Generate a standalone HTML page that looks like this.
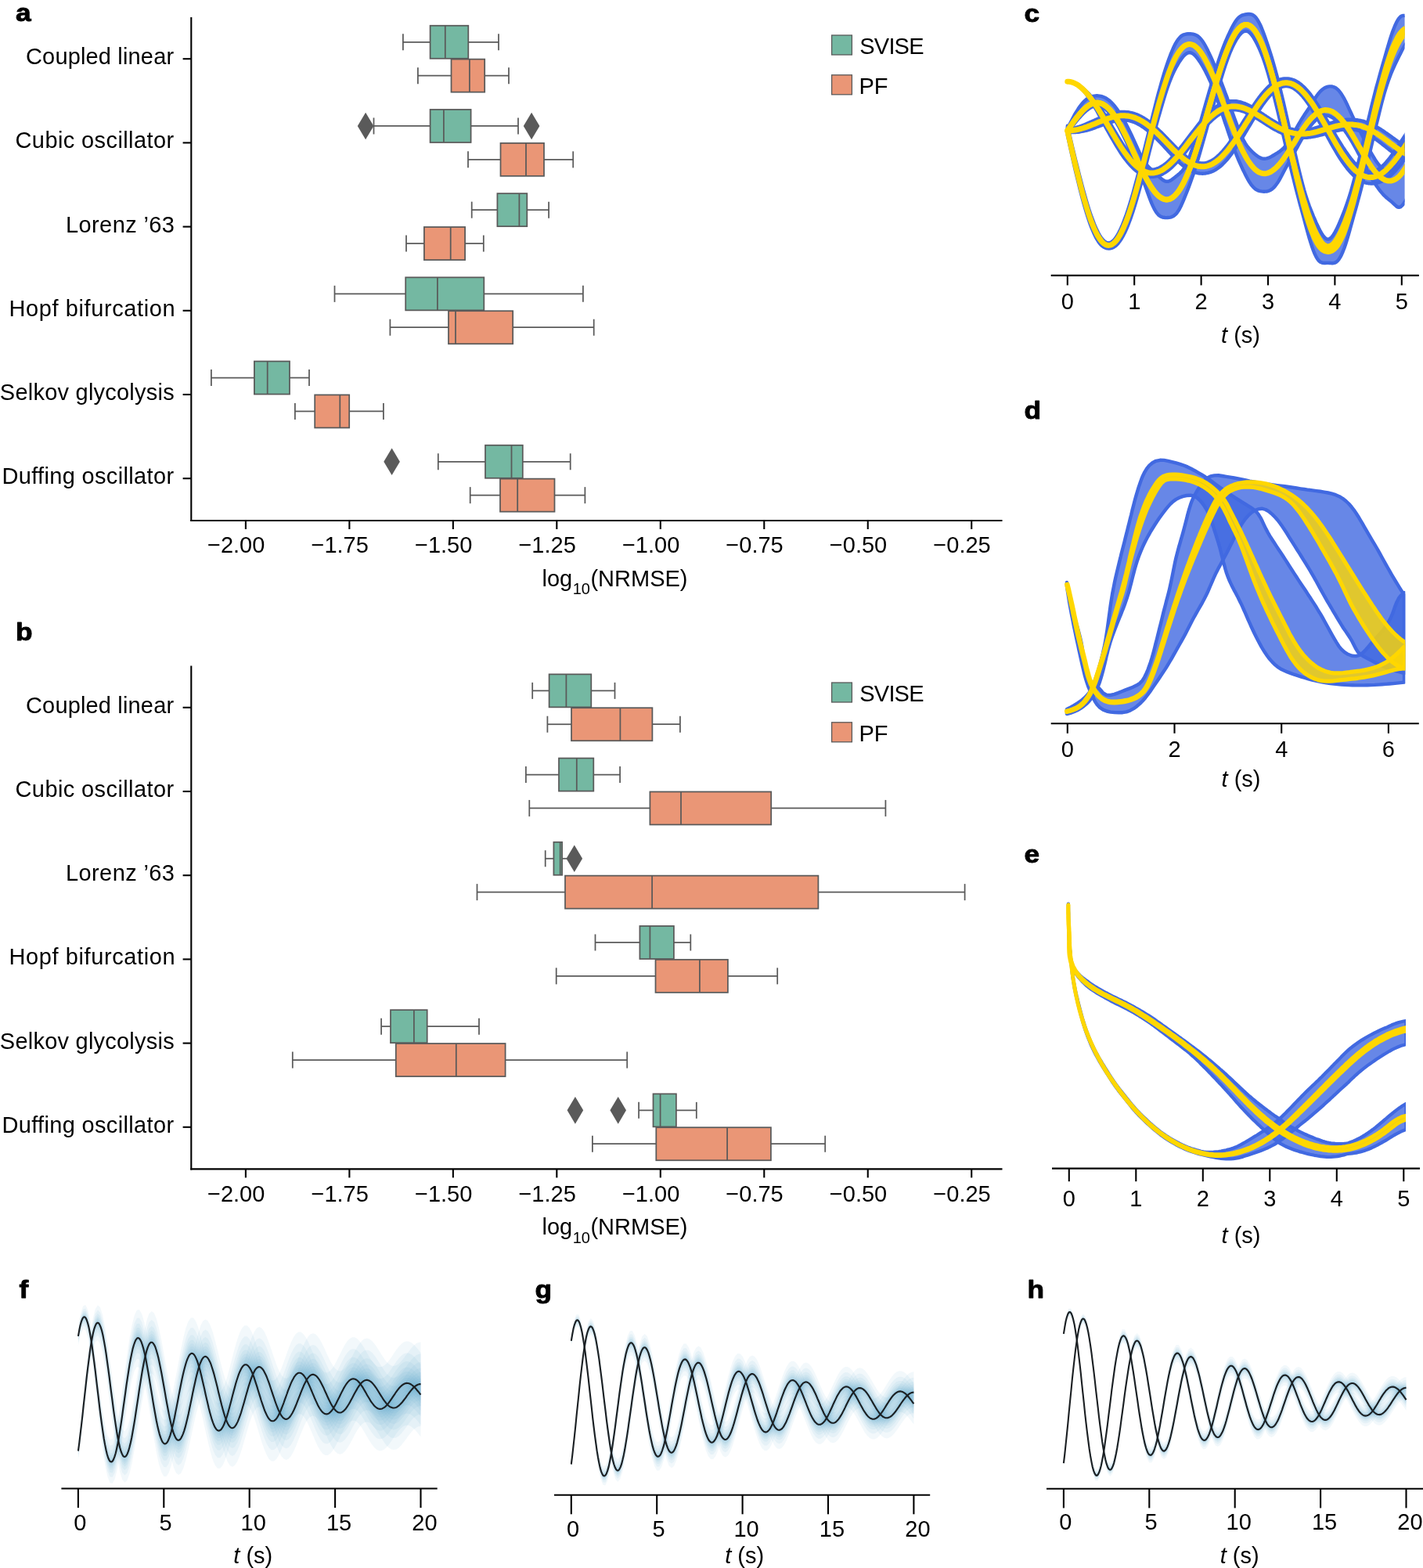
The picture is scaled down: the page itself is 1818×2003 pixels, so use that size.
<!DOCTYPE html>
<html lang="en">
<head>
<meta charset="utf-8">
<title>Figure: SVISE vs PF state estimation benchmarks</title>
<style>
html,body{margin:0;padding:0;background:#fff;}
body{width:1818px;height:2003px;overflow:hidden;}
svg{display:block;}
svg text{font-family:"Liberation Sans", sans-serif;fill:#000;}
</style>
</head>
<body>
<svg width="1818" height="2003" viewBox="0 0 1818 2003">
<rect x="0" y="0" width="1818" height="2003" fill="#ffffff"/>
<g id="panel-a">
<line x1="244.30" y1="22.00" x2="244.30" y2="666.05" stroke="#000" stroke-width="2.1" />
<line x1="243.25" y1="665.00" x2="1280.50" y2="665.00" stroke="#000" stroke-width="2.1" />
<line x1="233.60" y1="75.20" x2="244.30" y2="75.20" stroke="#000" stroke-width="2.1" />
<text x="33.02" y="82.20" font-size="29" letter-spacing="0.158" >Coupled linear</text>
<line x1="233.60" y1="182.40" x2="244.30" y2="182.40" stroke="#000" stroke-width="2.1" />
<text x="19.52" y="189.40" font-size="29" letter-spacing="0.395" >Cubic oscillator</text>
<line x1="233.60" y1="289.60" x2="244.30" y2="289.60" stroke="#000" stroke-width="2.1" />
<text x="84.03" y="296.60" font-size="29" letter-spacing="0.394" >Lorenz ’63</text>
<line x1="233.60" y1="396.80" x2="244.30" y2="396.80" stroke="#000" stroke-width="2.1" />
<text x="11.38" y="403.80" font-size="29" letter-spacing="0.605" >Hopf bifurcation</text>
<line x1="233.60" y1="504.00" x2="244.30" y2="504.00" stroke="#000" stroke-width="2.1" />
<text x="-0.15" y="511.00" font-size="29" letter-spacing="0.225" >Selkov glycolysis</text>
<line x1="233.60" y1="611.20" x2="244.30" y2="611.20" stroke="#000" stroke-width="2.1" />
<text x="2.42" y="618.20" font-size="29" letter-spacing="0.340" >Duffing oscillator</text>
<line x1="313.90" y1="665.00" x2="313.90" y2="676.00" stroke="#000" stroke-width="2.1" />
<text x="301.70" y="706.40" font-size="29" text-anchor="middle" font-weight="normal" font-style="normal" >−2.00</text>
<line x1="446.38" y1="665.00" x2="446.38" y2="676.00" stroke="#000" stroke-width="2.1" />
<text x="434.18" y="706.40" font-size="29" text-anchor="middle" font-weight="normal" font-style="normal" >−1.75</text>
<line x1="578.85" y1="665.00" x2="578.85" y2="676.00" stroke="#000" stroke-width="2.1" />
<text x="566.65" y="706.40" font-size="29" text-anchor="middle" font-weight="normal" font-style="normal" >−1.50</text>
<line x1="711.32" y1="665.00" x2="711.32" y2="676.00" stroke="#000" stroke-width="2.1" />
<text x="699.12" y="706.40" font-size="29" text-anchor="middle" font-weight="normal" font-style="normal" >−1.25</text>
<line x1="843.80" y1="665.00" x2="843.80" y2="676.00" stroke="#000" stroke-width="2.1" />
<text x="831.60" y="706.40" font-size="29" text-anchor="middle" font-weight="normal" font-style="normal" >−1.00</text>
<line x1="976.27" y1="665.00" x2="976.27" y2="676.00" stroke="#000" stroke-width="2.1" />
<text x="964.07" y="706.40" font-size="29" text-anchor="middle" font-weight="normal" font-style="normal" >−0.75</text>
<line x1="1108.75" y1="665.00" x2="1108.75" y2="676.00" stroke="#000" stroke-width="2.1" />
<text x="1096.55" y="706.40" font-size="29" text-anchor="middle" font-weight="normal" font-style="normal" >−0.50</text>
<line x1="1241.22" y1="665.00" x2="1241.22" y2="676.00" stroke="#000" stroke-width="2.1" />
<text x="1229.02" y="706.40" font-size="29" text-anchor="middle" font-weight="normal" font-style="normal" >−0.25</text>
<text x="692.5" y="748.60" font-size="29">log<tspan font-size="20" dy="10.5" dx="0.5">10</tspan><tspan dy="-10.5" dx="0.5">(NRMSE)</tspan></text>
<line x1="514.90" y1="53.76" x2="549.60" y2="53.76" stroke="#5a5a5a" stroke-width="1.75" />
<line x1="598.30" y1="53.76" x2="637.00" y2="53.76" stroke="#5a5a5a" stroke-width="1.75" />
<line x1="514.90" y1="43.25" x2="514.90" y2="64.27" stroke="#5a5a5a" stroke-width="1.75" />
<line x1="637.00" y1="43.25" x2="637.00" y2="64.27" stroke="#5a5a5a" stroke-width="1.75" />
<rect x="549.60" y="32.75" width="48.70" height="42.02" fill="#74b8a2" stroke="#5a5a5a" stroke-width="1.75"/>
<line x1="568.80" y1="32.75" x2="568.80" y2="74.77" stroke="#5a5a5a" stroke-width="1.75" />
<line x1="533.90" y1="96.64" x2="576.50" y2="96.64" stroke="#5a5a5a" stroke-width="1.75" />
<line x1="619.20" y1="96.64" x2="650.00" y2="96.64" stroke="#5a5a5a" stroke-width="1.75" />
<line x1="533.90" y1="86.13" x2="533.90" y2="107.15" stroke="#5a5a5a" stroke-width="1.75" />
<line x1="650.00" y1="86.13" x2="650.00" y2="107.15" stroke="#5a5a5a" stroke-width="1.75" />
<rect x="576.50" y="75.63" width="42.70" height="42.02" fill="#ea9676" stroke="#5a5a5a" stroke-width="1.75"/>
<line x1="599.90" y1="75.63" x2="599.90" y2="117.65" stroke="#5a5a5a" stroke-width="1.75" />
<line x1="477.50" y1="160.96" x2="549.60" y2="160.96" stroke="#5a5a5a" stroke-width="1.75" />
<line x1="601.60" y1="160.96" x2="662.00" y2="160.96" stroke="#5a5a5a" stroke-width="1.75" />
<line x1="477.50" y1="150.45" x2="477.50" y2="171.47" stroke="#5a5a5a" stroke-width="1.75" />
<line x1="662.00" y1="150.45" x2="662.00" y2="171.47" stroke="#5a5a5a" stroke-width="1.75" />
<rect x="549.60" y="139.95" width="52.00" height="42.02" fill="#74b8a2" stroke="#5a5a5a" stroke-width="1.75"/>
<line x1="566.90" y1="139.95" x2="566.90" y2="181.97" stroke="#5a5a5a" stroke-width="1.75" />
<polygon points="456.80,160.96 467.10,143.66 477.40,160.96 467.10,178.26" fill="#5a5a5a"/>
<polygon points="668.80,160.96 679.10,143.66 689.40,160.96 679.10,178.26" fill="#5a5a5a"/>
<line x1="598.00" y1="203.84" x2="639.50" y2="203.84" stroke="#5a5a5a" stroke-width="1.75" />
<line x1="695.00" y1="203.84" x2="732.20" y2="203.84" stroke="#5a5a5a" stroke-width="1.75" />
<line x1="598.00" y1="193.33" x2="598.00" y2="214.35" stroke="#5a5a5a" stroke-width="1.75" />
<line x1="732.20" y1="193.33" x2="732.20" y2="214.35" stroke="#5a5a5a" stroke-width="1.75" />
<rect x="639.50" y="182.83" width="55.50" height="42.02" fill="#ea9676" stroke="#5a5a5a" stroke-width="1.75"/>
<line x1="672.00" y1="182.83" x2="672.00" y2="224.85" stroke="#5a5a5a" stroke-width="1.75" />
<line x1="602.70" y1="268.16" x2="635.40" y2="268.16" stroke="#5a5a5a" stroke-width="1.75" />
<line x1="673.30" y1="268.16" x2="701.10" y2="268.16" stroke="#5a5a5a" stroke-width="1.75" />
<line x1="602.70" y1="257.65" x2="602.70" y2="278.67" stroke="#5a5a5a" stroke-width="1.75" />
<line x1="701.10" y1="257.65" x2="701.10" y2="278.67" stroke="#5a5a5a" stroke-width="1.75" />
<rect x="635.40" y="247.15" width="37.90" height="42.02" fill="#74b8a2" stroke="#5a5a5a" stroke-width="1.75"/>
<line x1="663.40" y1="247.15" x2="663.40" y2="289.17" stroke="#5a5a5a" stroke-width="1.75" />
<line x1="519.00" y1="311.04" x2="541.90" y2="311.04" stroke="#5a5a5a" stroke-width="1.75" />
<line x1="594.10" y1="311.04" x2="617.80" y2="311.04" stroke="#5a5a5a" stroke-width="1.75" />
<line x1="519.00" y1="300.53" x2="519.00" y2="321.55" stroke="#5a5a5a" stroke-width="1.75" />
<line x1="617.80" y1="300.53" x2="617.80" y2="321.55" stroke="#5a5a5a" stroke-width="1.75" />
<rect x="541.90" y="290.03" width="52.20" height="42.02" fill="#ea9676" stroke="#5a5a5a" stroke-width="1.75"/>
<line x1="575.70" y1="290.03" x2="575.70" y2="332.05" stroke="#5a5a5a" stroke-width="1.75" />
<line x1="427.50" y1="375.36" x2="518.20" y2="375.36" stroke="#5a5a5a" stroke-width="1.75" />
<line x1="618.30" y1="375.36" x2="744.90" y2="375.36" stroke="#5a5a5a" stroke-width="1.75" />
<line x1="427.50" y1="364.85" x2="427.50" y2="385.87" stroke="#5a5a5a" stroke-width="1.75" />
<line x1="744.90" y1="364.85" x2="744.90" y2="385.87" stroke="#5a5a5a" stroke-width="1.75" />
<rect x="518.20" y="354.35" width="100.10" height="42.02" fill="#74b8a2" stroke="#5a5a5a" stroke-width="1.75"/>
<line x1="558.90" y1="354.35" x2="558.90" y2="396.37" stroke="#5a5a5a" stroke-width="1.75" />
<line x1="498.40" y1="418.24" x2="573.00" y2="418.24" stroke="#5a5a5a" stroke-width="1.75" />
<line x1="655.20" y1="418.24" x2="758.70" y2="418.24" stroke="#5a5a5a" stroke-width="1.75" />
<line x1="498.40" y1="407.73" x2="498.40" y2="428.75" stroke="#5a5a5a" stroke-width="1.75" />
<line x1="758.70" y1="407.73" x2="758.70" y2="428.75" stroke="#5a5a5a" stroke-width="1.75" />
<rect x="573.00" y="397.23" width="82.20" height="42.02" fill="#ea9676" stroke="#5a5a5a" stroke-width="1.75"/>
<line x1="582.00" y1="397.23" x2="582.00" y2="439.25" stroke="#5a5a5a" stroke-width="1.75" />
<line x1="269.90" y1="482.56" x2="324.90" y2="482.56" stroke="#5a5a5a" stroke-width="1.75" />
<line x1="370.00" y1="482.56" x2="395.00" y2="482.56" stroke="#5a5a5a" stroke-width="1.75" />
<line x1="269.90" y1="472.05" x2="269.90" y2="493.07" stroke="#5a5a5a" stroke-width="1.75" />
<line x1="395.00" y1="472.05" x2="395.00" y2="493.07" stroke="#5a5a5a" stroke-width="1.75" />
<rect x="324.90" y="461.55" width="45.10" height="42.02" fill="#74b8a2" stroke="#5a5a5a" stroke-width="1.75"/>
<line x1="341.70" y1="461.55" x2="341.70" y2="503.57" stroke="#5a5a5a" stroke-width="1.75" />
<line x1="376.90" y1="525.44" x2="402.20" y2="525.44" stroke="#5a5a5a" stroke-width="1.75" />
<line x1="446.20" y1="525.44" x2="489.90" y2="525.44" stroke="#5a5a5a" stroke-width="1.75" />
<line x1="376.90" y1="514.93" x2="376.90" y2="535.95" stroke="#5a5a5a" stroke-width="1.75" />
<line x1="489.90" y1="514.93" x2="489.90" y2="535.95" stroke="#5a5a5a" stroke-width="1.75" />
<rect x="402.20" y="504.43" width="44.00" height="42.02" fill="#ea9676" stroke="#5a5a5a" stroke-width="1.75"/>
<line x1="434.30" y1="504.43" x2="434.30" y2="546.45" stroke="#5a5a5a" stroke-width="1.75" />
<line x1="559.80" y1="589.76" x2="620.00" y2="589.76" stroke="#5a5a5a" stroke-width="1.75" />
<line x1="667.80" y1="589.76" x2="728.70" y2="589.76" stroke="#5a5a5a" stroke-width="1.75" />
<line x1="559.80" y1="579.25" x2="559.80" y2="600.27" stroke="#5a5a5a" stroke-width="1.75" />
<line x1="728.70" y1="579.25" x2="728.70" y2="600.27" stroke="#5a5a5a" stroke-width="1.75" />
<rect x="620.00" y="568.75" width="47.80" height="42.02" fill="#74b8a2" stroke="#5a5a5a" stroke-width="1.75"/>
<line x1="653.50" y1="568.75" x2="653.50" y2="610.77" stroke="#5a5a5a" stroke-width="1.75" />
<polygon points="490.30,589.76 500.60,572.46 510.90,589.76 500.60,607.06" fill="#5a5a5a"/>
<line x1="600.70" y1="632.64" x2="639.00" y2="632.64" stroke="#5a5a5a" stroke-width="1.75" />
<line x1="708.50" y1="632.64" x2="747.40" y2="632.64" stroke="#5a5a5a" stroke-width="1.75" />
<line x1="600.70" y1="622.13" x2="600.70" y2="643.15" stroke="#5a5a5a" stroke-width="1.75" />
<line x1="747.40" y1="622.13" x2="747.40" y2="643.15" stroke="#5a5a5a" stroke-width="1.75" />
<rect x="639.00" y="611.63" width="69.50" height="42.02" fill="#ea9676" stroke="#5a5a5a" stroke-width="1.75"/>
<line x1="661.20" y1="611.63" x2="661.20" y2="653.65" stroke="#5a5a5a" stroke-width="1.75" />
<rect x="1062.6" y="45.00" width="25.8" height="25" fill="#74b8a2" stroke="#5a5a5a" stroke-width="1.3"/>
<text x="1098.35" y="68.60" font-size="29" letter-spacing="-0.825" >SVISE</text>
<rect x="1062.6" y="95.80" width="25.8" height="25" fill="#ea9676" stroke="#5a5a5a" stroke-width="1.3"/>
<text x="1097.50" y="120.20" font-size="29" text-anchor="start" font-weight="normal" font-style="normal" >PF</text>
</g>
<g id="panel-b">
<line x1="244.30" y1="850.50" x2="244.30" y2="1494.45" stroke="#000" stroke-width="2.1" />
<line x1="243.25" y1="1493.40" x2="1280.50" y2="1493.40" stroke="#000" stroke-width="2.1" />
<line x1="233.60" y1="903.80" x2="244.30" y2="903.80" stroke="#000" stroke-width="2.1" />
<text x="33.02" y="910.80" font-size="29" letter-spacing="0.158" >Coupled linear</text>
<line x1="233.60" y1="1011.00" x2="244.30" y2="1011.00" stroke="#000" stroke-width="2.1" />
<text x="19.52" y="1018.00" font-size="29" letter-spacing="0.395" >Cubic oscillator</text>
<line x1="233.60" y1="1118.20" x2="244.30" y2="1118.20" stroke="#000" stroke-width="2.1" />
<text x="84.03" y="1125.20" font-size="29" letter-spacing="0.394" >Lorenz ’63</text>
<line x1="233.60" y1="1225.40" x2="244.30" y2="1225.40" stroke="#000" stroke-width="2.1" />
<text x="11.38" y="1232.40" font-size="29" letter-spacing="0.605" >Hopf bifurcation</text>
<line x1="233.60" y1="1332.60" x2="244.30" y2="1332.60" stroke="#000" stroke-width="2.1" />
<text x="-0.15" y="1339.60" font-size="29" letter-spacing="0.225" >Selkov glycolysis</text>
<line x1="233.60" y1="1439.80" x2="244.30" y2="1439.80" stroke="#000" stroke-width="2.1" />
<text x="2.42" y="1446.80" font-size="29" letter-spacing="0.340" >Duffing oscillator</text>
<line x1="313.90" y1="1493.40" x2="313.90" y2="1504.40" stroke="#000" stroke-width="2.1" />
<text x="301.70" y="1534.80" font-size="29" text-anchor="middle" font-weight="normal" font-style="normal" >−2.00</text>
<line x1="446.38" y1="1493.40" x2="446.38" y2="1504.40" stroke="#000" stroke-width="2.1" />
<text x="434.18" y="1534.80" font-size="29" text-anchor="middle" font-weight="normal" font-style="normal" >−1.75</text>
<line x1="578.85" y1="1493.40" x2="578.85" y2="1504.40" stroke="#000" stroke-width="2.1" />
<text x="566.65" y="1534.80" font-size="29" text-anchor="middle" font-weight="normal" font-style="normal" >−1.50</text>
<line x1="711.32" y1="1493.40" x2="711.32" y2="1504.40" stroke="#000" stroke-width="2.1" />
<text x="699.12" y="1534.80" font-size="29" text-anchor="middle" font-weight="normal" font-style="normal" >−1.25</text>
<line x1="843.80" y1="1493.40" x2="843.80" y2="1504.40" stroke="#000" stroke-width="2.1" />
<text x="831.60" y="1534.80" font-size="29" text-anchor="middle" font-weight="normal" font-style="normal" >−1.00</text>
<line x1="976.27" y1="1493.40" x2="976.27" y2="1504.40" stroke="#000" stroke-width="2.1" />
<text x="964.07" y="1534.80" font-size="29" text-anchor="middle" font-weight="normal" font-style="normal" >−0.75</text>
<line x1="1108.75" y1="1493.40" x2="1108.75" y2="1504.40" stroke="#000" stroke-width="2.1" />
<text x="1096.55" y="1534.80" font-size="29" text-anchor="middle" font-weight="normal" font-style="normal" >−0.50</text>
<line x1="1241.22" y1="1493.40" x2="1241.22" y2="1504.40" stroke="#000" stroke-width="2.1" />
<text x="1229.02" y="1534.80" font-size="29" text-anchor="middle" font-weight="normal" font-style="normal" >−0.25</text>
<text x="692.5" y="1577.00" font-size="29">log<tspan font-size="20" dy="10.5" dx="0.5">10</tspan><tspan dy="-10.5" dx="0.5">(NRMSE)</tspan></text>
<line x1="680.20" y1="882.36" x2="701.60" y2="882.36" stroke="#5a5a5a" stroke-width="1.75" />
<line x1="755.30" y1="882.36" x2="785.50" y2="882.36" stroke="#5a5a5a" stroke-width="1.75" />
<line x1="680.20" y1="871.85" x2="680.20" y2="892.87" stroke="#5a5a5a" stroke-width="1.75" />
<line x1="785.50" y1="871.85" x2="785.50" y2="892.87" stroke="#5a5a5a" stroke-width="1.75" />
<rect x="701.60" y="861.35" width="53.70" height="42.02" fill="#74b8a2" stroke="#5a5a5a" stroke-width="1.75"/>
<line x1="723.40" y1="861.35" x2="723.40" y2="903.37" stroke="#5a5a5a" stroke-width="1.75" />
<line x1="699.40" y1="925.24" x2="730.00" y2="925.24" stroke="#5a5a5a" stroke-width="1.75" />
<line x1="833.40" y1="925.24" x2="868.90" y2="925.24" stroke="#5a5a5a" stroke-width="1.75" />
<line x1="699.40" y1="914.73" x2="699.40" y2="935.75" stroke="#5a5a5a" stroke-width="1.75" />
<line x1="868.90" y1="914.73" x2="868.90" y2="935.75" stroke="#5a5a5a" stroke-width="1.75" />
<rect x="730.00" y="904.23" width="103.40" height="42.02" fill="#ea9676" stroke="#5a5a5a" stroke-width="1.75"/>
<line x1="792.40" y1="904.23" x2="792.40" y2="946.25" stroke="#5a5a5a" stroke-width="1.75" />
<line x1="671.90" y1="989.56" x2="714.00" y2="989.56" stroke="#5a5a5a" stroke-width="1.75" />
<line x1="758.30" y1="989.56" x2="792.10" y2="989.56" stroke="#5a5a5a" stroke-width="1.75" />
<line x1="671.90" y1="979.05" x2="671.90" y2="1000.07" stroke="#5a5a5a" stroke-width="1.75" />
<line x1="792.10" y1="979.05" x2="792.10" y2="1000.07" stroke="#5a5a5a" stroke-width="1.75" />
<rect x="714.00" y="968.55" width="44.30" height="42.02" fill="#74b8a2" stroke="#5a5a5a" stroke-width="1.75"/>
<line x1="736.80" y1="968.55" x2="736.80" y2="1010.57" stroke="#5a5a5a" stroke-width="1.75" />
<line x1="676.30" y1="1032.44" x2="830.40" y2="1032.44" stroke="#5a5a5a" stroke-width="1.75" />
<line x1="985.20" y1="1032.44" x2="1131.40" y2="1032.44" stroke="#5a5a5a" stroke-width="1.75" />
<line x1="676.30" y1="1021.93" x2="676.30" y2="1042.95" stroke="#5a5a5a" stroke-width="1.75" />
<line x1="1131.40" y1="1021.93" x2="1131.40" y2="1042.95" stroke="#5a5a5a" stroke-width="1.75" />
<rect x="830.40" y="1011.43" width="154.80" height="42.02" fill="#ea9676" stroke="#5a5a5a" stroke-width="1.75"/>
<line x1="870.00" y1="1011.43" x2="870.00" y2="1053.45" stroke="#5a5a5a" stroke-width="1.75" />
<line x1="696.70" y1="1096.76" x2="707.40" y2="1096.76" stroke="#5a5a5a" stroke-width="1.75" />
<line x1="718.10" y1="1096.76" x2="731.00" y2="1096.76" stroke="#5a5a5a" stroke-width="1.75" />
<line x1="696.70" y1="1086.25" x2="696.70" y2="1107.27" stroke="#5a5a5a" stroke-width="1.75" />
<line x1="731.00" y1="1086.25" x2="731.00" y2="1107.27" stroke="#5a5a5a" stroke-width="1.75" />
<rect x="707.40" y="1075.75" width="10.70" height="42.02" fill="#74b8a2" stroke="#5a5a5a" stroke-width="1.75"/>
<line x1="715.70" y1="1075.75" x2="715.70" y2="1117.77" stroke="#5a5a5a" stroke-width="1.75" />
<polygon points="723.50,1096.76 733.80,1079.46 744.10,1096.76 733.80,1114.06" fill="#5a5a5a"/>
<line x1="609.50" y1="1139.64" x2="722.00" y2="1139.64" stroke="#5a5a5a" stroke-width="1.75" />
<line x1="1045.40" y1="1139.64" x2="1232.60" y2="1139.64" stroke="#5a5a5a" stroke-width="1.75" />
<line x1="609.50" y1="1129.13" x2="609.50" y2="1150.15" stroke="#5a5a5a" stroke-width="1.75" />
<line x1="1232.60" y1="1129.13" x2="1232.60" y2="1150.15" stroke="#5a5a5a" stroke-width="1.75" />
<rect x="722.00" y="1118.63" width="323.40" height="42.02" fill="#ea9676" stroke="#5a5a5a" stroke-width="1.75"/>
<line x1="833.10" y1="1118.63" x2="833.10" y2="1160.65" stroke="#5a5a5a" stroke-width="1.75" />
<line x1="760.50" y1="1203.96" x2="817.40" y2="1203.96" stroke="#5a5a5a" stroke-width="1.75" />
<line x1="860.90" y1="1203.96" x2="882.30" y2="1203.96" stroke="#5a5a5a" stroke-width="1.75" />
<line x1="760.50" y1="1193.45" x2="760.50" y2="1214.47" stroke="#5a5a5a" stroke-width="1.75" />
<line x1="882.30" y1="1193.45" x2="882.30" y2="1214.47" stroke="#5a5a5a" stroke-width="1.75" />
<rect x="817.40" y="1182.95" width="43.50" height="42.02" fill="#74b8a2" stroke="#5a5a5a" stroke-width="1.75"/>
<line x1="830.40" y1="1182.95" x2="830.40" y2="1224.97" stroke="#5a5a5a" stroke-width="1.75" />
<line x1="710.70" y1="1246.84" x2="837.50" y2="1246.84" stroke="#5a5a5a" stroke-width="1.75" />
<line x1="929.90" y1="1246.84" x2="993.20" y2="1246.84" stroke="#5a5a5a" stroke-width="1.75" />
<line x1="710.70" y1="1236.33" x2="710.70" y2="1257.35" stroke="#5a5a5a" stroke-width="1.75" />
<line x1="993.20" y1="1236.33" x2="993.20" y2="1257.35" stroke="#5a5a5a" stroke-width="1.75" />
<rect x="837.50" y="1225.83" width="92.40" height="42.02" fill="#ea9676" stroke="#5a5a5a" stroke-width="1.75"/>
<line x1="893.90" y1="1225.83" x2="893.90" y2="1267.85" stroke="#5a5a5a" stroke-width="1.75" />
<line x1="487.10" y1="1311.16" x2="499.00" y2="1311.16" stroke="#5a5a5a" stroke-width="1.75" />
<line x1="545.70" y1="1311.16" x2="612.00" y2="1311.16" stroke="#5a5a5a" stroke-width="1.75" />
<line x1="487.10" y1="1300.65" x2="487.10" y2="1321.67" stroke="#5a5a5a" stroke-width="1.75" />
<line x1="612.00" y1="1300.65" x2="612.00" y2="1321.67" stroke="#5a5a5a" stroke-width="1.75" />
<rect x="499.00" y="1290.15" width="46.70" height="42.02" fill="#74b8a2" stroke="#5a5a5a" stroke-width="1.75"/>
<line x1="528.90" y1="1290.15" x2="528.90" y2="1332.17" stroke="#5a5a5a" stroke-width="1.75" />
<line x1="373.80" y1="1354.04" x2="505.80" y2="1354.04" stroke="#5a5a5a" stroke-width="1.75" />
<line x1="645.60" y1="1354.04" x2="801.20" y2="1354.04" stroke="#5a5a5a" stroke-width="1.75" />
<line x1="373.80" y1="1343.53" x2="373.80" y2="1364.55" stroke="#5a5a5a" stroke-width="1.75" />
<line x1="801.20" y1="1343.53" x2="801.20" y2="1364.55" stroke="#5a5a5a" stroke-width="1.75" />
<rect x="505.80" y="1333.03" width="139.80" height="42.02" fill="#ea9676" stroke="#5a5a5a" stroke-width="1.75"/>
<line x1="582.80" y1="1333.03" x2="582.80" y2="1375.05" stroke="#5a5a5a" stroke-width="1.75" />
<line x1="816.10" y1="1418.36" x2="834.50" y2="1418.36" stroke="#5a5a5a" stroke-width="1.75" />
<line x1="863.90" y1="1418.36" x2="889.80" y2="1418.36" stroke="#5a5a5a" stroke-width="1.75" />
<line x1="816.10" y1="1407.85" x2="816.10" y2="1428.87" stroke="#5a5a5a" stroke-width="1.75" />
<line x1="889.80" y1="1407.85" x2="889.80" y2="1428.87" stroke="#5a5a5a" stroke-width="1.75" />
<rect x="834.50" y="1397.35" width="29.40" height="42.02" fill="#74b8a2" stroke="#5a5a5a" stroke-width="1.75"/>
<line x1="843.60" y1="1397.35" x2="843.60" y2="1439.37" stroke="#5a5a5a" stroke-width="1.75" />
<polygon points="724.60,1418.36 734.90,1401.06 745.20,1418.36 734.90,1435.66" fill="#5a5a5a"/>
<polygon points="779.40,1418.36 789.70,1401.06 800.00,1418.36 789.70,1435.66" fill="#5a5a5a"/>
<line x1="756.90" y1="1461.24" x2="838.30" y2="1461.24" stroke="#5a5a5a" stroke-width="1.75" />
<line x1="984.90" y1="1461.24" x2="1054.20" y2="1461.24" stroke="#5a5a5a" stroke-width="1.75" />
<line x1="756.90" y1="1450.73" x2="756.90" y2="1471.75" stroke="#5a5a5a" stroke-width="1.75" />
<line x1="1054.20" y1="1450.73" x2="1054.20" y2="1471.75" stroke="#5a5a5a" stroke-width="1.75" />
<rect x="838.30" y="1440.23" width="146.60" height="42.02" fill="#ea9676" stroke="#5a5a5a" stroke-width="1.75"/>
<line x1="929.10" y1="1440.23" x2="929.10" y2="1482.25" stroke="#5a5a5a" stroke-width="1.75" />
<rect x="1062.6" y="872.00" width="25.8" height="25" fill="#74b8a2" stroke="#5a5a5a" stroke-width="1.3"/>
<text x="1098.35" y="895.60" font-size="29" letter-spacing="-0.825" >SVISE</text>
<rect x="1062.6" y="922.80" width="25.8" height="25" fill="#ea9676" stroke="#5a5a5a" stroke-width="1.3"/>
<text x="1097.50" y="947.20" font-size="29" text-anchor="start" font-weight="normal" font-style="normal" >PF</text>
</g>
<text transform="translate(20.10,27.40) scale(1.12,1)" font-size="31.5" font-weight="bold" stroke="#000" stroke-width="0.9" stroke-linejoin="round">a</text>
<text transform="translate(20.10,817.90) scale(1.12,1)" font-size="31.5" font-weight="bold" stroke="#000" stroke-width="0.9" stroke-linejoin="round">b</text>
<text transform="translate(1308.60,27.90) scale(1.12,1)" font-size="31.5" font-weight="bold" stroke="#000" stroke-width="0.9" stroke-linejoin="round">c</text>
<text transform="translate(1308.60,535.40) scale(1.12,1)" font-size="31.5" font-weight="bold" stroke="#000" stroke-width="0.9" stroke-linejoin="round">d</text>
<text transform="translate(1308.60,1101.90) scale(1.12,1)" font-size="31.5" font-weight="bold" stroke="#000" stroke-width="0.9" stroke-linejoin="round">e</text>
<text transform="translate(24.60,1658.40) scale(1.12,1)" font-size="31.5" font-weight="bold" stroke="#000" stroke-width="0.9" stroke-linejoin="round">f</text>
<text transform="translate(683.60,1658.40) scale(1.12,1)" font-size="31.5" font-weight="bold" stroke="#000" stroke-width="0.9" stroke-linejoin="round">g</text>
<text transform="translate(1312.60,1658.40) scale(1.12,1)" font-size="31.5" font-weight="bold" stroke="#000" stroke-width="0.9" stroke-linejoin="round">h</text>
<g id="panel-c">
<clipPath id="clipc"><rect x="1340" y="0" width="454.6" height="350"/></clipPath>
<g clip-path="url(#clipc)">
<path d="M1368.9,104.4 1370.6,104.9 1372.3,105.5 1374.0,106.3 1375.8,107.3 1377.5,108.3 1379.2,109.5 1380.9,110.7 1382.6,112.1 1384.3,113.4 1386.0,114.9 1387.7,116.5 1389.4,118.1 1391.1,119.8 1392.8,121.7 1394.5,123.5 1396.3,125.5 1398.0,127.6 1399.7,129.7 1401.4,131.8 1403.1,134.1 1404.8,136.4 1406.5,138.8 1408.2,141.3 1409.9,143.9 1411.6,146.5 1413.3,149.2 1415.0,152.0 1416.7,154.9 1418.5,157.7 1420.2,160.6 1421.9,163.5 1423.6,166.4 1425.3,169.2 1427.0,172.1 1428.7,174.9 1430.4,177.7 1432.1,180.4 1433.8,183.1 1435.5,185.7 1437.2,188.3 1439.0,190.8 1440.7,193.2 1442.4,195.5 1444.1,197.7 1445.8,199.9 1447.5,201.9 1449.2,203.8 1450.9,205.6 1452.6,207.3 1454.3,208.9 1456.0,210.3 1457.7,211.6 1459.4,212.8 1461.2,213.8 1462.9,214.7 1464.6,215.4 1466.3,215.9 1468.0,216.3 1469.7,216.6 1471.4,216.6 1473.1,216.6 1474.8,216.3 1476.5,216.0 1478.2,215.4 1479.9,214.8 1481.7,214.0 1483.4,213.0 1485.1,212.0 1486.8,210.8 1488.5,209.5 1490.2,208.1 1491.9,206.6 1493.6,205.0 1495.3,203.3 1497.0,201.5 1498.7,199.7 1500.4,197.8 1502.1,195.8 1503.9,193.8 1505.6,191.7 1507.3,189.6 1509.0,187.4 1510.7,185.3 1512.4,183.1 1514.1,180.9 1515.8,178.6 1517.5,176.4 1519.2,174.2 1520.9,171.9 1522.6,169.7 1524.4,167.5 1526.1,165.2 1527.8,163.0 1529.5,160.8 1531.2,158.7 1532.9,156.6 1534.6,154.5 1536.3,152.5 1538.0,150.6 1539.7,148.7 1541.4,146.9 1543.1,145.2 1544.8,143.5 1546.6,141.9 1548.3,140.4 1550.0,139.1 1551.7,137.7 1553.4,136.5 1555.1,135.4 1556.8,134.4 1558.5,133.5 1560.2,132.6 1561.9,131.9 1563.6,131.2 1565.3,130.6 1567.1,130.2 1568.8,129.8 1570.5,129.5 1572.2,129.3 1573.9,129.1 1575.6,129.1 1577.3,129.1 1579.0,129.3 1580.7,129.5 1582.4,129.8 1584.1,130.2 1585.8,130.6 1587.5,131.2 1589.3,131.8 1591.0,132.4 1592.7,133.2 1594.4,134.0 1596.1,134.9 1597.8,135.8 1599.5,136.8 1601.2,137.8 1602.9,138.8 1604.6,139.9 1606.3,141.0 1608.0,142.2 1609.8,143.3 1611.5,144.5 1613.2,145.6 1614.9,146.8 1616.6,147.9 1618.3,149.1 1620.0,150.2 1621.7,151.3 1623.4,152.4 1625.1,153.4 1626.8,154.5 1628.5,155.5 1630.2,156.5 1632.0,157.4 1633.7,158.4 1635.4,159.2 1637.1,160.1 1638.8,160.9 1640.5,161.6 1642.2,162.3 1643.9,163.0 1645.6,163.6 1647.3,164.1 1649.0,164.6 1650.7,165.0 1652.5,165.4 1654.2,165.7 1655.9,165.9 1657.6,166.1 1659.3,166.3 1661.0,166.3 1662.7,166.3 1664.4,166.3 1666.1,166.2 1667.8,166.1 1669.5,165.8 1671.2,165.6 1672.9,165.3 1674.7,165.0 1676.4,164.6 1678.1,164.2 1679.8,163.7 1681.5,163.2 1683.2,162.7 1684.9,162.2 1686.6,161.7 1688.3,161.1 1690.0,160.5 1691.7,160.0 1693.4,159.4 1695.2,158.8 1696.9,158.3 1698.6,157.7 1700.3,157.2 1702.0,156.6 1703.7,156.1 1705.4,155.7 1707.1,155.2 1708.8,154.8 1710.5,154.4 1712.2,154.0 1713.9,153.7 1715.6,153.4 1717.4,153.2 1719.1,153.0 1720.8,152.8 1722.5,152.7 1724.2,152.7 1725.9,152.6 1727.6,152.7 1729.3,152.8 1731.0,152.9 1732.7,153.1 1734.4,153.3 1736.1,153.6 1737.9,153.9 1739.6,154.3 1741.3,154.7 1743.0,155.2 1744.7,155.8 1746.4,156.4 1748.1,157.0 1749.8,157.7 1751.5,158.4 1753.2,159.2 1754.9,160.1 1756.6,161.0 1758.3,161.9 1760.1,162.9 1761.8,163.9 1763.5,164.9 1765.2,166.0 1766.9,167.1 1768.6,168.3 1770.3,169.5 1772.0,170.6 1773.7,171.9 1775.4,173.1 1777.1,174.3 1778.8,175.6 1780.6,176.8 1782.3,178.1 1784.0,179.3 1785.7,180.6 1787.4,181.8 1789.1,183.0 1790.8,184.2 1792.5,185.3 1794.2,186.4 1795.9,187.5 1797.6,188.5 1799.3,189.4 1799.3,207.0 1797.6,206.2 1795.9,205.4 1794.2,204.5 1792.5,203.5 1790.8,202.6 1789.1,201.5 1787.4,200.4 1785.7,199.3 1784.0,198.1 1782.3,196.9 1780.6,195.6 1778.8,194.3 1777.1,193.0 1775.4,191.7 1773.7,190.3 1772.0,189.0 1770.3,187.6 1768.6,186.3 1766.9,185.0 1765.2,183.6 1763.5,182.3 1761.8,181.0 1760.1,179.8 1758.3,178.5 1756.6,177.4 1754.9,176.2 1753.2,175.1 1751.5,174.0 1749.8,173.0 1748.1,172.0 1746.4,171.1 1744.7,170.3 1743.0,169.5 1741.3,168.8 1739.6,168.1 1737.9,167.5 1736.1,167.0 1734.4,166.5 1732.7,166.1 1731.0,165.8 1729.3,165.6 1727.6,165.4 1725.9,165.2 1724.2,165.2 1722.5,165.2 1720.8,165.2 1719.1,165.3 1717.4,165.4 1715.6,165.6 1713.9,165.9 1712.2,166.2 1710.5,166.5 1708.8,166.8 1707.1,167.2 1705.4,167.6 1703.7,168.1 1702.0,168.5 1700.3,169.0 1698.6,169.5 1696.9,169.9 1695.2,170.4 1693.4,170.9 1691.7,171.4 1690.0,171.8 1688.3,172.3 1686.6,172.7 1684.9,173.2 1683.2,173.6 1681.5,173.9 1679.8,174.3 1678.1,174.6 1676.4,174.9 1674.7,175.2 1672.9,175.4 1671.2,175.6 1669.5,175.8 1667.8,175.9 1666.1,175.9 1664.4,176.0 1662.7,176.0 1661.0,175.9 1659.3,175.8 1657.6,175.6 1655.9,175.4 1654.2,175.2 1652.5,174.8 1650.7,174.5 1649.0,174.1 1647.3,173.6 1645.6,173.1 1643.9,172.5 1642.2,171.9 1640.5,171.3 1638.8,170.6 1637.1,169.8 1635.4,169.0 1633.7,168.2 1632.0,167.3 1630.2,166.4 1628.5,165.5 1626.8,164.5 1625.1,163.5 1623.4,162.5 1621.7,161.4 1620.0,160.4 1618.3,159.3 1616.6,158.2 1614.9,157.1 1613.2,156.0 1611.5,154.9 1609.8,153.8 1608.0,152.7 1606.3,151.7 1604.6,150.6 1602.9,149.6 1601.2,148.6 1599.5,147.6 1597.8,146.7 1596.1,145.8 1594.4,145.0 1592.7,144.2 1591.0,143.4 1589.3,142.8 1587.5,142.2 1585.8,141.6 1584.1,141.2 1582.4,140.8 1580.7,140.5 1579.0,140.3 1577.3,140.2 1575.6,140.2 1573.9,140.3 1572.2,140.5 1570.5,140.8 1568.8,141.2 1567.1,141.6 1565.3,142.2 1563.6,142.9 1561.9,143.8 1560.2,144.7 1558.5,145.7 1556.8,146.8 1555.1,148.0 1553.4,149.3 1551.7,150.7 1550.0,152.1 1548.3,153.7 1546.6,155.3 1544.8,157.0 1543.1,158.8 1541.4,160.6 1539.7,162.5 1538.0,164.5 1536.3,166.5 1534.6,168.6 1532.9,170.7 1531.2,172.8 1529.5,175.0 1527.8,177.2 1526.1,179.4 1524.4,181.6 1522.6,183.8 1520.9,186.0 1519.2,188.2 1517.5,190.4 1515.8,192.6 1514.1,194.8 1512.4,196.9 1510.7,199.0 1509.0,201.0 1507.3,203.1 1505.6,205.0 1503.9,206.9 1502.1,208.7 1500.4,210.5 1498.7,212.2 1497.0,213.8 1495.3,215.3 1493.6,216.7 1491.9,218.1 1490.2,219.3 1488.5,220.4 1486.8,221.4 1485.1,222.4 1483.4,223.2 1481.7,223.9 1479.9,224.5 1478.2,225.0 1476.5,225.3 1474.8,225.6 1473.1,225.8 1471.4,225.8 1469.7,225.8 1468.0,225.6 1466.3,225.3 1464.6,225.0 1462.9,224.5 1461.2,223.9 1459.4,223.1 1457.7,222.3 1456.0,221.3 1454.3,220.2 1452.6,219.0 1450.9,217.7 1449.2,216.3 1447.5,214.7 1445.8,213.0 1444.1,211.2 1442.4,209.3 1440.7,207.3 1439.0,205.2 1437.2,202.9 1435.5,200.6 1433.8,198.2 1432.1,195.7 1430.4,193.1 1428.7,190.4 1427.0,187.6 1425.3,184.8 1423.6,181.9 1421.9,179.0 1420.2,176.1 1418.5,173.1 1416.7,170.0 1415.0,167.0 1413.3,163.9 1411.6,160.7 1409.9,157.6 1408.2,154.4 1406.5,151.2 1404.8,148.1 1403.1,144.9 1401.4,141.8 1399.7,138.8 1398.0,135.8 1396.3,133.0 1394.5,130.2 1392.8,127.5 1391.1,124.9 1389.4,122.5 1387.7,120.2 1386.0,118.0 1384.3,115.9 1382.6,114.1 1380.9,112.4 1379.2,110.9 1377.5,109.6 1375.8,108.4 1374.0,107.5 1372.3,106.6 1370.6,105.9 1368.9,105.4Z" fill="#4169e1" fill-opacity="0.8" stroke="#4169e1" stroke-opacity="1.0" stroke-width="4.4" stroke-linejoin="round"/>
<path d="M1363.8,165.0 1365.5,164.8 1367.2,164.6 1368.9,164.4 1370.6,164.0 1372.3,163.6 1374.0,163.2 1375.8,162.7 1377.5,162.2 1379.2,161.6 1380.9,161.0 1382.6,160.4 1384.3,159.7 1386.0,159.0 1387.7,158.3 1389.4,157.5 1391.1,156.8 1392.8,156.0 1394.5,155.3 1396.3,154.5 1398.0,153.8 1399.7,153.0 1401.4,152.2 1403.1,151.5 1404.8,150.8 1406.5,150.0 1408.2,149.3 1409.9,148.6 1411.6,148.0 1413.3,147.3 1415.0,146.7 1416.7,146.1 1418.5,145.6 1420.2,145.1 1421.9,144.6 1423.6,144.2 1425.3,143.9 1427.0,143.6 1428.7,143.3 1430.4,143.1 1432.1,143.0 1433.8,142.9 1435.5,142.9 1437.2,143.0 1439.0,143.1 1440.7,143.2 1442.4,143.5 1444.1,143.8 1445.8,144.2 1447.5,144.6 1449.2,145.1 1450.9,145.7 1452.6,146.4 1454.3,147.1 1456.0,147.9 1457.7,148.8 1459.4,149.7 1461.2,150.7 1462.9,151.8 1464.6,152.9 1466.3,154.1 1468.0,155.3 1469.7,156.7 1471.4,158.0 1473.1,159.5 1474.8,160.9 1476.5,162.5 1478.2,164.0 1479.9,165.6 1481.7,167.3 1483.4,168.9 1485.1,170.6 1486.8,172.3 1488.5,174.1 1490.2,175.8 1491.9,177.6 1493.6,179.4 1495.3,181.1 1497.0,182.9 1498.7,184.6 1500.4,186.4 1502.1,188.1 1503.9,189.8 1505.6,191.4 1507.3,193.0 1509.0,194.6 1510.7,196.1 1512.4,197.6 1514.1,198.9 1515.8,200.3 1517.5,201.5 1519.2,202.7 1520.9,203.7 1522.6,204.7 1524.4,205.6 1526.1,206.4 1527.8,207.0 1529.5,207.6 1531.2,208.0 1532.9,208.3 1534.6,208.5 1536.3,208.5 1538.0,208.4 1539.7,208.2 1541.4,207.8 1543.1,207.3 1544.8,206.6 1546.6,205.9 1548.3,204.9 1550.0,203.9 1551.7,202.7 1553.4,201.4 1555.1,200.0 1556.8,198.5 1558.5,196.8 1560.2,195.0 1561.9,193.2 1563.6,191.2 1565.3,189.2 1567.1,187.0 1568.8,184.8 1570.5,182.5 1572.2,180.1 1573.9,177.7 1575.6,175.2 1577.3,172.6 1579.0,170.0 1580.7,167.4 1582.4,164.7 1584.1,162.0 1585.8,159.3 1587.5,156.6 1589.3,153.8 1591.0,151.1 1592.7,148.4 1594.4,145.6 1596.1,142.9 1597.8,140.2 1599.5,137.6 1601.2,135.0 1602.9,132.4 1604.6,129.9 1606.3,127.5 1608.0,125.2 1609.8,122.9 1611.5,120.7 1613.2,118.6 1614.9,116.6 1616.6,114.7 1618.3,112.9 1620.0,111.2 1621.7,109.6 1623.4,108.2 1625.1,106.9 1626.8,105.7 1628.5,104.6 1630.2,103.6 1632.0,102.8 1633.7,102.1 1635.4,101.5 1637.1,101.1 1638.8,100.7 1640.5,100.5 1642.2,100.4 1643.9,100.4 1645.6,100.5 1647.3,100.7 1649.0,101.1 1650.7,101.5 1652.5,102.1 1654.2,102.8 1655.9,103.7 1657.6,104.6 1659.3,105.7 1661.0,107.0 1662.7,108.3 1664.4,109.8 1666.1,111.4 1667.8,113.1 1669.5,115.0 1671.2,116.9 1672.9,119.0 1674.7,121.2 1676.4,123.5 1678.1,125.9 1679.8,128.3 1681.5,130.9 1683.2,133.5 1684.9,136.2 1686.6,139.0 1688.3,141.8 1690.0,144.7 1691.7,147.6 1693.4,150.5 1695.2,153.4 1696.9,156.4 1698.6,159.3 1700.3,162.3 1702.0,165.2 1703.7,168.1 1705.4,171.1 1707.1,174.0 1708.8,176.8 1710.5,179.7 1712.2,182.4 1713.9,185.2 1715.6,187.9 1717.4,190.5 1719.1,193.1 1720.8,195.6 1722.5,198.0 1724.2,200.3 1725.9,202.6 1727.6,204.7 1729.3,206.7 1731.0,208.6 1732.7,210.4 1734.4,212.0 1736.1,213.5 1737.9,214.9 1739.6,216.1 1741.3,217.1 1743.0,218.0 1744.7,218.7 1746.4,219.2 1748.1,219.6 1749.8,219.7 1751.5,219.7 1753.2,219.5 1754.9,219.0 1756.6,218.5 1758.3,217.7 1760.1,216.7 1761.8,215.6 1763.5,214.4 1765.2,212.9 1766.9,211.4 1768.6,209.7 1770.3,207.9 1772.0,205.9 1773.7,203.9 1775.4,201.8 1777.1,199.5 1778.8,197.2 1780.6,194.8 1782.3,192.4 1784.0,189.9 1785.7,187.3 1787.4,184.7 1789.1,182.1 1790.8,179.5 1792.5,176.8 1794.2,174.2 1795.9,171.6 1797.6,168.9 1799.3,166.3 1799.3,196.3 1797.6,198.8 1795.9,201.3 1794.2,203.7 1792.5,206.1 1790.8,208.4 1789.1,210.6 1787.4,212.8 1785.7,214.9 1784.0,216.8 1782.3,218.7 1780.6,220.5 1778.8,222.2 1777.1,223.8 1775.4,225.2 1773.7,226.6 1772.0,227.8 1770.3,229.0 1768.6,230.0 1766.9,230.9 1765.2,231.7 1763.5,232.4 1761.8,233.0 1760.1,233.5 1758.3,233.9 1756.6,234.2 1754.9,234.4 1753.2,234.5 1751.5,234.5 1749.8,234.4 1748.1,234.2 1746.4,233.9 1744.7,233.5 1743.0,233.0 1741.3,232.3 1739.6,231.6 1737.9,230.7 1736.1,229.6 1734.4,228.5 1732.7,227.2 1731.0,225.7 1729.3,224.2 1727.6,222.5 1725.9,220.8 1724.2,218.9 1722.5,216.9 1720.8,214.8 1719.1,212.5 1717.4,210.2 1715.6,207.8 1713.9,205.3 1712.2,202.7 1710.5,200.0 1708.8,197.3 1707.1,194.4 1705.4,191.5 1703.7,188.6 1702.0,185.6 1700.3,182.6 1698.6,179.5 1696.9,176.4 1695.2,173.3 1693.4,170.2 1691.7,167.1 1690.0,163.9 1688.3,160.9 1686.6,157.8 1684.9,154.7 1683.2,151.7 1681.5,148.8 1679.8,145.9 1678.1,143.0 1676.4,140.3 1674.7,137.6 1672.9,135.0 1671.2,132.4 1669.5,130.0 1667.8,127.7 1666.1,125.5 1664.4,123.4 1662.7,121.5 1661.0,119.7 1659.3,118.0 1657.6,116.5 1655.9,115.1 1654.2,113.9 1652.5,112.8 1650.7,111.9 1649.0,111.2 1647.3,110.7 1645.6,110.3 1643.9,110.1 1642.2,110.1 1640.5,110.3 1638.8,110.6 1637.1,111.1 1635.4,111.9 1633.7,112.7 1632.0,113.8 1630.2,114.9 1628.5,116.3 1626.8,117.8 1625.1,119.4 1623.4,121.1 1621.7,123.0 1620.0,125.0 1618.3,127.1 1616.6,129.3 1614.9,131.6 1613.2,134.0 1611.5,136.5 1609.8,139.1 1608.0,141.7 1606.3,144.4 1604.6,147.1 1602.9,149.8 1601.2,152.6 1599.5,155.5 1597.8,158.3 1596.1,161.1 1594.4,164.0 1592.7,166.8 1591.0,169.7 1589.3,172.5 1587.5,175.2 1585.8,178.0 1584.1,180.7 1582.4,183.3 1580.7,186.0 1579.0,188.6 1577.3,191.1 1575.6,193.5 1573.9,195.9 1572.2,198.2 1570.5,200.4 1568.8,202.5 1567.1,204.6 1565.3,206.5 1563.6,208.3 1561.9,210.0 1560.2,211.5 1558.5,213.0 1556.8,214.3 1555.1,215.5 1553.4,216.6 1551.7,217.6 1550.0,218.5 1548.3,219.3 1546.6,219.9 1544.8,220.4 1543.1,220.9 1541.4,221.2 1539.7,221.5 1538.0,221.6 1536.3,221.7 1534.6,221.6 1532.9,221.5 1531.2,221.3 1529.5,220.9 1527.8,220.5 1526.1,220.0 1524.4,219.4 1522.6,218.7 1520.9,217.9 1519.2,217.0 1517.5,216.0 1515.8,214.9 1514.1,213.7 1512.4,212.4 1510.7,211.0 1509.0,209.6 1507.3,208.1 1505.6,206.5 1503.9,204.9 1502.1,203.2 1500.4,201.5 1498.7,199.7 1497.0,197.9 1495.3,196.1 1493.6,194.2 1491.9,192.4 1490.2,190.5 1488.5,188.7 1486.8,186.8 1485.1,185.0 1483.4,183.2 1481.7,181.5 1479.9,179.7 1478.2,178.0 1476.5,176.3 1474.8,174.6 1473.1,173.0 1471.4,171.4 1469.7,169.9 1468.0,168.4 1466.3,166.9 1464.6,165.5 1462.9,164.2 1461.2,163.0 1459.4,161.8 1457.7,160.7 1456.0,159.6 1454.3,158.7 1452.6,157.8 1450.9,157.0 1449.2,156.3 1447.5,155.6 1445.8,155.1 1444.1,154.6 1442.4,154.2 1440.7,153.9 1439.0,153.7 1437.2,153.6 1435.5,153.5 1433.8,153.5 1432.1,153.6 1430.4,153.8 1428.7,154.0 1427.0,154.2 1425.3,154.5 1423.6,154.9 1421.9,155.3 1420.2,155.8 1418.5,156.3 1416.7,156.8 1415.0,157.3 1413.3,157.9 1411.6,158.5 1409.9,159.1 1408.2,159.7 1406.5,160.4 1404.8,161.0 1403.1,161.7 1401.4,162.3 1399.7,162.9 1398.0,163.6 1396.3,164.2 1394.5,164.8 1392.8,165.3 1391.1,165.8 1389.4,166.3 1387.7,166.8 1386.0,167.2 1384.3,167.6 1382.6,167.9 1380.9,168.2 1379.2,168.5 1377.5,168.7 1375.8,168.9 1374.0,169.0 1372.3,169.1 1370.6,169.1 1368.9,169.1 1367.2,169.0 1365.5,168.9 1363.8,168.8Z" fill="#4169e1" fill-opacity="0.8" stroke="#4169e1" stroke-opacity="1.0" stroke-width="4.4" stroke-linejoin="round"/>
<path d="M1363.8,160.8 1365.5,168.1 1367.2,175.3 1368.9,182.5 1370.6,189.7 1372.3,196.7 1374.0,203.8 1375.8,210.7 1377.5,217.5 1379.2,224.3 1380.9,230.8 1382.6,237.3 1384.3,243.6 1386.0,249.7 1387.7,255.6 1389.4,261.3 1391.1,266.8 1392.8,272.0 1394.5,276.9 1396.3,281.6 1398.0,286.0 1399.7,290.0 1401.4,293.8 1403.1,297.2 1404.8,300.3 1406.5,303.0 1408.2,305.3 1409.9,307.2 1411.6,308.7 1413.3,309.7 1415.0,310.3 1416.7,310.4 1418.5,310.0 1420.2,309.1 1421.9,307.8 1423.6,306.1 1425.3,303.9 1427.0,301.3 1428.7,298.4 1430.4,295.1 1432.1,291.5 1433.8,287.6 1435.5,283.3 1437.2,278.8 1439.0,274.0 1440.7,268.9 1442.4,263.6 1444.1,258.1 1445.8,252.4 1447.5,246.5 1449.2,240.4 1450.9,234.1 1452.6,227.7 1454.3,221.2 1456.0,214.6 1457.7,207.9 1459.4,201.1 1461.2,194.3 1462.9,187.5 1464.6,180.6 1466.3,173.7 1468.0,166.8 1469.7,159.9 1471.4,153.0 1473.1,146.1 1474.8,139.3 1476.5,132.5 1478.2,125.8 1479.9,119.3 1481.7,113.0 1483.4,106.8 1485.1,100.8 1486.8,95.1 1488.5,89.7 1490.2,84.5 1491.9,79.5 1493.6,74.7 1495.3,70.2 1497.0,66.0 1498.7,62.0 1500.4,58.3 1502.1,55.1 1503.9,52.2 1505.6,49.8 1507.3,47.8 1509.0,46.2 1510.7,45.1 1512.4,44.3 1514.1,43.8 1515.8,43.5 1517.5,43.3 1519.2,43.3 1520.9,43.3 1522.6,43.4 1524.4,43.7 1526.1,44.1 1527.8,44.7 1529.5,45.6 1531.2,46.8 1532.9,48.3 1534.6,50.3 1536.3,52.5 1538.0,55.1 1539.7,58.0 1541.4,61.2 1543.1,64.6 1544.8,68.2 1546.6,71.9 1548.3,75.7 1550.0,79.6 1551.7,83.6 1553.4,87.6 1555.1,91.7 1556.8,95.9 1558.5,100.2 1560.2,104.7 1561.9,109.2 1563.6,113.8 1565.3,118.4 1567.1,123.1 1568.8,127.9 1570.5,132.6 1572.2,137.4 1573.9,142.1 1575.6,146.8 1577.3,151.5 1579.0,156.1 1580.7,160.6 1582.4,165.0 1584.1,169.2 1585.8,173.2 1587.5,176.9 1589.3,180.2 1591.0,183.1 1592.7,185.7 1594.4,188.0 1596.1,190.0 1597.8,191.8 1599.5,193.5 1601.2,195.1 1602.9,196.6 1604.6,198.0 1606.3,199.3 1608.0,200.5 1609.8,201.4 1611.5,202.1 1613.2,202.6 1614.9,202.8 1616.6,202.7 1618.3,202.4 1620.0,201.9 1621.7,201.2 1623.4,200.4 1625.1,199.5 1626.8,198.5 1628.5,197.5 1630.2,196.4 1632.0,195.3 1633.7,194.2 1635.4,193.0 1637.1,191.6 1638.8,190.2 1640.5,188.4 1642.2,186.5 1643.9,184.3 1645.6,181.8 1647.3,179.1 1649.0,176.3 1650.7,173.3 1652.5,170.4 1654.2,167.4 1655.9,164.4 1657.6,161.4 1659.3,158.4 1661.0,155.5 1662.7,152.7 1664.4,150.0 1666.1,147.3 1667.8,144.8 1669.5,142.3 1671.2,139.8 1672.9,137.2 1674.7,134.5 1676.4,131.7 1678.1,128.9 1679.8,126.2 1681.5,123.5 1683.2,121.1 1684.9,118.9 1686.6,116.9 1688.3,115.3 1690.0,113.9 1691.7,112.7 1693.4,111.8 1695.2,111.1 1696.9,110.6 1698.6,110.4 1700.3,110.4 1702.0,110.5 1703.7,111.0 1705.4,111.7 1707.1,112.7 1708.8,114.1 1710.5,115.8 1712.2,117.9 1713.9,120.3 1715.6,123.1 1717.4,126.2 1719.1,129.5 1720.8,133.0 1722.5,136.6 1724.2,140.3 1725.9,144.0 1727.6,147.6 1729.3,151.2 1731.0,154.6 1732.7,157.9 1734.4,161.3 1736.1,164.6 1737.9,168.0 1739.6,171.4 1741.3,174.9 1743.0,178.3 1744.7,181.7 1746.4,185.1 1748.1,188.4 1749.8,191.6 1751.5,194.8 1753.2,197.8 1754.9,200.7 1756.6,203.5 1758.3,206.1 1760.1,208.5 1761.8,210.8 1763.5,212.7 1765.2,214.5 1766.9,216.0 1768.6,217.2 1770.3,218.1 1772.0,218.7 1773.7,218.8 1775.4,218.5 1777.1,217.7 1778.8,216.4 1780.6,214.4 1782.3,211.7 1784.0,208.2 1785.7,204.2 1787.4,199.5 1789.1,194.6 1790.8,189.5 1792.5,184.4 1794.2,179.5 1795.9,175.0 1797.6,170.7 1799.3,166.7 1799.3,250.0 1797.6,253.2 1795.9,256.1 1794.2,258.7 1792.5,261.2 1790.8,263.1 1789.1,264.4 1787.4,264.9 1785.7,264.5 1784.0,263.5 1782.3,261.9 1780.6,260.3 1778.8,258.6 1777.1,257.1 1775.4,255.7 1773.7,254.4 1772.0,253.0 1770.3,251.5 1768.6,249.9 1766.9,248.2 1765.2,246.2 1763.5,244.1 1761.8,241.9 1760.1,239.5 1758.3,237.1 1756.6,234.6 1754.9,232.0 1753.2,229.3 1751.5,226.5 1749.8,223.6 1748.1,220.5 1746.4,217.3 1744.7,214.0 1743.0,210.6 1741.3,207.3 1739.6,203.9 1737.9,200.5 1736.1,197.2 1734.4,193.9 1732.7,190.7 1731.0,187.6 1729.3,184.6 1727.6,181.7 1725.9,178.9 1724.2,176.1 1722.5,173.5 1720.8,170.9 1719.1,168.4 1717.4,166.0 1715.6,163.8 1713.9,161.6 1712.2,159.5 1710.5,157.6 1708.8,155.8 1707.1,154.1 1705.4,152.6 1703.7,151.3 1702.0,150.1 1700.3,149.2 1698.6,148.4 1696.9,147.9 1695.2,147.6 1693.4,147.5 1691.7,147.6 1690.0,148.0 1688.3,148.6 1686.6,149.4 1684.9,150.5 1683.2,151.7 1681.5,153.1 1679.8,154.7 1678.1,156.4 1676.4,158.4 1674.7,160.4 1672.9,162.6 1671.2,165.0 1669.5,167.5 1667.8,170.1 1666.1,172.8 1664.4,175.6 1662.7,178.5 1661.0,181.5 1659.3,184.5 1657.6,187.6 1655.9,190.7 1654.2,193.8 1652.5,196.8 1650.7,199.9 1649.0,202.9 1647.3,205.9 1645.6,209.0 1643.9,212.1 1642.2,215.2 1640.5,218.5 1638.8,221.7 1637.1,225.0 1635.4,228.1 1633.7,231.1 1632.0,233.8 1630.2,236.2 1628.5,238.4 1626.8,240.1 1625.1,241.6 1623.4,242.7 1621.7,243.5 1620.0,244.1 1618.3,244.5 1616.6,244.6 1614.9,244.7 1613.2,244.6 1611.5,244.4 1609.8,244.1 1608.0,243.6 1606.3,242.9 1604.6,242.0 1602.9,240.7 1601.2,239.2 1599.5,237.2 1597.8,234.9 1596.1,232.3 1594.4,229.4 1592.7,226.3 1591.0,222.9 1589.3,219.4 1587.5,215.9 1585.8,212.2 1584.1,208.4 1582.4,204.5 1580.7,200.4 1579.0,196.2 1577.3,191.7 1575.6,187.1 1573.9,182.4 1572.2,177.5 1570.5,172.5 1568.8,167.5 1567.1,162.3 1565.3,157.2 1563.6,152.0 1561.9,146.9 1560.2,141.8 1558.5,136.7 1556.8,131.7 1555.1,126.9 1553.4,122.1 1551.7,117.5 1550.0,113.1 1548.3,108.8 1546.6,104.8 1544.8,101.0 1543.1,97.3 1541.4,93.9 1539.7,90.6 1538.0,87.4 1536.3,84.4 1534.6,81.6 1532.9,78.9 1531.2,76.4 1529.5,74.1 1527.8,72.1 1526.1,70.3 1524.4,68.9 1522.6,67.9 1520.9,67.3 1519.2,67.2 1517.5,67.6 1515.8,68.4 1514.1,69.7 1512.4,71.4 1510.7,73.4 1509.0,75.7 1507.3,78.2 1505.6,80.9 1503.9,83.8 1502.1,86.9 1500.4,90.3 1498.7,93.8 1497.0,97.6 1495.3,101.8 1493.6,106.2 1491.9,111.0 1490.2,116.0 1488.5,121.3 1486.8,126.8 1485.1,132.5 1483.4,138.3 1481.7,144.3 1479.9,150.4 1478.2,156.6 1476.5,162.9 1474.8,169.4 1473.1,175.9 1471.4,182.5 1469.7,189.1 1468.0,195.8 1466.3,202.5 1464.6,209.1 1462.9,215.8 1461.2,222.3 1459.4,228.8 1457.7,235.1 1456.0,241.4 1454.3,247.5 1452.6,253.4 1450.9,259.1 1449.2,264.7 1447.5,270.0 1445.8,275.1 1444.1,279.9 1442.4,284.5 1440.7,288.9 1439.0,292.9 1437.2,296.7 1435.5,300.1 1433.8,303.2 1432.1,306.1 1430.4,308.5 1428.7,310.7 1427.0,312.6 1425.3,314.1 1423.6,315.3 1421.9,316.2 1420.2,316.9 1418.5,317.3 1416.7,317.5 1415.0,317.4 1413.3,317.0 1411.6,316.4 1409.9,315.5 1408.2,314.3 1406.5,312.7 1404.8,310.8 1403.1,308.4 1401.4,305.7 1399.7,302.6 1398.0,299.1 1396.3,295.2 1394.5,291.0 1392.8,286.5 1391.1,281.6 1389.4,276.4 1387.7,270.9 1386.0,265.2 1384.3,259.2 1382.6,252.9 1380.9,246.4 1379.2,239.7 1377.5,232.8 1375.8,225.7 1374.0,218.4 1372.3,211.0 1370.6,203.5 1368.9,195.9 1367.2,188.3 1365.5,180.6 1363.8,172.9Z" fill="#4169e1" fill-opacity="0.8" stroke="#4169e1" stroke-opacity="1.0" stroke-width="4.4" stroke-linejoin="round"/>
<path d="M1363.8,163.9 1365.5,160.8 1367.2,157.5 1368.9,154.2 1370.6,150.9 1372.3,147.7 1374.0,144.7 1375.8,141.8 1377.5,139.1 1379.2,136.6 1380.9,134.3 1382.6,132.2 1384.3,130.3 1386.0,128.6 1387.7,127.1 1389.4,125.9 1391.1,124.9 1392.8,124.0 1394.5,123.4 1396.3,122.9 1398.0,122.6 1399.7,122.4 1401.4,122.3 1403.1,122.4 1404.8,122.6 1406.5,122.9 1408.2,123.4 1409.9,124.0 1411.6,124.7 1413.3,125.7 1415.0,126.8 1416.7,128.0 1418.5,129.5 1420.2,131.1 1421.9,133.0 1423.6,134.9 1425.3,137.1 1427.0,139.4 1428.7,141.8 1430.4,144.4 1432.1,147.1 1433.8,149.9 1435.5,152.9 1437.2,156.0 1439.0,159.2 1440.7,162.5 1442.4,165.9 1444.1,169.4 1445.8,173.0 1447.5,176.6 1449.2,180.4 1450.9,184.1 1452.6,187.9 1454.3,191.7 1456.0,195.4 1457.7,198.9 1459.4,202.2 1461.2,205.2 1462.9,207.8 1464.6,210.0 1466.3,212.0 1468.0,213.7 1469.7,215.4 1471.4,216.9 1473.1,218.4 1474.8,220.0 1476.5,221.6 1478.2,223.2 1479.9,224.9 1481.7,226.5 1483.4,228.1 1485.1,229.4 1486.8,230.6 1488.5,231.4 1490.2,231.8 1491.9,231.8 1493.6,231.3 1495.3,230.6 1497.0,229.6 1498.7,228.3 1500.4,227.0 1502.1,225.6 1503.9,224.2 1505.6,222.8 1507.3,221.3 1509.0,219.7 1510.7,217.9 1512.4,215.7 1514.1,213.0 1515.8,209.7 1517.5,205.9 1519.2,201.5 1520.9,196.8 1522.6,191.8 1524.4,186.6 1526.1,181.3 1527.8,175.8 1529.5,170.2 1531.2,164.5 1532.9,158.7 1534.6,152.8 1536.3,146.9 1538.0,140.9 1539.7,134.9 1541.4,128.9 1543.1,123.0 1544.8,117.0 1546.6,111.1 1548.3,105.2 1550.0,99.4 1551.7,93.8 1553.4,88.2 1555.1,82.8 1556.8,77.5 1558.5,72.4 1560.2,67.5 1561.9,62.8 1563.6,58.3 1565.3,54.0 1567.1,49.9 1568.8,46.0 1570.5,42.3 1572.2,38.7 1573.9,35.2 1575.6,32.0 1577.3,29.1 1579.0,26.5 1580.7,24.2 1582.4,22.5 1584.1,21.1 1585.8,20.1 1587.5,19.3 1589.3,18.8 1591.0,18.5 1592.7,18.2 1594.4,18.0 1596.1,18.0 1597.8,18.2 1599.5,18.6 1601.2,19.4 1602.9,20.7 1604.6,22.5 1606.3,24.9 1608.0,27.8 1609.8,31.2 1611.5,35.0 1613.2,39.3 1614.9,43.8 1616.6,48.5 1618.3,53.4 1620.0,58.4 1621.7,63.6 1623.4,68.9 1625.1,74.5 1626.8,80.3 1628.5,86.3 1630.2,92.6 1632.0,99.1 1633.7,105.8 1635.4,112.6 1637.1,119.7 1638.8,126.8 1640.5,134.1 1642.2,141.5 1643.9,148.9 1645.6,156.5 1647.3,164.0 1649.0,171.6 1650.7,179.1 1652.5,186.7 1654.2,194.2 1655.9,201.6 1657.6,208.9 1659.3,216.1 1661.0,223.1 1662.7,229.9 1664.4,236.4 1666.1,242.6 1667.8,248.3 1669.5,253.7 1671.2,258.8 1672.9,263.6 1674.7,268.1 1676.4,272.4 1678.1,276.6 1679.8,280.5 1681.5,284.4 1683.2,288.0 1684.9,291.5 1686.6,294.8 1688.3,297.8 1690.0,300.5 1691.7,302.7 1693.4,304.3 1695.2,305.3 1696.9,305.6 1698.6,305.1 1700.3,303.9 1702.0,302.1 1703.7,299.7 1705.4,296.8 1707.1,293.6 1708.8,290.1 1710.5,286.4 1712.2,282.5 1713.9,278.4 1715.6,274.1 1717.4,269.7 1719.1,265.1 1720.8,260.3 1722.5,255.2 1724.2,249.9 1725.9,244.3 1727.6,238.3 1729.3,232.0 1731.0,225.5 1732.7,218.6 1734.4,211.6 1736.1,204.5 1737.9,197.2 1739.6,189.9 1741.3,182.6 1743.0,175.2 1744.7,167.9 1746.4,160.6 1748.1,153.3 1749.8,146.2 1751.5,139.1 1753.2,132.1 1754.9,125.2 1756.6,118.5 1758.3,111.9 1760.1,105.5 1761.8,99.3 1763.5,93.2 1765.2,87.2 1766.9,81.2 1768.6,75.3 1770.3,69.3 1772.0,63.4 1773.7,57.5 1775.4,51.8 1777.1,46.4 1778.8,41.4 1780.6,36.7 1782.3,32.5 1784.0,28.8 1785.7,25.7 1787.4,23.2 1789.1,21.4 1790.8,20.3 1792.5,19.9 1794.2,19.9 1795.9,20.1 1797.6,20.4 1799.3,20.7 1799.3,53.1 1797.6,54.4 1795.9,56.3 1794.2,58.8 1792.5,61.8 1790.8,65.0 1789.1,68.4 1787.4,71.8 1785.7,75.2 1784.0,78.7 1782.3,82.3 1780.6,86.1 1778.8,90.1 1777.1,94.2 1775.4,98.6 1773.7,103.2 1772.0,108.2 1770.3,113.5 1768.6,119.2 1766.9,125.3 1765.2,131.7 1763.5,138.5 1761.8,145.4 1760.1,152.5 1758.3,159.8 1756.6,167.0 1754.9,174.3 1753.2,181.7 1751.5,189.0 1749.8,196.3 1748.1,203.6 1746.4,210.8 1744.7,218.0 1743.0,225.0 1741.3,231.9 1739.6,238.7 1737.9,245.3 1736.1,251.8 1734.4,258.1 1732.7,264.3 1731.0,270.4 1729.3,276.4 1727.6,282.6 1725.9,288.7 1724.2,294.8 1722.5,300.8 1720.8,306.5 1719.1,312.0 1717.4,317.0 1715.6,321.5 1713.9,325.4 1712.2,328.7 1710.5,331.4 1708.8,333.4 1707.1,334.8 1705.4,335.7 1703.7,336.1 1702.0,336.2 1700.3,336.1 1698.6,336.0 1696.9,335.9 1695.2,335.9 1693.4,336.0 1691.7,336.0 1690.0,335.9 1688.3,335.4 1686.6,334.5 1684.9,333.0 1683.2,330.9 1681.5,328.1 1679.8,324.6 1678.1,320.5 1676.4,315.8 1674.7,310.6 1672.9,304.9 1671.2,298.9 1669.5,292.7 1667.8,286.4 1666.1,280.0 1664.4,273.7 1662.7,267.5 1661.0,261.3 1659.3,255.0 1657.6,248.5 1655.9,242.0 1654.2,235.2 1652.5,228.3 1650.7,221.3 1649.0,214.1 1647.3,206.9 1645.6,199.6 1643.9,192.2 1642.2,184.7 1640.5,177.3 1638.8,169.9 1637.1,162.4 1635.4,155.0 1633.7,147.7 1632.0,140.5 1630.2,133.3 1628.5,126.3 1626.8,119.4 1625.1,112.7 1623.4,106.1 1621.7,99.8 1620.0,93.7 1618.3,88.0 1616.6,82.6 1614.9,77.5 1613.2,72.8 1611.5,68.4 1609.8,64.3 1608.0,60.4 1606.3,56.8 1604.6,53.5 1602.9,50.4 1601.2,47.6 1599.5,45.2 1597.8,43.1 1596.1,41.5 1594.4,40.3 1592.7,39.7 1591.0,39.6 1589.3,40.1 1587.5,41.0 1585.8,42.4 1584.1,44.2 1582.4,46.4 1580.7,48.9 1579.0,51.6 1577.3,54.7 1575.6,58.0 1573.9,61.6 1572.2,65.5 1570.5,69.7 1568.8,74.3 1567.1,79.1 1565.3,84.1 1563.6,89.4 1561.9,94.8 1560.2,100.3 1558.5,106.0 1556.8,111.7 1555.1,117.6 1553.4,123.5 1551.7,129.5 1550.0,135.5 1548.3,141.5 1546.6,147.5 1544.8,153.5 1543.1,159.5 1541.4,165.6 1539.7,171.6 1538.0,177.6 1536.3,183.7 1534.6,189.6 1532.9,195.6 1531.2,201.4 1529.5,207.1 1527.8,212.7 1526.1,218.1 1524.4,223.3 1522.6,228.3 1520.9,233.1 1519.2,237.7 1517.5,242.1 1515.8,246.5 1514.1,250.7 1512.4,254.9 1510.7,258.9 1509.0,262.7 1507.3,266.1 1505.6,269.1 1503.9,271.6 1502.1,273.7 1500.4,275.2 1498.7,276.3 1497.0,277.1 1495.3,277.6 1493.6,277.9 1491.9,278.0 1490.2,278.1 1488.5,278.0 1486.8,277.8 1485.1,277.5 1483.4,276.8 1481.7,275.8 1479.9,274.4 1478.2,272.4 1476.5,270.0 1474.8,267.1 1473.1,263.6 1471.4,259.8 1469.7,255.6 1468.0,251.1 1466.3,246.5 1464.6,241.7 1462.9,237.1 1461.2,232.5 1459.4,228.2 1457.7,224.1 1456.0,220.1 1454.3,216.1 1452.6,212.3 1450.9,208.4 1449.2,204.4 1447.5,200.5 1445.8,196.6 1444.1,192.7 1442.4,188.8 1440.7,185.0 1439.0,181.2 1437.2,177.6 1435.5,174.0 1433.8,170.5 1432.1,167.2 1430.4,163.9 1428.7,160.8 1427.0,157.9 1425.3,155.1 1423.6,152.5 1421.9,150.0 1420.2,147.7 1418.5,145.6 1416.7,143.6 1415.0,141.9 1413.3,140.3 1411.6,138.9 1409.9,137.7 1408.2,136.8 1406.5,136.0 1404.8,135.5 1403.1,135.2 1401.4,135.1 1399.7,135.2 1398.0,135.6 1396.3,136.1 1394.5,136.9 1392.8,137.8 1391.1,138.9 1389.4,140.2 1387.7,141.6 1386.0,143.1 1384.3,144.7 1382.6,146.5 1380.9,148.3 1379.2,150.2 1377.5,152.2 1375.8,154.2 1374.0,156.3 1372.3,158.4 1370.6,160.6 1368.9,162.7 1367.2,164.9 1365.5,167.2 1363.8,169.5Z" fill="#4169e1" fill-opacity="0.8" stroke="#4169e1" stroke-opacity="1.0" stroke-width="4.4" stroke-linejoin="round"/>
<path d="M1363.8,104.2 1365.5,104.3 1367.2,104.5 1368.9,104.9 1370.6,105.4 1372.3,106.1 1374.0,106.9 1375.8,107.8 1377.5,108.9 1379.2,110.2 1380.9,111.6 1382.6,113.1 1384.3,114.7 1386.0,116.4 1387.7,118.3 1389.4,120.3 1391.1,122.4 1392.8,124.6 1394.5,126.9 1396.3,129.3 1398.0,131.7 1399.7,134.3 1401.4,136.9 1403.1,139.6 1404.8,142.3 1406.5,145.1 1408.2,147.9 1409.9,150.8 1411.6,153.7 1413.3,156.6 1415.0,159.5 1416.7,162.4 1418.5,165.3 1420.2,168.3 1421.9,171.2 1423.6,174.0 1425.3,176.9 1427.0,179.7 1428.7,182.5 1430.4,185.2 1432.1,187.8 1433.8,190.4 1435.5,192.9 1437.2,195.4 1439.0,197.7 1440.7,200.0 1442.4,202.1 1444.1,204.2 1445.8,206.2 1447.5,208.0 1449.2,209.8 1450.9,211.4 1452.6,212.9 1454.3,214.3 1456.0,215.6 1457.7,216.7 1459.4,217.7 1461.2,218.6 1462.9,219.3 1464.6,219.9 1466.3,220.4 1468.0,220.7 1469.7,220.9 1471.4,221.0 1473.1,220.9 1474.8,220.7 1476.5,220.4 1478.2,220.0 1479.9,219.4 1481.7,218.7 1483.4,217.9 1485.1,216.9 1486.8,215.9 1488.5,214.7 1490.2,213.5 1491.9,212.1 1493.6,210.7 1495.3,209.1 1497.0,207.5 1498.7,205.8 1500.4,204.0 1502.1,202.2 1503.9,200.3 1505.6,198.3 1507.3,196.3 1509.0,194.2 1510.7,192.1 1512.4,190.0 1514.1,187.8 1515.8,185.6 1517.5,183.4 1519.2,181.2 1520.9,179.0 1522.6,176.8 1524.4,174.6 1526.1,172.4 1527.8,170.3 1529.5,168.2 1531.2,166.1 1532.9,164.0 1534.6,162.0 1536.3,160.0 1538.0,158.1 1539.7,156.3 1541.4,154.5 1543.1,152.8 1544.8,151.1 1546.6,149.5 1548.3,148.0 1550.0,146.6 1551.7,145.2 1553.4,144.0 1555.1,142.8 1556.8,141.7 1558.5,140.7 1560.2,139.8 1561.9,139.0 1563.6,138.3 1565.3,137.7 1567.1,137.2 1568.8,136.7 1570.5,136.4 1572.2,136.1 1573.9,136.0 1575.6,135.9 1577.3,135.9 1579.0,136.0 1580.7,136.2 1582.4,136.4 1584.1,136.8 1585.8,137.2 1587.5,137.7 1589.3,138.2 1591.0,138.8 1592.7,139.5 1594.4,140.2 1596.1,141.0 1597.8,141.9 1599.5,142.8 1601.2,143.7 1602.9,144.6 1604.6,145.6 1606.3,146.7 1608.0,147.7 1609.8,148.8 1611.5,149.8 1613.2,150.9 1614.9,152.0 1616.6,153.1 1618.3,154.2 1620.0,155.3 1621.7,156.4 1623.4,157.4 1625.1,158.5 1626.8,159.5 1628.5,160.5 1630.2,161.5 1632.0,162.4 1633.7,163.3 1635.4,164.1 1637.1,164.9 1638.8,165.7 1640.5,166.4 1642.2,167.1 1643.9,167.8 1645.6,168.3 1647.3,168.9 1649.0,169.3 1650.7,169.7 1652.5,170.1 1654.2,170.4 1655.9,170.7 1657.6,170.9 1659.3,171.0 1661.0,171.1 1662.7,171.1 1664.4,171.1 1666.1,171.1 1667.8,171.0 1669.5,170.8 1671.2,170.6 1672.9,170.4 1674.7,170.1 1676.4,169.8 1678.1,169.4 1679.8,169.0 1681.5,168.6 1683.2,168.2 1684.9,167.7 1686.6,167.2 1688.3,166.7 1690.0,166.2 1691.7,165.7 1693.4,165.2 1695.2,164.6 1696.9,164.1 1698.6,163.6 1700.3,163.1 1702.0,162.6 1703.7,162.1 1705.4,161.7 1707.1,161.2 1708.8,160.8 1710.5,160.4 1712.2,160.1 1713.9,159.8 1715.6,159.5 1717.4,159.3 1719.1,159.1 1720.8,159.0 1722.5,158.9 1724.2,158.9 1725.9,158.9 1727.6,159.0 1729.3,159.2 1731.0,159.4 1732.7,159.6 1734.4,159.9 1736.1,160.3 1737.9,160.7 1739.6,161.2 1741.3,161.8 1743.0,162.4 1744.7,163.0 1746.4,163.7 1748.1,164.5 1749.8,165.4 1751.5,166.2 1753.2,167.2 1754.9,168.1 1756.6,169.2 1758.3,170.2 1760.1,171.3 1761.8,172.5 1763.5,173.6 1765.2,174.8 1766.9,176.0 1768.6,177.3 1770.3,178.5 1772.0,179.8 1773.7,181.1 1775.4,182.4 1777.1,183.7 1778.8,184.9 1780.6,186.2 1782.3,187.5 1784.0,188.7 1785.7,189.9 1787.4,191.1 1789.1,192.2 1790.8,193.4 1792.5,194.4 1794.2,195.5 1795.9,196.4 1797.6,197.3 1799.3,198.2" fill="none" stroke="#ffd700" stroke-width="7.0" stroke-linejoin="round" stroke-linecap="round"/>
<path d="M1363.8,166.9 1365.5,166.9 1367.2,166.8 1368.9,166.7 1370.6,166.5 1372.3,166.3 1374.0,166.0 1375.8,165.7 1377.5,165.3 1379.2,164.9 1380.9,164.5 1382.6,164.0 1384.3,163.5 1386.0,162.9 1387.7,162.4 1389.4,161.8 1391.1,161.1 1392.8,160.5 1394.5,159.8 1396.3,159.1 1398.0,158.4 1399.7,157.7 1401.4,157.0 1403.1,156.3 1404.8,155.6 1406.5,154.9 1408.2,154.2 1409.9,153.5 1411.6,152.8 1413.3,152.2 1415.0,151.6 1416.7,151.0 1418.5,150.5 1420.2,150.0 1421.9,149.5 1423.6,149.1 1425.3,148.7 1427.0,148.4 1428.7,148.2 1430.4,148.0 1432.1,147.8 1433.8,147.7 1435.5,147.7 1437.2,147.8 1439.0,147.9 1440.7,148.1 1442.4,148.3 1444.1,148.7 1445.8,149.1 1447.5,149.6 1449.2,150.1 1450.9,150.8 1452.6,151.5 1454.3,152.2 1456.0,153.1 1457.7,154.0 1459.4,155.0 1461.2,156.1 1462.9,157.2 1464.6,158.4 1466.3,159.7 1468.0,161.0 1469.7,162.4 1471.4,163.8 1473.1,165.3 1474.8,166.8 1476.5,168.4 1478.2,170.0 1479.9,171.6 1481.7,173.3 1483.4,175.0 1485.1,176.7 1486.8,178.5 1488.5,180.2 1490.2,182.0 1491.9,183.7 1493.6,185.5 1495.3,187.2 1497.0,189.0 1498.7,190.7 1500.4,192.4 1502.1,194.0 1503.9,195.6 1505.6,197.2 1507.3,198.7 1509.0,200.2 1510.7,201.6 1512.4,203.0 1514.1,204.3 1515.8,205.5 1517.5,206.6 1519.2,207.7 1520.9,208.6 1522.6,209.5 1524.4,210.3 1526.1,211.0 1527.8,211.5 1529.5,212.0 1531.2,212.4 1532.9,212.6 1534.6,212.8 1536.3,212.8 1538.0,212.7 1539.7,212.5 1541.4,212.2 1543.1,211.8 1544.8,211.2 1546.6,210.6 1548.3,209.8 1550.0,208.9 1551.7,207.8 1553.4,206.7 1555.1,205.4 1556.8,204.1 1558.5,202.6 1560.2,201.0 1561.9,199.3 1563.6,197.5 1565.3,195.6 1567.1,193.7 1568.8,191.6 1570.5,189.4 1572.2,187.2 1573.9,184.9 1575.6,182.6 1577.3,180.1 1579.0,177.6 1580.7,175.1 1582.4,172.5 1584.1,169.9 1585.8,167.2 1587.5,164.6 1589.3,161.9 1591.0,159.2 1592.7,156.5 1594.4,153.8 1596.1,151.1 1597.8,148.4 1599.5,145.7 1601.2,143.1 1602.9,140.5 1604.6,138.0 1606.3,135.5 1608.0,133.1 1609.8,130.7 1611.5,128.4 1613.2,126.2 1614.9,124.1 1616.6,122.1 1618.3,120.1 1620.0,118.3 1621.7,116.6 1623.4,115.0 1625.1,113.5 1626.8,112.1 1628.5,110.8 1630.2,109.7 1632.0,108.7 1633.7,107.9 1635.4,107.2 1637.1,106.6 1638.8,106.1 1640.5,105.9 1642.2,105.7 1643.9,105.7 1645.6,105.9 1647.3,106.2 1649.0,106.6 1650.7,107.2 1652.5,108.0 1654.2,108.9 1655.9,109.9 1657.6,111.1 1659.3,112.4 1661.0,113.8 1662.7,115.4 1664.4,117.1 1666.1,118.9 1667.8,120.8 1669.5,122.9 1671.2,125.1 1672.9,127.3 1674.7,129.7 1676.4,132.1 1678.1,134.7 1679.8,137.3 1681.5,140.0 1683.2,142.7 1684.9,145.6 1686.6,148.4 1688.3,151.3 1690.0,154.3 1691.7,157.3 1693.4,160.3 1695.2,163.3 1696.9,166.3 1698.6,169.3 1700.3,172.4 1702.0,175.3 1703.7,178.3 1705.4,181.3 1707.1,184.2 1708.8,187.0 1710.5,189.8 1712.2,192.6 1713.9,195.3 1715.6,197.9 1717.4,200.4 1719.1,202.8 1720.8,205.2 1722.5,207.4 1724.2,209.6 1725.9,211.6 1727.6,213.5 1729.3,215.3 1731.0,217.0 1732.7,218.6 1734.4,220.0 1736.1,221.3 1737.9,222.4 1739.6,223.4 1741.3,224.3 1743.0,225.1 1744.7,225.7 1746.4,226.1 1748.1,226.4 1749.8,226.6 1751.5,226.6 1753.2,226.5 1754.9,226.2 1756.6,225.8 1758.3,225.2 1760.1,224.5 1761.8,223.7 1763.5,222.7 1765.2,221.7 1766.9,220.4 1768.6,219.1 1770.3,217.7 1772.0,216.1 1773.7,214.4 1775.4,212.7 1777.1,210.8 1778.8,208.8 1780.6,206.8 1782.3,204.7 1784.0,202.5 1785.7,200.2 1787.4,197.9 1789.1,195.5 1790.8,193.0 1792.5,190.6 1794.2,188.1 1795.9,185.5 1797.6,183.0 1799.3,180.4" fill="none" stroke="#ffd700" stroke-width="7.0" stroke-linejoin="round" stroke-linecap="round"/>
<path d="M1363.8,166.9 1365.5,174.4 1367.2,181.9 1368.9,189.4 1370.6,196.8 1372.3,204.1 1374.0,211.3 1375.8,218.4 1377.5,225.4 1379.2,232.2 1380.9,238.8 1382.6,245.3 1384.3,251.5 1386.0,257.5 1387.7,263.3 1389.4,268.8 1391.1,274.1 1392.8,279.0 1394.5,283.7 1396.3,288.1 1398.0,292.1 1399.7,295.8 1401.4,299.2 1403.1,302.2 1404.8,304.9 1406.5,307.2 1408.2,309.2 1409.9,310.8 1411.6,312.0 1413.3,312.8 1415.0,313.3 1416.7,313.4 1418.5,313.1 1420.2,312.5 1421.9,311.4 1423.6,310.0 1425.3,308.3 1427.0,306.2 1428.7,303.7 1430.4,301.0 1432.1,297.9 1433.8,294.4 1435.5,290.7 1437.2,286.6 1439.0,282.3 1440.7,277.7 1442.4,272.9 1444.1,267.8 1445.8,262.5 1447.5,257.0 1449.2,251.2 1450.9,245.3 1452.6,239.3 1454.3,233.1 1456.0,226.7 1457.7,220.3 1459.4,213.7 1461.2,207.1 1462.9,200.5 1464.6,193.8 1466.3,187.1 1468.0,180.4 1469.7,173.7 1471.4,167.1 1473.1,160.5 1474.8,154.0 1476.5,147.6 1478.2,141.3 1479.9,135.1 1481.7,129.1 1483.4,123.2 1485.1,117.5 1486.8,112.0 1488.5,106.7 1490.2,101.6 1491.9,96.7 1493.6,92.0 1495.3,87.7 1497.0,83.5 1498.7,79.7 1500.4,76.1 1502.1,72.8 1503.9,69.8 1505.6,67.1 1507.3,64.7 1509.0,62.6 1510.7,60.8 1512.4,59.3 1514.1,58.2 1515.8,57.3 1517.5,56.8 1519.2,56.5 1520.9,56.6 1522.6,57.0 1524.4,57.6 1526.1,58.6 1527.8,59.8 1529.5,61.3 1531.2,63.1 1532.9,65.2 1534.6,67.5 1536.3,70.0 1538.0,72.8 1539.7,75.8 1541.4,79.0 1543.1,82.4 1544.8,86.0 1546.6,89.7 1548.3,93.6 1550.0,97.7 1551.7,101.9 1553.4,106.2 1555.1,110.5 1556.8,115.0 1558.5,119.5 1560.2,124.1 1561.9,128.8 1563.6,133.4 1565.3,138.1 1567.1,142.7 1568.8,147.3 1570.5,151.9 1572.2,156.5 1573.9,160.9 1575.6,165.3 1577.3,169.6 1579.0,173.8 1580.7,177.9 1582.4,181.9 1584.1,185.7 1585.8,189.3 1587.5,192.8 1589.3,196.1 1591.0,199.3 1592.7,202.3 1594.4,205.0 1596.1,207.6 1597.8,210.0 1599.5,212.1 1601.2,214.1 1602.9,215.8 1604.6,217.3 1606.3,218.6 1608.0,219.7 1609.8,220.5 1611.5,221.1 1613.2,221.5 1614.9,221.7 1616.6,221.7 1618.3,221.4 1620.0,221.0 1621.7,220.3 1623.4,219.5 1625.1,218.4 1626.8,217.2 1628.5,215.8 1630.2,214.3 1632.0,212.6 1633.7,210.7 1635.4,208.7 1637.1,206.6 1638.8,204.4 1640.5,202.0 1642.2,199.6 1643.9,197.1 1645.6,194.5 1647.3,191.9 1649.0,189.2 1650.7,186.5 1652.5,183.7 1654.2,181.0 1655.9,178.2 1657.6,175.5 1659.3,172.8 1661.0,170.2 1662.7,167.6 1664.4,165.0 1666.1,162.6 1667.8,160.2 1669.5,157.9 1671.2,155.7 1672.9,153.7 1674.7,151.7 1676.4,149.9 1678.1,148.3 1679.8,146.8 1681.5,145.4 1683.2,144.2 1684.9,143.2 1686.6,142.3 1688.3,141.6 1690.0,141.1 1691.7,140.8 1693.4,140.6 1695.2,140.7 1696.9,140.9 1698.6,141.3 1700.3,141.9 1702.0,142.6 1703.7,143.6 1705.4,144.7 1707.1,146.0 1708.8,147.5 1710.5,149.1 1712.2,150.8 1713.9,152.7 1715.6,154.8 1717.4,157.0 1719.1,159.3 1720.8,161.7 1722.5,164.2 1724.2,166.9 1725.9,169.6 1727.6,172.4 1729.3,175.2 1731.0,178.1 1732.7,181.0 1734.4,184.0 1736.1,186.9 1737.9,189.9 1739.6,192.8 1741.3,195.8 1743.0,198.7 1744.7,201.5 1746.4,204.3 1748.1,207.0 1749.8,209.6 1751.5,212.1 1753.2,214.6 1754.9,216.8 1756.6,219.0 1758.3,221.0 1760.1,222.9 1761.8,224.6 1763.5,226.1 1765.2,227.4 1766.9,228.5 1768.6,229.5 1770.3,230.2 1772.0,230.8 1773.7,231.1 1775.4,231.1 1777.1,231.0 1778.8,230.6 1780.6,230.0 1782.3,229.2 1784.0,228.1 1785.7,226.8 1787.4,225.3 1789.1,223.5 1790.8,221.5 1792.5,219.2 1794.2,216.7 1795.9,214.1 1797.6,211.2 1799.3,208.0" fill="none" stroke="#ffd700" stroke-width="7.0" stroke-linejoin="round" stroke-linecap="round"/>
<path d="M1363.8,165.1 1365.5,162.6 1367.2,160.1 1368.9,157.7 1370.6,155.3 1372.3,152.9 1374.0,150.6 1375.8,148.4 1377.5,146.3 1379.2,144.2 1380.9,142.3 1382.6,140.5 1384.3,138.8 1386.0,137.2 1387.7,135.8 1389.4,134.5 1391.1,133.4 1392.8,132.5 1394.5,131.7 1396.3,131.0 1398.0,130.6 1399.7,130.3 1401.4,130.2 1403.1,130.3 1404.8,130.6 1406.5,131.0 1408.2,131.6 1409.9,132.4 1411.6,133.5 1413.3,134.6 1415.0,136.0 1416.7,137.6 1418.5,139.3 1420.2,141.2 1421.9,143.3 1423.6,145.6 1425.3,148.0 1427.0,150.6 1428.7,153.3 1430.4,156.2 1432.1,159.2 1433.8,162.3 1435.5,165.6 1437.2,168.9 1439.0,172.4 1440.7,175.9 1442.4,179.5 1444.1,183.1 1445.8,186.8 1447.5,190.5 1449.2,194.2 1450.9,197.9 1452.6,201.7 1454.3,205.4 1456.0,209.0 1457.7,212.6 1459.4,216.2 1461.2,219.6 1462.9,223.0 1464.6,226.2 1466.3,229.4 1468.0,232.4 1469.7,235.3 1471.4,238.0 1473.1,240.5 1474.8,242.8 1476.5,245.0 1478.2,246.9 1479.9,248.7 1481.7,250.2 1483.4,251.4 1485.1,252.4 1486.8,253.2 1488.5,253.7 1490.2,253.9 1491.9,253.8 1493.6,253.4 1495.3,252.7 1497.0,251.8 1498.7,250.5 1500.4,249.0 1502.1,247.2 1503.9,245.1 1505.6,242.7 1507.3,240.1 1509.0,237.2 1510.7,234.0 1512.4,230.6 1514.1,226.9 1515.8,223.1 1517.5,218.9 1519.2,214.6 1520.9,210.1 1522.6,205.4 1524.4,200.5 1526.1,195.4 1527.8,190.1 1529.5,184.8 1531.2,179.3 1532.9,173.7 1534.6,168.0 1536.3,162.2 1538.0,156.3 1539.7,150.4 1541.4,144.5 1543.1,138.5 1544.8,132.6 1546.6,126.6 1548.3,120.7 1550.0,114.9 1551.7,109.1 1553.4,103.4 1555.1,97.8 1556.8,92.4 1558.5,87.0 1560.2,81.9 1561.9,76.9 1563.6,72.1 1565.3,67.5 1567.1,63.1 1568.8,58.9 1570.5,55.0 1572.2,51.3 1573.9,47.9 1575.6,44.8 1577.3,42.0 1579.0,39.5 1580.7,37.2 1582.4,35.3 1584.1,33.7 1585.8,32.4 1587.5,31.5 1589.3,30.8 1591.0,30.5 1592.7,30.5 1594.4,30.8 1596.1,31.4 1597.8,32.3 1599.5,33.6 1601.2,35.2 1602.9,37.2 1604.6,39.4 1606.3,42.1 1608.0,45.0 1609.8,48.3 1611.5,51.9 1613.2,55.8 1614.9,60.1 1616.6,64.6 1618.3,69.4 1620.0,74.5 1621.7,79.9 1623.4,85.5 1625.1,91.3 1626.8,97.4 1628.5,103.7 1630.2,110.1 1632.0,116.8 1633.7,123.6 1635.4,130.5 1637.1,137.5 1638.8,144.7 1640.5,151.9 1642.2,159.2 1643.9,166.6 1645.6,173.9 1647.3,181.2 1649.0,188.4 1650.7,195.6 1652.5,202.6 1654.2,209.5 1655.9,216.3 1657.6,222.9 1659.3,229.4 1661.0,235.7 1662.7,241.8 1664.4,247.8 1666.1,253.6 1667.8,259.1 1669.5,264.5 1671.2,269.7 1672.9,274.7 1674.7,279.5 1676.4,284.0 1678.1,288.3 1679.8,292.3 1681.5,296.0 1683.2,299.5 1684.9,302.6 1686.6,305.5 1688.3,308.0 1690.0,310.1 1691.7,311.7 1693.4,312.9 1695.2,313.7 1696.9,313.9 1698.6,313.5 1700.3,312.7 1702.0,311.4 1703.7,309.7 1705.4,307.5 1707.1,305.0 1708.8,302.1 1710.5,298.9 1712.2,295.5 1713.9,291.7 1715.6,287.7 1717.4,283.4 1719.1,278.9 1720.8,274.2 1722.5,269.2 1724.2,264.0 1725.9,258.6 1727.6,252.9 1729.3,247.1 1731.0,241.0 1732.7,234.8 1734.4,228.3 1736.1,221.7 1737.9,214.9 1739.6,207.9 1741.3,200.8 1743.0,193.6 1744.7,186.4 1746.4,179.1 1748.1,171.8 1749.8,164.5 1751.5,157.2 1753.2,150.0 1754.9,142.8 1756.6,135.7 1758.3,128.8 1760.1,121.9 1761.8,115.2 1763.5,108.7 1765.2,102.3 1766.9,96.1 1768.6,90.1 1770.3,84.4 1772.0,78.9 1773.7,73.7 1775.4,68.7 1777.1,64.1 1778.8,59.7 1780.6,55.7 1782.3,52.0 1784.0,48.6 1785.7,45.6 1787.4,42.9 1789.1,40.7 1790.8,38.8 1792.5,37.2 1794.2,36.0 1795.9,35.1 1797.6,34.5 1799.3,34.2 1799.3,41.8 1797.6,42.5 1795.9,43.7 1794.2,45.3 1792.5,47.2 1790.8,49.5 1789.1,52.1 1787.4,55.0 1785.7,58.1 1784.0,61.6 1782.3,65.3 1780.6,69.3 1778.8,73.6 1777.1,78.2 1775.4,83.0 1773.7,88.1 1772.0,93.4 1770.3,98.9 1768.6,104.6 1766.9,110.6 1765.2,116.7 1763.5,123.0 1761.8,129.5 1760.1,136.1 1758.3,142.9 1756.6,149.8 1754.9,156.7 1753.2,163.8 1751.5,170.9 1749.8,178.0 1748.1,185.2 1746.4,192.3 1744.7,199.5 1743.0,206.6 1741.3,213.7 1739.6,220.7 1737.9,227.7 1736.1,234.5 1734.4,241.3 1732.7,248.0 1731.0,254.6 1729.3,261.0 1727.6,267.2 1725.9,273.1 1724.2,278.8 1722.5,284.2 1720.8,289.4 1719.1,294.1 1717.4,298.6 1715.6,302.6 1713.9,306.3 1712.2,309.6 1710.5,312.5 1708.8,315.0 1707.1,317.1 1705.4,318.8 1703.7,320.1 1702.0,321.1 1700.3,321.8 1698.6,322.2 1696.9,322.4 1695.2,322.3 1693.4,321.9 1691.7,321.3 1690.0,320.4 1688.3,319.2 1686.6,317.5 1684.9,315.6 1683.2,313.2 1681.5,310.4 1679.8,307.2 1678.1,303.6 1676.4,299.6 1674.7,295.3 1672.9,290.5 1671.2,285.5 1669.5,280.0 1667.8,274.3 1666.1,268.3 1664.4,262.0 1662.7,255.4 1661.0,248.7 1659.3,241.7 1657.6,234.6 1655.9,227.4 1654.2,220.1 1652.5,212.7 1650.7,205.2 1649.0,197.8 1647.3,190.3 1645.6,182.9 1643.9,175.4 1642.2,168.0 1640.5,160.7 1638.8,153.4 1637.1,146.1 1635.4,138.9 1633.7,131.9 1632.0,124.9 1630.2,118.1 1628.5,111.5 1626.8,105.0 1625.1,98.7 1623.4,92.6 1621.7,86.7 1620.0,81.1 1618.3,75.7 1616.6,70.6 1614.9,65.7 1613.2,61.2 1611.5,56.9 1609.8,53.0 1608.0,49.4 1606.3,46.1 1604.6,43.1 1602.9,40.5 1601.2,38.3 1599.5,36.4 1597.8,34.9 1596.1,33.7 1594.4,33.0 1592.7,32.6 1591.0,32.6 1589.3,33.0 1587.5,33.8 1585.8,35.0 1584.1,36.5 1582.4,38.3 1580.7,40.5 1579.0,43.0 1577.3,45.9 1575.6,49.0 1573.9,52.4 1572.2,56.1 1570.5,60.0 1568.8,64.2 1567.1,68.6 1565.3,73.2 1563.6,78.0 1561.9,83.0 1560.2,88.2 1558.5,93.6 1556.8,99.0 1555.1,104.6 1553.4,110.3 1551.7,116.1 1550.0,122.0 1548.3,127.9 1546.6,133.8 1544.8,139.8 1543.1,145.7 1541.4,151.7 1539.7,157.6 1538.0,163.4 1536.3,169.2 1534.6,174.9 1532.9,180.5 1531.2,186.0 1529.5,191.3 1527.8,196.6 1526.1,201.6 1524.4,206.5 1522.6,211.2 1520.9,215.7 1519.2,220.0 1517.5,224.1 1515.8,228.0 1514.1,231.6 1512.4,235.1 1510.7,238.2 1509.0,241.1 1507.3,243.8 1505.6,246.2 1503.9,248.3 1502.1,250.1 1500.4,251.7 1498.7,253.1 1497.0,254.2 1495.3,255.0 1493.6,255.5 1491.9,255.9 1490.2,255.9 1488.5,255.8 1486.8,255.3 1485.1,254.7 1483.4,253.8 1481.7,252.7 1479.9,251.4 1478.2,249.8 1476.5,248.0 1474.8,246.1 1473.1,243.9 1471.4,241.5 1469.7,239.0 1468.0,236.3 1466.3,233.4 1464.6,230.4 1462.9,227.3 1461.2,224.0 1459.4,220.6 1457.7,217.2 1456.0,213.7 1454.3,210.1 1452.6,206.4 1450.9,202.7 1449.2,199.0 1447.5,195.3 1445.8,191.5 1444.1,187.8 1442.4,184.1 1440.7,180.5 1439.0,176.9 1437.2,173.4 1435.5,170.0 1433.8,166.6 1432.1,163.4 1430.4,160.2 1428.7,157.2 1427.0,154.4 1425.3,151.6 1423.6,149.1 1421.9,146.6 1420.2,144.4 1418.5,142.3 1416.7,140.4 1415.0,138.7 1413.3,137.2 1411.6,135.9 1409.9,134.8 1408.2,133.9 1406.5,133.1 1404.8,132.6 1403.1,132.3 1401.4,132.3 1399.7,132.4 1398.0,132.7 1396.3,133.2 1394.5,133.9 1392.8,134.7 1391.1,135.8 1389.4,137.0 1387.7,138.4 1386.0,139.9 1384.3,141.6 1382.6,143.4 1380.9,145.3 1379.2,147.3 1377.5,149.4 1375.8,151.7 1374.0,153.9 1372.3,156.3 1370.6,158.7 1368.9,161.2 1367.2,163.7 1365.5,166.2 1363.8,168.7Z" fill="#ffd700" fill-opacity="0.8" stroke="#ffd700" stroke-opacity="1.0" stroke-width="5.0" stroke-linejoin="round"/>
<path d="M1363.8,166.9 1365.5,164.4 1367.2,161.9 1368.9,159.4 1370.6,157.0 1372.3,154.6 1374.0,152.3 1375.8,150.0 1377.5,147.9 1379.2,145.8 1380.9,143.8 1382.6,141.9 1384.3,140.2 1386.0,138.6 1387.7,137.1 1389.4,135.8 1391.1,134.6 1392.8,133.6 1394.5,132.8 1396.3,132.1 1398.0,131.6 1399.7,131.3 1401.4,131.2 1403.1,131.3 1404.8,131.6 1406.5,132.1 1408.2,132.7 1409.9,133.6 1411.6,134.7 1413.3,135.9 1415.0,137.4 1416.7,139.0 1418.5,140.8 1420.2,142.8 1421.9,145.0 1423.6,147.3 1425.3,149.8 1427.0,152.5 1428.7,155.3 1430.4,158.2 1432.1,161.3 1433.8,164.5 1435.5,167.8 1437.2,171.2 1439.0,174.6 1440.7,178.2 1442.4,181.8 1444.1,185.5 1445.8,189.1 1447.5,192.9 1449.2,196.6 1450.9,200.3 1452.6,204.0 1454.3,207.7 1456.0,211.3 1457.7,214.9 1459.4,218.4 1461.2,221.8 1462.9,225.1 1464.6,228.3 1466.3,231.4 1468.0,234.3 1469.7,237.1 1471.4,239.7 1473.1,242.2 1474.8,244.5 1476.5,246.5 1478.2,248.4 1479.9,250.0 1481.7,251.4 1483.4,252.6 1485.1,253.6 1486.8,254.3 1488.5,254.7 1490.2,254.9 1491.9,254.8 1493.6,254.5 1495.3,253.9 1497.0,253.0 1498.7,251.8 1500.4,250.4 1502.1,248.7 1503.9,246.7 1505.6,244.4 1507.3,241.9 1509.0,239.1 1510.7,236.1 1512.4,232.8 1514.1,229.3 1515.8,225.5 1517.5,221.5 1519.2,217.3 1520.9,212.9 1522.6,208.3 1524.4,203.5 1526.1,198.5 1527.8,193.4 1529.5,188.1 1531.2,182.6 1532.9,177.1 1534.6,171.4 1536.3,165.7 1538.0,159.9 1539.7,154.0 1541.4,148.1 1543.1,142.1 1544.8,136.2 1546.6,130.2 1548.3,124.3 1550.0,118.4 1551.7,112.6 1553.4,106.9 1555.1,101.2 1556.8,95.7 1558.5,90.3 1560.2,85.1 1561.9,80.0 1563.6,75.1 1565.3,70.3 1567.1,65.8 1568.8,61.5 1570.5,57.5 1572.2,53.7 1573.9,50.2 1575.6,46.9 1577.3,43.9 1579.0,41.2 1580.7,38.9 1582.4,36.8 1584.1,35.1 1585.8,33.7 1587.5,32.6 1589.3,31.9 1591.0,31.5 1592.7,31.5 1594.4,31.9 1596.1,32.5 1597.8,33.6 1599.5,35.0 1601.2,36.7 1602.9,38.8 1604.6,41.3 1606.3,44.1 1608.0,47.2 1609.8,50.7 1611.5,54.4 1613.2,58.5 1614.9,62.9 1616.6,67.6 1618.3,72.6 1620.0,77.8 1621.7,83.3 1623.4,89.0 1625.1,95.0 1626.8,101.2 1628.5,107.6 1630.2,114.1 1632.0,120.8 1633.7,127.7 1635.4,134.7 1637.1,141.8 1638.8,149.0 1640.5,156.3 1642.2,163.6 1643.9,171.0 1645.6,178.4 1647.3,185.8 1649.0,193.1 1650.7,200.4 1652.5,207.6 1654.2,214.8 1655.9,221.8 1657.6,228.8 1659.3,235.6 1661.0,242.2 1662.7,248.6 1664.4,254.9 1666.1,260.9 1667.8,266.7 1669.5,272.3 1671.2,277.6 1672.9,282.6 1674.7,287.4 1676.4,291.8 1678.1,295.9 1679.8,299.7 1681.5,303.2 1683.2,306.3 1684.9,309.1 1686.6,311.5 1688.3,313.6 1690.0,315.2 1691.7,316.5 1693.4,317.4 1695.2,318.0 1696.9,318.1 1698.6,317.9 1700.3,317.3 1702.0,316.3 1703.7,314.9 1705.4,313.2 1707.1,311.0 1708.8,308.6 1710.5,305.7 1712.2,302.5 1713.9,299.0 1715.6,295.2 1717.4,291.0 1719.1,286.5 1720.8,281.8 1722.5,276.7 1724.2,271.4 1725.9,265.8 1727.6,260.0 1729.3,254.0 1731.0,247.8 1732.7,241.4 1734.4,234.8 1736.1,228.1 1737.9,221.3 1739.6,214.3 1741.3,207.2 1743.0,200.1 1744.7,192.9 1746.4,185.7 1748.1,178.5 1749.8,171.2 1751.5,164.0 1753.2,156.9 1754.9,149.8 1756.6,142.8 1758.3,135.8 1760.1,129.0 1761.8,122.4 1763.5,115.8 1765.2,109.5 1766.9,103.3 1768.6,97.4 1770.3,91.6 1772.0,86.1 1773.7,80.9 1775.4,75.9 1777.1,71.1 1778.8,66.7 1780.6,62.5 1782.3,58.7 1784.0,55.1 1785.7,51.9 1787.4,49.0 1789.1,46.4 1790.8,44.1 1792.5,42.2 1794.2,40.6 1795.9,39.4 1797.6,38.5 1799.3,38.0" fill="none" stroke="#ffd700" stroke-width="7.0" stroke-linejoin="round" stroke-linecap="round"/>
</g>
<line x1="1342.70" y1="351.90" x2="1812.80" y2="351.90" stroke="#000" stroke-width="2.1" />
<line x1="1363.80" y1="351.90" x2="1363.80" y2="364.40" stroke="#000" stroke-width="2.1" />
<text x="1363.80" y="394.80" font-size="29" text-anchor="middle" font-weight="normal" font-style="normal" >0</text>
<line x1="1449.20" y1="351.90" x2="1449.20" y2="364.40" stroke="#000" stroke-width="2.1" />
<text x="1449.20" y="394.80" font-size="29" text-anchor="middle" font-weight="normal" font-style="normal" >1</text>
<line x1="1534.60" y1="351.90" x2="1534.60" y2="364.40" stroke="#000" stroke-width="2.1" />
<text x="1534.60" y="394.80" font-size="29" text-anchor="middle" font-weight="normal" font-style="normal" >2</text>
<line x1="1620.00" y1="351.90" x2="1620.00" y2="364.40" stroke="#000" stroke-width="2.1" />
<text x="1620.00" y="394.80" font-size="29" text-anchor="middle" font-weight="normal" font-style="normal" >3</text>
<line x1="1705.40" y1="351.90" x2="1705.40" y2="364.40" stroke="#000" stroke-width="2.1" />
<text x="1705.40" y="394.80" font-size="29" text-anchor="middle" font-weight="normal" font-style="normal" >4</text>
<line x1="1790.80" y1="351.90" x2="1790.80" y2="364.40" stroke="#000" stroke-width="2.1" />
<text x="1790.80" y="394.80" font-size="29" text-anchor="middle" font-weight="normal" font-style="normal" >5</text>
<text x="1585.00" y="437.80" font-size="29" text-anchor="middle"><tspan font-style="italic">t</tspan> (s)</text>
</g>
<g id="panel-d">
<clipPath id="clipd"><rect x="1340" y="560" width="455.3" height="362"/></clipPath>
<g clip-path="url(#clipd)">
<path d="M1363.0,744.0 1363.6,749.4 1364.4,754.7 1365.3,759.8 1366.4,764.7 1367.5,769.6 1368.7,774.4 1370.0,779.1 1371.3,783.7 1372.7,788.4 1374.1,793.0 1375.4,797.7 1376.8,802.4 1378.1,807.1 1379.3,811.9 1380.5,816.8 1381.6,821.8 1382.5,827.0 1383.3,832.3 1384.0,837.8 1384.5,843.5 1385.0,849.2 1385.7,854.8 1386.8,860.1 1388.4,864.9 1390.7,869.1 1393.9,872.6 1398.1,875.1 1402.6,877.5 1406.0,881.2 1409.2,885.2 1413.6,887.6 1418.7,888.0 1423.7,886.9 1428.5,885.1 1433.2,883.2 1437.9,881.4 1442.6,879.6 1447.3,877.8 1451.9,875.6 1456.2,872.8 1459.6,869.2 1462.3,864.8 1464.5,860.2 1466.5,855.5 1468.2,850.8 1469.9,846.0 1471.4,841.2 1472.8,836.3 1474.1,831.5 1475.4,826.5 1476.6,821.6 1477.9,816.7 1479.1,811.8 1480.3,806.9 1481.5,802.0 1482.8,797.1 1484.0,792.2 1485.2,787.3 1486.4,782.3 1487.7,777.4 1489.0,772.5 1490.2,767.6 1491.5,762.7 1492.8,757.8 1494.0,752.9 1495.1,748.0 1496.2,743.0 1497.2,738.1 1498.2,733.1 1499.2,728.1 1500.2,723.2 1501.2,718.2 1502.3,713.3 1503.5,708.4 1504.8,703.5 1506.1,698.7 1507.5,693.8 1508.9,688.9 1510.3,684.1 1511.7,679.2 1513.0,674.3 1514.3,669.4 1515.6,664.4 1516.8,659.4 1518.1,654.5 1519.5,649.6 1521.0,644.8 1522.7,640.1 1524.7,635.5 1527.1,631.0 1529.6,626.7 1532.3,622.4 1535.2,618.1 1538.3,614.0 1542.1,610.7 1546.6,608.4 1551.6,607.4 1556.7,607.3 1561.7,608.0 1566.7,608.9 1571.7,609.7 1576.7,610.5 1581.7,611.4 1586.7,612.4 1591.6,613.5 1596.6,614.6 1601.5,615.5 1606.5,616.5 1611.5,617.3 1616.5,618.1 1621.5,618.8 1626.5,619.5 1631.5,620.1 1636.6,620.7 1641.6,621.3 1646.6,622.0 1651.6,622.7 1656.6,623.5 1661.6,624.3 1666.6,625.0 1671.6,625.8 1676.6,626.4 1681.7,627.1 1686.7,627.8 1691.7,628.6 1696.7,629.5 1701.6,630.7 1706.5,632.2 1711.1,634.2 1715.4,636.8 1719.5,640.0 1723.2,643.5 1726.5,647.3 1729.6,651.3 1732.5,655.5 1735.2,659.7 1737.8,664.1 1740.4,668.4 1742.9,672.8 1745.4,677.2 1748.0,681.6 1750.5,685.9 1753.1,690.3 1755.7,694.6 1758.3,699.0 1760.8,703.4 1763.3,707.8 1765.7,712.2 1768.2,716.7 1770.6,721.1 1773.1,725.5 1775.6,729.9 1778.1,734.3 1780.7,738.7 1783.3,743.0 1786.0,747.3 1788.6,751.6 1791.3,755.9 1794.0,760.2 1794.0,860.0 1789.1,858.7 1784.3,857.3 1779.4,855.8 1774.6,854.2 1769.9,852.4 1765.2,850.5 1760.7,848.3 1756.2,846.0 1751.8,843.6 1747.3,841.2 1742.7,838.8 1738.4,836.1 1734.8,832.8 1732.1,828.5 1729.8,823.9 1727.5,819.4 1724.9,815.0 1722.1,810.8 1719.3,806.6 1716.4,802.5 1713.7,798.2 1711.1,793.9 1708.5,789.6 1705.9,785.2 1703.3,780.9 1700.8,776.5 1698.2,772.2 1695.6,767.8 1693.1,763.4 1690.6,759.0 1688.2,754.6 1685.7,750.2 1683.3,745.8 1680.9,741.3 1678.4,736.9 1675.9,732.6 1673.3,728.2 1670.7,723.9 1668.1,719.6 1665.4,715.3 1662.7,711.0 1660.0,706.7 1657.3,702.5 1654.6,698.2 1651.9,693.9 1649.2,689.6 1646.5,685.3 1643.9,681.0 1641.1,676.8 1638.3,672.6 1635.4,668.5 1632.4,664.5 1629.1,660.7 1625.5,657.1 1621.5,653.7 1617.0,651.0 1612.2,649.7 1607.2,650.4 1602.5,652.4 1598.3,655.3 1594.6,658.7 1591.3,662.5 1588.3,666.6 1585.6,670.9 1583.1,675.3 1580.7,679.8 1578.3,684.3 1576.0,688.8 1573.8,693.3 1571.5,697.8 1569.3,702.3 1567.0,706.8 1564.6,711.3 1562.2,715.7 1559.8,720.2 1557.4,724.6 1555.1,729.1 1552.8,733.6 1550.7,738.2 1548.7,742.8 1546.7,747.5 1544.7,752.1 1542.7,756.8 1540.5,761.3 1538.2,765.8 1535.8,770.3 1533.3,774.7 1530.8,779.0 1528.3,783.4 1525.8,787.8 1523.4,792.3 1521.1,796.8 1518.8,801.3 1516.5,805.8 1514.2,810.2 1511.8,814.7 1509.3,819.1 1506.8,823.5 1504.3,827.9 1501.9,832.3 1499.4,836.7 1496.9,841.1 1494.3,845.5 1491.7,849.8 1489.1,854.1 1486.3,858.3 1483.5,862.5 1480.7,866.7 1477.8,870.9 1475.0,875.1 1472.1,879.3 1469.3,883.4 1466.3,887.5 1463.2,891.5 1459.9,895.3 1456.3,898.9 1452.5,902.2 1448.3,905.2 1443.8,907.7 1439.1,909.4 1434.2,910.2 1429.1,910.3 1424.0,910.1 1418.9,909.6 1414.0,908.5 1409.3,906.6 1405.0,903.7 1401.6,900.1 1398.8,895.8 1396.5,891.3 1394.4,886.7 1392.4,882.0 1390.5,877.4 1388.8,872.6 1387.3,867.8 1385.9,863.0 1384.7,858.1 1383.5,853.1 1382.4,848.2 1381.3,843.2 1380.2,838.3 1379.1,833.3 1378.0,828.4 1377.0,823.4 1375.9,818.5 1374.8,813.6 1373.8,808.6 1372.8,803.7 1371.7,798.7 1370.8,793.8 1369.8,788.9 1368.8,783.9 1367.9,778.9 1367.0,774.0 1366.1,769.0 1365.3,764.0 1364.5,759.0 1363.7,754.0 1363.0,749.0Z" fill="#4169e1" fill-opacity="0.8" stroke="#4169e1" stroke-opacity="1.0" stroke-width="4.4" stroke-linejoin="round"/>
<path d="M1363.0,906.0 1367.5,903.7 1372.0,901.2 1376.5,898.4 1380.9,895.4 1384.9,892.0 1388.6,888.3 1391.8,884.3 1394.5,879.9 1396.7,875.2 1398.5,870.3 1400.2,865.3 1401.8,860.3 1403.4,855.3 1404.8,850.3 1406.2,845.3 1407.5,840.3 1408.8,835.3 1409.9,830.2 1411.0,825.2 1412.0,820.1 1412.9,815.0 1413.7,809.9 1414.5,804.8 1415.2,799.6 1415.9,794.5 1416.6,789.3 1417.3,784.2 1418.0,779.0 1418.7,773.9 1419.5,768.7 1420.3,763.6 1421.1,758.5 1422.1,753.4 1423.1,748.3 1424.1,743.2 1425.2,738.1 1426.4,733.0 1427.6,728.0 1428.8,722.9 1430.0,717.9 1431.3,712.9 1432.5,707.8 1433.8,702.8 1435.1,697.7 1436.4,692.7 1437.6,687.7 1438.9,682.6 1440.2,677.6 1441.4,672.6 1442.7,667.5 1443.9,662.5 1445.2,657.5 1446.4,652.4 1447.7,647.4 1449.0,642.3 1450.3,637.3 1451.7,632.3 1453.2,627.3 1454.7,622.4 1456.4,617.5 1458.1,612.6 1460.1,607.7 1462.4,603.1 1465.1,598.6 1468.3,594.6 1472.3,591.2 1476.9,588.8 1482.0,587.8 1487.2,587.9 1492.3,588.8 1497.4,590.1 1502.5,591.4 1507.5,592.8 1512.4,594.5 1517.1,596.4 1521.8,598.7 1526.4,601.2 1530.9,603.8 1535.4,606.4 1539.8,609.2 1544.1,612.1 1548.3,615.1 1552.5,618.2 1556.7,621.2 1560.9,624.2 1565.2,627.2 1569.5,630.1 1573.8,633.0 1578.1,635.9 1582.5,638.7 1586.8,641.4 1591.3,644.2 1595.7,646.9 1600.1,649.7 1604.2,652.8 1607.5,656.7 1610.3,661.1 1612.7,665.8 1614.9,670.6 1617.2,675.4 1619.7,680.1 1622.3,684.6 1625.1,689.0 1627.9,693.3 1630.7,697.6 1633.6,701.9 1636.5,706.2 1639.3,710.5 1642.1,714.9 1644.9,719.3 1647.7,723.7 1650.5,728.0 1653.3,732.4 1656.2,736.8 1659.0,741.1 1661.9,745.4 1664.8,749.7 1667.7,754.0 1670.5,758.4 1673.4,762.7 1676.2,767.1 1679.0,771.4 1681.8,775.8 1684.5,780.3 1687.2,784.7 1689.8,789.2 1692.3,793.7 1694.8,798.3 1697.3,802.8 1699.8,807.4 1702.3,811.9 1704.9,816.4 1707.6,820.9 1710.4,825.3 1713.7,829.3 1717.5,832.9 1722.1,835.8 1727.2,837.7 1732.3,838.1 1736.9,836.8 1741.1,833.9 1744.9,830.0 1748.6,825.7 1752.1,821.5 1755.7,817.6 1759.2,813.8 1762.6,810.0 1765.9,806.2 1769.0,802.1 1771.9,797.8 1774.6,793.3 1777.0,788.7 1779.1,783.8 1780.9,778.8 1782.6,773.8 1784.6,768.9 1786.9,764.4 1790.0,760.4 1794.0,757.0 1794.0,871.6 1789.3,872.1 1784.6,872.6 1779.9,873.1 1775.2,873.5 1770.4,873.9 1765.7,874.3 1761.0,874.6 1756.3,874.9 1751.5,875.1 1746.8,875.3 1742.1,875.4 1737.3,875.4 1732.6,875.4 1727.9,875.3 1723.1,875.1 1718.4,874.8 1713.7,874.5 1709.0,874.1 1704.2,873.6 1699.5,873.0 1694.8,872.3 1690.2,871.5 1685.5,870.6 1680.9,869.6 1676.3,868.5 1671.7,867.3 1667.2,866.0 1662.6,864.6 1658.1,863.2 1653.6,861.7 1649.2,860.1 1644.7,858.4 1640.4,856.5 1636.1,854.4 1632.2,851.8 1628.5,848.8 1625.2,845.4 1622.0,841.8 1619.1,838.0 1616.4,834.1 1613.9,830.1 1611.5,826.1 1609.2,821.9 1607.0,817.7 1604.8,813.5 1602.7,809.3 1600.7,805.0 1598.7,800.7 1596.8,796.4 1594.8,792.1 1592.9,787.7 1591.1,783.4 1589.1,779.0 1587.2,774.7 1585.2,770.4 1583.1,766.2 1581.0,761.9 1578.8,757.7 1576.5,753.6 1574.3,749.3 1572.3,745.1 1570.3,740.8 1568.6,736.4 1567.0,732.0 1565.6,727.4 1564.4,722.9 1563.1,718.3 1562.0,713.7 1560.8,709.1 1559.7,704.5 1558.5,699.9 1557.2,695.3 1555.8,690.8 1554.4,686.3 1553.0,681.8 1551.5,677.3 1550.1,672.7 1548.6,668.2 1547.1,663.7 1545.4,659.2 1543.5,654.9 1541.4,650.8 1538.9,646.8 1536.1,642.9 1532.9,639.1 1529.3,635.8 1525.2,633.5 1520.7,632.7 1515.9,633.0 1511.1,634.1 1506.7,635.7 1502.5,637.9 1498.7,640.6 1495.2,643.9 1492.1,647.4 1489.0,651.2 1486.1,655.0 1483.3,658.8 1480.6,662.6 1477.9,666.5 1475.3,670.5 1472.8,674.5 1470.3,678.5 1468.0,682.6 1465.7,686.8 1463.5,691.0 1461.4,695.3 1459.4,699.6 1457.6,703.9 1455.8,708.3 1454.2,712.8 1452.6,717.3 1451.2,721.8 1449.9,726.3 1448.7,730.9 1447.5,735.5 1446.3,740.1 1445.2,744.7 1444.0,749.3 1442.8,753.9 1441.5,758.4 1440.1,762.9 1438.6,767.4 1437.0,771.9 1435.4,776.3 1433.6,780.7 1431.9,785.1 1430.1,789.5 1428.3,793.9 1426.5,798.3 1424.8,802.7 1423.1,807.2 1421.5,811.6 1419.9,816.1 1418.4,820.6 1417.1,825.1 1415.8,829.6 1414.7,834.2 1413.5,838.8 1412.5,843.4 1411.4,848.0 1410.2,852.6 1409.1,857.2 1407.8,861.8 1406.5,866.4 1405.1,870.9 1403.4,875.4 1401.6,879.8 1399.6,884.1 1397.2,888.2 1394.5,892.1 1391.5,895.7 1388.1,899.1 1384.5,902.2 1380.6,904.9 1376.5,907.3 1372.1,909.3 1367.6,910.9 1363.0,912.0Z" fill="#4169e1" fill-opacity="0.8" stroke="#4169e1" stroke-opacity="1.0" stroke-width="4.4" stroke-linejoin="round"/>
<path d="M1363.9,746.2 1364.9,750.2 1365.9,754.2 1366.8,758.2 1367.7,762.2 1368.6,766.2 1369.5,770.3 1370.4,774.3 1371.2,778.4 1372.1,782.4 1372.9,786.4 1373.8,790.5 1374.7,794.5 1375.5,798.6 1376.4,802.6 1377.3,806.6 1378.2,810.7 1379.1,814.7 1380.1,818.7 1381.0,822.7 1382.0,826.7 1383.0,830.7 1384.0,834.7 1385.0,838.7 1386.0,842.7 1387.0,846.7 1387.9,850.7 1388.9,854.8 1390.0,858.8 1391.1,862.8 1392.3,866.7 1393.6,870.6 1395.2,874.4 1397.0,878.1 1399.1,881.7 1401.5,885.1 1404.2,888.3 1407.2,891.1 1410.6,893.4 1414.2,895.0 1418.1,895.8 1422.2,896.1 1426.4,896.0 1430.7,895.7 1434.8,895.1 1438.9,894.4 1442.9,893.4 1446.8,892.0 1450.5,890.3 1454.0,888.2 1457.3,885.7 1460.2,882.9 1462.7,879.6 1464.8,876.1 1466.7,872.4 1468.4,868.6 1470.0,864.7 1471.5,860.9 1473.0,857.0 1474.4,853.2 1475.8,849.3 1477.2,845.4 1478.5,841.5 1479.8,837.6 1481.0,833.7 1482.3,829.7 1483.5,825.8 1484.7,821.8 1485.9,817.9 1487.2,813.9 1488.4,810.0 1489.6,806.1 1490.8,802.1 1492.1,798.2 1493.3,794.2 1494.6,790.3 1495.8,786.4 1497.1,782.4 1498.4,778.5 1499.6,774.6 1500.9,770.7 1502.2,766.7 1503.5,762.8 1504.8,758.9 1506.1,755.0 1507.4,751.1 1508.8,747.2 1510.1,743.3 1511.5,739.4 1512.9,735.5 1514.2,731.6 1515.6,727.7 1517.0,723.8 1518.5,720.0 1519.9,716.1 1521.3,712.2 1522.8,708.4 1524.3,704.5 1525.8,700.7 1527.3,696.8 1528.8,693.0 1530.3,689.1 1531.9,685.3 1533.4,681.5 1535.0,677.7 1536.6,673.9 1538.3,670.1 1539.9,666.3 1541.6,662.5 1543.3,658.8 1545.0,655.0 1546.8,651.3 1548.6,647.6 1550.5,643.9 1552.5,640.3 1554.7,636.8 1557.1,633.5 1559.7,630.3 1562.7,627.4 1565.8,624.7 1569.2,622.5 1572.9,620.6 1576.8,619.1 1580.7,617.9 1584.8,617.0 1588.8,616.3 1593.0,615.9 1597.1,615.8 1601.3,615.8 1605.5,616.1 1609.6,616.6 1613.8,617.3 1617.9,618.1 1622.0,619.2 1626.1,620.5 1630.1,621.9 1634.0,623.5 1637.8,625.3 1641.6,627.2 1645.2,629.2 1648.8,631.4 1652.2,633.7 1655.6,636.1 1658.8,638.6 1661.9,641.2 1664.9,644.0 1667.9,646.8 1670.8,649.7 1673.5,652.7 1676.3,655.8 1678.9,658.9 1681.5,662.1 1684.0,665.4 1686.5,668.7 1688.9,672.1 1691.3,675.5 1693.6,678.9 1695.9,682.4 1698.2,685.8 1700.5,689.3 1702.7,692.8 1704.9,696.3 1707.1,699.9 1709.3,703.4 1711.5,706.9 1713.7,710.4 1715.9,713.9 1718.0,717.4 1720.2,720.9 1722.4,724.4 1724.6,727.9 1726.7,731.4 1728.9,734.9 1731.1,738.4 1733.2,741.8 1735.4,745.3 1737.6,748.8 1739.8,752.3 1742.0,755.8 1744.2,759.2 1746.5,762.7 1748.7,766.2 1751.0,769.6 1753.2,773.1 1755.5,776.5 1757.8,780.0 1760.2,783.4 1762.6,786.8 1765.0,790.2 1767.5,793.5 1770.0,796.7 1772.6,799.9 1775.3,803.0 1778.1,806.1 1781.0,809.0 1783.9,811.8 1787.0,814.6 1790.2,817.2 1793.6,819.6 1797.1,821.9 1794.0,853.9 1789.9,852.5 1786.1,850.7 1782.6,848.5 1779.2,846.0 1776.0,843.3 1773.0,840.4 1770.1,837.3 1767.2,834.2 1764.5,831.0 1761.8,827.7 1759.3,824.4 1756.8,821.0 1754.3,817.6 1751.9,814.1 1749.5,810.6 1747.2,807.1 1744.9,803.6 1742.6,800.0 1740.4,796.5 1738.2,792.9 1736.0,789.3 1733.9,785.7 1731.8,782.0 1729.7,778.4 1727.7,774.7 1725.7,771.0 1723.8,767.2 1722.0,763.4 1720.2,759.6 1718.4,755.8 1716.6,752.0 1714.8,748.2 1713.0,744.4 1711.1,740.6 1709.2,736.8 1707.3,733.1 1705.3,729.4 1703.3,725.7 1701.2,722.0 1699.2,718.3 1697.1,714.7 1695.0,711.0 1692.9,707.4 1690.8,703.7 1688.7,700.1 1686.6,696.5 1684.5,692.8 1682.4,689.2 1680.2,685.6 1678.1,682.0 1675.9,678.4 1673.7,674.8 1671.5,671.2 1669.2,667.7 1666.9,664.1 1664.5,660.6 1662.1,657.1 1659.6,653.6 1657.0,650.3 1654.3,647.0 1651.5,644.0 1648.5,641.1 1645.3,638.5 1641.9,636.1 1638.3,634.0 1634.5,632.2 1630.6,630.6 1626.5,629.1 1622.4,627.7 1618.2,626.4 1614.0,625.2 1609.8,624.1 1605.6,623.2 1601.3,622.5 1597.1,622.1 1592.9,622.0 1588.7,622.2 1584.5,622.8 1580.4,623.7 1576.4,625.1 1572.6,626.9 1569.0,629.1 1565.9,631.7 1563.0,634.7 1560.4,637.9 1558.0,641.3 1555.8,645.0 1553.7,648.7 1551.8,652.5 1549.9,656.3 1548.1,660.1 1546.3,664.0 1544.5,667.8 1542.8,671.6 1541.1,675.5 1539.4,679.3 1537.7,683.1 1536.1,687.0 1534.4,690.8 1532.8,694.7 1531.1,698.6 1529.5,702.4 1527.9,706.3 1526.2,710.2 1524.6,714.1 1523.0,718.0 1521.4,721.9 1519.9,725.8 1518.3,729.7 1516.8,733.6 1515.2,737.6 1513.7,741.5 1512.2,745.5 1510.8,749.4 1509.3,753.4 1507.9,757.3 1506.5,761.3 1505.1,765.2 1503.7,769.2 1502.4,773.2 1501.0,777.2 1499.7,781.2 1498.4,785.2 1497.1,789.2 1495.8,793.2 1494.5,797.2 1493.2,801.2 1491.9,805.2 1490.6,809.2 1489.4,813.2 1488.1,817.2 1486.9,821.3 1485.6,825.3 1484.3,829.3 1483.1,833.3 1481.8,837.3 1480.5,841.3 1479.1,845.3 1477.7,849.3 1476.3,853.2 1474.9,857.1 1473.4,861.1 1471.8,865.0 1470.2,868.9 1468.4,872.8 1466.5,876.6 1464.3,880.2 1461.8,883.6 1458.9,886.5 1455.7,889.1 1452.2,891.3 1448.4,893.1 1444.5,894.6 1440.4,895.7 1436.3,896.6 1432.0,897.2 1427.7,897.6 1423.5,897.8 1419.2,897.6 1415.2,896.9 1411.3,895.5 1407.8,893.4 1404.6,890.8 1401.6,887.8 1399.0,884.4 1396.7,880.8 1394.8,877.1 1393.0,873.3 1391.5,869.4 1390.2,865.4 1389.0,861.4 1388.0,857.3 1387.0,853.1 1386.0,849.0 1385.0,844.9 1384.0,840.8 1382.9,836.7 1381.9,832.7 1380.9,828.6 1379.9,824.5 1378.9,820.4 1378.0,816.4 1377.0,812.3 1376.1,808.2 1375.2,804.1 1374.3,799.9 1373.4,795.8 1372.6,791.7 1371.7,787.6 1370.8,783.4 1370.0,779.3 1369.1,775.2 1368.2,771.1 1367.3,767.0 1366.4,762.8 1365.5,758.7 1364.5,754.7 1363.6,750.6 1362.6,746.5Z" fill="#ffd700" fill-opacity="0.8" stroke="#ffd700" stroke-opacity="1.0" stroke-width="5.2" stroke-linejoin="round"/>
<path d="M1362.5,908.2 1366.4,907.2 1370.2,906.0 1373.9,904.5 1377.3,902.6 1380.5,900.3 1383.5,897.6 1386.1,894.6 1388.5,891.4 1390.7,888.1 1392.6,884.6 1394.3,881.1 1395.9,877.4 1397.4,873.8 1398.7,870.0 1400.0,866.2 1401.2,862.4 1402.4,858.6 1403.6,854.8 1404.8,851.0 1406.0,847.2 1407.1,843.4 1408.2,839.6 1409.4,835.8 1410.5,832.0 1411.6,828.2 1412.7,824.4 1413.8,820.5 1414.9,816.7 1416.0,812.9 1417.1,809.1 1418.2,805.3 1419.3,801.4 1420.4,797.6 1421.5,793.8 1422.6,790.0 1423.7,786.2 1424.8,782.4 1426.0,778.5 1427.1,774.7 1428.2,770.9 1429.3,767.1 1430.4,763.3 1431.5,759.4 1432.6,755.6 1433.6,751.8 1434.7,747.9 1435.7,744.1 1436.7,740.3 1437.7,736.4 1438.7,732.6 1439.6,728.7 1440.5,724.8 1441.5,721.0 1442.4,717.1 1443.2,713.2 1444.1,709.4 1445.0,705.5 1445.9,701.6 1446.8,697.8 1447.8,693.9 1448.7,690.0 1449.6,686.2 1450.6,682.3 1451.6,678.4 1452.6,674.6 1453.7,670.8 1454.8,666.9 1455.9,663.1 1457.1,659.3 1458.4,655.5 1459.7,651.8 1461.1,648.1 1462.6,644.4 1464.1,640.7 1465.8,637.1 1467.5,633.5 1469.3,630.0 1471.2,626.5 1473.3,623.1 1475.5,619.8 1477.7,616.5 1480.2,613.4 1483.0,610.6 1486.2,608.5 1489.9,607.1 1493.8,606.3 1497.7,606.0 1501.8,606.1 1505.8,606.4 1509.8,606.9 1513.8,607.5 1517.7,608.2 1521.6,609.0 1525.4,610.1 1529.2,611.3 1532.8,612.7 1536.4,614.3 1539.9,616.2 1543.2,618.4 1546.5,620.7 1549.6,623.3 1552.6,625.9 1555.5,628.7 1558.3,631.5 1560.9,634.4 1563.3,637.5 1565.5,640.8 1567.6,644.2 1569.4,647.7 1571.2,651.3 1573.0,654.9 1574.8,658.4 1576.6,662.0 1578.5,665.5 1580.2,669.1 1582.0,672.6 1583.8,676.2 1585.5,679.7 1587.2,683.3 1588.9,686.9 1590.6,690.5 1592.3,694.1 1593.9,697.7 1595.6,701.4 1597.2,705.0 1598.8,708.6 1600.5,712.2 1602.1,715.9 1603.7,719.5 1605.4,723.1 1607.0,726.7 1608.6,730.4 1610.3,734.0 1611.9,737.6 1613.6,741.2 1615.3,744.8 1617.0,748.4 1618.6,752.0 1620.4,755.6 1622.1,759.2 1623.8,762.8 1625.6,766.3 1627.4,769.9 1629.2,773.5 1631.0,777.0 1632.8,780.5 1634.6,784.1 1636.4,787.6 1638.2,791.2 1640.0,794.7 1641.8,798.3 1643.6,801.8 1645.4,805.3 1647.2,808.9 1649.1,812.4 1651.1,815.8 1653.1,819.2 1655.2,822.6 1657.3,826.0 1659.6,829.2 1661.9,832.4 1664.4,835.6 1667.0,838.6 1669.8,841.6 1672.7,844.4 1675.7,847.1 1678.8,849.6 1682.0,851.9 1685.4,853.9 1688.9,855.7 1692.5,857.2 1696.2,858.4 1700.0,859.3 1703.9,859.8 1707.9,859.9 1712.0,859.8 1716.0,859.5 1720.1,859.1 1724.1,858.7 1728.1,858.2 1732.0,857.7 1735.9,857.2 1739.8,856.6 1743.7,855.9 1747.5,855.0 1751.4,854.0 1755.2,852.9 1759.0,851.6 1762.7,850.1 1766.3,848.4 1769.8,846.6 1773.2,844.5 1776.5,842.2 1779.6,839.8 1782.6,837.2 1785.6,834.4 1788.5,831.7 1791.3,828.8 1794.0,826.0 1797.0,853.9 1793.0,854.0 1789.0,854.3 1785.1,854.9 1781.2,855.7 1777.4,856.7 1773.5,857.7 1769.7,858.9 1765.9,860.0 1762.1,861.1 1758.2,862.1 1754.4,863.0 1750.5,863.8 1746.6,864.5 1742.7,865.1 1738.7,865.7 1734.8,866.3 1730.9,866.8 1726.9,867.2 1723.0,867.6 1719.0,868.1 1715.1,868.5 1711.1,868.9 1707.2,869.4 1703.2,869.8 1699.3,870.1 1695.3,870.2 1691.4,870.0 1687.4,869.4 1683.4,868.4 1679.6,867.1 1675.8,865.4 1672.3,863.5 1669.0,861.4 1665.9,859.1 1662.9,856.6 1660.2,853.9 1657.6,851.0 1655.1,848.0 1652.7,844.8 1650.5,841.5 1648.3,838.2 1646.3,834.8 1644.3,831.3 1642.4,827.7 1640.5,824.2 1638.6,820.6 1636.7,817.0 1634.9,813.4 1633.1,809.9 1631.3,806.3 1629.5,802.8 1627.7,799.2 1625.9,795.6 1624.2,792.1 1622.5,788.5 1620.8,784.9 1619.1,781.4 1617.4,777.8 1615.8,774.2 1614.1,770.6 1612.5,767.0 1611.0,763.4 1609.4,759.8 1607.9,756.1 1606.4,752.5 1604.9,748.8 1603.4,745.1 1602.0,741.5 1600.6,737.7 1599.2,734.0 1597.9,730.3 1596.5,726.5 1595.2,722.8 1593.8,719.0 1592.5,715.3 1591.1,711.5 1589.7,707.8 1588.3,704.1 1586.9,700.3 1585.4,696.6 1583.9,693.0 1582.4,689.3 1580.8,685.7 1579.1,682.1 1577.4,678.5 1575.6,675.0 1573.9,671.4 1572.1,667.9 1570.4,664.3 1568.8,660.7 1567.1,657.1 1565.3,653.5 1563.5,650.0 1561.5,646.6 1559.5,643.2 1557.2,640.0 1554.8,636.8 1552.1,633.8 1549.4,631.0 1546.4,628.3 1543.3,625.8 1540.1,623.5 1536.8,621.4 1533.3,619.5 1529.7,617.8 1526.0,616.4 1522.2,615.1 1518.4,614.1 1514.5,613.3 1510.6,612.6 1506.6,612.2 1502.7,611.9 1498.7,611.8 1494.8,611.9 1490.8,612.6 1487.1,614.2 1484.2,616.7 1481.8,619.8 1479.6,623.1 1477.5,626.5 1475.4,630.0 1473.5,633.4 1471.7,636.9 1469.9,640.5 1468.2,644.1 1466.5,647.7 1464.9,651.3 1463.4,655.0 1462.0,658.6 1460.6,662.4 1459.2,666.1 1457.9,669.8 1456.6,673.6 1455.4,677.4 1454.2,681.2 1453.0,684.9 1451.9,688.7 1450.7,692.6 1449.7,696.4 1448.6,700.2 1447.5,704.0 1446.5,707.9 1445.5,711.7 1444.5,715.5 1443.6,719.4 1442.6,723.2 1441.7,727.1 1440.7,731.0 1439.8,734.8 1438.9,738.7 1438.0,742.5 1437.1,746.4 1436.1,750.3 1435.1,754.1 1434.0,757.9 1432.8,761.7 1431.6,765.5 1430.4,769.3 1429.2,773.0 1428.0,776.8 1426.9,780.6 1425.8,784.5 1424.7,788.3 1423.6,792.1 1422.5,795.9 1421.5,799.7 1420.4,803.6 1419.3,807.4 1418.2,811.2 1417.1,815.0 1416.0,818.8 1414.9,822.6 1413.8,826.4 1412.7,830.2 1411.6,834.0 1410.4,837.8 1409.3,841.6 1408.1,845.4 1406.9,849.2 1405.8,853.0 1404.6,856.8 1403.4,860.6 1402.1,864.4 1400.9,868.2 1399.6,871.9 1398.2,875.6 1396.7,879.3 1395.1,882.9 1393.3,886.4 1391.3,889.8 1389.1,893.1 1386.7,896.3 1383.9,899.2 1380.9,901.8 1377.7,904.0 1374.2,905.9 1370.5,907.3 1366.7,908.6 1362.9,909.6Z" fill="#ffd700" fill-opacity="0.8" stroke="#ffd700" stroke-opacity="1.0" stroke-width="5.2" stroke-linejoin="round"/>
</g>
<line x1="1342.70" y1="924.30" x2="1812.80" y2="924.30" stroke="#000" stroke-width="2.1" />
<line x1="1363.80" y1="924.30" x2="1363.80" y2="936.80" stroke="#000" stroke-width="2.1" />
<text x="1363.80" y="966.50" font-size="29" text-anchor="middle" font-weight="normal" font-style="normal" >0</text>
<line x1="1500.50" y1="924.30" x2="1500.50" y2="936.80" stroke="#000" stroke-width="2.1" />
<text x="1500.50" y="966.50" font-size="29" text-anchor="middle" font-weight="normal" font-style="normal" >2</text>
<line x1="1637.20" y1="924.30" x2="1637.20" y2="936.80" stroke="#000" stroke-width="2.1" />
<text x="1637.20" y="966.50" font-size="29" text-anchor="middle" font-weight="normal" font-style="normal" >4</text>
<line x1="1773.90" y1="924.30" x2="1773.90" y2="936.80" stroke="#000" stroke-width="2.1" />
<text x="1773.90" y="966.50" font-size="29" text-anchor="middle" font-weight="normal" font-style="normal" >6</text>
<text x="1585.50" y="1005.00" font-size="29" text-anchor="middle"><tspan font-style="italic">t</tspan> (s)</text>
</g>
<g id="panel-e">
<clipPath id="clipe"><rect x="1340" y="1130" width="455.9" height="360"/></clipPath>
<g clip-path="url(#clipe)">
<path d="M1364.9,1154.9 1365.0,1157.6 1365.0,1160.3 1365.0,1163.0 1365.1,1165.7 1365.1,1168.5 1365.1,1171.2 1365.2,1173.9 1365.2,1176.6 1365.2,1179.3 1365.3,1182.1 1365.4,1184.8 1365.4,1187.5 1365.5,1190.2 1365.6,1192.9 1365.8,1195.6 1365.9,1198.3 1366.1,1201.0 1366.3,1203.7 1366.5,1206.4 1366.7,1209.1 1366.9,1211.8 1367.1,1214.5 1367.2,1217.2 1367.4,1219.9 1367.7,1222.6 1368.0,1225.3 1368.5,1227.9 1369.2,1230.5 1370.1,1233.0 1371.2,1235.4 1372.5,1237.6 1374.1,1239.7 1375.7,1241.7 1377.5,1243.6 1379.3,1245.5 1381.2,1247.2 1383.1,1248.9 1385.2,1250.5 1387.2,1252.1 1389.4,1253.5 1391.5,1255.1 1393.7,1256.7 1396.0,1258.2 1398.3,1259.7 1400.6,1261.1 1402.9,1262.5 1405.3,1263.8 1407.6,1265.2 1410.0,1266.5 1412.4,1267.8 1414.8,1269.0 1417.2,1270.3 1419.6,1271.6 1422.0,1272.8 1424.4,1274.0 1426.9,1275.2 1429.3,1276.4 1431.8,1277.5 1434.2,1278.7 1436.7,1279.8 1439.1,1281.0 1441.5,1282.3 1443.9,1283.6 1446.3,1284.9 1448.6,1286.2 1451.0,1287.6 1453.4,1288.9 1455.7,1290.2 1458.1,1291.5 1460.4,1292.9 1462.7,1294.3 1465.0,1295.7 1467.3,1297.1 1469.6,1298.6 1471.8,1300.1 1474.1,1301.6 1476.3,1303.1 1478.5,1304.7 1480.7,1306.2 1482.9,1307.8 1485.1,1309.4 1487.3,1310.9 1489.5,1312.5 1491.7,1314.1 1493.9,1315.7 1496.0,1317.2 1498.2,1318.8 1500.4,1320.3 1502.6,1321.9 1504.8,1323.5 1507.0,1325.1 1509.2,1326.6 1511.4,1328.2 1513.6,1329.8 1515.8,1331.4 1517.9,1333.0 1520.1,1334.6 1522.2,1336.2 1524.4,1337.7 1526.5,1339.3 1528.6,1340.9 1530.7,1342.4 1532.8,1344.1 1534.8,1345.7 1536.9,1347.3 1538.9,1349.0 1541.0,1350.7 1543.0,1352.3 1545.0,1354.0 1547.1,1355.7 1549.1,1357.4 1551.1,1359.1 1553.1,1360.8 1555.1,1362.5 1557.1,1364.2 1559.1,1366.0 1561.1,1367.7 1563.0,1369.4 1565.0,1371.2 1567.0,1372.9 1568.9,1374.7 1570.9,1376.5 1572.8,1378.3 1574.7,1380.1 1576.6,1381.9 1578.5,1383.7 1580.4,1385.5 1582.3,1387.3 1584.1,1389.0 1586.0,1390.8 1587.9,1392.6 1589.8,1394.3 1591.7,1396.1 1593.6,1397.8 1595.5,1399.5 1597.5,1401.2 1599.4,1402.8 1601.4,1404.5 1603.4,1406.1 1605.4,1407.8 1607.4,1409.4 1609.4,1411.0 1611.4,1412.5 1613.5,1414.1 1615.5,1415.7 1617.6,1417.2 1619.7,1418.8 1621.7,1420.3 1623.8,1421.9 1625.9,1423.4 1628.0,1424.9 1630.1,1426.3 1632.3,1427.7 1634.5,1429.2 1636.8,1430.9 1639.1,1432.7 1641.4,1434.3 1643.8,1435.9 1646.2,1437.5 1648.6,1439.0 1651.1,1440.4 1653.6,1441.9 1656.1,1443.2 1658.6,1444.6 1661.1,1445.9 1663.7,1447.1 1666.2,1448.3 1668.8,1449.5 1671.4,1450.7 1674.0,1451.8 1676.6,1452.8 1679.2,1453.9 1681.8,1454.9 1684.5,1455.8 1687.1,1456.8 1689.8,1457.7 1692.5,1458.5 1695.1,1459.2 1697.8,1459.8 1700.5,1460.3 1703.3,1460.6 1706.0,1460.9 1708.7,1461.0 1711.4,1461.1 1714.1,1461.0 1716.9,1460.9 1719.6,1460.7 1722.3,1460.3 1724.9,1459.3 1727.6,1458.3 1730.2,1457.1 1732.8,1455.9 1735.4,1454.6 1738.0,1453.3 1740.5,1451.9 1743.0,1450.4 1745.4,1448.8 1747.8,1447.2 1750.2,1445.6 1752.6,1443.8 1754.9,1442.1 1757.2,1440.3 1759.5,1438.4 1761.7,1436.6 1764.0,1434.7 1766.2,1432.8 1768.4,1430.9 1770.7,1429.0 1772.9,1427.1 1775.2,1425.2 1777.4,1423.3 1779.7,1421.5 1782.0,1419.6 1784.3,1417.9 1786.7,1416.1 1789.1,1414.5 1791.5,1412.8 1794.0,1411.3 1796.5,1409.8 1796.5,1442.7 1794.0,1443.7 1791.5,1444.7 1789.1,1445.9 1786.7,1447.1 1784.3,1448.3 1782.0,1449.6 1779.7,1451.0 1777.4,1452.4 1775.2,1453.8 1772.9,1455.3 1770.7,1456.6 1768.4,1457.9 1766.2,1459.1 1764.0,1460.4 1761.7,1461.6 1759.5,1462.8 1757.2,1464.0 1754.9,1465.1 1752.6,1466.2 1750.2,1467.2 1747.8,1468.2 1745.4,1469.1 1743.0,1470.0 1740.5,1470.7 1738.0,1471.4 1735.4,1472.0 1732.8,1472.6 1730.2,1473.0 1727.6,1473.4 1724.9,1473.7 1722.3,1473.8 1719.6,1474.6 1716.9,1475.4 1714.1,1476.0 1711.4,1476.6 1708.7,1477.1 1706.0,1477.5 1703.3,1477.7 1700.5,1477.9 1697.8,1478.0 1695.1,1477.9 1692.5,1477.7 1689.8,1477.4 1687.1,1477.1 1684.5,1476.7 1681.8,1476.2 1679.2,1475.8 1676.6,1475.2 1674.0,1474.7 1671.4,1474.1 1668.8,1473.5 1666.2,1472.8 1663.7,1472.1 1661.1,1471.4 1658.6,1470.6 1656.1,1469.8 1653.6,1468.9 1651.1,1468.0 1648.6,1467.0 1646.2,1466.0 1643.8,1465.0 1641.4,1463.8 1639.1,1462.6 1636.8,1461.4 1634.5,1460.1 1632.3,1458.5 1630.1,1456.7 1628.0,1455.0 1625.9,1453.2 1623.8,1451.4 1621.7,1449.5 1619.7,1447.7 1617.6,1445.8 1615.5,1443.9 1613.5,1442.1 1611.4,1440.2 1609.4,1438.3 1607.4,1436.4 1605.4,1434.5 1603.4,1432.6 1601.4,1430.7 1599.4,1428.7 1597.5,1426.8 1595.5,1424.8 1593.6,1422.8 1591.7,1420.8 1589.8,1418.8 1587.9,1416.7 1586.0,1414.7 1584.1,1412.7 1582.3,1410.6 1580.4,1408.6 1578.5,1406.4 1576.6,1404.2 1574.7,1402.0 1572.8,1399.8 1570.9,1397.6 1568.9,1395.5 1567.0,1393.3 1565.0,1391.2 1563.0,1389.0 1561.1,1386.9 1559.1,1384.8 1557.1,1382.7 1555.1,1380.5 1553.1,1378.4 1551.1,1376.3 1549.1,1374.2 1547.1,1372.1 1545.0,1370.0 1543.0,1367.9 1541.0,1365.8 1538.9,1363.8 1536.9,1361.7 1534.8,1359.7 1532.8,1357.6 1530.7,1355.6 1528.6,1353.6 1526.5,1351.6 1524.4,1349.6 1522.2,1347.6 1520.1,1345.7 1517.9,1343.9 1515.8,1342.2 1513.6,1340.5 1511.4,1338.8 1509.2,1337.1 1507.0,1335.4 1504.8,1333.7 1502.6,1332.1 1500.4,1330.4 1498.2,1328.7 1496.0,1327.1 1493.9,1325.4 1491.7,1323.7 1489.5,1322.0 1487.3,1320.4 1485.1,1318.7 1482.9,1317.0 1480.7,1315.3 1478.5,1313.6 1476.3,1312.0 1474.1,1310.3 1471.8,1308.7 1469.6,1307.1 1467.3,1305.5 1465.0,1304.0 1462.7,1302.5 1460.4,1301.0 1458.1,1299.5 1455.7,1298.1 1453.4,1296.6 1451.0,1295.2 1448.6,1293.8 1446.3,1292.4 1443.9,1291.1 1441.5,1289.8 1439.1,1288.5 1436.7,1287.3 1434.2,1286.1 1431.8,1284.9 1429.3,1283.7 1426.9,1282.5 1424.4,1281.3 1422.0,1280.0 1419.6,1278.8 1417.2,1277.5 1414.8,1276.2 1412.4,1274.9 1410.0,1273.5 1407.6,1272.2 1405.3,1270.8 1402.9,1269.5 1400.6,1268.1 1398.3,1266.6 1396.0,1265.1 1393.7,1263.5 1391.5,1261.9 1389.4,1260.2 1387.2,1258.3 1385.2,1256.3 1383.1,1254.3 1381.2,1252.2 1379.3,1250.0 1377.5,1247.8 1375.7,1245.5 1374.1,1243.2 1372.5,1240.8 1371.2,1238.3 1370.1,1235.7 1369.2,1233.0 1368.5,1230.4 1368.0,1227.6 1367.7,1224.9 1367.4,1222.2 1367.2,1219.4 1367.1,1216.7 1366.9,1213.9 1366.7,1211.2 1366.5,1208.5 1366.3,1205.8 1366.1,1203.0 1365.9,1200.3 1365.8,1197.6 1365.6,1194.9 1365.5,1192.1 1365.4,1189.4 1365.4,1186.7 1365.3,1183.9 1365.2,1181.2 1365.2,1178.5 1365.2,1175.8 1365.1,1173.0 1365.1,1170.3 1365.1,1167.6 1365.0,1164.9 1365.0,1162.1 1365.0,1159.4 1364.9,1156.7Z" fill="#4169e1" fill-opacity="0.8" stroke="#4169e1" stroke-opacity="1.0" stroke-width="4.2" stroke-linejoin="round"/>
<path d="M1364.9,1154.6 1364.9,1157.8 1365.0,1161.0 1365.0,1164.2 1365.1,1167.4 1365.1,1170.6 1365.1,1173.8 1365.2,1177.0 1365.3,1180.2 1365.3,1183.4 1365.4,1186.6 1365.6,1189.8 1365.7,1193.0 1365.8,1196.2 1366.0,1199.4 1366.2,1202.6 1366.4,1205.8 1366.6,1209.0 1366.9,1212.2 1367.2,1215.3 1367.5,1218.5 1367.8,1221.7 1368.1,1224.9 1368.4,1228.0 1368.8,1231.2 1369.1,1234.4 1369.5,1237.6 1369.8,1240.7 1370.3,1243.9 1370.7,1247.0 1371.2,1250.2 1371.7,1253.3 1372.2,1256.5 1372.8,1259.6 1373.5,1262.8 1374.1,1265.9 1374.8,1269.0 1375.5,1272.2 1376.3,1275.3 1377.0,1278.4 1377.8,1281.5 1378.6,1284.6 1379.4,1287.7 1380.2,1290.8 1381.0,1293.9 1381.9,1297.0 1382.7,1300.1 1383.6,1303.1 1384.6,1306.2 1385.5,1309.2 1386.5,1312.3 1387.6,1315.3 1388.7,1318.3 1389.8,1321.3 1391.0,1324.3 1392.2,1327.3 1393.4,1330.2 1394.7,1333.1 1396.1,1336.0 1397.5,1338.9 1398.9,1341.8 1400.4,1344.6 1402.0,1347.4 1403.5,1350.2 1405.1,1353.0 1406.8,1355.7 1408.4,1358.5 1410.1,1361.2 1411.8,1364.0 1413.5,1366.7 1415.2,1369.4 1416.9,1372.1 1418.7,1374.8 1420.4,1377.5 1422.2,1380.1 1424.0,1382.8 1425.9,1385.4 1427.8,1387.9 1429.7,1390.5 1431.7,1393.0 1433.7,1395.6 1435.7,1398.1 1437.7,1400.6 1439.7,1403.1 1441.7,1405.6 1443.7,1408.1 1445.7,1410.6 1447.8,1413.0 1449.9,1415.4 1452.0,1417.8 1454.2,1420.1 1456.5,1422.4 1458.8,1424.7 1461.1,1426.9 1463.4,1429.1 1465.7,1431.3 1468.1,1433.5 1470.5,1435.7 1472.9,1437.8 1475.3,1439.9 1477.8,1441.9 1480.3,1443.9 1482.8,1445.9 1485.4,1447.8 1488.0,1449.6 1490.7,1451.4 1493.4,1453.1 1496.2,1454.7 1498.9,1456.3 1501.7,1457.9 1504.5,1459.4 1507.4,1460.9 1510.3,1462.3 1513.2,1463.7 1516.1,1464.9 1519.1,1466.1 1522.2,1467.2 1525.2,1468.1 1528.3,1469.1 1531.4,1469.9 1534.5,1470.7 1537.6,1471.4 1540.8,1471.9 1543.9,1471.9 1547.1,1471.8 1550.3,1471.6 1553.5,1471.3 1556.7,1471.0 1559.9,1470.5 1563.1,1469.9 1566.3,1469.2 1569.5,1468.4 1572.7,1467.5 1575.9,1466.5 1579.0,1465.3 1582.0,1463.9 1585.0,1462.3 1588.0,1460.7 1591.0,1459.0 1593.9,1457.2 1596.8,1455.5 1599.7,1453.7 1602.7,1451.9 1605.6,1450.2 1608.5,1448.4 1611.3,1446.6 1614.2,1444.7 1617.0,1442.7 1619.8,1440.7 1622.5,1438.9 1625.1,1436.9 1627.8,1434.9 1630.3,1432.8 1632.8,1430.7 1635.3,1428.5 1637.8,1426.3 1640.1,1424.0 1642.5,1421.7 1644.8,1419.3 1647.1,1417.0 1649.4,1414.6 1651.7,1412.2 1654.0,1409.8 1656.3,1407.4 1658.6,1405.0 1660.9,1402.7 1663.2,1400.3 1665.5,1398.0 1667.9,1395.6 1670.2,1393.3 1672.5,1391.0 1674.9,1388.8 1677.2,1386.6 1679.5,1384.4 1681.9,1382.1 1684.2,1379.9 1686.5,1377.6 1688.8,1375.4 1691.1,1373.1 1693.3,1370.8 1695.6,1368.5 1697.9,1366.2 1700.1,1363.9 1702.4,1361.6 1704.6,1359.3 1706.9,1357.0 1709.1,1354.7 1711.4,1352.4 1713.6,1350.1 1715.9,1347.8 1718.2,1345.5 1720.5,1343.2 1722.8,1341.1 1725.1,1339.2 1727.5,1337.3 1729.9,1335.5 1732.3,1333.7 1734.7,1332.0 1737.2,1330.3 1739.8,1328.6 1742.3,1327.1 1744.9,1325.5 1747.5,1324.0 1750.2,1322.5 1752.9,1321.1 1755.6,1319.7 1758.3,1318.3 1761.1,1317.0 1763.8,1315.7 1766.6,1314.4 1769.4,1313.2 1772.3,1312.1 1775.2,1310.6 1778.1,1309.3 1781.0,1308.1 1784.0,1307.0 1787.1,1306.0 1790.2,1305.2 1793.3,1304.5 1796.5,1304.0 1796.5,1334.0 1793.3,1334.9 1790.2,1335.8 1787.1,1337.0 1784.0,1338.3 1781.0,1339.7 1778.1,1341.2 1775.2,1342.8 1772.3,1344.5 1769.4,1346.2 1766.6,1347.9 1763.8,1349.7 1761.1,1351.5 1758.3,1353.3 1755.6,1355.2 1752.9,1357.1 1750.2,1359.0 1747.5,1360.9 1744.9,1362.9 1742.3,1364.9 1739.8,1366.9 1737.2,1369.0 1734.7,1371.2 1732.3,1373.3 1729.9,1375.6 1727.5,1377.8 1725.1,1380.1 1722.8,1382.4 1720.5,1384.6 1718.2,1386.6 1715.9,1388.7 1713.6,1390.8 1711.4,1392.8 1709.1,1394.9 1706.9,1397.0 1704.6,1399.1 1702.4,1401.2 1700.1,1403.3 1697.9,1405.4 1695.6,1407.4 1693.3,1409.5 1691.1,1411.6 1688.8,1413.6 1686.5,1415.7 1684.2,1417.7 1681.9,1419.7 1679.5,1421.7 1677.2,1423.7 1674.9,1425.7 1672.5,1427.7 1670.2,1429.6 1667.9,1431.5 1665.5,1433.3 1663.2,1435.1 1660.9,1437.0 1658.6,1438.9 1656.3,1440.8 1654.0,1442.7 1651.7,1444.6 1649.4,1446.4 1647.1,1448.3 1644.8,1450.2 1642.5,1452.0 1640.1,1453.8 1637.8,1455.6 1635.3,1457.3 1632.8,1459.0 1630.3,1460.6 1627.8,1462.1 1625.1,1463.5 1622.5,1464.9 1619.8,1466.2 1617.0,1467.4 1614.2,1468.6 1611.3,1469.7 1608.5,1470.8 1605.6,1471.8 1602.7,1472.8 1599.7,1473.7 1596.8,1474.7 1593.9,1475.7 1591.0,1476.6 1588.0,1477.6 1585.0,1478.4 1582.0,1479.1 1579.0,1479.7 1575.9,1480.1 1572.7,1480.3 1569.5,1480.3 1566.3,1480.3 1563.1,1480.1 1559.9,1479.8 1556.7,1479.4 1553.5,1478.9 1550.3,1478.3 1547.1,1477.7 1543.9,1476.9 1540.8,1476.1 1537.6,1475.4 1534.5,1474.7 1531.4,1473.9 1528.3,1473.0 1525.2,1472.1 1522.2,1471.1 1519.1,1470.0 1516.1,1468.9 1513.2,1467.6 1510.3,1466.2 1507.4,1464.8 1504.5,1463.3 1501.7,1461.8 1498.9,1460.2 1496.2,1458.6 1493.4,1456.9 1490.7,1455.2 1488.0,1453.4 1485.4,1451.6 1482.8,1449.7 1480.3,1447.7 1477.8,1445.7 1475.3,1443.7 1472.9,1441.6 1470.5,1439.5 1468.1,1437.3 1465.7,1435.1 1463.4,1432.9 1461.1,1430.7 1458.8,1428.5 1456.5,1426.2 1454.2,1423.9 1452.0,1421.6 1449.9,1419.2 1447.8,1416.8 1445.7,1414.3 1443.7,1411.8 1441.7,1409.3 1439.7,1406.8 1437.7,1404.3 1435.7,1401.8 1433.7,1399.3 1431.7,1396.7 1429.7,1394.2 1427.8,1391.6 1425.9,1389.0 1424.0,1386.4 1422.2,1383.8 1420.4,1381.1 1418.7,1378.4 1416.9,1375.7 1415.2,1373.0 1413.5,1370.3 1411.8,1367.6 1410.1,1364.9 1408.4,1362.1 1406.8,1359.4 1405.1,1356.6 1403.5,1353.8 1402.0,1351.0 1400.4,1348.2 1398.9,1345.3 1397.5,1342.5 1396.1,1339.6 1394.7,1336.7 1393.4,1333.7 1392.2,1330.8 1391.0,1327.8 1389.8,1324.8 1388.7,1321.8 1387.6,1318.7 1386.5,1315.7 1385.5,1312.6 1384.6,1309.6 1383.6,1306.5 1382.7,1303.4 1381.9,1300.3 1381.0,1297.2 1380.2,1294.1 1379.4,1291.0 1378.6,1287.9 1377.8,1284.8 1377.0,1281.7 1376.3,1278.5 1375.5,1275.4 1374.8,1272.3 1374.1,1269.1 1373.5,1266.0 1372.8,1262.8 1372.2,1259.7 1371.7,1256.5 1371.2,1253.3 1370.7,1250.1 1370.3,1246.9 1369.8,1243.7 1369.5,1240.5 1369.1,1237.3 1368.8,1234.1 1368.4,1230.9 1368.1,1227.7 1367.8,1224.5 1367.5,1221.3 1367.2,1218.1 1366.9,1214.8 1366.6,1211.6 1366.4,1208.4 1366.2,1205.2 1366.0,1202.0 1365.8,1198.8 1365.7,1195.6 1365.6,1192.4 1365.4,1189.1 1365.3,1185.9 1365.3,1182.7 1365.2,1179.5 1365.1,1176.3 1365.1,1173.1 1365.1,1169.9 1365.0,1166.7 1365.0,1163.5 1364.9,1160.3 1364.9,1157.0Z" fill="#4169e1" fill-opacity="0.8" stroke="#4169e1" stroke-opacity="1.0" stroke-width="4.2" stroke-linejoin="round"/>
<path d="M1365.0,1155.8 1364.9,1158.6 1364.9,1161.4 1364.9,1164.1 1365.0,1166.8 1365.1,1169.5 1365.2,1172.2 1365.4,1174.9 1365.5,1177.6 1365.7,1180.2 1365.9,1182.9 1366.1,1185.6 1366.2,1188.3 1366.4,1191.0 1366.5,1193.7 1366.6,1196.4 1366.7,1199.2 1366.7,1202.0 1366.8,1204.8 1366.8,1207.5 1366.9,1210.3 1367.0,1213.1 1367.2,1215.8 1367.4,1218.6 1367.8,1221.2 1368.2,1223.9 1368.7,1226.5 1369.4,1229.0 1370.2,1231.5 1371.2,1233.9 1372.3,1236.2 1373.6,1238.5 1375.0,1240.8 1376.6,1242.9 1378.2,1245.0 1379.9,1247.1 1381.8,1249.0 1383.7,1251.0 1385.7,1252.8 1387.7,1254.6 1389.8,1256.3 1392.0,1257.9 1394.1,1259.5 1396.4,1261.0 1398.6,1262.5 1400.9,1263.9 1403.3,1265.3 1405.6,1266.6 1408.0,1267.9 1410.4,1269.2 1412.8,1270.4 1415.2,1271.6 1417.7,1272.8 1420.1,1274.0 1422.6,1275.2 1425.1,1276.4 1427.5,1277.6 1430.0,1278.8 1432.5,1280.0 1434.9,1281.2 1437.4,1282.4 1439.8,1283.7 1442.2,1285.0 1444.6,1286.3 1447.0,1287.6 1449.3,1289.0 1451.7,1290.3 1454.0,1291.7 1456.3,1293.2 1458.6,1294.6 1460.9,1296.1 1463.2,1297.5 1465.5,1299.0 1467.7,1300.5 1470.0,1302.0 1472.3,1303.5 1474.5,1305.0 1476.8,1306.6 1479.0,1308.1 1481.2,1309.6 1483.5,1311.2 1485.7,1312.7 1488.0,1314.3 1490.2,1315.8 1492.4,1317.4 1494.7,1319.0 1496.9,1320.6 1499.1,1322.1 1501.3,1323.7 1503.6,1325.3 1505.8,1327.0 1508.0,1328.6 1510.2,1330.2 1512.4,1331.8 1514.5,1333.5 1516.7,1335.2 1518.9,1336.8 1521.0,1338.5 1523.2,1340.2 1525.3,1341.9 1527.5,1343.6 1529.6,1345.3 1531.7,1347.0 1533.8,1348.8 1535.9,1350.5 1538.0,1352.3 1540.1,1354.1 1542.2,1355.9 1544.2,1357.7 1546.3,1359.5 1548.3,1361.3 1550.3,1363.1 1552.3,1365.0 1554.3,1366.9 1556.3,1368.7 1558.2,1370.6 1560.2,1372.5 1562.1,1374.4 1564.1,1376.4 1566.0,1378.3 1567.9,1380.2 1569.8,1382.2 1571.7,1384.1 1573.6,1386.0 1575.5,1388.0 1577.4,1389.9 1579.3,1391.9 1581.2,1393.8 1583.1,1395.8 1585.0,1397.7 1586.9,1399.7 1588.8,1401.6 1590.7,1403.5 1592.6,1405.4 1594.5,1407.3 1596.4,1409.2 1598.4,1411.1 1600.3,1413.0 1602.3,1414.8 1604.3,1416.7 1606.2,1418.5 1608.2,1420.3 1610.2,1422.1 1612.3,1423.9 1614.3,1425.6 1616.4,1427.4 1618.4,1429.1 1620.5,1430.8 1622.6,1432.4 1624.8,1434.1 1626.9,1435.7 1629.1,1437.3 1631.3,1438.9 1633.6,1440.4 1635.8,1441.9 1638.1,1443.4 1640.4,1444.8 1642.7,1446.2 1645.1,1447.6 1647.5,1448.9 1649.9,1450.2 1652.3,1451.5 1654.7,1452.7 1657.2,1453.9 1659.7,1455.0 1662.2,1456.1 1664.7,1457.1 1667.2,1458.1 1669.7,1459.0 1672.3,1459.9 1674.8,1460.7 1677.4,1461.5 1680.0,1462.2 1682.6,1462.8 1685.2,1463.4 1687.8,1463.9 1690.3,1464.3 1692.9,1464.7 1695.5,1465.0 1698.1,1465.3 1700.7,1465.5 1703.3,1465.6 1705.9,1465.6 1708.5,1465.6 1711.1,1465.4 1713.7,1465.2 1716.3,1464.9 1718.9,1464.6 1721.5,1464.1 1724.0,1463.6 1726.6,1462.9 1729.1,1462.2 1731.7,1461.4 1734.2,1460.6 1736.7,1459.7 1739.2,1458.7 1741.7,1457.6 1744.2,1456.5 1746.6,1455.3 1749.0,1454.1 1751.4,1452.8 1753.8,1451.4 1756.1,1450.0 1758.4,1448.6 1760.7,1447.1 1762.9,1445.6 1765.1,1444.1 1767.3,1442.5 1769.4,1440.9 1771.5,1439.3 1773.6,1437.7 1775.6,1436.0 1777.7,1434.3 1779.9,1432.7 1782.2,1431.2 1784.6,1429.7 1787.1,1428.3 1789.8,1427.0 1792.7,1425.9 1795.7,1425.1 1797.2,1430.2 1794.4,1431.0 1791.9,1432.0 1789.5,1433.1 1787.3,1434.3 1785.1,1435.6 1783.0,1437.0 1781.0,1438.6 1778.9,1440.2 1776.8,1441.8 1774.7,1443.5 1772.6,1445.1 1770.4,1446.7 1768.2,1448.4 1765.9,1449.9 1763.5,1451.5 1761.2,1453.0 1758.8,1454.5 1756.4,1455.9 1753.9,1457.3 1751.4,1458.6 1748.9,1459.9 1746.3,1461.1 1743.7,1462.3 1741.1,1463.4 1738.5,1464.4 1735.9,1465.4 1733.2,1466.2 1730.5,1467.1 1727.8,1467.8 1725.1,1468.4 1722.4,1469.0 1719.7,1469.5 1716.9,1469.8 1714.2,1470.1 1711.4,1470.3 1708.7,1470.5 1706.0,1470.5 1703.2,1470.5 1700.5,1470.3 1697.7,1470.1 1695.0,1469.8 1692.3,1469.5 1689.6,1469.1 1686.8,1468.6 1684.2,1468.0 1681.5,1467.4 1678.8,1466.7 1676.1,1465.9 1673.5,1465.1 1670.8,1464.2 1668.2,1463.3 1665.6,1462.3 1663.0,1461.2 1660.4,1460.1 1657.9,1459.0 1655.4,1457.8 1652.9,1456.5 1650.4,1455.2 1647.9,1453.9 1645.5,1452.6 1643.0,1451.1 1640.6,1449.7 1638.3,1448.2 1635.9,1446.7 1633.6,1445.2 1631.4,1443.6 1629.1,1442.0 1626.9,1440.4 1624.7,1438.7 1622.5,1437.0 1620.4,1435.3 1618.2,1433.6 1616.1,1431.9 1614.1,1430.1 1612.0,1428.3 1610.0,1426.5 1607.9,1424.7 1605.9,1422.8 1604.0,1421.0 1602.0,1419.1 1600.0,1417.2 1598.1,1415.3 1596.1,1413.4 1594.2,1411.5 1592.3,1409.5 1590.4,1407.6 1588.5,1405.7 1586.6,1403.7 1584.7,1401.8 1582.8,1399.8 1580.9,1397.9 1579.1,1395.9 1577.2,1393.9 1575.3,1392.0 1573.4,1390.0 1571.5,1388.1 1569.6,1386.1 1567.7,1384.2 1565.8,1382.2 1563.9,1380.3 1562.0,1378.4 1560.1,1376.5 1558.2,1374.6 1556.3,1372.7 1554.3,1370.8 1552.4,1368.9 1550.4,1367.0 1548.4,1365.2 1546.4,1363.4 1544.4,1361.5 1542.4,1359.7 1540.3,1357.9 1538.3,1356.2 1536.2,1354.4 1534.2,1352.6 1532.1,1350.9 1530.0,1349.1 1527.9,1347.4 1525.8,1345.7 1523.7,1344.0 1521.5,1342.3 1519.4,1340.6 1517.2,1338.9 1515.1,1337.3 1512.9,1335.6 1510.8,1334.0 1508.6,1332.3 1506.4,1330.7 1504.2,1329.1 1502.0,1327.5 1499.8,1325.8 1497.6,1324.2 1495.4,1322.7 1493.2,1321.1 1491.0,1319.5 1488.7,1317.9 1486.5,1316.4 1484.3,1314.8 1482.1,1313.2 1479.8,1311.7 1477.6,1310.2 1475.3,1308.6 1473.1,1307.1 1470.9,1305.6 1468.6,1304.1 1466.4,1302.6 1464.1,1301.1 1461.9,1299.6 1459.6,1298.1 1457.3,1296.7 1455.0,1295.2 1452.7,1293.8 1450.4,1292.4 1448.1,1291.0 1445.8,1289.7 1443.4,1288.3 1441.1,1287.0 1438.7,1285.7 1436.3,1284.5 1433.9,1283.2 1431.5,1282.0 1429.0,1280.8 1426.6,1279.6 1424.1,1278.4 1421.7,1277.2 1419.2,1276.0 1416.7,1274.8 1414.3,1273.5 1411.8,1272.3 1409.4,1271.0 1407.0,1269.7 1404.6,1268.4 1402.2,1267.0 1399.9,1265.6 1397.6,1264.2 1395.3,1262.7 1393.0,1261.1 1390.8,1259.5 1388.6,1257.8 1386.5,1256.0 1384.4,1254.2 1382.4,1252.3 1380.4,1250.3 1378.6,1248.3 1376.8,1246.2 1375.1,1244.0 1373.5,1241.8 1372.1,1239.4 1370.8,1237.0 1369.6,1234.6 1368.6,1232.1 1367.8,1229.5 1367.1,1226.9 1366.6,1224.2 1366.1,1221.5 1365.8,1218.7 1365.6,1216.0 1365.5,1213.2 1365.4,1210.4 1365.4,1207.6 1365.4,1204.8 1365.5,1202.0 1365.5,1199.2 1365.5,1196.4 1365.4,1193.7 1365.4,1191.0 1365.3,1188.3 1365.2,1185.6 1365.1,1182.9 1364.9,1180.3 1364.8,1177.6 1364.7,1174.9 1364.6,1172.2 1364.6,1169.5 1364.5,1166.8 1364.5,1164.1 1364.6,1161.4 1364.6,1158.6 1364.8,1155.8Z" fill="#ffd700" fill-opacity="0.8" stroke="#ffd700" stroke-opacity="1.0" stroke-width="4.6" stroke-linejoin="round"/>
<path d="M1365.0,1155.9 1365.0,1159.1 1365.0,1162.2 1365.1,1165.4 1365.1,1168.6 1365.2,1171.8 1365.2,1175.0 1365.3,1178.2 1365.4,1181.3 1365.5,1184.5 1365.6,1187.7 1365.8,1190.9 1365.9,1194.2 1366.1,1197.4 1366.3,1200.6 1366.4,1203.8 1366.7,1207.0 1366.9,1210.2 1367.1,1213.4 1367.4,1216.6 1367.7,1219.8 1367.9,1223.0 1368.3,1226.2 1368.6,1229.4 1368.9,1232.6 1369.3,1235.8 1369.7,1239.0 1370.1,1242.2 1370.6,1245.4 1371.0,1248.6 1371.5,1251.8 1372.0,1255.0 1372.6,1258.1 1373.1,1261.3 1373.7,1264.4 1374.3,1267.6 1374.9,1270.7 1375.6,1273.9 1376.3,1277.0 1377.0,1280.1 1377.8,1283.2 1378.5,1286.3 1379.4,1289.4 1380.2,1292.5 1381.1,1295.6 1382.0,1298.7 1382.9,1301.7 1383.9,1304.8 1384.8,1307.8 1385.9,1310.8 1386.9,1313.8 1388.0,1316.8 1389.2,1319.8 1390.3,1322.8 1391.5,1325.7 1392.8,1328.7 1394.1,1331.6 1395.4,1334.5 1396.7,1337.4 1398.1,1340.3 1399.5,1343.2 1401.0,1346.0 1402.5,1348.9 1404.0,1351.7 1405.5,1354.5 1407.1,1357.3 1408.7,1360.1 1410.4,1362.8 1412.0,1365.6 1413.7,1368.3 1415.5,1371.0 1417.2,1373.7 1419.0,1376.4 1420.8,1379.0 1422.6,1381.7 1424.5,1384.3 1426.4,1386.9 1428.3,1389.5 1430.2,1392.1 1432.1,1394.7 1434.1,1397.2 1436.1,1399.7 1438.1,1402.2 1440.1,1404.7 1442.1,1407.2 1444.2,1409.6 1446.2,1412.1 1448.3,1414.5 1450.5,1416.8 1452.6,1419.2 1454.8,1421.5 1457.0,1423.8 1459.2,1426.1 1461.5,1428.3 1463.7,1430.5 1466.0,1432.7 1468.4,1434.9 1470.8,1437.0 1473.2,1439.1 1475.6,1441.1 1478.1,1443.1 1480.6,1445.1 1483.2,1447.0 1485.7,1448.9 1488.4,1450.7 1491.0,1452.5 1493.8,1454.3 1496.5,1456.0 1499.3,1457.6 1502.1,1459.2 1505.0,1460.8 1507.9,1462.2 1510.8,1463.6 1513.7,1465.0 1516.7,1466.2 1519.7,1467.4 1522.7,1468.5 1525.7,1469.5 1528.8,1470.5 1531.8,1471.3 1534.9,1472.1 1538.0,1472.7 1541.1,1473.3 1544.2,1473.8 1547.3,1474.1 1550.4,1474.4 1553.5,1474.5 1556.7,1474.5 1559.8,1474.5 1562.9,1474.3 1566.0,1474.0 1569.1,1473.6 1572.2,1473.1 1575.3,1472.5 1578.4,1471.8 1581.4,1471.0 1584.5,1470.1 1587.5,1469.2 1590.5,1468.1 1593.5,1467.0 1596.5,1465.8 1599.4,1464.5 1602.3,1463.2 1605.2,1461.8 1608.0,1460.3 1610.8,1458.7 1613.6,1457.1 1616.3,1455.4 1619.0,1453.7 1621.7,1451.9 1624.3,1450.0 1626.9,1448.2 1629.4,1446.2 1631.9,1444.2 1634.4,1442.2 1636.8,1440.1 1639.2,1438.0 1641.6,1435.9 1644.0,1433.8 1646.3,1431.6 1648.7,1429.4 1651.0,1427.2 1653.3,1424.9 1655.6,1422.7 1657.9,1420.5 1660.1,1418.2 1662.4,1416.0 1664.7,1413.7 1666.9,1411.4 1669.2,1409.2 1671.5,1406.9 1673.7,1404.6 1676.0,1402.4 1678.2,1400.1 1680.4,1397.8 1682.7,1395.6 1684.9,1393.3 1687.2,1391.0 1689.4,1388.8 1691.7,1386.5 1693.9,1384.2 1696.2,1381.9 1698.5,1379.7 1700.7,1377.4 1703.0,1375.1 1705.3,1372.8 1707.6,1370.6 1709.9,1368.3 1712.2,1366.1 1714.5,1363.8 1716.9,1361.6 1719.2,1359.3 1721.6,1357.1 1724.0,1354.9 1726.4,1352.7 1728.8,1350.6 1731.2,1348.4 1733.7,1346.3 1736.2,1344.2 1738.7,1342.2 1741.2,1340.2 1743.8,1338.2 1746.4,1336.3 1749.0,1334.4 1751.6,1332.6 1754.3,1330.8 1757.0,1329.0 1759.8,1327.4 1762.6,1325.7 1765.4,1324.2 1768.3,1322.7 1771.2,1321.2 1774.1,1319.9 1777.1,1318.6 1780.2,1317.4 1783.2,1316.2 1786.4,1315.2 1789.5,1314.2 1792.8,1313.3 1796.0,1312.5 1797.1,1317.0 1793.9,1317.8 1790.8,1318.6 1787.7,1319.5 1784.7,1320.5 1781.8,1321.6 1778.8,1322.7 1775.9,1324.0 1773.1,1325.3 1770.3,1326.6 1767.5,1328.1 1764.7,1329.6 1762.0,1331.1 1759.3,1332.7 1756.7,1334.4 1754.1,1336.1 1751.5,1337.9 1748.9,1339.8 1746.3,1341.6 1743.8,1343.5 1741.3,1345.5 1738.8,1347.5 1736.4,1349.5 1733.9,1351.6 1731.5,1353.7 1729.1,1355.8 1726.7,1358.0 1724.4,1360.1 1722.0,1362.3 1719.7,1364.5 1717.3,1366.7 1715.0,1369.0 1712.7,1371.2 1710.4,1373.4 1708.1,1375.7 1705.8,1377.9 1703.5,1380.1 1701.2,1382.4 1698.9,1384.6 1696.6,1386.9 1694.3,1389.1 1692.1,1391.4 1689.8,1393.6 1687.5,1395.9 1685.2,1398.1 1683.0,1400.4 1680.7,1402.6 1678.4,1404.8 1676.1,1407.1 1673.9,1409.3 1671.6,1411.6 1669.3,1413.8 1667.0,1416.0 1664.7,1418.3 1662.4,1420.5 1660.1,1422.7 1657.8,1425.0 1655.4,1427.2 1653.1,1429.4 1650.7,1431.6 1648.4,1433.8 1646.0,1436.0 1643.6,1438.1 1641.1,1440.2 1638.7,1442.3 1636.2,1444.4 1633.6,1446.4 1631.1,1448.4 1628.5,1450.3 1625.9,1452.2 1623.2,1454.1 1620.5,1455.9 1617.7,1457.6 1614.9,1459.3 1612.1,1461.0 1609.2,1462.5 1606.3,1464.0 1603.4,1465.4 1600.4,1466.8 1597.4,1468.1 1594.4,1469.3 1591.3,1470.4 1588.2,1471.4 1585.1,1472.4 1582.0,1473.2 1578.9,1474.0 1575.7,1474.7 1572.6,1475.2 1569.4,1475.7 1566.2,1476.1 1563.1,1476.4 1559.9,1476.6 1556.7,1476.6 1553.5,1476.6 1550.3,1476.4 1547.1,1476.1 1543.9,1475.7 1540.8,1475.2 1537.6,1474.6 1534.5,1473.9 1531.4,1473.1 1528.3,1472.2 1525.2,1471.3 1522.1,1470.2 1519.1,1469.0 1516.0,1467.8 1513.0,1466.5 1510.1,1465.1 1507.1,1463.7 1504.2,1462.2 1501.3,1460.6 1498.5,1459.0 1495.7,1457.3 1492.9,1455.6 1490.2,1453.8 1487.5,1452.0 1484.9,1450.1 1482.3,1448.2 1479.7,1446.2 1477.2,1444.3 1474.7,1442.2 1472.2,1440.2 1469.8,1438.0 1467.4,1435.9 1465.1,1433.7 1462.8,1431.5 1460.5,1429.3 1458.3,1427.0 1456.0,1424.7 1453.8,1422.4 1451.7,1420.1 1449.5,1417.7 1447.4,1415.3 1445.3,1412.9 1443.2,1410.4 1441.2,1408.0 1439.1,1405.5 1437.1,1403.0 1435.1,1400.4 1433.2,1397.9 1431.2,1395.3 1429.3,1392.8 1427.4,1390.2 1425.5,1387.6 1423.6,1384.9 1421.8,1382.3 1419.9,1379.6 1418.1,1376.9 1416.4,1374.2 1414.6,1371.5 1412.9,1368.8 1411.2,1366.1 1409.6,1363.3 1407.9,1360.5 1406.3,1357.7 1404.7,1354.9 1403.2,1352.1 1401.7,1349.3 1400.2,1346.4 1398.8,1343.5 1397.4,1340.7 1396.0,1337.8 1394.7,1334.8 1393.3,1331.9 1392.1,1329.0 1390.8,1326.0 1389.7,1323.0 1388.5,1320.1 1387.4,1317.1 1386.3,1314.1 1385.2,1311.0 1384.2,1308.0 1383.2,1305.0 1382.3,1301.9 1381.4,1298.8 1380.5,1295.8 1379.6,1292.7 1378.8,1289.6 1378.0,1286.5 1377.2,1283.4 1376.5,1280.3 1375.8,1277.1 1375.1,1274.0 1374.4,1270.8 1373.8,1267.7 1373.2,1264.5 1372.6,1261.4 1372.1,1258.2 1371.6,1255.0 1371.0,1251.9 1370.6,1248.7 1370.1,1245.5 1369.7,1242.3 1369.3,1239.1 1368.9,1235.9 1368.5,1232.7 1368.2,1229.5 1367.9,1226.3 1367.6,1223.1 1367.3,1219.9 1367.0,1216.6 1366.8,1213.4 1366.5,1210.2 1366.3,1207.0 1366.1,1203.8 1365.9,1200.6 1365.8,1197.4 1365.6,1194.2 1365.5,1191.0 1365.3,1187.8 1365.2,1184.6 1365.1,1181.4 1365.1,1178.2 1365.0,1175.0 1364.9,1171.8 1364.9,1168.6 1364.8,1165.4 1364.8,1162.2 1364.8,1159.1 1364.8,1155.9Z" fill="#ffd700" fill-opacity="0.8" stroke="#ffd700" stroke-opacity="1.0" stroke-width="4.6" stroke-linejoin="round"/>
</g>
<line x1="1344.00" y1="1492.60" x2="1814.00" y2="1492.60" stroke="#000" stroke-width="2.1" />
<line x1="1365.80" y1="1492.60" x2="1365.80" y2="1509.20" stroke="#000" stroke-width="2.1" />
<text x="1365.80" y="1540.70" font-size="29" text-anchor="middle" font-weight="normal" font-style="normal" >0</text>
<line x1="1451.30" y1="1492.60" x2="1451.30" y2="1509.20" stroke="#000" stroke-width="2.1" />
<text x="1451.30" y="1540.70" font-size="29" text-anchor="middle" font-weight="normal" font-style="normal" >1</text>
<line x1="1536.80" y1="1492.60" x2="1536.80" y2="1509.20" stroke="#000" stroke-width="2.1" />
<text x="1536.80" y="1540.70" font-size="29" text-anchor="middle" font-weight="normal" font-style="normal" >2</text>
<line x1="1622.30" y1="1492.60" x2="1622.30" y2="1509.20" stroke="#000" stroke-width="2.1" />
<text x="1622.30" y="1540.70" font-size="29" text-anchor="middle" font-weight="normal" font-style="normal" >3</text>
<line x1="1707.80" y1="1492.60" x2="1707.80" y2="1509.20" stroke="#000" stroke-width="2.1" />
<text x="1707.80" y="1540.70" font-size="29" text-anchor="middle" font-weight="normal" font-style="normal" >4</text>
<line x1="1793.30" y1="1492.60" x2="1793.30" y2="1509.20" stroke="#000" stroke-width="2.1" />
<text x="1793.30" y="1540.70" font-size="29" text-anchor="middle" font-weight="normal" font-style="normal" >5</text>
<text x="1585.50" y="1588.30" font-size="29" text-anchor="middle"><tspan font-style="italic">t</tspan> (s)</text>
</g>
<g id="panel-f">
<g fill="#4b9ac6" fill-opacity="0.072" stroke="none">
<path d="M99.9,1694.9 103,1677.7 106.2,1668.2 109.3,1667.0 112.4,1673.7 115.5,1687.5 118.7,1707.0 121.8,1730.3 124.9,1755.5 128,1780.3 131.2,1802.6 134.3,1820.8 137.4,1833.2 140.5,1839.1 143.7,1838.1 146.8,1830.3 149.9,1816.5 153,1797.9 156.2,1776.1 159.3,1752.9 162.4,1730.0 165.5,1709.3 168.7,1692.2 171.8,1680.1 174.9,1673.6 178,1673.1 181.2,1678.4 184.3,1688.9 187.4,1703.5 190.5,1720.9 193.7,1739.6 196.8,1758.0 199.9,1774.6 203,1788.1 206.2,1797.4 209.3,1802.0 212.4,1801.4 215.6,1795.9 218.7,1786.1 221.8,1772.7 224.9,1757.0 228.1,1740.2 231.2,1723.7 234.3,1708.8 237.4,1696.5 240.6,1687.9 243.7,1683.4 246.8,1683.2 249.9,1687.3 253.1,1695.2 256.2,1706.0 259.3,1718.9 262.4,1732.7 265.6,1746.3 268.7,1758.5 271.8,1768.5 274.9,1775.4 278.1,1778.8 281.2,1778.4 284.3,1774.5 287.4,1767.4 290.6,1757.7 293.7,1746.3 296.8,1734.2 299.9,1722.2 303.1,1711.4 306.2,1702.6 309.3,1696.4 312.4,1693.2 315.6,1693.2 318.7,1696.3 321.8,1702.1 325,1710.1 328.1,1719.6 331.2,1729.7 334.3,1739.7 337.5,1748.7 340.6,1756.0 343.7,1761.1 346.8,1763.6 350,1763.4 353.1,1760.6 356.2,1755.4 359.3,1748.4 362.5,1740.1 365.6,1731.2 368.7,1722.6 371.8,1714.7 375,1708.3 378.1,1703.8 381.2,1701.6 384.3,1701.6 387.5,1703.9 390.6,1708.2 393.7,1714.1 396.8,1721.1 400,1728.5 403.1,1735.9 406.2,1742.4 409.3,1747.8 412.5,1751.5 415.6,1753.4 418.7,1753.2 421.8,1751.1 425,1747.4 428.1,1742.3 431.2,1736.2 434.4,1729.8 437.5,1723.5 440.6,1717.8 443.7,1713.1 446.9,1709.9 450,1708.3 453.1,1708.3 456.2,1710.0 459.4,1713.2 462.5,1717.5 465.6,1722.6 468.7,1728.1 471.9,1733.4 475,1738.3 478.1,1742.2 481.2,1744.9 484.4,1746.2 487.5,1746.1 490.6,1744.6 493.7,1741.9 496.9,1738.1 500,1733.7 503.1,1729.0 506.2,1724.4 509.4,1720.3 512.5,1716.9 515.6,1714.6 518.7,1713.4 521.9,1713.5 525,1714.7 528.1,1717.1 531.2,1720.2 534.4,1724.0 537.5,1728.0 537.5,1835.4 534.4,1831.4 531.2,1827.6 528.1,1824.4 525,1822.1 521.9,1820.8 518.7,1820.7 515.6,1821.8 512.5,1824.2 509.4,1827.5 506.2,1831.6 503.1,1836.2 500,1840.9 496.9,1845.2 493.7,1848.9 490.6,1851.7 487.5,1853.1 484.4,1853.2 481.2,1851.8 478.1,1849.1 475,1845.1 471.9,1840.2 468.7,1834.9 465.6,1829.4 462.5,1824.2 459.4,1819.8 456.2,1816.6 453.1,1814.8 450,1814.7 446.9,1816.3 443.7,1819.5 440.6,1824.1 437.5,1829.7 434.4,1835.9 431.2,1842.3 428.1,1848.3 425,1853.3 421.8,1857.0 418.7,1859.0 415.6,1859.1 412.5,1857.2 409.3,1853.3 406.2,1847.9 403.1,1841.2 400,1833.8 396.8,1826.3 393.7,1819.2 390.6,1813.2 387.5,1808.8 384.3,1806.4 381.2,1806.2 378.1,1808.3 375,1812.7 371.8,1819.0 368.7,1826.7 365.6,1835.2 362.5,1843.9 359.3,1852.0 356.2,1858.9 353.1,1863.9 350,1866.6 346.8,1866.6 343.7,1863.9 340.6,1858.6 337.5,1851.1 334.3,1841.9 331.2,1831.8 328.1,1821.4 325,1811.7 321.8,1803.4 318.7,1797.4 315.6,1794.0 312.4,1793.8 309.3,1796.7 306.2,1802.6 303.1,1811.2 299.9,1821.7 296.8,1833.3 293.7,1845.1 290.6,1856.2 287.4,1865.5 284.3,1872.3 281.2,1875.8 278.1,1875.8 274.9,1872.0 271.8,1864.7 268.7,1854.3 265.6,1841.6 262.4,1827.6 259.3,1813.3 256.2,1799.9 253.1,1788.6 249.9,1780.2 246.8,1775.5 243.7,1775.1 240.6,1779.0 237.4,1787.1 234.3,1798.7 231.2,1813.0 228.1,1828.8 224.9,1844.8 221.8,1859.8 218.7,1872.4 215.6,1881.5 212.4,1886.2 209.3,1885.9 206.2,1880.5 203,1870.3 199.9,1855.8 196.8,1838.3 193.7,1818.8 190.5,1799.1 187.4,1780.6 184.3,1764.9 181.2,1753.2 178,1746.7 174.9,1745.9 171.8,1751.1 168.7,1761.9 165.5,1777.6 162.4,1796.9 159.3,1818.3 156.2,1840.0 153,1860.2 149.9,1877.1 146.8,1889.1 143.7,1895.1 140.5,1894.3 137.4,1886.5 134.3,1872.1 131.2,1851.9 128,1827.4 124.9,1800.4 121.8,1772.9 118.7,1747.2 115.5,1725.2 112.4,1708.8 109.3,1699.5 106.2,1698.0 103,1704.6 99.9,1718.9Z"/>
<path d="M99.9,1698.3 103,1681.5 106.2,1672.4 109.3,1671.5 112.4,1678.6 115.5,1692.8 118.7,1712.6 121.8,1736.3 124.9,1761.8 128,1786.9 131.2,1809.5 134.3,1827.9 137.4,1840.7 140.5,1846.8 143.7,1846.1 146.8,1838.5 149.9,1825.0 153,1806.6 156.2,1785.1 159.3,1762.0 162.4,1739.4 165.5,1718.8 168.7,1702.0 171.8,1690.0 174.9,1683.7 178,1683.4 181.2,1688.9 184.3,1699.5 187.4,1714.3 190.5,1731.9 193.7,1750.7 196.8,1769.2 199.9,1786.0 203,1799.6 206.2,1809.1 209.3,1813.7 212.4,1813.3 215.6,1807.9 218.7,1798.1 221.8,1784.9 224.9,1769.3 228.1,1752.6 231.2,1736.2 234.3,1721.4 237.4,1709.2 240.6,1700.7 243.7,1696.2 246.8,1696.2 249.9,1700.3 253.1,1708.2 256.2,1719.1 259.3,1732.1 262.4,1746.0 265.6,1759.6 268.7,1771.9 271.8,1781.9 274.9,1788.9 278.1,1792.3 281.2,1792.1 284.3,1788.2 287.4,1781.1 290.6,1771.5 293.7,1760.2 296.8,1748.0 299.9,1736.1 303.1,1725.4 306.2,1716.6 309.3,1710.4 312.4,1707.3 315.6,1707.3 318.7,1710.4 321.8,1716.3 325,1724.3 328.1,1733.8 331.2,1744.0 334.3,1754.0 337.5,1763.0 340.6,1770.4 343.7,1775.5 346.8,1778.0 350,1777.8 353.1,1775.0 356.2,1769.9 359.3,1762.9 362.5,1754.6 365.6,1745.8 368.7,1737.1 371.8,1729.3 375,1722.9 378.1,1718.5 381.2,1716.2 384.3,1716.3 387.5,1718.6 390.6,1722.9 393.7,1728.8 396.8,1735.8 400,1743.3 403.1,1750.6 406.2,1757.2 409.3,1762.6 412.5,1766.3 415.6,1768.2 418.7,1768.0 421.8,1766.0 425,1762.2 428.1,1757.1 431.2,1751.1 434.4,1744.6 437.5,1738.3 440.6,1732.6 443.7,1728.0 446.9,1724.8 450,1723.2 453.1,1723.2 456.2,1725.0 459.4,1728.1 462.5,1732.5 465.6,1737.6 468.7,1743.0 471.9,1748.4 475,1753.2 478.1,1757.1 481.2,1759.9 484.4,1761.2 487.5,1761.1 490.6,1759.6 493.7,1756.9 496.9,1753.1 500,1748.7 503.1,1744.0 506.2,1739.4 509.4,1735.3 512.5,1731.9 515.6,1729.6 518.7,1728.4 521.9,1728.5 525,1729.8 528.1,1732.1 531.2,1735.3 534.4,1739.0 537.5,1743.0 537.5,1820.4 534.4,1816.3 531.2,1812.6 528.1,1809.4 525,1807.0 521.9,1805.8 518.7,1805.7 515.6,1806.8 512.5,1809.1 509.4,1812.5 506.2,1816.6 503.1,1821.2 500,1825.9 496.9,1830.2 493.7,1833.9 490.6,1836.7 487.5,1838.1 484.4,1838.2 481.2,1836.9 478.1,1834.1 475,1830.1 471.9,1825.3 468.7,1819.9 465.6,1814.4 462.5,1809.3 459.4,1804.9 456.2,1801.7 453.1,1799.9 450,1799.8 446.9,1801.4 443.7,1804.6 440.6,1809.2 437.5,1814.8 434.4,1821.1 431.2,1827.5 428.1,1833.4 425,1838.5 421.8,1842.2 418.7,1844.2 415.6,1844.3 412.5,1842.4 409.3,1838.6 406.2,1833.1 403.1,1826.5 400,1819.1 396.8,1811.5 393.7,1804.5 390.6,1798.5 387.5,1794.1 384.3,1791.7 381.2,1791.6 378.1,1793.7 375,1798.1 371.8,1804.4 368.7,1812.1 365.6,1820.6 362.5,1829.4 359.3,1837.5 356.2,1844.4 353.1,1849.4 350,1852.1 346.8,1852.2 343.7,1849.5 340.6,1844.3 337.5,1836.8 334.3,1827.6 331.2,1817.5 328.1,1807.1 325,1797.5 321.8,1789.3 318.7,1783.2 315.6,1779.9 312.4,1779.7 309.3,1782.7 306.2,1788.6 303.1,1797.2 299.9,1807.7 296.8,1819.4 293.7,1831.3 290.6,1842.4 287.4,1851.8 284.3,1858.6 281.2,1862.2 278.1,1862.2 274.9,1858.5 271.8,1851.2 268.7,1840.9 265.6,1828.3 262.4,1814.3 259.3,1800.1 256.2,1786.8 253.1,1775.5 249.9,1767.2 246.8,1762.6 243.7,1762.3 240.6,1766.3 237.4,1774.4 234.3,1786.1 231.2,1800.5 228.1,1816.4 224.9,1832.5 221.8,1847.6 218.7,1860.3 215.6,1869.5 212.4,1874.3 209.3,1874.1 206.2,1868.9 203,1858.8 199.9,1844.5 196.8,1827.0 193.7,1807.7 190.5,1788.2 187.4,1769.8 184.3,1754.2 181.2,1742.8 178,1736.4 174.9,1735.8 171.8,1741.2 168.7,1752.2 165.5,1768.0 162.4,1787.5 159.3,1809.1 156.2,1831.0 153,1851.4 149.9,1868.6 146.8,1880.9 143.7,1887.1 140.5,1886.6 137.4,1879.1 134.3,1864.9 131.2,1845.0 128,1820.8 124.9,1794.1 121.8,1767.0 118.7,1741.5 115.5,1719.9 112.4,1703.9 109.3,1694.9 106.2,1693.8 103,1700.9 99.9,1715.6Z"/>
<path d="M99.9,1700.7 103,1684.1 106.2,1675.4 109.3,1674.8 112.4,1682.1 115.5,1696.5 118.7,1716.6 121.8,1740.6 124.9,1766.3 128,1791.6 131.2,1814.5 134.3,1833.1 137.4,1846.0 140.5,1852.4 143.7,1851.8 146.8,1844.4 149.9,1831.0 153,1812.9 156.2,1791.5 159.3,1768.6 162.4,1746.0 165.5,1725.7 168.7,1708.9 171.8,1697.1 174.9,1691.0 178,1690.8 181.2,1696.4 184.3,1707.1 187.4,1722.0 190.5,1739.7 193.7,1758.6 196.8,1777.3 199.9,1794.1 203,1807.8 206.2,1817.4 209.3,1822.1 212.4,1821.7 215.6,1816.5 218.7,1806.8 221.8,1793.6 224.9,1778.1 228.1,1761.5 231.2,1745.1 234.3,1730.4 237.4,1718.3 240.6,1709.8 243.7,1705.4 246.8,1705.4 249.9,1709.6 253.1,1717.6 256.2,1728.5 259.3,1741.5 262.4,1755.5 265.6,1769.1 268.7,1781.5 271.8,1791.5 274.9,1798.6 278.1,1802.0 281.2,1801.8 284.3,1798.0 287.4,1790.9 290.6,1781.4 293.7,1770.0 296.8,1758.0 299.9,1746.1 303.1,1735.4 306.2,1726.6 309.3,1720.5 312.4,1717.3 315.6,1717.4 318.7,1720.5 321.8,1726.4 325,1734.5 328.1,1744.0 331.2,1754.2 334.3,1764.2 337.5,1773.3 340.6,1780.6 343.7,1785.8 346.8,1788.3 350,1788.2 353.1,1785.4 356.2,1780.2 359.3,1773.2 362.5,1765.0 365.6,1756.2 368.7,1747.5 371.8,1739.7 375,1733.4 378.1,1728.9 381.2,1726.7 384.3,1726.8 387.5,1729.1 390.6,1733.4 393.7,1739.3 396.8,1746.3 400,1753.8 403.1,1761.1 406.2,1767.7 409.3,1773.1 412.5,1776.9 415.6,1778.7 418.7,1778.6 421.8,1776.6 425,1772.8 428.1,1767.7 431.2,1761.7 434.4,1755.3 437.5,1749.0 440.6,1743.3 443.7,1738.6 446.9,1735.4 450,1733.8 453.1,1733.9 456.2,1735.6 459.4,1738.8 462.5,1743.1 465.6,1748.3 468.7,1753.7 471.9,1759.1 475,1763.9 478.1,1767.8 481.2,1770.6 484.4,1771.9 487.5,1771.8 490.6,1770.3 493.7,1767.6 496.9,1763.8 500,1759.4 503.1,1754.7 506.2,1750.2 509.4,1746.0 512.5,1742.6 515.6,1740.3 518.7,1739.1 521.9,1739.2 525,1740.5 528.1,1742.8 531.2,1746.0 534.4,1749.8 537.5,1753.7 537.5,1809.6 534.4,1805.6 531.2,1801.9 528.1,1798.7 525,1796.3 521.9,1795.0 518.7,1794.9 515.6,1796.1 512.5,1798.4 509.4,1801.8 506.2,1805.9 503.1,1810.5 500,1815.1 496.9,1819.5 493.7,1823.2 490.6,1826.0 487.5,1827.4 484.4,1827.5 481.2,1826.2 478.1,1823.4 475,1819.5 471.9,1814.6 468.7,1809.2 465.6,1803.7 462.5,1798.6 459.4,1794.2 456.2,1791.0 453.1,1789.3 450,1789.2 446.9,1790.8 443.7,1793.9 440.6,1798.5 437.5,1804.2 434.4,1810.5 431.2,1816.8 428.1,1822.8 425,1827.9 421.8,1831.6 418.7,1833.6 415.6,1833.7 412.5,1831.8 409.3,1828.0 406.2,1822.6 403.1,1815.9 400,1808.6 396.8,1801.0 393.7,1794.0 390.6,1788.0 387.5,1783.6 384.3,1781.2 381.2,1781.1 378.1,1783.3 375,1787.7 371.8,1793.9 368.7,1801.7 365.6,1810.2 362.5,1819.0 359.3,1827.1 356.2,1834.1 353.1,1839.1 350,1841.8 346.8,1841.9 343.7,1839.2 340.6,1834.0 337.5,1826.6 334.3,1817.4 331.2,1807.3 328.1,1797.0 325,1787.3 321.8,1779.1 318.7,1773.1 315.6,1769.8 312.4,1769.6 309.3,1772.6 306.2,1778.6 303.1,1787.2 299.9,1797.8 296.8,1809.5 293.7,1821.4 290.6,1832.6 287.4,1842.0 284.3,1848.8 281.2,1852.5 278.1,1852.5 274.9,1848.8 271.8,1841.6 268.7,1831.3 265.6,1818.7 262.4,1804.8 259.3,1790.6 256.2,1777.4 253.1,1766.1 249.9,1757.9 246.8,1753.4 243.7,1753.1 240.6,1757.2 237.4,1765.4 234.3,1777.1 231.2,1791.5 228.1,1807.5 224.9,1823.8 221.8,1838.9 218.7,1851.7 215.6,1861.0 212.4,1865.8 209.3,1865.7 206.2,1860.6 203,1850.5 199.9,1836.3 196.8,1819.0 193.7,1799.8 190.5,1780.3 187.4,1762.1 184.3,1746.6 181.2,1735.3 178,1729.0 174.9,1728.6 171.8,1734.1 168.7,1745.2 165.5,1761.2 162.4,1780.8 159.3,1802.6 156.2,1824.6 153,1845.2 149.9,1862.5 146.8,1875.0 143.7,1881.4 140.5,1881.1 137.4,1873.7 134.3,1859.7 131.2,1840.1 128,1816.1 124.9,1789.6 121.8,1762.7 118.7,1737.5 115.5,1716.1 112.4,1700.4 109.3,1691.7 106.2,1690.9 103,1698.2 99.9,1713.2Z"/>
<path d="M99.9,1702.4 103,1686.0 106.2,1677.4 109.3,1677.0 112.4,1684.6 115.5,1699.2 118.7,1719.4 121.8,1743.5 124.9,1769.4 128,1794.9 131.2,1817.9 134.3,1836.7 137.4,1849.7 140.5,1856.2 143.7,1855.8 146.8,1848.5 149.9,1835.3 153,1817.2 156.2,1795.9 159.3,1773.1 162.4,1750.7 165.5,1730.4 168.7,1713.8 171.8,1702.1 174.9,1696.0 178,1695.9 181.2,1701.6 184.3,1712.4 187.4,1727.4 190.5,1745.2 193.7,1764.2 196.8,1782.9 199.9,1799.8 203,1813.6 206.2,1823.2 209.3,1828.0 212.4,1827.7 215.6,1822.5 218.7,1812.8 221.8,1799.7 224.9,1784.2 228.1,1767.7 231.2,1751.4 234.3,1736.6 237.4,1724.6 240.6,1716.1 243.7,1711.8 246.8,1711.8 249.9,1716.1 253.1,1724.1 256.2,1735.1 259.3,1748.1 262.4,1762.1 265.6,1775.8 268.7,1788.2 271.8,1798.3 274.9,1805.3 278.1,1808.8 281.2,1808.6 284.3,1804.8 287.4,1797.8 290.6,1788.2 293.7,1777.0 296.8,1764.9 299.9,1753.0 303.1,1742.3 306.2,1733.6 309.3,1727.5 312.4,1724.4 315.6,1724.5 318.7,1727.6 321.8,1733.5 325,1741.6 328.1,1751.1 331.2,1761.4 334.3,1771.4 337.5,1780.5 340.6,1787.8 343.7,1793.0 346.8,1795.5 350,1795.4 353.1,1792.6 356.2,1787.5 359.3,1780.5 362.5,1772.3 365.6,1763.5 368.7,1754.8 371.8,1747.0 375,1740.7 378.1,1736.2 381.2,1734.0 384.3,1734.1 387.5,1736.4 390.6,1740.8 393.7,1746.7 396.8,1753.7 400,1761.2 403.1,1768.5 406.2,1775.1 409.3,1780.5 412.5,1784.3 415.6,1786.1 418.7,1786.0 421.8,1784.0 425,1780.2 428.1,1775.1 431.2,1769.1 434.4,1762.7 437.5,1756.4 440.6,1750.7 443.7,1746.1 446.9,1742.9 450,1741.3 453.1,1741.3 456.2,1743.1 459.4,1746.3 462.5,1750.6 465.6,1755.7 468.7,1761.2 471.9,1766.6 475,1771.4 478.1,1775.3 481.2,1778.0 484.4,1779.4 487.5,1779.3 490.6,1777.8 493.7,1775.1 496.9,1771.3 500,1766.9 503.1,1762.3 506.2,1757.7 509.4,1753.5 512.5,1750.2 515.6,1747.8 518.7,1746.7 521.9,1746.7 525,1748.0 528.1,1750.3 531.2,1753.5 534.4,1757.3 537.5,1761.3 537.5,1802.1 534.4,1798.1 531.2,1794.3 528.1,1791.1 525,1788.8 521.9,1787.5 518.7,1787.4 515.6,1788.6 512.5,1790.9 509.4,1794.3 506.2,1798.4 503.1,1803.0 500,1807.6 496.9,1812.0 493.7,1815.7 490.6,1818.5 487.5,1820.0 484.4,1820.0 481.2,1818.7 478.1,1815.9 475,1812.0 471.9,1807.1 468.7,1801.8 465.6,1796.3 462.5,1791.1 459.4,1786.8 456.2,1783.6 453.1,1781.8 450,1781.7 446.9,1783.3 443.7,1786.5 440.6,1791.1 437.5,1796.8 434.4,1803.0 431.2,1809.4 428.1,1815.4 425,1820.5 421.8,1824.2 418.7,1826.2 415.6,1826.3 412.5,1824.4 409.3,1820.6 406.2,1815.2 403.1,1808.6 400,1801.2 396.8,1793.7 393.7,1786.6 390.6,1780.7 387.5,1776.3 384.3,1773.9 381.2,1773.8 378.1,1776.0 375,1780.3 371.8,1786.6 368.7,1794.4 365.6,1803.0 362.5,1811.7 359.3,1819.9 356.2,1826.8 353.1,1831.9 350,1834.6 346.8,1834.7 343.7,1832.0 340.6,1826.8 337.5,1819.4 334.3,1810.3 331.2,1800.1 328.1,1789.8 325,1780.2 321.8,1772.0 318.7,1766.0 315.6,1762.8 312.4,1762.6 309.3,1765.6 306.2,1771.6 303.1,1780.2 299.9,1790.8 296.8,1802.6 293.7,1814.5 290.6,1825.7 287.4,1835.1 284.3,1842.0 281.2,1845.6 278.1,1845.7 274.9,1842.0 271.8,1834.8 268.7,1824.6 265.6,1812.0 262.4,1798.2 259.3,1784.0 256.2,1770.8 253.1,1759.6 249.9,1751.4 246.8,1746.9 243.7,1746.7 240.6,1750.8 237.4,1759.0 234.3,1770.8 231.2,1785.3 228.1,1801.3 224.9,1817.6 221.8,1832.8 218.7,1845.7 215.6,1855.0 212.4,1859.9 209.3,1859.9 206.2,1854.8 203,1844.8 199.9,1830.7 196.8,1813.4 193.7,1794.3 190.5,1774.9 187.4,1756.7 184.3,1741.3 181.2,1730.0 178,1723.9 174.9,1723.5 171.8,1729.1 168.7,1740.3 165.5,1756.4 162.4,1776.1 159.3,1798.0 156.2,1820.2 153,1840.9 149.9,1858.3 146.8,1870.9 143.7,1877.4 140.5,1877.2 137.4,1870.0 134.3,1856.2 131.2,1836.6 128,1812.8 124.9,1786.5 121.8,1759.7 118.7,1734.7 115.5,1713.5 112.4,1697.9 109.3,1689.4 106.2,1688.8 103,1696.3 99.9,1711.5Z"/>
<path d="M99.9,1703.6 103,1687.4 106.2,1678.9 109.3,1678.7 112.4,1686.3 115.5,1701.1 118.7,1721.4 121.8,1745.7 124.9,1771.6 128,1797.2 131.2,1820.4 134.3,1839.2 137.4,1852.4 140.5,1859.0 143.7,1858.6 146.8,1851.5 149.9,1838.3 153,1820.3 156.2,1799.1 159.3,1776.4 162.4,1754.1 165.5,1733.9 168.7,1717.3 171.8,1705.6 174.9,1699.6 178,1699.6 181.2,1705.3 184.3,1716.2 187.4,1731.3 190.5,1749.1 193.7,1768.1 196.8,1786.9 199.9,1803.9 203,1817.7 206.2,1827.3 209.3,1832.2 212.4,1831.9 215.6,1826.7 218.7,1817.2 221.8,1804.1 224.9,1788.6 228.1,1772.1 231.2,1755.8 234.3,1741.1 237.4,1729.1 240.6,1720.7 243.7,1716.4 246.8,1716.5 249.9,1720.7 253.1,1728.8 256.2,1739.8 259.3,1752.9 262.4,1766.8 265.6,1780.6 268.7,1793.0 271.8,1803.1 274.9,1810.2 278.1,1813.7 281.2,1813.5 284.3,1809.7 287.4,1802.7 290.6,1793.2 293.7,1781.9 296.8,1769.9 299.9,1758.0 303.1,1747.3 306.2,1738.6 309.3,1732.5 312.4,1729.4 315.6,1729.5 318.7,1732.7 321.8,1738.6 325,1746.7 328.1,1756.2 331.2,1766.5 334.3,1776.5 337.5,1785.6 340.6,1793.0 343.7,1798.1 346.8,1800.7 350,1800.5 353.1,1797.8 356.2,1792.7 359.3,1785.7 362.5,1777.4 365.6,1768.7 368.7,1760.0 371.8,1752.2 375,1745.9 378.1,1741.5 381.2,1739.2 384.3,1739.3 387.5,1741.7 390.6,1746.0 393.7,1752.0 396.8,1759.0 400,1766.4 403.1,1773.8 406.2,1780.4 409.3,1785.8 412.5,1789.5 415.6,1791.4 418.7,1791.3 421.8,1789.3 425,1785.5 428.1,1780.4 431.2,1774.4 434.4,1768.0 437.5,1761.7 440.6,1756.0 443.7,1751.4 446.9,1748.2 450,1746.6 453.1,1746.7 456.2,1748.4 459.4,1751.6 462.5,1755.9 465.6,1761.1 468.7,1766.5 471.9,1771.9 475,1776.7 478.1,1780.7 481.2,1783.4 484.4,1784.7 487.5,1784.6 490.6,1783.2 493.7,1780.4 496.9,1776.7 500,1772.3 503.1,1767.6 506.2,1763.0 509.4,1758.9 512.5,1755.5 515.6,1753.2 518.7,1752.0 521.9,1752.1 525,1753.4 528.1,1755.7 531.2,1758.9 534.4,1762.6 537.5,1766.6 537.5,1796.7 534.4,1792.7 531.2,1789.0 528.1,1785.8 525,1783.4 521.9,1782.1 518.7,1782.1 515.6,1783.2 512.5,1785.5 509.4,1788.9 506.2,1793.0 503.1,1797.6 500,1802.3 496.9,1806.7 493.7,1810.4 490.6,1813.1 487.5,1814.6 484.4,1814.7 481.2,1813.3 478.1,1810.6 475,1806.6 471.9,1801.8 468.7,1796.4 465.6,1790.9 462.5,1785.8 459.4,1781.4 456.2,1778.2 453.1,1776.5 450,1776.4 446.9,1778.0 443.7,1781.2 440.6,1785.8 437.5,1791.4 434.4,1797.7 431.2,1804.1 428.1,1810.1 425,1815.2 421.8,1818.9 418.7,1820.9 415.6,1821.0 412.5,1819.1 409.3,1815.3 406.2,1809.9 403.1,1803.3 400,1795.9 396.8,1788.4 393.7,1781.4 390.6,1775.4 387.5,1771.0 384.3,1768.7 381.2,1768.5 378.1,1770.7 375,1775.1 371.8,1781.4 368.7,1789.2 365.6,1797.8 362.5,1806.5 359.3,1814.7 356.2,1821.6 353.1,1826.7 350,1829.4 346.8,1829.5 343.7,1826.9 340.6,1821.7 337.5,1814.3 334.3,1805.1 331.2,1795.0 328.1,1784.7 325,1775.1 321.8,1767.0 318.7,1761.0 315.6,1757.7 312.4,1757.6 309.3,1760.6 306.2,1766.6 303.1,1775.3 299.9,1785.9 296.8,1797.6 293.7,1809.6 290.6,1820.7 287.4,1830.2 284.3,1837.1 281.2,1840.8 278.1,1840.9 274.9,1837.2 271.8,1830.0 268.7,1819.8 265.6,1807.3 262.4,1793.4 259.3,1779.3 256.2,1766.1 253.1,1754.9 249.9,1746.7 246.8,1742.3 243.7,1742.1 240.6,1746.2 237.4,1754.5 234.3,1766.3 231.2,1780.8 228.1,1796.9 224.9,1813.2 221.8,1828.5 218.7,1841.3 215.6,1850.7 212.4,1855.7 209.3,1855.7 206.2,1850.6 203,1840.7 199.9,1826.6 196.8,1809.4 193.7,1790.3 190.5,1771.0 187.4,1752.8 184.3,1737.5 181.2,1726.3 178,1720.2 174.9,1719.9 171.8,1725.5 168.7,1736.8 165.5,1753.0 162.4,1772.8 159.3,1794.7 156.2,1817.0 153,1837.8 149.9,1855.3 146.8,1867.9 143.7,1874.6 140.5,1874.4 137.4,1867.3 134.3,1853.6 131.2,1834.2 128,1810.4 124.9,1784.2 121.8,1757.6 118.7,1732.7 115.5,1711.6 112.4,1696.2 109.3,1687.8 106.2,1687.3 103,1694.9 99.9,1710.3Z"/>
<path d="M99.9,1704.5 103,1688.5 106.2,1680.1 109.3,1680.0 112.4,1687.7 115.5,1702.6 118.7,1723.0 121.8,1747.4 124.9,1773.4 128,1799.1 131.2,1822.3 134.3,1841.3 137.4,1854.5 140.5,1861.2 143.7,1860.9 146.8,1853.8 149.9,1840.7 153,1822.8 156.2,1801.7 159.3,1779.0 162.4,1756.7 165.5,1736.6 168.7,1720.1 171.8,1708.5 174.9,1702.5 178,1702.5 181.2,1708.3 184.3,1719.3 187.4,1734.3 190.5,1752.2 193.7,1771.3 196.8,1790.1 199.9,1807.1 203,1821.0 206.2,1830.7 209.3,1835.5 212.4,1835.3 215.6,1830.2 218.7,1820.6 221.8,1807.5 224.9,1792.1 228.1,1775.6 231.2,1759.4 234.3,1744.7 237.4,1732.8 240.6,1724.4 243.7,1720.1 246.8,1720.2 249.9,1724.5 253.1,1732.5 256.2,1743.6 259.3,1756.6 262.4,1770.6 265.6,1784.4 268.7,1796.8 271.8,1806.9 274.9,1814.0 278.1,1817.6 281.2,1817.4 284.3,1813.6 287.4,1806.6 290.6,1797.1 293.7,1785.9 296.8,1773.8 299.9,1762.0 303.1,1751.3 306.2,1742.6 309.3,1736.5 312.4,1733.4 315.6,1733.5 318.7,1736.7 321.8,1742.6 325,1750.7 328.1,1760.3 331.2,1770.5 334.3,1780.6 337.5,1789.7 340.6,1797.1 343.7,1802.2 346.8,1804.8 350,1804.7 353.1,1801.9 356.2,1796.8 359.3,1789.8 362.5,1781.6 365.6,1772.8 368.7,1764.2 371.8,1756.4 375,1750.1 378.1,1745.6 381.2,1743.4 384.3,1743.5 387.5,1745.9 390.6,1750.2 393.7,1756.2 396.8,1763.2 400,1770.7 403.1,1778.0 406.2,1784.6 409.3,1790.0 412.5,1793.8 415.6,1795.6 418.7,1795.5 421.8,1793.5 425,1789.8 428.1,1784.7 431.2,1778.7 434.4,1772.2 437.5,1765.9 440.6,1760.3 443.7,1755.7 446.9,1752.4 450,1750.8 453.1,1750.9 456.2,1752.7 459.4,1755.9 462.5,1760.2 465.6,1765.3 468.7,1770.8 471.9,1776.2 475,1781.0 478.1,1784.9 481.2,1787.7 484.4,1789.0 487.5,1788.9 490.6,1787.4 493.7,1784.7 496.9,1781.0 500,1776.6 503.1,1771.9 506.2,1767.3 509.4,1763.2 512.5,1759.8 515.6,1757.5 518.7,1756.3 521.9,1756.4 525,1757.7 528.1,1760.0 531.2,1763.2 534.4,1766.9 537.5,1770.9 537.5,1792.4 534.4,1788.4 531.2,1784.7 528.1,1781.5 525,1779.1 521.9,1777.9 518.7,1777.8 515.6,1778.9 512.5,1781.3 509.4,1784.6 506.2,1788.7 503.1,1793.3 500,1798.0 496.9,1802.4 493.7,1806.1 490.6,1808.8 487.5,1810.3 484.4,1810.4 481.2,1809.1 478.1,1806.3 475,1802.4 471.9,1797.5 468.7,1792.2 465.6,1786.7 462.5,1781.5 459.4,1777.2 456.2,1774.0 453.1,1772.2 450,1772.1 446.9,1773.7 443.7,1776.9 440.6,1781.5 437.5,1787.2 434.4,1793.5 431.2,1799.9 428.1,1805.9 425,1810.9 421.8,1814.7 418.7,1816.7 415.6,1816.8 412.5,1814.9 409.3,1811.1 406.2,1805.7 403.1,1799.1 400,1791.7 396.8,1784.2 393.7,1777.2 390.6,1771.2 387.5,1766.8 384.3,1764.5 381.2,1764.3 378.1,1766.5 375,1771.0 371.8,1777.3 368.7,1785.0 365.6,1793.6 362.5,1802.4 359.3,1810.6 356.2,1817.5 353.1,1822.6 350,1825.3 346.8,1825.4 343.7,1822.8 340.6,1817.6 337.5,1810.2 334.3,1801.0 331.2,1791.0 328.1,1780.7 325,1771.1 321.8,1762.9 318.7,1756.9 315.6,1753.7 312.4,1753.5 309.3,1756.6 306.2,1762.6 303.1,1771.3 299.9,1781.9 296.8,1793.6 293.7,1805.6 290.6,1816.8 287.4,1826.3 284.3,1833.2 281.2,1836.9 278.1,1837.0 274.9,1833.3 271.8,1826.2 268.7,1816.0 265.6,1803.5 262.4,1789.6 259.3,1775.5 256.2,1762.3 253.1,1751.2 249.9,1743.0 246.8,1738.6 243.7,1738.4 240.6,1742.6 237.4,1750.9 234.3,1762.7 231.2,1777.3 228.1,1793.3 224.9,1809.7 221.8,1825.0 218.7,1837.9 215.6,1847.3 212.4,1852.3 209.3,1852.3 206.2,1847.3 203,1837.4 199.9,1823.3 196.8,1806.2 193.7,1787.1 190.5,1767.8 187.4,1749.8 184.3,1734.5 181.2,1723.3 178,1717.3 174.9,1717.0 171.8,1722.7 168.7,1734.0 165.5,1750.3 162.4,1770.1 159.3,1792.1 156.2,1814.4 153,1835.3 149.9,1852.8 146.8,1865.6 143.7,1872.3 140.5,1872.2 137.4,1865.2 134.3,1851.5 131.2,1832.2 128,1808.5 124.9,1782.4 121.8,1755.9 118.7,1731.1 115.5,1710.1 112.4,1694.8 109.3,1686.5 106.2,1686.1 103,1693.8 99.9,1709.3Z"/>
<path d="M99.9,1705.4 103,1689.4 106.2,1681.2 109.3,1681.1 112.4,1689.0 115.5,1703.9 118.7,1724.5 121.8,1748.9 124.9,1775.0 128,1800.8 131.2,1824.1 134.3,1843.1 137.4,1856.4 140.5,1863.1 143.7,1862.9 146.8,1855.9 149.9,1842.8 153,1825.0 156.2,1803.9 159.3,1781.3 162.4,1759.1 165.5,1739.0 168.7,1722.5 171.8,1711.0 174.9,1705.1 178,1705.1 181.2,1711.0 184.3,1721.9 187.4,1737.0 190.5,1754.9 193.7,1774.1 196.8,1792.9 199.9,1809.9 203,1823.8 206.2,1833.6 209.3,1838.5 212.4,1838.3 215.6,1833.1 218.7,1823.6 221.8,1810.6 224.9,1795.2 228.1,1778.7 231.2,1762.5 234.3,1747.9 237.4,1735.9 240.6,1727.5 243.7,1723.3 246.8,1723.4 249.9,1727.7 253.1,1735.8 256.2,1746.9 259.3,1759.9 262.4,1774.0 265.6,1787.7 268.7,1800.2 271.8,1810.3 274.9,1817.4 278.1,1821.0 281.2,1820.8 284.3,1817.0 287.4,1810.1 290.6,1800.6 293.7,1789.3 296.8,1777.3 299.9,1765.5 303.1,1754.8 306.2,1746.1 309.3,1740.0 312.4,1736.9 315.6,1737.1 318.7,1740.3 321.8,1746.2 325,1754.3 328.1,1763.9 331.2,1774.1 334.3,1784.2 337.5,1793.3 340.6,1800.7 343.7,1805.8 346.8,1808.4 350,1808.3 353.1,1805.5 356.2,1800.4 359.3,1793.5 362.5,1785.2 365.6,1776.5 368.7,1767.8 371.8,1760.1 375,1753.7 378.1,1749.3 381.2,1747.1 384.3,1747.2 387.5,1749.5 390.6,1753.9 393.7,1759.8 396.8,1766.8 400,1774.3 403.1,1781.7 406.2,1788.3 409.3,1793.7 412.5,1797.5 415.6,1799.3 418.7,1799.2 421.8,1797.2 425,1793.5 428.1,1788.4 431.2,1782.4 434.4,1776.0 437.5,1769.7 440.6,1764.0 443.7,1759.4 446.9,1756.2 450,1754.6 453.1,1754.7 456.2,1756.4 459.4,1759.6 462.5,1763.9 465.6,1769.1 468.7,1774.5 471.9,1779.9 475,1784.7 478.1,1788.7 481.2,1791.4 484.4,1792.8 487.5,1792.7 490.6,1791.2 493.7,1788.4 496.9,1784.7 500,1780.3 503.1,1775.6 506.2,1771.1 509.4,1766.9 512.5,1763.6 515.6,1761.2 518.7,1760.1 521.9,1760.1 525,1761.4 528.1,1763.8 531.2,1766.9 534.4,1770.7 537.5,1774.7 537.5,1788.7 534.4,1784.7 531.2,1780.9 528.1,1777.7 525,1775.4 521.9,1774.1 518.7,1774.0 515.6,1775.2 512.5,1777.5 509.4,1780.9 506.2,1785.0 503.1,1789.6 500,1794.3 496.9,1798.6 493.7,1802.4 490.6,1805.1 487.5,1806.6 484.4,1806.7 481.2,1805.3 478.1,1802.6 475,1798.6 471.9,1793.8 468.7,1788.4 465.6,1782.9 462.5,1777.8 459.4,1773.4 456.2,1770.3 453.1,1768.5 450,1768.4 446.9,1770.0 443.7,1773.2 440.6,1777.8 437.5,1783.5 434.4,1789.8 431.2,1796.2 428.1,1802.2 425,1807.2 421.8,1811.0 418.7,1813.0 415.6,1813.1 412.5,1811.2 409.3,1807.4 406.2,1802.0 403.1,1795.4 400,1788.0 396.8,1780.5 393.7,1773.5 390.6,1767.5 387.5,1763.2 384.3,1760.8 381.2,1760.7 378.1,1762.9 375,1767.3 371.8,1773.6 368.7,1781.4 365.6,1790.0 362.5,1798.7 359.3,1806.9 356.2,1813.9 353.1,1818.9 350,1821.7 346.8,1821.8 343.7,1819.2 340.6,1814.0 337.5,1806.6 334.3,1797.5 331.2,1787.4 328.1,1777.1 325,1767.5 321.8,1759.4 318.7,1753.4 315.6,1750.2 312.4,1750.0 309.3,1753.1 306.2,1759.1 303.1,1767.8 299.9,1778.4 296.8,1790.2 293.7,1802.2 290.6,1813.4 287.4,1822.8 284.3,1829.8 281.2,1833.5 278.1,1833.6 274.9,1830.0 271.8,1822.8 268.7,1812.6 265.6,1800.1 262.4,1786.3 259.3,1772.2 256.2,1759.1 253.1,1747.9 249.9,1739.8 246.8,1735.4 243.7,1735.2 240.6,1739.4 237.4,1747.7 234.3,1759.6 231.2,1774.1 228.1,1790.2 224.9,1806.6 221.8,1821.9 218.7,1834.9 215.6,1844.3 212.4,1849.3 209.3,1849.4 206.2,1844.4 203,1834.5 199.9,1820.5 196.8,1803.3 193.7,1784.4 190.5,1765.1 187.4,1747.1 184.3,1731.8 181.2,1720.7 178,1714.7 174.9,1714.5 171.8,1720.2 168.7,1731.6 165.5,1747.9 162.4,1767.8 159.3,1789.8 156.2,1812.2 153,1833.1 149.9,1850.7 146.8,1863.5 143.7,1870.3 140.5,1870.3 137.4,1863.3 134.3,1849.7 131.2,1830.5 128,1806.9 124.9,1780.8 121.8,1754.4 118.7,1729.7 115.5,1708.8 112.4,1693.5 109.3,1685.3 106.2,1685.0 103,1692.9 99.9,1708.5Z"/>
<path d="M99.9,1706.1 103,1690.2 106.2,1682.1 109.3,1682.1 112.4,1690.0 115.5,1705.0 118.7,1725.7 121.8,1750.1 124.9,1776.4 128,1802.2 131.2,1825.5 134.3,1844.6 137.4,1858.0 140.5,1864.8 143.7,1864.6 146.8,1857.6 149.9,1844.7 153,1826.9 156.2,1805.8 159.3,1783.3 162.4,1761.1 165.5,1741.0 168.7,1724.6 171.8,1713.1 174.9,1707.2 178,1707.3 181.2,1713.2 184.3,1724.2 187.4,1739.4 190.5,1757.3 193.7,1776.5 196.8,1795.3 199.9,1812.4 203,1826.3 206.2,1836.1 209.3,1841.0 212.4,1840.8 215.6,1835.7 218.7,1826.2 221.8,1813.2 224.9,1797.8 228.1,1781.4 231.2,1765.2 234.3,1750.6 237.4,1738.6 240.6,1730.3 243.7,1726.0 246.8,1726.2 249.9,1730.5 253.1,1738.6 256.2,1749.7 259.3,1762.8 262.4,1776.8 265.6,1790.6 268.7,1803.0 271.8,1813.2 274.9,1820.3 278.1,1823.9 281.2,1823.7 284.3,1820.0 287.4,1813.0 290.6,1803.5 293.7,1792.3 296.8,1780.3 299.9,1768.5 303.1,1757.8 306.2,1749.1 309.3,1743.0 312.4,1740.0 315.6,1740.1 318.7,1743.3 321.8,1749.2 325,1757.3 328.1,1766.9 331.2,1777.2 334.3,1787.2 337.5,1796.3 340.6,1803.7 343.7,1808.9 346.8,1811.5 350,1811.4 353.1,1808.6 356.2,1803.5 359.3,1796.6 362.5,1788.3 365.6,1779.6 368.7,1771.0 371.8,1763.2 375,1756.9 378.1,1752.4 381.2,1750.2 384.3,1750.3 387.5,1752.7 390.6,1757.0 393.7,1763.0 396.8,1770.0 400,1777.5 403.1,1784.8 406.2,1791.5 409.3,1796.9 412.5,1800.6 415.6,1802.5 418.7,1802.4 421.8,1800.4 425,1796.6 428.1,1791.6 431.2,1785.5 434.4,1779.1 437.5,1772.9 440.6,1767.2 443.7,1762.6 446.9,1759.4 450,1757.8 453.1,1757.9 456.2,1759.6 459.4,1762.8 462.5,1767.1 465.6,1772.3 468.7,1777.7 471.9,1783.1 475,1787.9 478.1,1791.9 481.2,1794.6 484.4,1796.0 487.5,1795.9 490.6,1794.4 493.7,1791.7 496.9,1787.9 500,1783.5 503.1,1778.9 506.2,1774.3 509.4,1770.1 512.5,1766.8 515.6,1764.4 518.7,1763.3 521.9,1763.4 525,1764.6 528.1,1767.0 531.2,1770.2 534.4,1773.9 537.5,1777.9 537.5,1785.4 534.4,1781.4 531.2,1777.7 528.1,1774.5 525,1772.2 521.9,1770.9 518.7,1770.8 515.6,1772.0 512.5,1774.3 509.4,1777.6 506.2,1781.8 503.1,1786.4 500,1791.0 496.9,1795.4 493.7,1799.1 490.6,1801.9 487.5,1803.4 484.4,1803.5 481.2,1802.1 478.1,1799.4 475,1795.4 471.9,1790.6 468.7,1785.2 465.6,1779.7 462.5,1774.6 459.4,1770.3 456.2,1767.1 453.1,1765.3 450,1765.2 446.9,1766.8 443.7,1770.0 440.6,1774.6 437.5,1780.3 434.4,1786.6 431.2,1793.0 428.1,1799.0 425,1804.1 421.8,1807.8 418.7,1809.8 415.6,1809.9 412.5,1808.0 409.3,1804.3 406.2,1798.9 403.1,1792.2 400,1784.9 396.8,1777.4 393.7,1770.3 390.6,1764.4 387.5,1760.0 384.3,1757.7 381.2,1757.5 378.1,1759.8 375,1764.2 371.8,1770.5 368.7,1778.2 365.6,1786.9 362.5,1795.6 359.3,1803.8 356.2,1810.8 353.1,1815.8 350,1818.6 346.8,1818.7 343.7,1816.1 340.6,1810.9 337.5,1803.5 334.3,1794.4 331.2,1784.3 328.1,1774.1 325,1764.4 321.8,1756.3 318.7,1750.4 315.6,1747.1 312.4,1747.0 309.3,1750.1 306.2,1756.1 303.1,1764.8 299.9,1775.4 296.8,1787.2 293.7,1799.2 290.6,1810.4 287.4,1819.9 284.3,1826.8 281.2,1830.6 278.1,1830.7 274.9,1827.1 271.8,1819.9 268.7,1809.7 265.6,1797.3 262.4,1783.4 259.3,1769.4 256.2,1756.2 253.1,1745.1 249.9,1737.0 246.8,1732.6 243.7,1732.5 240.6,1736.7 237.4,1745.0 234.3,1756.9 231.2,1771.5 228.1,1787.6 224.9,1804.0 221.8,1819.3 218.7,1832.3 215.6,1841.7 212.4,1846.8 209.3,1846.9 206.2,1841.9 203,1832.1 199.9,1818.1 196.8,1800.9 193.7,1782.0 190.5,1762.7 187.4,1744.8 184.3,1729.5 181.2,1718.4 178,1712.5 174.9,1712.3 171.8,1718.1 168.7,1729.5 165.5,1745.8 162.4,1765.8 159.3,1787.9 156.2,1810.3 153,1831.2 149.9,1848.9 146.8,1861.8 143.7,1868.6 140.5,1868.6 137.4,1861.7 134.3,1848.2 131.2,1829.0 128,1805.5 124.9,1779.5 121.8,1753.1 118.7,1728.5 115.5,1707.7 112.4,1692.5 109.3,1684.4 106.2,1684.2 103,1692.1 99.9,1707.8Z"/>
<path d="M99.9,1841.5 103,1815.3 106.2,1786.1 109.3,1756.2 112.4,1727.9 115.5,1703.4 118.7,1684.3 121.8,1672.1 124.9,1667.3 128,1670.0 131.2,1679.8 134.3,1695.5 137.4,1715.7 140.5,1738.5 143.7,1761.9 146.8,1784.0 149.9,1803.0 153,1817.4 156.2,1826.1 159.3,1828.4 162.4,1824.3 165.5,1814.3 168.7,1799.3 171.8,1780.5 174.9,1759.5 178,1738.1 181.2,1717.8 184.3,1700.3 187.4,1686.7 190.5,1678.1 193.7,1675.0 196.8,1677.3 199.9,1684.8 203,1696.6 206.2,1711.6 209.3,1728.6 212.4,1746.0 215.6,1762.4 218.7,1776.4 221.8,1787.1 224.9,1793.6 228.1,1795.5 231.2,1792.7 234.3,1785.5 237.4,1774.7 240.6,1761.2 243.7,1746.0 246.8,1730.5 249.9,1715.9 253.1,1703.3 256.2,1693.6 259.3,1687.5 262.4,1685.4 265.6,1687.3 268.7,1692.9 271.8,1701.6 274.9,1712.8 278.1,1725.3 281.2,1738.1 284.3,1750.1 287.4,1760.5 290.6,1768.4 293.7,1773.2 296.8,1774.7 299.9,1772.7 303.1,1767.5 306.2,1759.7 309.3,1749.9 312.4,1738.9 315.6,1727.6 318.7,1717.0 321.8,1707.9 325,1700.9 328.1,1696.5 331.2,1695.1 334.3,1696.6 337.5,1700.7 340.6,1707.2 343.7,1715.4 346.8,1724.6 350,1734.0 353.1,1742.9 356.2,1750.5 359.3,1756.3 362.5,1759.8 365.6,1760.9 368.7,1759.5 371.8,1755.7 375,1750.0 378.1,1742.9 381.2,1734.9 384.3,1726.7 387.5,1719.0 390.6,1712.4 393.7,1707.3 396.8,1704.2 400,1703.2 403.1,1704.3 406.2,1707.4 409.3,1712.2 412.5,1718.2 415.6,1724.9 418.7,1731.8 421.8,1738.3 425,1743.9 428.1,1748.1 431.2,1750.7 434.4,1751.5 437.5,1750.5 440.6,1747.7 443.7,1743.6 446.9,1738.4 450,1732.5 453.1,1726.6 456.2,1721.0 459.4,1716.2 462.5,1712.5 465.6,1710.2 468.7,1709.5 471.9,1710.4 475,1712.7 478.1,1716.2 481.2,1720.6 484.4,1725.5 487.5,1730.6 490.6,1735.3 493.7,1739.4 496.9,1742.5 500,1744.4 503.1,1744.9 506.2,1744.2 509.4,1742.2 512.5,1739.1 515.6,1735.3 518.7,1731.1 521.9,1726.7 525,1722.7 528.1,1719.2 531.2,1716.5 534.4,1714.9 537.5,1714.4 537.5,1821.8 534.4,1822.3 531.2,1823.9 528.1,1826.5 525,1830.0 521.9,1834.1 518.7,1838.4 515.6,1842.6 512.5,1846.4 509.4,1849.4 506.2,1851.4 503.1,1852.1 500,1851.5 496.9,1849.6 493.7,1846.4 490.6,1842.3 487.5,1837.6 484.4,1832.5 481.2,1827.5 478.1,1823.0 475,1819.5 471.9,1817.2 468.7,1816.3 465.6,1816.9 462.5,1819.2 459.4,1822.8 456.2,1827.5 453.1,1833.1 450,1839.0 446.9,1844.8 443.7,1849.9 440.6,1854.0 437.5,1856.7 434.4,1857.7 431.2,1856.8 428.1,1854.1 425,1849.8 421.8,1844.2 418.7,1837.6 415.6,1830.6 412.5,1823.8 409.3,1817.7 406.2,1812.9 403.1,1809.7 400,1808.4 396.8,1809.4 393.7,1812.4 390.6,1817.3 387.5,1823.9 384.3,1831.4 381.2,1839.5 378.1,1847.4 375,1854.4 371.8,1860.0 368.7,1863.6 365.6,1864.9 362.5,1863.6 359.3,1859.9 356.2,1854.0 353.1,1846.2 350,1837.2 346.8,1827.6 343.7,1818.2 340.6,1809.9 337.5,1803.2 334.3,1798.8 331.2,1797.1 328.1,1798.3 325,1802.5 321.8,1809.2 318.7,1818.1 315.6,1828.5 312.4,1839.5 309.3,1850.2 306.2,1859.7 303.1,1867.3 299.9,1872.1 296.8,1873.8 293.7,1872.0 290.6,1866.9 287.4,1858.7 284.3,1847.9 281.2,1835.5 278.1,1822.3 274.9,1809.4 271.8,1797.9 268.7,1788.7 265.6,1782.6 262.4,1780.2 259.3,1781.9 256.2,1787.5 253.1,1796.7 249.9,1808.8 246.8,1822.9 243.7,1837.8 240.6,1852.3 237.4,1865.3 234.3,1875.5 231.2,1881.9 228.1,1884.1 224.9,1881.5 221.8,1874.3 218.7,1862.8 215.6,1847.9 212.4,1830.7 209.3,1812.5 206.2,1794.7 203,1778.8 199.9,1766.0 196.8,1757.6 193.7,1754.2 190.5,1756.3 187.4,1763.8 184.3,1776.2 181.2,1792.6 178,1811.7 174.9,1831.9 171.8,1851.6 168.7,1869.0 165.5,1882.6 162.4,1891.2 159.3,1893.8 156.2,1889.9 153,1879.6 149.9,1863.6 146.8,1842.9 143.7,1819.0 140.5,1793.7 137.4,1768.9 134.3,1746.8 131.2,1729.0 128,1717.1 124.9,1712.1 121.8,1714.6 118.7,1724.5 115.5,1741.1 112.4,1763.1 109.3,1788.7 106.2,1815.9 103,1842.3 99.9,1865.5Z"/>
<path d="M99.9,1844.9 103,1819.1 106.2,1790.3 109.3,1760.8 112.4,1732.8 115.5,1708.7 118.7,1690.0 121.8,1678.0 124.9,1673.5 128,1676.6 131.2,1686.7 134.3,1702.7 137.4,1723.1 140.5,1746.2 143.7,1769.9 146.8,1792.3 149.9,1811.5 153,1826.1 156.2,1835.0 159.3,1837.5 162.4,1833.7 165.5,1823.9 168.7,1809.0 171.8,1790.4 174.9,1769.7 178,1748.4 181.2,1728.3 184.3,1710.9 187.4,1697.5 190.5,1689.1 193.7,1686.1 196.8,1688.6 199.9,1696.2 203,1708.1 206.2,1723.3 209.3,1740.3 212.4,1757.8 215.6,1774.3 218.7,1788.5 221.8,1799.3 224.9,1805.9 228.1,1807.9 231.2,1805.2 234.3,1798.1 237.4,1787.4 240.6,1773.9 243.7,1758.9 246.8,1743.5 249.9,1728.9 253.1,1716.4 256.2,1706.7 259.3,1700.7 262.4,1698.6 265.6,1700.6 268.7,1706.3 271.8,1715.1 274.9,1726.3 278.1,1738.8 281.2,1751.7 284.3,1763.8 287.4,1774.3 290.6,1782.2 293.7,1787.1 296.8,1788.5 299.9,1786.6 303.1,1781.5 306.2,1773.7 309.3,1763.9 312.4,1753.0 315.6,1741.7 318.7,1731.2 321.8,1722.1 325,1715.1 328.1,1710.8 331.2,1709.4 334.3,1710.9 337.5,1715.1 340.6,1721.6 343.7,1729.8 346.8,1739.0 350,1748.5 353.1,1757.3 356.2,1765.0 359.3,1770.8 362.5,1774.4 365.6,1775.4 368.7,1774.0 371.8,1770.3 375,1764.6 378.1,1757.5 381.2,1749.5 384.3,1741.4 387.5,1733.7 390.6,1727.1 393.7,1722.0 396.8,1718.9 400,1717.9 403.1,1719.0 406.2,1722.2 409.3,1726.9 412.5,1733.0 415.6,1739.7 418.7,1746.6 421.8,1753.1 425,1758.7 428.1,1763.0 431.2,1765.6 434.4,1766.4 437.5,1765.3 440.6,1762.6 443.7,1758.5 446.9,1753.3 450,1747.4 453.1,1741.5 456.2,1735.9 459.4,1731.1 462.5,1727.4 465.6,1725.2 468.7,1724.5 471.9,1725.3 475,1727.6 478.1,1731.1 481.2,1735.5 484.4,1740.5 487.5,1745.5 490.6,1750.3 493.7,1754.4 496.9,1757.5 500,1759.4 503.1,1759.9 506.2,1759.2 509.4,1757.2 512.5,1754.2 515.6,1750.4 518.7,1746.1 521.9,1741.8 525,1737.7 528.1,1734.2 531.2,1731.5 534.4,1729.9 537.5,1729.4 537.5,1806.7 534.4,1807.2 531.2,1808.9 528.1,1811.5 525,1815.0 521.9,1819.0 518.7,1823.4 515.6,1827.6 512.5,1831.4 509.4,1834.4 506.2,1836.4 503.1,1837.1 500,1836.5 496.9,1834.6 493.7,1831.5 490.6,1827.4 487.5,1822.6 484.4,1817.5 481.2,1812.5 478.1,1808.1 475,1804.5 471.9,1802.2 468.7,1801.3 465.6,1802.0 462.5,1804.2 459.4,1807.9 456.2,1812.6 453.1,1818.2 450,1824.1 446.9,1829.9 443.7,1835.0 440.6,1839.1 437.5,1841.8 434.4,1842.8 431.2,1842.0 428.1,1839.3 425,1835.0 421.8,1829.4 418.7,1822.8 415.6,1815.8 412.5,1809.0 409.3,1802.9 406.2,1798.1 403.1,1794.9 400,1793.7 396.8,1794.6 393.7,1797.7 390.6,1802.6 387.5,1809.2 384.3,1816.8 381.2,1824.9 378.1,1832.7 375,1839.8 371.8,1845.4 368.7,1849.0 365.6,1850.3 362.5,1849.1 359.3,1845.4 356.2,1839.5 353.1,1831.8 350,1822.7 346.8,1813.2 343.7,1803.8 340.6,1795.5 337.5,1788.8 334.3,1784.5 331.2,1782.8 328.1,1784.1 325,1788.3 321.8,1795.0 318.7,1804.0 315.6,1814.4 312.4,1825.4 309.3,1836.1 306.2,1845.7 303.1,1853.3 299.9,1858.2 296.8,1859.9 293.7,1858.2 290.6,1853.1 287.4,1844.9 284.3,1834.2 281.2,1821.8 278.1,1808.7 274.9,1795.9 271.8,1784.4 268.7,1775.3 265.6,1769.2 262.4,1767.0 259.3,1768.7 256.2,1774.3 253.1,1783.6 249.9,1795.8 246.8,1809.9 243.7,1824.9 240.6,1839.6 237.4,1852.6 234.3,1862.9 231.2,1869.5 228.1,1871.7 224.9,1869.2 221.8,1862.1 218.7,1850.7 215.6,1836.0 212.4,1818.9 209.3,1800.8 206.2,1783.1 203,1767.3 199.9,1754.7 196.8,1746.3 193.7,1743.1 190.5,1745.4 187.4,1753.0 184.3,1765.6 181.2,1782.1 178,1801.4 174.9,1821.8 171.8,1841.6 168.7,1859.2 165.5,1873.1 162.4,1881.8 159.3,1884.6 156.2,1881.0 153,1870.9 149.9,1855.1 146.8,1834.6 143.7,1811.0 140.5,1785.9 137.4,1761.5 134.3,1739.6 131.2,1722.1 128,1710.5 124.9,1705.8 121.8,1708.7 118.7,1718.9 115.5,1735.8 112.4,1758.2 109.3,1784.2 106.2,1811.7 103,1838.5 99.9,1862.2Z"/>
<path d="M99.9,1847.3 103,1821.8 106.2,1793.2 109.3,1764.0 112.4,1736.4 115.5,1712.4 118.7,1694.0 121.8,1682.3 124.9,1678.0 128,1681.3 131.2,1691.6 134.3,1707.8 137.4,1728.4 140.5,1751.7 143.7,1775.6 146.8,1798.2 149.9,1817.6 153,1832.3 156.2,1841.4 159.3,1844.1 162.4,1840.4 165.5,1830.7 168.7,1816.0 171.8,1797.6 174.9,1776.9 178,1755.7 181.2,1735.8 184.3,1718.5 187.4,1705.2 190.5,1696.9 193.7,1694.0 196.8,1696.6 199.9,1704.3 203,1716.3 206.2,1731.6 209.3,1748.7 212.4,1766.3 215.6,1782.9 218.7,1797.2 221.8,1808.0 224.9,1814.7 228.1,1816.8 231.2,1814.1 234.3,1807.1 237.4,1796.5 240.6,1783.1 243.7,1768.1 246.8,1752.7 249.9,1738.2 253.1,1725.7 256.2,1716.1 259.3,1710.1 262.4,1708.1 265.6,1710.1 268.7,1715.9 271.8,1724.7 274.9,1736.0 278.1,1748.5 281.2,1761.4 284.3,1773.6 287.4,1784.1 290.6,1792.0 293.7,1796.9 296.8,1798.5 299.9,1796.5 303.1,1791.5 306.2,1783.7 309.3,1773.9 312.4,1763.0 315.6,1751.8 318.7,1741.3 321.8,1732.2 325,1725.3 328.1,1721.0 331.2,1719.6 334.3,1721.1 337.5,1725.3 340.6,1731.9 343.7,1740.1 346.8,1749.3 350,1758.8 353.1,1767.7 356.2,1775.3 359.3,1781.2 362.5,1784.7 365.6,1785.8 368.7,1784.4 371.8,1780.7 375,1775.1 378.1,1767.9 381.2,1760.0 384.3,1751.8 387.5,1744.2 390.6,1737.6 393.7,1732.5 396.8,1729.4 400,1728.4 403.1,1729.6 406.2,1732.7 409.3,1737.5 412.5,1743.5 415.6,1750.3 418.7,1757.2 421.8,1763.7 425,1769.3 428.1,1773.6 431.2,1776.2 434.4,1777.0 437.5,1775.9 440.6,1773.2 443.7,1769.1 446.9,1763.9 450,1758.1 453.1,1752.1 456.2,1746.6 459.4,1741.7 462.5,1738.1 465.6,1735.8 468.7,1735.1 471.9,1736.0 475,1738.3 478.1,1741.8 481.2,1746.2 484.4,1751.2 487.5,1756.2 490.6,1761.0 493.7,1765.1 496.9,1768.2 500,1770.1 503.1,1770.7 506.2,1769.9 509.4,1767.9 512.5,1764.9 515.6,1761.1 518.7,1756.8 521.9,1752.5 525,1748.4 528.1,1744.9 531.2,1742.3 534.4,1740.6 537.5,1740.1 537.5,1796.0 534.4,1796.5 531.2,1798.1 528.1,1800.8 525,1804.3 521.9,1808.3 518.7,1812.6 515.6,1816.9 512.5,1820.6 509.4,1823.7 506.2,1825.6 503.1,1826.4 500,1825.8 496.9,1823.9 493.7,1820.7 490.6,1816.6 487.5,1811.9 484.4,1806.8 481.2,1801.8 478.1,1797.4 475,1793.9 471.9,1791.5 468.7,1790.7 465.6,1791.3 462.5,1793.6 459.4,1797.2 456.2,1802.0 453.1,1807.5 450,1813.4 446.9,1819.2 443.7,1824.4 440.6,1828.5 437.5,1831.2 434.4,1832.2 431.2,1831.3 428.1,1828.7 425,1824.4 421.8,1818.8 418.7,1812.2 415.6,1805.3 412.5,1798.5 409.3,1792.4 406.2,1787.5 403.1,1784.4 400,1783.2 396.8,1784.1 393.7,1787.2 390.6,1792.1 387.5,1798.7 384.3,1806.3 381.2,1814.4 378.1,1822.3 375,1829.3 371.8,1834.9 368.7,1838.6 365.6,1839.9 362.5,1838.7 359.3,1835.1 356.2,1829.2 353.1,1821.4 350,1812.4 346.8,1802.9 343.7,1793.6 340.6,1785.2 337.5,1778.6 334.3,1774.2 331.2,1772.6 328.1,1773.9 325,1778.1 321.8,1784.9 318.7,1793.9 315.6,1804.3 312.4,1815.3 309.3,1826.1 306.2,1835.7 303.1,1843.3 299.9,1848.3 296.8,1850.0 293.7,1848.3 290.6,1843.3 287.4,1835.1 284.3,1824.5 281.2,1812.1 278.1,1799.0 274.9,1786.2 271.8,1774.8 268.7,1765.7 265.6,1759.7 262.4,1757.5 259.3,1759.2 256.2,1765.0 253.1,1774.3 249.9,1786.5 246.8,1800.7 243.7,1815.8 240.6,1830.5 237.4,1843.5 234.3,1853.9 231.2,1860.5 228.1,1862.8 224.9,1860.4 221.8,1853.4 218.7,1842.1 215.6,1827.4 212.4,1810.4 209.3,1792.4 206.2,1774.8 203,1759.1 199.9,1746.5 196.8,1738.3 193.7,1735.2 190.5,1737.6 187.4,1745.3 184.3,1758.0 181.2,1774.7 178,1794.0 174.9,1814.5 171.8,1834.5 168.7,1852.3 165.5,1866.2 162.4,1875.1 159.3,1878.1 156.2,1874.6 153,1864.7 149.9,1849.1 146.8,1828.8 143.7,1805.3 140.5,1780.4 137.4,1756.2 134.3,1734.5 131.2,1717.2 128,1705.8 124.9,1701.4 121.8,1704.4 118.7,1714.9 115.5,1732.1 112.4,1754.7 109.3,1780.9 106.2,1808.7 103,1835.8 99.9,1859.8Z"/>
<path d="M99.9,1849.0 103,1823.7 106.2,1795.3 109.3,1766.3 112.4,1738.8 115.5,1715.1 118.7,1696.8 121.8,1685.3 124.9,1681.2 128,1684.6 131.2,1695.0 134.3,1711.4 137.4,1732.2 140.5,1755.6 143.7,1779.6 146.8,1802.3 149.9,1821.8 153,1836.7 156.2,1845.8 159.3,1848.7 162.4,1845.1 165.5,1835.5 168.7,1820.9 171.8,1802.5 174.9,1782.0 178,1760.9 181.2,1741.0 184.3,1723.8 187.4,1710.6 190.5,1702.4 193.7,1699.6 196.8,1702.2 199.9,1710.0 203,1722.1 206.2,1737.4 209.3,1754.6 212.4,1772.2 215.6,1788.9 218.7,1803.2 221.8,1814.1 224.9,1820.9 228.1,1823.0 231.2,1820.4 234.3,1813.4 237.4,1802.8 240.6,1789.4 243.7,1774.5 246.8,1759.2 249.9,1744.7 253.1,1732.2 256.2,1722.7 259.3,1716.7 262.4,1714.8 265.6,1716.8 268.7,1722.6 271.8,1731.5 274.9,1742.7 278.1,1755.3 281.2,1768.3 284.3,1780.5 287.4,1790.9 290.6,1798.9 293.7,1803.9 296.8,1805.4 299.9,1803.5 303.1,1798.4 306.2,1790.7 309.3,1781.0 312.4,1770.1 315.6,1758.9 318.7,1748.4 321.8,1739.3 325,1732.4 328.1,1728.1 331.2,1726.7 334.3,1728.2 337.5,1732.5 340.6,1739.0 343.7,1747.3 346.8,1756.5 350,1766.0 353.1,1774.9 356.2,1782.6 359.3,1788.4 362.5,1792.0 365.6,1793.1 368.7,1791.7 371.8,1788.0 375,1782.4 378.1,1775.3 381.2,1767.3 384.3,1759.2 387.5,1751.5 390.6,1744.9 393.7,1739.9 396.8,1736.8 400,1735.8 403.1,1737.0 406.2,1740.1 409.3,1744.9 412.5,1750.9 415.6,1757.7 418.7,1764.6 421.8,1771.1 425,1776.7 428.1,1781.0 431.2,1783.6 434.4,1784.4 437.5,1783.4 440.6,1780.7 443.7,1776.5 446.9,1771.3 450,1765.5 453.1,1759.6 456.2,1754.0 459.4,1749.2 462.5,1745.6 465.6,1743.3 468.7,1742.6 471.9,1743.5 475,1745.8 478.1,1749.3 481.2,1753.7 484.4,1758.7 487.5,1763.7 490.6,1768.5 493.7,1772.6 496.9,1775.7 500,1777.6 503.1,1778.2 506.2,1777.4 509.4,1775.4 512.5,1772.4 515.6,1768.6 518.7,1764.4 521.9,1760.0 525,1755.9 528.1,1752.4 531.2,1749.8 534.4,1748.2 537.5,1747.7 537.5,1788.5 534.4,1789.0 531.2,1790.6 528.1,1793.2 525,1796.7 521.9,1800.8 518.7,1805.1 515.6,1809.4 512.5,1813.1 509.4,1816.2 506.2,1818.1 503.1,1818.9 500,1818.3 496.9,1816.4 493.7,1813.3 490.6,1809.2 487.5,1804.4 484.4,1799.3 481.2,1794.4 478.1,1789.9 475,1786.4 471.9,1784.1 468.7,1783.2 465.6,1783.9 462.5,1786.1 459.4,1789.7 456.2,1794.5 453.1,1800.1 450,1806.0 446.9,1811.8 443.7,1816.9 440.6,1821.1 437.5,1823.8 434.4,1824.7 431.2,1823.9 428.1,1821.3 425,1817.0 421.8,1811.4 418.7,1804.8 415.6,1797.9 412.5,1791.1 409.3,1785.0 406.2,1780.2 403.1,1777.0 400,1775.8 396.8,1776.8 393.7,1779.8 390.6,1784.8 387.5,1791.4 384.3,1799.0 381.2,1807.1 378.1,1815.0 375,1822.0 371.8,1827.6 368.7,1831.3 365.6,1832.6 362.5,1831.5 359.3,1827.8 356.2,1821.9 353.1,1814.2 350,1805.2 346.8,1795.7 343.7,1786.4 340.6,1778.0 337.5,1771.4 334.3,1767.1 331.2,1765.5 328.1,1766.8 325,1771.0 321.8,1777.8 318.7,1786.8 315.6,1797.2 312.4,1808.3 309.3,1819.1 306.2,1828.7 303.1,1836.4 299.9,1841.3 296.8,1843.1 293.7,1841.4 290.6,1836.4 287.4,1828.2 284.3,1817.6 281.2,1805.3 278.1,1792.2 274.9,1779.4 271.8,1768.0 268.7,1759.0 265.6,1753.0 262.4,1750.8 259.3,1752.6 256.2,1758.4 253.1,1767.7 249.9,1780.0 246.8,1794.2 243.7,1809.3 240.6,1824.1 237.4,1837.2 234.3,1847.6 231.2,1854.3 228.1,1856.6 224.9,1854.3 221.8,1847.3 218.7,1836.0 215.6,1821.4 212.4,1804.5 209.3,1786.5 206.2,1769.0 203,1753.3 199.9,1740.8 196.8,1732.7 193.7,1729.7 190.5,1732.1 187.4,1739.9 184.3,1752.7 181.2,1769.4 178,1788.9 174.9,1809.5 171.8,1829.5 168.7,1847.4 165.5,1861.5 162.4,1870.5 159.3,1873.5 156.2,1870.1 153,1860.3 149.9,1844.8 146.8,1824.6 143.7,1801.3 140.5,1776.6 137.4,1752.4 134.3,1730.9 131.2,1713.7 128,1702.5 124.9,1698.2 121.8,1701.4 118.7,1712.1 115.5,1729.4 112.4,1752.2 109.3,1778.6 106.2,1806.7 103,1833.9 99.9,1858.1Z"/>
<path d="M99.9,1850.2 103,1825.0 106.2,1796.8 109.3,1767.9 112.4,1740.6 115.5,1717.0 118.7,1698.8 121.8,1687.4 124.9,1683.4 128,1686.9 131.2,1697.5 134.3,1713.9 137.4,1734.8 140.5,1758.3 143.7,1782.5 146.8,1805.2 149.9,1824.8 153,1839.8 156.2,1849.0 159.3,1851.9 162.4,1848.4 165.5,1838.9 168.7,1824.4 171.8,1806.1 174.9,1785.6 178,1764.6 181.2,1744.7 184.3,1727.6 187.4,1714.5 190.5,1706.3 193.7,1703.5 196.8,1706.2 199.9,1714.0 203,1726.2 206.2,1741.5 209.3,1758.8 212.4,1776.5 215.6,1793.2 218.7,1807.5 221.8,1818.5 224.9,1825.3 228.1,1827.4 231.2,1824.8 234.3,1817.9 237.4,1807.3 240.6,1794.0 243.7,1779.1 246.8,1763.8 249.9,1749.3 253.1,1736.9 256.2,1727.4 259.3,1721.5 262.4,1719.5 265.6,1721.6 268.7,1727.4 271.8,1736.3 274.9,1747.6 278.1,1760.2 281.2,1773.1 284.3,1785.3 287.4,1795.9 290.6,1803.9 293.7,1808.8 296.8,1810.3 299.9,1808.5 303.1,1803.4 306.2,1795.7 309.3,1786.0 312.4,1775.1 315.6,1763.9 318.7,1753.4 321.8,1744.4 325,1737.5 328.1,1733.2 331.2,1731.8 334.3,1733.4 337.5,1737.6 340.6,1744.2 343.7,1752.4 346.8,1761.7 350,1771.2 353.1,1780.1 356.2,1787.8 359.3,1793.6 362.5,1797.2 365.6,1798.3 368.7,1796.9 371.8,1793.2 375,1787.6 378.1,1780.5 381.2,1772.5 384.3,1764.4 387.5,1756.8 390.6,1750.2 393.7,1745.1 396.8,1742.0 400,1741.1 403.1,1742.2 406.2,1745.4 409.3,1750.2 412.5,1756.2 415.6,1763.0 418.7,1769.9 421.8,1776.4 425,1782.0 428.1,1786.3 431.2,1788.9 434.4,1789.7 437.5,1788.7 440.6,1786.0 443.7,1781.9 446.9,1776.7 450,1770.9 453.1,1764.9 456.2,1759.3 459.4,1754.5 462.5,1750.9 465.6,1748.6 468.7,1747.9 471.9,1748.8 475,1751.1 478.1,1754.6 481.2,1759.1 484.4,1764.0 487.5,1769.1 490.6,1773.8 493.7,1777.9 496.9,1781.0 500,1782.9 503.1,1783.5 506.2,1782.8 509.4,1780.8 512.5,1777.8 515.6,1774.0 518.7,1769.7 521.9,1765.4 525,1761.3 528.1,1757.8 531.2,1755.2 534.4,1753.5 537.5,1753.0 537.5,1783.1 534.4,1783.6 531.2,1785.2 528.1,1787.9 525,1791.4 521.9,1795.4 518.7,1799.8 515.6,1804.0 512.5,1807.8 509.4,1810.8 506.2,1812.8 503.1,1813.5 500,1812.9 496.9,1811.0 493.7,1807.9 490.6,1803.8 487.5,1799.0 484.4,1794.0 481.2,1789.0 478.1,1784.6 475,1781.0 471.9,1778.7 468.7,1777.8 465.6,1778.5 462.5,1780.8 459.4,1784.4 456.2,1789.2 453.1,1794.8 450,1800.7 446.9,1806.5 443.7,1811.6 440.6,1815.7 437.5,1818.4 434.4,1819.4 431.2,1818.6 428.1,1816.0 425,1811.7 421.8,1806.1 418.7,1799.5 415.6,1792.6 412.5,1785.8 409.3,1779.7 406.2,1774.9 403.1,1771.7 400,1770.5 396.8,1771.5 393.7,1774.6 390.6,1779.6 387.5,1786.1 384.3,1793.7 381.2,1801.8 378.1,1809.7 375,1816.8 371.8,1822.4 368.7,1826.1 365.6,1827.4 362.5,1826.3 359.3,1822.6 356.2,1816.7 353.1,1809.0 350,1800.0 346.8,1790.5 343.7,1781.2 340.6,1772.9 337.5,1766.3 334.3,1762.0 331.2,1760.4 328.1,1761.7 325,1765.9 321.8,1772.8 318.7,1781.7 315.6,1792.2 312.4,1803.2 309.3,1814.1 306.2,1823.7 303.1,1831.4 299.9,1836.3 296.8,1838.1 293.7,1836.5 290.6,1831.4 287.4,1823.3 284.3,1812.7 281.2,1800.4 278.1,1787.4 274.9,1774.6 271.8,1763.2 268.7,1754.2 265.6,1748.3 262.4,1746.1 259.3,1747.9 256.2,1753.7 253.1,1763.1 249.9,1775.3 246.8,1789.6 243.7,1804.8 240.6,1819.5 237.4,1832.7 234.3,1843.1 231.2,1849.8 228.1,1852.2 224.9,1849.9 221.8,1842.9 218.7,1831.7 215.6,1817.1 212.4,1800.2 209.3,1782.3 206.2,1764.8 203,1749.2 199.9,1736.8 196.8,1728.7 193.7,1725.7 190.5,1728.2 187.4,1736.1 184.3,1748.9 181.2,1765.7 178,1785.2 174.9,1805.8 171.8,1826.0 168.7,1843.9 165.5,1858.0 162.4,1867.1 159.3,1870.2 156.2,1866.9 153,1857.2 149.9,1841.8 146.8,1821.7 143.7,1798.4 140.5,1773.8 137.4,1749.8 134.3,1728.3 131.2,1711.3 128,1700.1 124.9,1696.0 121.8,1699.3 118.7,1710.1 115.5,1727.5 112.4,1750.4 109.3,1777.0 106.2,1805.2 103,1832.6 99.9,1856.9Z"/>
<path d="M99.9,1851.1 103,1826.1 106.2,1798.0 109.3,1769.2 112.4,1742.0 115.5,1718.5 118.7,1700.4 121.8,1689.1 124.9,1685.2 128,1688.8 131.2,1699.4 134.3,1716.0 137.4,1737.0 140.5,1760.5 143.7,1784.7 146.8,1807.6 149.9,1827.3 153,1842.3 156.2,1851.6 159.3,1854.5 162.4,1851.1 165.5,1841.6 168.7,1827.2 171.8,1808.9 174.9,1788.5 178,1767.5 181.2,1747.7 184.3,1730.7 187.4,1717.6 190.5,1709.4 193.7,1706.7 196.8,1709.4 199.9,1717.3 203,1729.5 206.2,1744.9 209.3,1762.2 212.4,1779.9 215.6,1796.6 218.7,1811.0 221.8,1822.0 224.9,1828.8 228.1,1830.9 231.2,1828.4 234.3,1821.5 237.4,1810.9 240.6,1797.6 243.7,1782.7 246.8,1767.5 249.9,1753.1 253.1,1740.6 256.2,1731.1 259.3,1725.2 262.4,1723.3 265.6,1725.4 268.7,1731.2 271.8,1740.1 274.9,1751.4 278.1,1764.1 281.2,1777.0 284.3,1789.3 287.4,1799.8 290.6,1807.8 293.7,1812.8 296.8,1814.3 299.9,1812.5 303.1,1807.4 306.2,1799.7 309.3,1790.0 312.4,1779.1 315.6,1768.0 318.7,1757.5 321.8,1748.4 325,1741.5 328.1,1737.3 331.2,1735.9 334.3,1737.4 337.5,1741.7 340.6,1748.3 343.7,1756.5 346.8,1765.8 350,1775.3 353.1,1784.2 356.2,1791.9 359.3,1797.7 362.5,1801.3 365.6,1802.5 368.7,1801.1 371.8,1797.4 375,1791.8 378.1,1784.7 381.2,1776.7 384.3,1768.6 387.5,1760.9 390.6,1754.4 393.7,1749.3 396.8,1746.3 400,1745.3 403.1,1746.4 406.2,1749.6 409.3,1754.4 412.5,1760.4 415.6,1767.2 418.7,1774.1 421.8,1780.7 425,1786.3 428.1,1790.5 431.2,1793.1 434.4,1794.0 437.5,1792.9 440.6,1790.2 443.7,1786.1 446.9,1780.9 450,1775.1 453.1,1769.2 456.2,1763.6 459.4,1758.8 462.5,1755.2 465.6,1752.9 468.7,1752.2 471.9,1753.1 475,1755.4 478.1,1758.9 481.2,1763.3 484.4,1768.3 487.5,1773.4 490.6,1778.1 493.7,1782.2 496.9,1785.3 500,1787.2 503.1,1787.8 506.2,1787.0 509.4,1785.1 512.5,1782.0 515.6,1778.2 518.7,1774.0 521.9,1769.7 525,1765.6 528.1,1762.1 531.2,1759.5 534.4,1757.8 537.5,1757.3 537.5,1778.8 534.4,1779.3 531.2,1780.9 528.1,1783.6 525,1787.1 521.9,1791.1 518.7,1795.5 515.6,1799.7 512.5,1803.5 509.4,1806.5 506.2,1808.5 503.1,1809.2 500,1808.6 496.9,1806.7 493.7,1803.6 490.6,1799.5 487.5,1794.8 484.4,1789.7 481.2,1784.7 478.1,1780.3 475,1776.8 471.9,1774.4 468.7,1773.6 465.6,1774.3 462.5,1776.5 459.4,1780.1 456.2,1784.9 453.1,1790.5 450,1796.4 446.9,1802.2 443.7,1807.4 440.6,1811.5 437.5,1814.2 434.4,1815.2 431.2,1814.4 428.1,1811.7 425,1807.5 421.8,1801.8 418.7,1795.3 415.6,1788.4 412.5,1781.6 409.3,1775.5 406.2,1770.7 403.1,1767.5 400,1766.3 396.8,1767.3 393.7,1770.4 390.6,1775.4 387.5,1781.9 384.3,1789.5 381.2,1797.7 378.1,1805.6 375,1812.6 371.8,1818.3 368.7,1821.9 365.6,1823.3 362.5,1822.1 359.3,1818.5 356.2,1812.6 353.1,1804.9 350,1795.9 346.8,1786.4 343.7,1777.1 340.6,1768.8 337.5,1762.2 334.3,1757.9 331.2,1756.3 328.1,1757.6 325,1761.8 321.8,1768.7 318.7,1777.7 315.6,1788.1 312.4,1799.2 309.3,1810.0 306.2,1819.7 303.1,1827.4 299.9,1832.3 296.8,1834.1 293.7,1832.5 290.6,1827.5 287.4,1819.4 284.3,1808.8 281.2,1796.5 278.1,1783.5 274.9,1770.7 271.8,1759.4 268.7,1750.3 265.6,1744.5 262.4,1742.3 259.3,1744.1 256.2,1749.9 253.1,1759.3 249.9,1771.6 246.8,1785.9 243.7,1801.1 240.6,1815.9 237.4,1829.1 234.3,1839.5 231.2,1846.2 228.1,1848.6 224.9,1846.3 221.8,1839.4 218.7,1828.3 215.6,1813.7 212.4,1796.8 209.3,1778.9 206.2,1761.5 203,1745.9 199.9,1733.5 196.8,1725.5 193.7,1722.5 190.5,1725.1 187.4,1733.0 184.3,1745.8 181.2,1762.7 178,1782.2 174.9,1802.9 171.8,1823.1 168.7,1841.1 165.5,1855.3 162.4,1864.4 159.3,1867.6 156.2,1864.4 153,1854.7 149.9,1839.4 146.8,1819.3 143.7,1796.1 140.5,1771.6 137.4,1747.6 134.3,1726.3 131.2,1709.3 128,1698.2 124.9,1694.2 121.8,1697.6 118.7,1708.5 115.5,1726.0 112.4,1749.0 109.3,1775.7 106.2,1804.0 103,1831.5 99.9,1855.9Z"/>
<path d="M99.9,1852.0 103,1827.0 106.2,1799.1 109.3,1770.3 112.4,1743.2 115.5,1719.8 118.7,1701.8 121.8,1690.6 124.9,1686.8 128,1690.5 131.2,1701.2 134.3,1717.8 137.4,1738.8 140.5,1762.5 143.7,1786.7 146.8,1809.6 149.9,1829.4 153,1844.5 156.2,1853.8 159.3,1856.8 162.4,1853.4 165.5,1844.0 168.7,1829.6 171.8,1811.4 174.9,1791.0 178,1770.1 181.2,1750.3 184.3,1733.3 187.4,1720.3 190.5,1712.2 193.7,1709.5 196.8,1712.2 199.9,1720.1 203,1732.4 206.2,1747.8 209.3,1765.1 212.4,1782.8 215.6,1799.6 218.7,1814.0 221.8,1825.0 224.9,1831.8 228.1,1834.0 231.2,1831.5 234.3,1824.7 237.4,1814.1 240.6,1800.8 243.7,1785.9 246.8,1770.7 249.9,1756.3 253.1,1743.9 256.2,1734.4 259.3,1728.5 262.4,1726.6 265.6,1728.7 268.7,1734.5 271.8,1743.5 274.9,1754.8 278.1,1767.5 281.2,1780.4 284.3,1792.7 287.4,1803.2 290.6,1811.3 293.7,1816.2 296.8,1817.8 299.9,1815.9 303.1,1810.9 306.2,1803.2 309.3,1793.5 312.4,1782.6 315.6,1771.5 318.7,1761.0 321.8,1752.0 325,1745.1 328.1,1740.8 331.2,1739.5 334.3,1741.0 337.5,1745.3 340.6,1751.9 343.7,1760.1 346.8,1769.4 350,1778.9 353.1,1787.8 356.2,1795.5 359.3,1801.4 362.5,1805.0 365.6,1806.1 368.7,1804.7 371.8,1801.1 375,1795.4 378.1,1788.3 381.2,1780.4 384.3,1772.3 387.5,1764.6 390.6,1758.0 393.7,1753.0 396.8,1749.9 400,1749.0 403.1,1750.1 406.2,1753.3 409.3,1758.1 412.5,1764.1 415.6,1770.9 418.7,1777.8 421.8,1784.4 425,1790.0 428.1,1794.2 431.2,1796.9 434.4,1797.7 437.5,1796.7 440.6,1794.0 443.7,1789.8 446.9,1784.6 450,1778.8 453.1,1772.9 456.2,1767.3 459.4,1762.5 462.5,1758.9 465.6,1756.6 468.7,1756.0 471.9,1756.8 475,1759.1 478.1,1762.7 481.2,1767.1 484.4,1772.0 487.5,1777.1 490.6,1781.9 493.7,1786.0 496.9,1789.1 500,1791.0 503.1,1791.5 506.2,1790.8 509.4,1788.8 512.5,1785.8 515.6,1782.0 518.7,1777.8 521.9,1773.4 525,1769.4 528.1,1765.9 531.2,1763.2 534.4,1761.6 537.5,1761.1 537.5,1775.1 534.4,1775.5 531.2,1777.2 528.1,1779.8 525,1783.3 521.9,1787.4 518.7,1791.7 515.6,1795.9 512.5,1799.7 509.4,1802.8 506.2,1804.7 503.1,1805.5 500,1804.9 496.9,1803.0 493.7,1799.9 490.6,1795.8 487.5,1791.0 484.4,1785.9 481.2,1781.0 478.1,1776.6 475,1773.0 471.9,1770.7 468.7,1769.8 465.6,1770.5 462.5,1772.8 459.4,1776.4 456.2,1781.2 453.1,1786.8 450,1792.7 446.9,1798.5 443.7,1803.7 440.6,1807.8 437.5,1810.5 434.4,1811.5 431.2,1810.7 428.1,1808.0 425,1803.7 421.8,1798.1 418.7,1791.6 415.6,1784.7 412.5,1777.9 409.3,1771.8 406.2,1767.0 403.1,1763.8 400,1762.6 396.8,1763.6 393.7,1766.7 390.6,1771.7 387.5,1778.2 384.3,1785.9 381.2,1794.0 378.1,1801.9 375,1809.0 371.8,1814.6 368.7,1818.3 365.6,1819.6 362.5,1818.5 359.3,1814.8 356.2,1809.0 353.1,1801.3 350,1792.3 346.8,1782.8 343.7,1773.5 340.6,1765.2 337.5,1758.6 334.3,1754.3 331.2,1752.7 328.1,1754.1 325,1758.3 321.8,1765.2 318.7,1774.2 315.6,1784.6 312.4,1795.7 309.3,1806.5 306.2,1816.2 303.1,1823.9 299.9,1828.9 296.8,1830.7 293.7,1829.1 290.6,1824.1 287.4,1816.0 284.3,1805.4 281.2,1793.1 278.1,1780.1 274.9,1767.4 271.8,1756.0 268.7,1747.0 265.6,1741.1 262.4,1739.0 259.3,1740.8 256.2,1746.6 253.1,1756.0 249.9,1768.4 246.8,1782.7 243.7,1797.9 240.6,1812.7 237.4,1825.9 234.3,1836.3 231.2,1843.1 228.1,1845.5 224.9,1843.3 221.8,1836.4 218.7,1825.2 215.6,1810.7 212.4,1793.9 209.3,1776.0 206.2,1758.6 203,1743.0 199.9,1730.7 196.8,1722.7 193.7,1719.8 190.5,1722.3 187.4,1730.3 184.3,1743.2 181.2,1760.1 178,1779.7 174.9,1800.4 171.8,1820.6 168.7,1838.7 165.5,1852.9 162.4,1862.1 159.3,1865.3 156.2,1862.1 153,1852.6 149.9,1837.3 146.8,1817.3 143.7,1794.1 140.5,1769.7 137.4,1745.8 134.3,1724.5 131.2,1707.6 128,1696.6 124.9,1692.6 121.8,1696.1 118.7,1707.1 115.5,1724.7 112.4,1747.8 109.3,1774.6 106.2,1802.9 103,1830.5 99.9,1855.1Z"/>
<path d="M99.9,1852.7 103,1827.8 106.2,1799.9 109.3,1771.3 112.4,1744.3 115.5,1720.9 118.7,1703.0 121.8,1691.9 124.9,1688.1 128,1691.9 131.2,1702.6 134.3,1719.3 137.4,1740.4 140.5,1764.1 143.7,1788.4 146.8,1811.4 149.9,1831.2 153,1846.3 156.2,1855.7 159.3,1858.8 162.4,1855.4 165.5,1846.1 168.7,1831.7 171.8,1813.5 174.9,1793.2 178,1772.3 181.2,1752.6 184.3,1735.6 187.4,1722.6 190.5,1714.5 193.7,1711.8 196.8,1714.7 199.9,1722.6 203,1734.8 206.2,1750.3 209.3,1767.6 212.4,1785.4 215.6,1802.2 218.7,1816.6 221.8,1827.6 224.9,1834.5 228.1,1836.7 231.2,1834.2 234.3,1827.4 237.4,1816.8 240.6,1803.6 243.7,1788.7 246.8,1773.5 249.9,1759.1 253.1,1746.7 256.2,1737.2 259.3,1731.4 262.4,1729.5 265.6,1731.6 268.7,1737.4 271.8,1746.4 274.9,1757.7 278.1,1770.4 281.2,1783.4 284.3,1795.6 287.4,1806.2 290.6,1814.2 293.7,1819.2 296.8,1820.8 299.9,1818.9 303.1,1813.9 306.2,1806.2 309.3,1796.5 312.4,1785.6 315.6,1774.5 318.7,1764.0 321.8,1755.0 325,1748.1 328.1,1743.9 331.2,1742.5 334.3,1744.1 337.5,1748.4 340.6,1754.9 343.7,1763.2 346.8,1772.5 350,1782.0 353.1,1790.9 356.2,1798.6 359.3,1804.5 362.5,1808.1 365.6,1809.2 368.7,1807.9 371.8,1804.2 375,1798.6 378.1,1791.5 381.2,1783.5 384.3,1775.4 387.5,1767.8 390.6,1761.2 393.7,1756.2 396.8,1753.1 400,1752.1 403.1,1753.3 406.2,1756.4 409.3,1761.2 412.5,1767.3 415.6,1774.1 418.7,1781.0 421.8,1787.5 425,1793.1 428.1,1797.4 431.2,1800.0 434.4,1800.9 437.5,1799.8 440.6,1797.1 443.7,1793.0 446.9,1787.8 450,1782.0 453.1,1776.1 456.2,1770.5 459.4,1765.7 462.5,1762.1 465.6,1759.8 468.7,1759.2 471.9,1760.0 475,1762.3 478.1,1765.9 481.2,1770.3 484.4,1775.2 487.5,1780.3 490.6,1785.1 493.7,1789.2 496.9,1792.3 500,1794.2 503.1,1794.8 506.2,1794.0 509.4,1792.0 512.5,1789.0 515.6,1785.2 518.7,1781.0 521.9,1776.7 525,1772.6 528.1,1769.1 531.2,1766.4 534.4,1764.8 537.5,1764.3 537.5,1771.8 534.4,1772.3 531.2,1774.0 528.1,1776.6 525,1780.1 521.9,1784.2 518.7,1788.5 515.6,1792.7 512.5,1796.5 509.4,1799.5 506.2,1801.5 503.1,1802.3 500,1801.7 496.9,1799.8 493.7,1796.7 490.6,1792.6 487.5,1787.8 484.4,1782.7 481.2,1777.8 478.1,1773.3 475,1769.8 471.9,1767.5 468.7,1766.6 465.6,1767.3 462.5,1769.6 459.4,1773.2 456.2,1778.0 453.1,1783.6 450,1789.5 446.9,1795.3 443.7,1800.5 440.6,1804.6 437.5,1807.3 434.4,1808.3 431.2,1807.5 428.1,1804.8 425,1800.6 421.8,1795.0 418.7,1788.4 415.6,1781.5 412.5,1774.7 409.3,1768.6 406.2,1763.8 403.1,1760.7 400,1759.5 396.8,1760.5 393.7,1763.5 390.6,1768.5 387.5,1775.1 384.3,1782.7 381.2,1790.9 378.1,1798.8 375,1805.9 371.8,1811.5 368.7,1815.2 365.6,1816.5 362.5,1815.4 359.3,1811.7 356.2,1805.9 353.1,1798.2 350,1789.2 346.8,1779.7 343.7,1770.4 340.6,1762.1 337.5,1755.5 334.3,1751.2 331.2,1749.7 328.1,1751.0 325,1755.2 321.8,1762.1 318.7,1771.1 315.6,1781.6 312.4,1792.7 309.3,1803.5 306.2,1813.2 303.1,1820.9 299.9,1825.9 296.8,1827.7 293.7,1826.1 290.6,1821.1 287.4,1813.0 284.3,1802.5 281.2,1790.2 278.1,1777.2 274.9,1764.5 271.8,1753.1 268.7,1744.1 265.6,1738.3 262.4,1736.1 259.3,1738.0 256.2,1743.8 253.1,1753.2 249.9,1765.6 246.8,1779.9 243.7,1795.1 240.6,1809.9 237.4,1823.2 234.3,1833.7 231.2,1840.4 228.1,1842.9 224.9,1840.6 221.8,1833.7 218.7,1822.7 215.6,1808.1 212.4,1791.3 209.3,1773.5 206.2,1756.1 203,1740.6 199.9,1728.3 196.8,1720.3 193.7,1717.4 190.5,1720.0 187.4,1728.0 184.3,1740.9 181.2,1757.8 178,1777.5 174.9,1798.2 171.8,1818.5 168.7,1836.6 165.5,1850.9 162.4,1860.1 159.3,1863.4 156.2,1860.2 153,1850.7 149.9,1835.4 146.8,1815.5 143.7,1792.4 140.5,1768.0 137.4,1744.2 134.3,1722.9 131.2,1706.1 128,1695.2 124.9,1691.3 121.8,1694.8 118.7,1705.8 115.5,1723.6 112.4,1746.7 109.3,1773.6 106.2,1802.0 103,1829.7 99.9,1854.4Z"/>
</g>
<path d="M99.9,1706.9 101.3,1699.1 102.6,1692.7 104,1687.8 105.4,1684.4 106.7,1682.5 108.1,1682.2 109.5,1683.5 110.8,1686.3 112.2,1690.5 113.6,1696.1 114.9,1703.0 116.3,1711.1 117.7,1720.1 119,1730.0 120.4,1740.5 121.8,1751.6 123.1,1763.0 124.5,1774.6 125.9,1786.2 127.2,1797.5 128.6,1808.5 130,1818.9 131.4,1828.6 132.7,1837.5 134.1,1845.4 135.5,1852.2 136.8,1857.8 138.2,1862.2 139.6,1865.3 140.9,1867.1 142.3,1867.5 143.7,1866.6 145,1864.4 146.4,1860.9 147.8,1856.3 149.1,1850.5 150.5,1843.8 151.9,1836.2 153.2,1827.8 154.6,1818.8 156,1809.4 157.3,1799.7 158.7,1789.8 160.1,1779.9 161.4,1770.2 162.8,1760.8 164.2,1751.8 165.5,1743.4 166.9,1735.7 168.3,1728.9 169.6,1722.9 171,1718.0 172.4,1714.1 173.7,1711.3 175.1,1709.6 176.5,1709.1 177.8,1709.7 179.2,1711.5 180.6,1714.3 181.9,1718.1 183.3,1722.9 184.7,1728.6 186.1,1735.0 187.4,1742.1 188.8,1749.7 190.2,1757.7 191.5,1766.0 192.9,1774.4 194.3,1782.8 195.6,1791.2 197,1799.3 198.4,1807.0 199.7,1814.2 201.1,1820.9 202.5,1826.9 203.8,1832.1 205.2,1836.4 206.6,1839.9 207.9,1842.4 209.3,1843.9 210.7,1844.5 212,1844.1 213.4,1842.7 214.8,1840.4 216.1,1837.2 217.5,1833.3 218.9,1828.5 220.2,1823.1 221.6,1817.2 223,1810.7 224.3,1803.9 225.7,1796.9 227.1,1789.7 228.4,1782.4 229.8,1775.3 231.2,1768.3 232.5,1761.7 233.9,1755.4 235.3,1749.7 236.7,1744.5 238,1740.0 239.4,1736.1 240.8,1733.1 242.1,1730.8 243.5,1729.4 244.9,1728.8 246.2,1729.0 247.6,1730.1 249,1732.0 250.3,1734.6 251.7,1737.9 253.1,1741.9 254.4,1746.4 255.8,1751.4 257.2,1756.9 258.5,1762.7 259.9,1768.7 261.3,1774.8 262.6,1781.0 264,1787.1 265.4,1793.1 266.7,1798.8 268.1,1804.2 269.5,1809.2 270.8,1813.7 272.2,1817.6 273.6,1821.0 274.9,1823.7 276.3,1825.7 277.7,1827.0 279,1827.6 280.4,1827.5 281.8,1826.7 283.1,1825.2 284.5,1823.1 285.9,1820.3 287.2,1817.0 288.6,1813.2 290,1808.9 291.4,1804.3 292.7,1799.4 294.1,1794.3 295.5,1789.0 296.8,1783.7 298.2,1778.5 299.6,1773.4 300.9,1768.4 302.3,1763.8 303.7,1759.5 305,1755.6 306.4,1752.2 307.8,1749.2 309.1,1746.8 310.5,1745.0 311.9,1743.8 313.2,1743.2 314.6,1743.2 316,1743.9 317.3,1745.1 318.7,1746.8 320.1,1749.1 321.4,1751.9 322.8,1755.1 324.2,1758.7 325.5,1762.6 326.9,1766.8 328.3,1771.1 329.6,1775.6 331,1780.1 332.4,1784.6 333.7,1789.0 335.1,1793.2 336.5,1797.2 337.8,1801.0 339.2,1804.3 340.6,1807.3 341.9,1809.9 343.3,1812.0 344.7,1813.6 346,1814.7 347.4,1815.3 348.8,1815.3 350.2,1814.9 351.5,1813.9 352.9,1812.5 354.3,1810.6 355.6,1808.3 357,1805.6 358.4,1802.5 359.7,1799.2 361.1,1795.7 362.5,1792.0 363.8,1788.2 365.2,1784.3 366.6,1780.5 367.9,1776.7 369.3,1773.1 370.7,1769.6 372,1766.4 373.4,1763.5 374.8,1760.9 376.1,1758.6 377.5,1756.8 378.9,1755.3 380.2,1754.3 381.6,1753.8 383,1753.7 384.3,1754.0 385.7,1754.8 387.1,1756.0 388.4,1757.5 389.8,1759.5 391.2,1761.7 392.5,1764.3 393.9,1767.1 395.3,1770.1 396.6,1773.2 398,1776.5 399.4,1779.8 400.8,1783.1 402.1,1786.3 403.5,1789.4 404.9,1792.4 406.2,1795.2 407.6,1797.7 409,1800.0 410.3,1801.9 411.7,1803.6 413.1,1804.8 414.4,1805.7 415.8,1806.3 417.2,1806.4 418.5,1806.2 419.9,1805.6 421.3,1804.6 422.6,1803.3 424,1801.7 425.4,1799.8 426.7,1797.6 428.1,1795.3 429.5,1792.7 430.8,1790.0 432.2,1787.3 433.6,1784.5 434.9,1781.7 436.3,1778.9 437.7,1776.2 439,1773.6 440.4,1771.2 441.8,1769.0 443.1,1767.1 444.5,1765.4 445.9,1763.9 447.2,1762.8 448.6,1762.0 450,1761.5 451.3,1761.3 452.7,1761.5 454.1,1762.0 455.5,1762.7 456.8,1763.8 458.2,1765.2 459.6,1766.8 460.9,1768.6 462.3,1770.6 463.7,1772.7 465,1775.0 466.4,1777.4 467.8,1779.8 469.1,1782.2 470.5,1784.5 471.9,1786.8 473.2,1789.1 474.6,1791.1 476,1793.0 477.3,1794.7 478.7,1796.2 480.1,1797.5 481.4,1798.5 482.8,1799.2 484.2,1799.7 485.5,1799.9 486.9,1799.8 488.3,1799.4 489.6,1798.7 491,1797.9 492.4,1796.7 493.7,1795.4 495.1,1793.9 496.5,1792.2 497.8,1790.4 499.2,1788.4 500.6,1786.4 501.9,1784.4 503.3,1782.3 504.7,1780.3 506,1778.3 507.4,1776.4 508.8,1774.6 510.1,1773.0 511.5,1771.5 512.9,1770.2 514.3,1769.1 515.6,1768.2 517,1767.5 518.4,1767.1 519.7,1766.9 521.1,1767.0 522.5,1767.3 523.8,1767.8 525.2,1768.5 526.6,1769.5 527.9,1770.6 529.3,1771.9 530.7,1773.3 532,1774.8 533.4,1776.5 534.8,1778.2 536.1,1779.9 537.5,1781.7" fill="none" stroke="#1b1f22" stroke-width="2.1" stroke-linejoin="round"/>
<path d="M99.9,1853.5 101.3,1843.2 102.6,1832.1 104,1820.3 105.4,1808.1 106.7,1795.6 108.1,1783.1 109.5,1770.7 110.8,1758.7 112.2,1747.1 113.6,1736.3 114.9,1726.2 116.3,1717.2 117.7,1709.3 119,1702.7 120.4,1697.3 121.8,1693.4 123.1,1690.8 124.5,1689.7 125.9,1690.1 127.2,1691.9 128.6,1695.1 130,1699.5 131.4,1705.3 132.7,1712.1 134.1,1719.9 135.5,1728.6 136.8,1738.1 138.2,1748.1 139.6,1758.5 140.9,1769.1 142.3,1779.8 143.7,1790.4 145,1800.8 146.4,1810.7 147.8,1820.1 149.1,1828.7 150.5,1836.6 151.9,1843.5 153.2,1849.3 154.6,1854.0 156,1857.6 157.3,1859.9 158.7,1861.0 160.1,1860.8 161.4,1859.5 162.8,1856.9 164.2,1853.2 165.5,1848.5 166.9,1842.8 168.3,1836.2 169.6,1828.8 171,1820.8 172.4,1812.3 173.7,1803.5 175.1,1794.4 176.5,1785.3 177.8,1776.2 179.2,1767.3 180.6,1758.7 181.9,1750.7 183.3,1743.2 184.7,1736.4 186.1,1730.4 187.4,1725.3 188.8,1721.1 190.2,1717.9 191.5,1715.8 192.9,1714.7 194.3,1714.7 195.6,1715.8 197,1717.8 198.4,1720.8 199.7,1724.8 201.1,1729.6 202.5,1735.1 203.8,1741.3 205.2,1748.1 206.6,1755.3 207.9,1762.8 209.3,1770.5 210.7,1778.4 212,1786.1 213.4,1793.8 214.8,1801.1 216.1,1808.1 217.5,1814.5 218.9,1820.4 220.2,1825.6 221.6,1830.1 223,1833.8 224.3,1836.6 225.7,1838.6 227.1,1839.6 228.4,1839.7 229.8,1839.0 231.2,1837.3 232.5,1834.8 233.9,1831.6 235.3,1827.6 236.7,1822.9 238,1817.7 239.4,1812.0 240.8,1805.9 242.1,1799.5 243.5,1792.9 244.9,1786.2 246.2,1779.5 247.6,1773.0 249,1766.7 250.3,1760.7 251.7,1755.1 253.1,1750.0 254.4,1745.4 255.8,1741.5 257.2,1738.3 258.5,1735.8 259.9,1734.0 261.3,1733.0 262.6,1732.8 264,1733.4 265.4,1734.7 266.7,1736.7 268.1,1739.4 269.5,1742.7 270.8,1746.7 272.2,1751.1 273.6,1755.9 274.9,1761.1 276.3,1766.5 277.7,1772.1 279,1777.9 280.4,1783.6 281.8,1789.2 283.1,1794.6 284.5,1799.8 285.9,1804.6 287.2,1809.0 288.6,1812.9 290,1816.4 291.4,1819.2 292.7,1821.4 294.1,1823.0 295.5,1824.0 296.8,1824.2 298.2,1823.8 299.6,1822.8 300.9,1821.2 302.3,1818.9 303.7,1816.1 305,1812.9 306.4,1809.1 307.8,1805.1 309.1,1800.7 310.5,1796.0 311.9,1791.2 313.2,1786.4 314.6,1781.5 316,1776.7 317.3,1772.0 318.7,1767.6 320.1,1763.4 321.4,1759.6 322.8,1756.2 324.2,1753.2 325.5,1750.7 326.9,1748.7 328.3,1747.3 329.6,1746.4 331,1746.1 332.4,1746.3 333.7,1747.2 335.1,1748.5 336.5,1750.3 337.8,1752.7 339.2,1755.4 340.6,1758.5 341.9,1762.0 343.3,1765.7 344.7,1769.7 346,1773.7 347.4,1777.9 348.8,1782.1 350.2,1786.2 351.5,1790.2 352.9,1794.0 354.3,1797.6 355.6,1800.9 357,1803.9 358.4,1806.5 359.7,1808.7 361.1,1810.4 362.5,1811.7 363.8,1812.5 365.2,1812.9 366.6,1812.7 367.9,1812.1 369.3,1811.0 370.7,1809.5 372,1807.5 373.4,1805.2 374.8,1802.6 376.1,1799.7 377.5,1796.5 378.9,1793.2 380.2,1789.7 381.6,1786.2 383,1782.6 384.3,1779.1 385.7,1775.6 387.1,1772.3 388.4,1769.2 389.8,1766.4 391.2,1763.8 392.5,1761.5 393.9,1759.6 395.3,1758.1 396.6,1756.9 398,1756.2 399.4,1755.8 400.8,1755.9 402.1,1756.4 403.5,1757.3 404.9,1758.5 406.2,1760.1 407.6,1762.0 409,1764.3 410.3,1766.7 411.7,1769.4 413.1,1772.2 414.4,1775.2 415.8,1778.2 417.2,1781.3 418.5,1784.3 419.9,1787.2 421.3,1790.1 422.6,1792.8 424,1795.2 425.4,1797.5 426.7,1799.4 428.1,1801.1 429.5,1802.5 430.8,1803.5 432.2,1804.2 433.6,1804.5 434.9,1804.5 436.3,1804.2 437.7,1803.4 439,1802.4 440.4,1801.1 441.8,1799.5 443.1,1797.6 444.5,1795.5 445.9,1793.3 447.2,1790.9 448.6,1788.3 450,1785.8 451.3,1783.2 452.7,1780.6 454.1,1778.0 455.5,1775.6 456.8,1773.3 458.2,1771.1 459.6,1769.2 460.9,1767.5 462.3,1766.0 463.7,1764.8 465,1763.9 466.4,1763.3 467.8,1762.9 469.1,1762.9 470.5,1763.2 471.9,1763.8 473.2,1764.6 474.6,1765.7 476,1767.1 477.3,1768.6 478.7,1770.4 480.1,1772.3 481.4,1774.3 482.8,1776.5 484.2,1778.7 485.5,1780.9 486.9,1783.1 488.3,1785.3 489.6,1787.4 491,1789.4 492.4,1791.2 493.7,1792.9 495.1,1794.4 496.5,1795.7 497.8,1796.8 499.2,1797.6 500.6,1798.1 501.9,1798.5 503.3,1798.5 504.7,1798.3 506,1797.9 507.4,1797.2 508.8,1796.2 510.1,1795.1 511.5,1793.8 512.9,1792.3 514.3,1790.7 515.6,1789.0 517,1787.2 518.4,1785.3 519.7,1783.4 521.1,1781.5 522.5,1779.6 523.8,1777.8 525.2,1776.1 526.6,1774.5 527.9,1773.0 529.3,1771.7 530.7,1770.6 532,1769.7 533.4,1769.0 534.8,1768.4 536.1,1768.1 537.5,1768.1" fill="none" stroke="#1b1f22" stroke-width="2.1" stroke-linejoin="round"/>
<line x1="78.40" y1="1901.50" x2="558.70" y2="1901.50" stroke="#000" stroke-width="2.1" />
<line x1="99.90" y1="1901.50" x2="99.90" y2="1926.10" stroke="#000" stroke-width="2.1" />
<text x="102.20" y="1955.20" font-size="29" text-anchor="middle" font-weight="normal" font-style="normal" >0</text>
<line x1="209.30" y1="1901.50" x2="209.30" y2="1926.10" stroke="#000" stroke-width="2.1" />
<text x="211.60" y="1955.20" font-size="29" text-anchor="middle" font-weight="normal" font-style="normal" >5</text>
<line x1="318.70" y1="1901.50" x2="318.70" y2="1926.10" stroke="#000" stroke-width="2.1" />
<text x="323.70" y="1955.20" font-size="29" text-anchor="middle" font-weight="normal" font-style="normal" >10</text>
<line x1="428.10" y1="1901.50" x2="428.10" y2="1926.10" stroke="#000" stroke-width="2.1" />
<text x="433.10" y="1955.20" font-size="29" text-anchor="middle" font-weight="normal" font-style="normal" >15</text>
<line x1="537.50" y1="1901.50" x2="537.50" y2="1926.10" stroke="#000" stroke-width="2.1" />
<text x="542.50" y="1955.20" font-size="29" text-anchor="middle" font-weight="normal" font-style="normal" >20</text>
<text x="323.30" y="1997.10" font-size="29" text-anchor="middle"><tspan font-style="italic">t</tspan> (s)</text>
</g>
<g id="panel-g">
<g fill="#4b9ac6" fill-opacity="0.072" stroke="none">
<path d="M729.8,1705.9 732.9,1688.4 736.1,1679.3 739.2,1679.0 742.3,1687.2 745.4,1703.0 748.6,1724.9 751.7,1750.9 754.8,1778.7 757.9,1806.2 761.1,1831.0 764.2,1851.2 767.3,1865.3 770.4,1872.4 773.6,1871.9 776.7,1864.1 779.8,1849.9 782.9,1830.5 786.1,1807.6 789.2,1783.1 792.3,1759.1 795.4,1737.2 798.6,1719.4 801.7,1706.8 804.8,1700.2 807.9,1700.1 811.1,1706.2 814.2,1717.8 817.3,1733.9 820.4,1753.0 823.6,1773.4 826.7,1793.5 829.8,1811.7 832.9,1826.4 836.1,1836.7 839.2,1841.9 842.3,1841.5 845.5,1835.9 848.6,1825.5 851.7,1811.3 854.8,1794.6 858,1776.8 861.1,1759.2 864.2,1743.4 867.3,1730.4 870.5,1721.3 873.6,1716.6 876.7,1716.6 879.8,1721.1 883,1729.7 886.1,1741.4 889.2,1755.4 892.3,1770.4 895.5,1785.1 898.6,1798.4 901.7,1809.2 904.8,1816.7 908,1820.4 911.1,1820.2 914.2,1816.0 917.3,1808.4 920.5,1798.1 923.6,1785.9 926.7,1772.9 929.8,1760.1 933,1748.6 936.1,1739.1 939.2,1732.5 942.3,1729.1 945.5,1729.2 948.6,1732.5 951.7,1738.8 954.9,1747.5 958,1757.7 961.1,1768.7 964.2,1779.4 967.4,1789.1 970.5,1797.0 973.6,1802.5 976.7,1805.2 979.9,1805.0 983,1802.0 986.1,1796.5 989.2,1788.9 992.4,1780.0 995.5,1770.5 998.6,1761.2 1001.7,1752.8 1004.9,1746.0 1008,1741.1 1011.1,1738.7 1014.2,1738.8 1017.4,1741.3 1020.5,1745.9 1023.6,1752.2 1026.7,1759.7 1029.9,1767.7 1033,1775.6 1036.1,1782.7 1039.2,1788.5 1042.4,1792.5 1045.5,1794.4 1048.6,1794.3 1051.7,1792.1 1054.9,1788.0 1058,1782.5 1061.1,1776.0 1064.3,1769.1 1067.4,1762.3 1070.5,1756.2 1073.6,1751.2 1076.8,1747.7 1079.9,1745.9 1083,1746.0 1086.1,1747.8 1089.3,1751.2 1092.4,1755.9 1095.5,1761.4 1098.6,1767.2 1101.8,1773.0 1104.9,1778.2 1108,1782.4 1111.1,1785.3 1114.3,1786.7 1117.4,1786.6 1120.5,1785.0 1123.6,1782.0 1126.8,1778.0 1129.9,1773.2 1133,1768.2 1136.1,1763.2 1139.3,1758.8 1142.4,1755.1 1145.5,1752.6 1148.6,1751.3 1151.8,1751.4 1154.9,1752.8 1158,1755.3 1161.1,1758.7 1164.3,1762.7 1167.4,1767.0 1167.4,1819.5 1164.3,1815.2 1161.1,1811.2 1158,1807.7 1154.9,1805.2 1151.8,1803.8 1148.6,1803.7 1145.5,1804.9 1142.4,1807.4 1139.3,1811.0 1136.1,1815.4 1133,1820.3 1129.9,1825.3 1126.8,1830.0 1123.6,1834.0 1120.5,1836.9 1117.4,1838.5 1114.3,1838.6 1111.1,1837.1 1108,1834.1 1104.9,1829.9 1101.8,1824.6 1098.6,1818.8 1095.5,1812.9 1092.4,1807.4 1089.3,1802.7 1086.1,1799.2 1083,1797.3 1079.9,1797.1 1076.8,1798.8 1073.6,1802.3 1070.5,1807.2 1067.4,1813.2 1064.3,1819.9 1061.1,1826.8 1058,1833.2 1054.9,1838.6 1051.7,1842.6 1048.6,1844.8 1045.5,1844.8 1042.4,1842.8 1039.2,1838.7 1036.1,1832.8 1033,1825.6 1029.9,1817.7 1026.7,1809.6 1023.6,1802.0 1020.5,1795.5 1017.4,1790.8 1014.2,1788.2 1011.1,1788.0 1008,1790.3 1004.9,1795.0 1001.7,1801.8 998.6,1810.1 995.5,1819.3 992.4,1828.6 989.2,1837.4 986.1,1844.8 983,1850.2 979.9,1853.1 976.7,1853.1 973.6,1850.3 970.5,1844.6 967.4,1836.6 964.2,1826.7 961.1,1815.8 958,1804.7 954.9,1794.3 951.7,1785.5 948.6,1779.0 945.5,1775.5 942.3,1775.2 939.2,1778.4 936.1,1784.8 933,1794.1 929.8,1805.4 926.7,1818.0 923.6,1830.8 920.5,1842.7 917.3,1852.9 914.2,1860.2 911.1,1864.1 908,1864.1 904.8,1860.1 901.7,1852.4 898.6,1841.3 895.5,1827.8 892.3,1812.8 889.2,1797.5 886.1,1783.3 883,1771.2 879.8,1762.3 876.7,1757.5 873.6,1757.2 870.5,1761.6 867.3,1770.4 864.2,1783.0 861.1,1798.5 858,1815.7 854.8,1833.2 851.7,1849.5 848.6,1863.3 845.5,1873.3 842.3,1878.5 839.2,1878.5 836.1,1872.9 832.9,1862.2 829.8,1847.0 826.7,1828.4 823.6,1807.8 820.4,1786.9 817.3,1767.4 814.2,1750.8 811.1,1738.7 807.9,1732.0 804.8,1731.6 801.7,1737.6 798.6,1749.7 795.4,1767.0 792.3,1788.2 789.2,1811.7 786.1,1835.6 782.9,1857.8 779.8,1876.6 776.7,1890.1 773.6,1897.2 770.4,1897.0 767.3,1889.3 764.2,1874.5 761.1,1853.5 757.9,1827.9 754.8,1799.7 751.7,1771.0 748.6,1744.2 745.4,1721.5 742.3,1704.8 739.2,1695.8 736.1,1695.2 732.9,1703.4 729.8,1719.9Z"/>
<path d="M729.8,1707.8 732.9,1690.5 736.1,1681.6 739.2,1681.3 742.3,1689.7 745.4,1705.6 748.6,1727.6 751.7,1753.7 754.8,1781.7 757.9,1809.2 761.1,1834.2 764.2,1854.5 767.3,1868.7 770.4,1875.8 773.6,1875.4 776.7,1867.8 779.8,1853.6 782.9,1834.3 786.1,1811.5 789.2,1787.1 792.3,1763.1 795.4,1741.4 798.6,1723.6 801.7,1711.1 804.8,1704.6 807.9,1704.6 811.1,1710.7 814.2,1722.5 817.3,1738.6 820.4,1757.7 823.6,1778.2 826.7,1798.4 829.8,1816.6 832.9,1831.4 836.1,1841.8 839.2,1847.0 842.3,1846.7 845.5,1841.1 848.6,1830.8 851.7,1816.7 854.8,1800.0 858,1782.2 861.1,1764.7 864.2,1748.9 867.3,1736.0 870.5,1726.9 873.6,1722.3 876.7,1722.3 879.8,1726.9 883,1735.5 886.1,1747.3 889.2,1761.3 892.3,1776.3 895.5,1791.1 898.6,1804.4 901.7,1815.2 904.8,1822.8 908,1826.5 911.1,1826.3 914.2,1822.2 917.3,1814.7 920.5,1804.4 923.6,1792.2 926.7,1779.2 929.8,1766.5 933,1755.0 936.1,1745.5 939.2,1738.9 942.3,1735.6 945.5,1735.7 948.6,1739.0 951.7,1745.4 954.9,1754.1 958,1764.3 961.1,1775.3 964.2,1786.1 967.4,1795.8 970.5,1803.7 973.6,1809.2 976.7,1811.9 979.9,1811.8 983,1808.8 986.1,1803.2 989.2,1795.7 992.4,1786.8 995.5,1777.4 998.6,1768.1 1001.7,1759.7 1004.9,1752.8 1008,1748.0 1011.1,1745.6 1014.2,1745.7 1017.4,1748.2 1020.5,1752.8 1023.6,1759.2 1026.7,1766.7 1029.9,1774.7 1033,1782.6 1036.1,1789.7 1039.2,1795.5 1042.4,1799.5 1045.5,1801.5 1048.6,1801.3 1051.7,1799.1 1054.9,1795.1 1058,1789.6 1061.1,1783.1 1064.3,1776.2 1067.4,1769.4 1070.5,1763.3 1073.6,1758.3 1076.8,1754.8 1079.9,1753.1 1083,1753.2 1086.1,1755.0 1089.3,1758.4 1092.4,1763.1 1095.5,1768.6 1098.6,1774.5 1101.8,1780.2 1104.9,1785.4 1108,1789.6 1111.1,1792.5 1114.3,1794.0 1117.4,1793.9 1120.5,1792.2 1123.6,1789.3 1126.8,1785.3 1129.9,1780.5 1133,1775.5 1136.1,1770.5 1139.3,1766.1 1142.4,1762.4 1145.5,1759.9 1148.6,1758.7 1151.8,1758.7 1154.9,1760.1 1158,1762.6 1161.1,1766.0 1164.3,1770.0 1167.4,1774.3 1167.4,1812.2 1164.3,1807.9 1161.1,1803.8 1158,1800.4 1154.9,1797.8 1151.8,1796.5 1148.6,1796.4 1145.5,1797.6 1142.4,1800.1 1139.3,1803.7 1136.1,1808.1 1133,1813.0 1129.9,1818.0 1126.8,1822.7 1123.6,1826.7 1120.5,1829.6 1117.4,1831.2 1114.3,1831.3 1111.1,1829.8 1108,1826.9 1104.9,1822.6 1101.8,1817.4 1098.6,1811.6 1095.5,1805.7 1092.4,1800.2 1089.3,1795.5 1086.1,1792.0 1083,1790.1 1079.9,1790.0 1076.8,1791.7 1073.6,1795.1 1070.5,1800.0 1067.4,1806.1 1064.3,1812.8 1061.1,1819.7 1058,1826.1 1054.9,1831.6 1051.7,1835.5 1048.6,1837.7 1045.5,1837.8 1042.4,1835.7 1039.2,1831.6 1036.1,1825.8 1033,1818.6 1029.9,1810.7 1026.7,1802.6 1023.6,1795.0 1020.5,1788.6 1017.4,1783.9 1014.2,1781.3 1011.1,1781.1 1008,1783.5 1004.9,1788.2 1001.7,1794.9 998.6,1803.2 995.5,1812.4 992.4,1821.8 989.2,1830.6 986.1,1838.0 983,1843.4 979.9,1846.4 976.7,1846.4 973.6,1843.6 970.5,1838.0 967.4,1829.9 964.2,1820.1 961.1,1809.2 958,1798.1 954.9,1787.7 951.7,1778.9 948.6,1772.5 945.5,1769.0 942.3,1768.8 939.2,1772.0 936.1,1778.4 933,1787.7 929.8,1799.1 926.7,1811.7 923.6,1824.5 920.5,1836.5 917.3,1846.6 914.2,1854.0 911.1,1857.9 908,1858.0 904.8,1854.1 901.7,1846.3 898.6,1835.3 895.5,1821.8 892.3,1806.8 889.2,1791.6 886.1,1777.4 883,1765.4 879.8,1756.6 876.7,1751.8 873.6,1751.5 870.5,1755.9 867.3,1764.8 864.2,1777.5 861.1,1793.0 858,1810.3 854.8,1827.8 851.7,1844.2 848.6,1858.0 845.5,1868.0 842.3,1873.4 839.2,1873.4 836.1,1867.9 832.9,1857.2 829.8,1842.0 826.7,1823.5 823.6,1803.0 820.4,1782.2 817.3,1762.7 814.2,1746.2 811.1,1734.1 807.9,1727.6 804.8,1727.2 801.7,1733.3 798.6,1745.4 795.4,1762.8 792.3,1784.1 789.2,1807.7 786.1,1831.7 782.9,1854.0 779.8,1872.8 776.7,1886.5 773.6,1893.7 770.4,1893.6 767.3,1885.9 764.2,1871.2 761.1,1850.3 757.9,1824.9 754.8,1796.8 751.7,1768.2 748.6,1741.5 745.4,1718.9 742.3,1702.4 739.2,1693.4 736.1,1693.0 732.9,1701.3 729.8,1717.9Z"/>
<path d="M729.8,1709.2 732.9,1692.0 736.1,1683.1 739.2,1683.0 742.3,1691.4 745.4,1707.4 748.6,1729.5 751.7,1755.7 754.8,1783.8 757.9,1811.4 761.1,1836.4 764.2,1856.8 767.3,1871.1 770.4,1878.3 773.6,1878.0 776.7,1870.4 779.8,1856.3 782.9,1837.1 786.1,1814.3 789.2,1790.0 792.3,1766.0 795.4,1744.4 798.6,1726.7 801.7,1714.2 804.8,1707.8 807.9,1707.8 811.1,1714.0 814.2,1725.8 817.3,1741.9 820.4,1761.1 823.6,1781.7 826.7,1801.9 829.8,1820.1 832.9,1835.0 836.1,1845.4 839.2,1850.7 842.3,1850.4 845.5,1844.8 848.6,1834.6 851.7,1820.5 854.8,1803.9 858,1786.1 861.1,1768.7 864.2,1752.9 867.3,1740.0 870.5,1730.9 873.6,1726.3 876.7,1726.4 879.8,1731.0 883,1739.6 886.1,1751.5 889.2,1765.5 892.3,1780.6 895.5,1795.3 898.6,1808.7 901.7,1819.5 904.8,1827.1 908,1830.9 911.1,1830.7 914.2,1826.6 917.3,1819.1 920.5,1808.8 923.6,1796.7 926.7,1783.7 929.8,1771.0 933,1759.5 936.1,1750.1 939.2,1743.5 942.3,1740.2 945.5,1740.3 948.6,1743.7 951.7,1750.0 954.9,1758.7 958,1769.0 961.1,1780.0 964.2,1790.8 967.4,1800.5 970.5,1808.5 973.6,1814.0 976.7,1816.7 979.9,1816.6 983,1813.6 986.1,1808.1 989.2,1800.6 992.4,1791.7 995.5,1782.2 998.6,1772.9 1001.7,1764.6 1004.9,1757.7 1008,1752.9 1011.1,1750.5 1014.2,1750.6 1017.4,1753.2 1020.5,1757.8 1023.6,1764.2 1026.7,1771.7 1029.9,1779.7 1033,1787.6 1036.1,1794.7 1039.2,1800.5 1042.4,1804.5 1045.5,1806.5 1048.6,1806.4 1051.7,1804.2 1054.9,1800.2 1058,1794.7 1061.1,1788.2 1064.3,1781.3 1067.4,1774.5 1070.5,1768.4 1073.6,1763.4 1076.8,1760.0 1079.9,1758.2 1083,1758.3 1086.1,1760.2 1089.3,1763.6 1092.4,1768.2 1095.5,1773.7 1098.6,1779.6 1101.8,1785.4 1104.9,1790.6 1108,1794.8 1111.1,1797.7 1114.3,1799.2 1117.4,1799.1 1120.5,1797.4 1123.6,1794.5 1126.8,1790.5 1129.9,1785.7 1133,1780.7 1136.1,1775.7 1139.3,1771.3 1142.4,1767.7 1145.5,1765.1 1148.6,1763.9 1151.8,1764.0 1154.9,1765.3 1158,1767.8 1161.1,1771.3 1164.3,1775.3 1167.4,1779.6 1167.4,1806.9 1164.3,1802.6 1161.1,1798.6 1158,1795.1 1154.9,1792.6 1151.8,1791.2 1148.6,1791.1 1145.5,1792.4 1142.4,1794.9 1139.3,1798.5 1136.1,1802.9 1133,1807.8 1129.9,1812.8 1126.8,1817.5 1123.6,1821.5 1120.5,1824.5 1117.4,1826.0 1114.3,1826.1 1111.1,1824.7 1108,1821.7 1104.9,1817.4 1101.8,1812.2 1098.6,1806.4 1095.5,1800.5 1092.4,1795.0 1089.3,1790.3 1086.1,1786.9 1083,1785.0 1079.9,1784.9 1076.8,1786.6 1073.6,1790.0 1070.5,1794.9 1067.4,1801.0 1064.3,1807.7 1061.1,1814.6 1058,1821.0 1054.9,1826.5 1051.7,1830.5 1048.6,1832.6 1045.5,1832.7 1042.4,1830.7 1039.2,1826.6 1036.1,1820.8 1033,1813.6 1029.9,1805.7 1026.7,1797.6 1023.6,1790.0 1020.5,1783.6 1017.4,1778.9 1014.2,1776.3 1011.1,1776.2 1008,1778.5 1004.9,1783.3 1001.7,1790.0 998.6,1798.3 995.5,1807.6 992.4,1817.0 989.2,1825.7 986.1,1833.2 983,1838.6 979.9,1841.6 976.7,1841.6 973.6,1838.8 970.5,1833.2 967.4,1825.2 964.2,1815.4 961.1,1804.5 958,1793.4 954.9,1783.1 951.7,1774.3 948.6,1767.8 945.5,1764.3 942.3,1764.2 939.2,1767.4 936.1,1773.9 933,1783.2 929.8,1794.5 926.7,1807.2 923.6,1820.0 920.5,1832.0 917.3,1842.2 914.2,1849.6 911.1,1853.6 908,1853.6 904.8,1849.7 901.7,1842.0 898.6,1831.0 895.5,1817.5 892.3,1802.6 889.2,1787.4 886.1,1773.2 883,1761.2 879.8,1752.4 876.7,1747.7 873.6,1747.4 870.5,1751.9 867.3,1760.8 864.2,1773.5 861.1,1789.1 858,1806.4 854.8,1824.0 851.7,1840.4 848.6,1854.2 845.5,1864.3 842.3,1869.7 839.2,1869.7 836.1,1864.3 832.9,1853.6 829.8,1838.5 826.7,1820.0 823.6,1799.6 820.4,1778.8 817.3,1759.3 814.2,1742.9 811.1,1730.9 807.9,1724.4 804.8,1724.1 801.7,1730.2 798.6,1742.4 795.4,1759.8 792.3,1781.2 789.2,1804.8 786.1,1828.9 782.9,1851.3 779.8,1870.2 776.7,1883.9 773.6,1891.1 770.4,1891.1 767.3,1883.5 764.2,1868.9 761.1,1848.1 757.9,1822.7 754.8,1794.7 751.7,1766.2 748.6,1739.6 745.4,1717.0 742.3,1700.6 739.2,1691.7 736.1,1691.4 732.9,1699.8 729.8,1716.5Z"/>
<path d="M729.8,1710.2 732.9,1693.1 736.1,1684.2 739.2,1684.2 742.3,1692.7 745.4,1708.7 748.6,1730.9 751.7,1757.1 754.8,1785.2 757.9,1812.9 761.1,1838.0 764.2,1858.4 767.3,1872.8 770.4,1880.0 773.6,1879.7 776.7,1872.2 779.8,1858.2 782.9,1839.0 786.1,1816.3 789.2,1792.0 792.3,1768.1 795.4,1746.5 798.6,1728.8 801.7,1716.3 804.8,1710.0 807.9,1710.0 811.1,1716.3 814.2,1728.1 817.3,1744.3 820.4,1763.5 823.6,1784.1 826.7,1804.3 829.8,1822.6 832.9,1837.5 836.1,1848.0 839.2,1853.2 842.3,1853.0 845.5,1847.5 848.6,1837.2 851.7,1823.2 854.8,1806.6 858,1788.9 861.1,1771.4 864.2,1755.7 867.3,1742.8 870.5,1733.8 873.6,1729.2 876.7,1729.2 879.8,1733.9 883,1742.5 886.1,1754.4 889.2,1768.5 892.3,1783.5 895.5,1798.3 898.6,1811.7 901.7,1822.5 904.8,1830.2 908,1834.0 911.1,1833.8 914.2,1829.7 917.3,1822.2 920.5,1811.9 923.6,1799.8 926.7,1786.9 929.8,1774.2 933,1762.7 936.1,1753.3 939.2,1746.7 942.3,1743.4 945.5,1743.5 948.6,1746.9 951.7,1753.3 954.9,1762.0 958,1772.3 961.1,1783.3 964.2,1794.1 967.4,1803.8 970.5,1811.8 973.6,1817.3 976.7,1820.1 979.9,1819.9 983,1816.9 986.1,1811.4 989.2,1803.9 992.4,1795.1 995.5,1785.6 998.6,1776.4 1001.7,1768.0 1004.9,1761.2 1008,1756.4 1011.1,1754.0 1014.2,1754.1 1017.4,1756.6 1020.5,1761.3 1023.6,1767.7 1026.7,1775.2 1029.9,1783.2 1033,1791.1 1036.1,1798.2 1039.2,1804.0 1042.4,1808.1 1045.5,1810.1 1048.6,1809.9 1051.7,1807.7 1054.9,1803.7 1058,1798.2 1061.1,1791.8 1064.3,1784.8 1067.4,1778.1 1070.5,1772.0 1073.6,1767.0 1076.8,1763.5 1079.9,1761.8 1083,1761.9 1086.1,1763.8 1089.3,1767.2 1092.4,1771.8 1095.5,1777.4 1098.6,1783.2 1101.8,1789.0 1104.9,1794.2 1108,1798.4 1111.1,1801.3 1114.3,1802.8 1117.4,1802.7 1120.5,1801.1 1123.6,1798.1 1126.8,1794.1 1129.9,1789.4 1133,1784.3 1136.1,1779.4 1139.3,1774.9 1142.4,1771.3 1145.5,1768.8 1148.6,1767.6 1151.8,1767.6 1154.9,1769.0 1158,1771.5 1161.1,1774.9 1164.3,1779.0 1167.4,1783.3 1167.4,1803.2 1164.3,1798.9 1161.1,1794.9 1158,1791.5 1154.9,1788.9 1151.8,1787.5 1148.6,1787.5 1145.5,1788.7 1142.4,1791.2 1139.3,1794.8 1136.1,1799.2 1133,1804.2 1129.9,1809.2 1126.8,1813.9 1123.6,1817.9 1120.5,1820.8 1117.4,1822.4 1114.3,1822.5 1111.1,1821.0 1108,1818.1 1104.9,1813.8 1101.8,1808.6 1098.6,1802.8 1095.5,1796.9 1092.4,1791.4 1089.3,1786.7 1086.1,1783.3 1083,1781.4 1079.9,1781.3 1076.8,1783.0 1073.6,1786.4 1070.5,1791.4 1067.4,1797.4 1064.3,1804.2 1061.1,1811.1 1058,1817.5 1054.9,1822.9 1051.7,1826.9 1048.6,1829.1 1045.5,1829.2 1042.4,1827.2 1039.2,1823.1 1036.1,1817.3 1033,1810.1 1029.9,1802.2 1026.7,1794.1 1023.6,1786.6 1020.5,1780.1 1017.4,1775.4 1014.2,1772.9 1011.1,1772.7 1008,1775.1 1004.9,1779.8 1001.7,1786.6 998.6,1794.9 995.5,1804.2 992.4,1813.6 989.2,1822.4 986.1,1829.8 983,1835.3 979.9,1838.2 976.7,1838.3 973.6,1835.5 970.5,1829.9 967.4,1821.9 964.2,1812.1 961.1,1801.2 958,1790.1 954.9,1779.8 951.7,1771.0 948.6,1764.6 945.5,1761.1 942.3,1760.9 939.2,1764.2 936.1,1770.7 933,1780.0 929.8,1791.4 926.7,1804.0 923.6,1816.9 920.5,1828.9 917.3,1839.1 914.2,1846.5 911.1,1850.5 908,1850.6 904.8,1846.7 901.7,1839.0 898.6,1828.0 895.5,1814.5 892.3,1799.6 889.2,1784.5 886.1,1770.3 883,1758.3 879.8,1749.5 876.7,1744.8 873.6,1744.6 870.5,1749.1 867.3,1758.0 864.2,1770.7 861.1,1786.4 858,1803.7 854.8,1821.3 851.7,1837.7 848.6,1851.6 845.5,1861.7 842.3,1867.1 839.2,1867.1 836.1,1861.7 832.9,1851.1 829.8,1836.0 826.7,1817.6 823.6,1797.1 820.4,1776.4 817.3,1757.0 814.2,1740.6 811.1,1728.6 807.9,1722.1 804.8,1721.9 801.7,1728.1 798.6,1740.3 795.4,1757.8 792.3,1779.2 789.2,1802.8 786.1,1826.9 782.9,1849.4 779.8,1868.3 776.7,1882.1 773.6,1889.4 770.4,1889.4 767.3,1881.9 764.2,1867.3 761.1,1846.5 757.9,1821.2 754.8,1793.2 751.7,1764.8 748.6,1738.2 745.4,1715.7 742.3,1699.4 739.2,1690.6 736.1,1690.3 732.9,1698.8 729.8,1715.5Z"/>
<path d="M729.8,1710.9 732.9,1693.8 736.1,1685.0 739.2,1685.0 742.3,1693.5 745.4,1709.6 748.6,1731.8 751.7,1758.1 754.8,1786.3 757.9,1814.0 761.1,1839.1 764.2,1859.6 767.3,1874.0 770.4,1881.2 773.6,1881.0 776.7,1873.5 779.8,1859.5 782.9,1840.4 786.1,1817.7 789.2,1793.4 792.3,1769.5 795.4,1747.9 798.6,1730.3 801.7,1717.9 804.8,1711.5 807.9,1711.6 811.1,1717.9 814.2,1729.7 817.3,1746.0 820.4,1765.2 823.6,1785.8 826.7,1806.1 829.8,1824.4 832.9,1839.3 836.1,1849.8 839.2,1855.1 842.3,1854.8 845.5,1849.3 848.6,1839.1 851.7,1825.1 854.8,1808.5 858,1790.8 861.1,1773.4 864.2,1757.6 867.3,1744.8 870.5,1735.8 873.6,1731.2 876.7,1731.3 879.8,1735.9 883,1744.6 886.1,1756.5 889.2,1770.6 892.3,1785.6 895.5,1800.4 898.6,1813.8 901.7,1824.7 904.8,1832.3 908,1836.2 911.1,1836.0 914.2,1831.9 917.3,1824.4 920.5,1814.2 923.6,1802.1 926.7,1789.1 929.8,1776.4 933,1765.0 936.1,1755.6 939.2,1749.0 942.3,1745.7 945.5,1745.8 948.6,1749.3 951.7,1755.6 954.9,1764.3 958,1774.6 961.1,1785.6 964.2,1796.5 967.4,1806.2 970.5,1814.2 973.6,1819.7 976.7,1822.5 979.9,1822.3 983,1819.4 986.1,1813.9 989.2,1806.4 992.4,1797.5 995.5,1788.1 998.6,1778.8 1001.7,1770.4 1004.9,1763.6 1008,1758.9 1011.1,1756.5 1014.2,1756.6 1017.4,1759.1 1020.5,1763.8 1023.6,1770.1 1026.7,1777.7 1029.9,1785.7 1033,1793.6 1036.1,1800.7 1039.2,1806.5 1042.4,1810.6 1045.5,1812.6 1048.6,1812.4 1051.7,1810.3 1054.9,1806.2 1058,1800.8 1061.1,1794.3 1064.3,1787.4 1067.4,1780.6 1070.5,1774.5 1073.6,1769.6 1076.8,1766.1 1079.9,1764.4 1083,1764.5 1086.1,1766.3 1089.3,1769.7 1092.4,1774.4 1095.5,1779.9 1098.6,1785.8 1101.8,1791.6 1104.9,1796.8 1108,1801.0 1111.1,1803.9 1114.3,1805.4 1117.4,1805.3 1120.5,1803.7 1123.6,1800.7 1126.8,1796.7 1129.9,1792.0 1133,1786.9 1136.1,1782.0 1139.3,1777.6 1142.4,1773.9 1145.5,1771.4 1148.6,1770.2 1151.8,1770.3 1154.9,1771.6 1158,1774.1 1161.1,1777.6 1164.3,1781.6 1167.4,1785.9 1167.4,1800.6 1164.3,1796.3 1161.1,1792.3 1158,1788.8 1154.9,1786.3 1151.8,1784.9 1148.6,1784.8 1145.5,1786.1 1142.4,1788.6 1139.3,1792.2 1136.1,1796.6 1133,1801.6 1129.9,1806.6 1126.8,1811.3 1123.6,1815.3 1120.5,1818.2 1117.4,1819.8 1114.3,1819.9 1111.1,1818.4 1108,1815.5 1104.9,1811.2 1101.8,1806.0 1098.6,1800.3 1095.5,1794.4 1092.4,1788.8 1089.3,1784.1 1086.1,1780.7 1083,1778.8 1079.9,1778.7 1076.8,1780.4 1073.6,1783.9 1070.5,1788.8 1067.4,1794.9 1064.3,1801.6 1061.1,1808.5 1058,1815.0 1054.9,1820.4 1051.7,1824.4 1048.6,1826.6 1045.5,1826.7 1042.4,1824.7 1039.2,1820.6 1036.1,1814.8 1033,1807.6 1029.9,1799.7 1026.7,1791.6 1023.6,1784.1 1020.5,1777.7 1017.4,1773.0 1014.2,1770.4 1011.1,1770.3 1008,1772.6 1004.9,1777.4 1001.7,1784.1 998.6,1792.5 995.5,1801.7 992.4,1811.1 989.2,1819.9 986.1,1827.4 983,1832.8 979.9,1835.8 976.7,1835.9 973.6,1833.1 970.5,1827.5 967.4,1819.5 964.2,1809.7 961.1,1798.8 958,1787.8 954.9,1777.5 951.7,1768.7 948.6,1762.3 945.5,1758.8 942.3,1758.6 939.2,1761.9 936.1,1768.4 933,1777.7 929.8,1789.1 926.7,1801.8 923.6,1814.6 920.5,1826.7 917.3,1836.9 914.2,1844.3 911.1,1848.3 908,1848.4 904.8,1844.5 901.7,1836.8 898.6,1825.8 895.5,1812.4 892.3,1797.5 889.2,1782.4 886.1,1768.2 883,1756.2 879.8,1747.5 876.7,1742.8 873.6,1742.6 870.5,1747.1 867.3,1756.0 864.2,1768.7 861.1,1784.4 858,1801.7 854.8,1819.3 851.7,1835.8 848.6,1849.7 845.5,1859.8 842.3,1865.2 839.2,1865.3 836.1,1859.9 832.9,1849.3 829.8,1834.3 826.7,1815.8 823.6,1795.4 820.4,1774.7 817.3,1755.3 814.2,1738.9 811.1,1727.0 807.9,1720.5 804.8,1720.3 801.7,1726.5 798.6,1738.8 795.4,1756.3 792.3,1777.7 789.2,1801.4 786.1,1825.5 782.9,1848.0 779.8,1867.0 776.7,1880.8 773.6,1888.1 770.4,1888.1 767.3,1880.7 764.2,1866.1 761.1,1845.4 757.9,1820.1 754.8,1792.1 751.7,1763.8 748.6,1737.2 745.4,1714.8 742.3,1698.5 739.2,1689.7 736.1,1689.5 732.9,1698.0 729.8,1714.8Z"/>
<path d="M729.8,1711.5 732.9,1694.4 736.1,1685.7 739.2,1685.7 742.3,1694.3 745.4,1710.4 748.6,1732.6 751.7,1758.9 754.8,1787.1 757.9,1814.9 761.1,1840.0 764.2,1860.5 767.3,1874.9 770.4,1882.2 773.6,1882.0 776.7,1874.5 779.8,1860.6 782.9,1841.4 786.1,1818.8 789.2,1794.6 792.3,1770.7 795.4,1749.1 798.6,1731.5 801.7,1719.1 804.8,1712.8 807.9,1712.9 811.1,1719.2 814.2,1731.0 817.3,1747.3 820.4,1766.6 823.6,1787.2 826.7,1807.5 829.8,1825.8 832.9,1840.7 836.1,1851.2 839.2,1856.5 842.3,1856.3 845.5,1850.8 848.6,1840.6 851.7,1826.6 854.8,1810.1 858,1792.4 861.1,1775.0 864.2,1759.2 867.3,1746.4 870.5,1737.4 873.6,1732.8 876.7,1732.9 879.8,1737.6 883,1746.3 886.1,1758.2 889.2,1772.3 892.3,1787.3 895.5,1802.2 898.6,1815.5 901.7,1826.4 904.8,1834.1 908,1837.9 911.1,1837.7 914.2,1833.7 917.3,1826.2 920.5,1816.0 923.6,1803.9 926.7,1790.9 929.8,1778.2 933,1766.8 936.1,1757.4 939.2,1750.9 942.3,1747.6 945.5,1747.7 948.6,1751.1 951.7,1757.5 954.9,1766.2 958,1776.5 961.1,1787.5 964.2,1798.4 967.4,1808.1 970.5,1816.1 973.6,1821.6 976.7,1824.4 979.9,1824.3 983,1821.3 986.1,1815.8 989.2,1808.3 992.4,1799.5 995.5,1790.0 998.6,1780.8 1001.7,1772.4 1004.9,1765.6 1008,1760.8 1011.1,1758.4 1014.2,1758.5 1017.4,1761.1 1020.5,1765.7 1023.6,1772.1 1026.7,1779.7 1029.9,1787.7 1033,1795.6 1036.1,1802.7 1039.2,1808.5 1042.4,1812.6 1045.5,1814.6 1048.6,1814.5 1051.7,1812.3 1054.9,1808.3 1058,1802.8 1061.1,1796.3 1064.3,1789.4 1067.4,1782.7 1070.5,1776.6 1073.6,1771.6 1076.8,1768.1 1079.9,1766.4 1083,1766.5 1086.1,1768.4 1089.3,1771.8 1092.4,1776.5 1095.5,1782.0 1098.6,1787.9 1101.8,1793.6 1104.9,1798.8 1108,1803.1 1111.1,1806.0 1114.3,1807.5 1117.4,1807.4 1120.5,1805.7 1123.6,1802.8 1126.8,1798.8 1129.9,1794.1 1133,1789.0 1136.1,1784.1 1139.3,1779.7 1142.4,1776.0 1145.5,1773.5 1148.6,1772.3 1151.8,1772.4 1154.9,1773.7 1158,1776.2 1161.1,1779.7 1164.3,1783.7 1167.4,1788.0 1167.4,1798.5 1164.3,1794.2 1161.1,1790.2 1158,1786.7 1154.9,1784.2 1151.8,1782.8 1148.6,1782.7 1145.5,1784.0 1142.4,1786.5 1139.3,1790.1 1136.1,1794.5 1133,1799.5 1129.9,1804.5 1126.8,1809.2 1123.6,1813.2 1120.5,1816.1 1117.4,1817.7 1114.3,1817.8 1111.1,1816.4 1108,1813.4 1104.9,1809.2 1101.8,1804.0 1098.6,1798.2 1095.5,1792.3 1092.4,1786.8 1089.3,1782.1 1086.1,1778.6 1083,1776.8 1079.9,1776.7 1076.8,1778.4 1073.6,1781.8 1070.5,1786.8 1067.4,1792.9 1064.3,1799.6 1061.1,1806.5 1058,1812.9 1054.9,1818.4 1051.7,1822.4 1048.6,1824.6 1045.5,1824.7 1042.4,1822.6 1039.2,1818.6 1036.1,1812.8 1033,1805.6 1029.9,1797.7 1026.7,1789.6 1023.6,1782.1 1020.5,1775.7 1017.4,1771.0 1014.2,1768.4 1011.1,1768.3 1008,1770.7 1004.9,1775.4 1001.7,1782.2 998.6,1790.5 995.5,1799.8 992.4,1809.2 989.2,1818.0 986.1,1825.5 983,1830.9 979.9,1833.9 976.7,1834.0 973.6,1831.2 970.5,1825.6 967.4,1817.6 964.2,1807.8 961.1,1797.0 958,1785.9 954.9,1775.6 951.7,1766.8 948.6,1760.4 945.5,1756.9 942.3,1756.8 939.2,1760.1 936.1,1766.6 933,1775.9 929.8,1787.3 926.7,1800.0 923.6,1812.8 920.5,1824.9 917.3,1835.1 914.2,1842.5 911.1,1846.5 908,1846.6 904.8,1842.8 901.7,1835.1 898.6,1824.1 895.5,1810.7 892.3,1795.8 889.2,1780.7 886.1,1766.5 883,1754.6 879.8,1745.8 876.7,1741.1 873.6,1740.9 870.5,1745.4 867.3,1754.4 864.2,1767.2 861.1,1782.8 858,1800.2 854.8,1817.8 851.7,1834.3 848.6,1848.2 845.5,1858.3 842.3,1863.7 839.2,1863.8 836.1,1858.5 832.9,1847.9 829.8,1832.8 826.7,1814.4 823.6,1794.1 820.4,1773.3 817.3,1754.0 814.2,1737.6 811.1,1725.7 807.9,1719.3 804.8,1719.1 801.7,1725.3 798.6,1737.6 795.4,1755.1 792.3,1776.5 789.2,1800.3 786.1,1824.4 782.9,1846.9 779.8,1865.9 776.7,1879.7 773.6,1887.1 770.4,1887.1 767.3,1879.7 764.2,1865.2 761.1,1844.5 757.9,1819.2 754.8,1791.3 751.7,1762.9 748.6,1736.5 745.4,1714.1 742.3,1697.8 739.2,1689.1 736.1,1688.8 732.9,1697.4 729.8,1714.3Z"/>
<path d="M729.8,1712.0 732.9,1694.9 736.1,1686.2 739.2,1686.3 742.3,1694.9 745.4,1711.0 748.6,1733.3 751.7,1759.6 754.8,1787.9 757.9,1815.7 761.1,1840.8 764.2,1861.3 767.3,1875.8 770.4,1883.1 773.6,1882.9 776.7,1875.4 779.8,1861.5 782.9,1842.4 786.1,1819.8 789.2,1795.6 792.3,1771.7 795.4,1750.2 798.6,1732.6 801.7,1720.2 804.8,1713.9 807.9,1714.0 811.1,1720.3 814.2,1732.2 817.3,1748.5 820.4,1767.7 823.6,1788.4 826.7,1808.7 829.8,1827.0 832.9,1842.0 836.1,1852.5 839.2,1857.8 842.3,1857.6 845.5,1852.1 848.6,1841.9 851.7,1827.9 854.8,1811.4 858,1793.7 861.1,1776.3 864.2,1760.6 867.3,1747.8 870.5,1738.8 873.6,1734.2 876.7,1734.4 879.8,1739.0 883,1747.7 886.1,1759.6 889.2,1773.7 892.3,1788.8 895.5,1803.6 898.6,1817.0 901.7,1827.9 904.8,1835.6 908,1839.4 911.1,1839.3 914.2,1835.2 917.3,1827.8 920.5,1817.5 923.6,1805.4 926.7,1792.5 929.8,1779.8 933,1768.4 936.1,1759.0 939.2,1752.5 942.3,1749.2 945.5,1749.3 948.6,1752.7 951.7,1759.1 954.9,1767.9 958,1778.2 961.1,1789.2 964.2,1800.0 967.4,1809.8 970.5,1817.7 973.6,1823.3 976.7,1826.1 979.9,1825.9 983,1823.0 986.1,1817.5 989.2,1810.0 992.4,1801.2 995.5,1791.7 998.6,1782.5 1001.7,1774.1 1004.9,1767.3 1008,1762.5 1011.1,1760.2 1014.2,1760.3 1017.4,1762.8 1020.5,1767.5 1023.6,1773.9 1026.7,1781.4 1029.9,1789.5 1033,1797.4 1036.1,1804.5 1039.2,1810.3 1042.4,1814.3 1045.5,1816.4 1048.6,1816.2 1051.7,1814.1 1054.9,1810.0 1058,1804.6 1061.1,1798.1 1064.3,1791.2 1067.4,1784.4 1070.5,1778.3 1073.6,1773.4 1076.8,1769.9 1079.9,1768.2 1083,1768.3 1086.1,1770.2 1089.3,1773.6 1092.4,1778.3 1095.5,1783.8 1098.6,1789.7 1101.8,1795.4 1104.9,1800.6 1108,1804.9 1111.1,1807.8 1114.3,1809.3 1117.4,1809.2 1120.5,1807.6 1123.6,1804.6 1126.8,1800.6 1129.9,1795.9 1133,1790.9 1136.1,1785.9 1139.3,1781.5 1142.4,1777.9 1145.5,1775.3 1148.6,1774.1 1151.8,1774.2 1154.9,1775.6 1158,1778.1 1161.1,1781.5 1164.3,1785.5 1167.4,1789.8 1167.4,1796.7 1164.3,1792.4 1161.1,1788.3 1158,1784.9 1154.9,1782.4 1151.8,1781.0 1148.6,1780.9 1145.5,1782.2 1142.4,1784.7 1139.3,1788.3 1136.1,1792.7 1133,1797.6 1129.9,1802.7 1126.8,1807.4 1123.6,1811.4 1120.5,1814.3 1117.4,1815.9 1114.3,1816.0 1111.1,1814.6 1108,1811.6 1104.9,1807.4 1101.8,1802.2 1098.6,1796.4 1095.5,1790.5 1092.4,1785.0 1089.3,1780.3 1086.1,1776.8 1083,1775.0 1079.9,1774.9 1076.8,1776.6 1073.6,1780.0 1070.5,1785.0 1067.4,1791.1 1064.3,1797.8 1061.1,1804.7 1058,1811.1 1054.9,1816.6 1051.7,1820.6 1048.6,1822.8 1045.5,1822.9 1042.4,1820.9 1039.2,1816.8 1036.1,1811.0 1033,1803.9 1029.9,1796.0 1026.7,1787.9 1023.6,1780.3 1020.5,1773.9 1017.4,1769.2 1014.2,1766.7 1011.1,1766.6 1008,1768.9 1004.9,1773.7 1001.7,1780.5 998.6,1788.8 995.5,1798.1 992.4,1807.5 989.2,1816.3 986.1,1823.8 983,1829.2 979.9,1832.2 976.7,1832.3 973.6,1829.5 970.5,1823.9 967.4,1815.9 964.2,1806.2 961.1,1795.3 958,1784.3 954.9,1773.9 951.7,1765.2 948.6,1758.8 945.5,1755.3 942.3,1755.2 939.2,1758.4 936.1,1765.0 933,1774.3 929.8,1785.7 926.7,1798.4 923.6,1811.3 920.5,1823.3 917.3,1833.5 914.2,1841.0 911.1,1845.0 908,1845.1 904.8,1841.2 901.7,1833.6 898.6,1822.6 895.5,1809.2 892.3,1794.3 889.2,1779.2 886.1,1765.1 883,1753.1 879.8,1744.4 876.7,1739.7 873.6,1739.5 870.5,1744.0 867.3,1753.0 864.2,1765.8 861.1,1781.4 858,1798.8 854.8,1816.4 851.7,1832.9 848.6,1846.8 845.5,1857.0 842.3,1862.4 839.2,1862.6 836.1,1857.2 832.9,1846.6 829.8,1831.6 826.7,1813.2 823.6,1792.8 820.4,1772.2 817.3,1752.8 814.2,1736.5 811.1,1724.5 807.9,1718.1 804.8,1718.0 801.7,1724.2 798.6,1736.5 795.4,1754.0 792.3,1775.5 789.2,1799.3 786.1,1823.4 782.9,1846.0 779.8,1865.0 776.7,1878.8 773.6,1886.2 770.4,1886.3 767.3,1878.9 764.2,1864.4 761.1,1843.7 757.9,1818.5 754.8,1790.6 751.7,1762.2 748.6,1735.8 745.4,1713.4 742.3,1697.2 739.2,1688.5 736.1,1688.3 732.9,1696.9 729.8,1713.8Z"/>
<path d="M729.8,1712.4 732.9,1695.4 736.1,1686.7 739.2,1686.8 742.3,1695.4 745.4,1711.6 748.6,1733.9 751.7,1760.2 754.8,1788.5 757.9,1816.3 761.1,1841.5 764.2,1862.0 767.3,1876.5 770.4,1883.8 773.6,1883.7 776.7,1876.2 779.8,1862.3 782.9,1843.2 786.1,1820.6 789.2,1796.4 792.3,1772.6 795.4,1751.1 798.6,1733.5 801.7,1721.1 804.8,1714.8 807.9,1715.0 811.1,1721.3 814.2,1733.2 817.3,1749.5 820.4,1768.8 823.6,1789.4 826.7,1809.7 829.8,1828.1 832.9,1843.1 836.1,1853.6 839.2,1858.9 842.3,1858.7 845.5,1853.3 848.6,1843.1 851.7,1829.1 854.8,1812.6 858,1794.9 861.1,1777.5 864.2,1761.8 867.3,1749.0 870.5,1740.0 873.6,1735.5 876.7,1735.6 879.8,1740.3 883,1749.0 886.1,1760.9 889.2,1775.0 892.3,1790.1 895.5,1804.9 898.6,1818.3 901.7,1829.2 904.8,1836.9 908,1840.7 911.1,1840.6 914.2,1836.6 917.3,1829.1 920.5,1818.9 923.6,1806.8 926.7,1793.9 929.8,1781.2 933,1769.7 936.1,1760.4 939.2,1753.9 942.3,1750.6 945.5,1750.7 948.6,1754.1 951.7,1760.5 954.9,1769.3 958,1779.6 961.1,1790.6 964.2,1801.4 967.4,1811.2 970.5,1819.2 973.6,1824.7 976.7,1827.5 979.9,1827.4 983,1824.4 986.1,1818.9 989.2,1811.5 992.4,1802.6 995.5,1793.2 998.6,1783.9 1001.7,1775.6 1004.9,1768.8 1008,1764.0 1011.1,1761.6 1014.2,1761.8 1017.4,1764.3 1020.5,1769.0 1023.6,1775.4 1026.7,1782.9 1029.9,1791.0 1033,1798.9 1036.1,1806.0 1039.2,1811.8 1042.4,1815.8 1045.5,1817.9 1048.6,1817.7 1051.7,1815.6 1054.9,1811.6 1058,1806.1 1061.1,1799.6 1064.3,1792.7 1067.4,1786.0 1070.5,1779.9 1073.6,1774.9 1076.8,1771.5 1079.9,1769.7 1083,1769.8 1086.1,1771.7 1089.3,1775.1 1092.4,1779.8 1095.5,1785.3 1098.6,1791.2 1101.8,1797.0 1104.9,1802.2 1108,1806.4 1111.1,1809.4 1114.3,1810.8 1117.4,1810.7 1120.5,1809.1 1123.6,1806.2 1126.8,1802.2 1129.9,1797.5 1133,1792.4 1136.1,1787.5 1139.3,1783.0 1142.4,1779.4 1145.5,1776.9 1148.6,1775.7 1151.8,1775.8 1154.9,1777.1 1158,1779.7 1161.1,1783.1 1164.3,1787.1 1167.4,1791.4 1167.4,1795.1 1164.3,1790.8 1161.1,1786.8 1158,1783.3 1154.9,1780.8 1151.8,1779.4 1148.6,1779.3 1145.5,1780.6 1142.4,1783.1 1139.3,1786.7 1136.1,1791.1 1133,1796.1 1129.9,1801.1 1126.8,1805.8 1123.6,1809.8 1120.5,1812.8 1117.4,1814.4 1114.3,1814.5 1111.1,1813.0 1108,1810.0 1104.9,1805.8 1101.8,1800.6 1098.6,1794.8 1095.5,1788.9 1092.4,1783.4 1089.3,1778.7 1086.1,1775.3 1083,1773.4 1079.9,1773.3 1076.8,1775.0 1073.6,1778.5 1070.5,1783.5 1067.4,1789.5 1064.3,1796.3 1061.1,1803.2 1058,1809.6 1054.9,1815.1 1051.7,1819.1 1048.6,1821.3 1045.5,1821.4 1042.4,1819.4 1039.2,1815.3 1036.1,1809.5 1033,1802.4 1029.9,1794.5 1026.7,1786.4 1023.6,1778.8 1020.5,1772.4 1017.4,1767.8 1014.2,1765.2 1011.1,1765.1 1008,1767.5 1004.9,1772.2 1001.7,1779.0 998.6,1787.4 995.5,1796.6 992.4,1806.0 989.2,1814.8 986.1,1822.3 983,1827.8 979.9,1830.7 976.7,1830.9 973.6,1828.1 970.5,1822.5 967.4,1814.5 964.2,1804.7 961.1,1793.9 958,1782.9 954.9,1772.5 951.7,1763.8 948.6,1757.4 945.5,1753.9 942.3,1753.8 939.2,1757.1 936.1,1763.6 933,1772.9 929.8,1784.4 926.7,1797.0 923.6,1809.9 920.5,1822.0 917.3,1832.2 914.2,1839.7 911.1,1843.7 908,1843.8 904.8,1839.9 901.7,1832.3 898.6,1821.3 895.5,1807.9 892.3,1793.1 889.2,1778.0 886.1,1763.8 883,1751.9 879.8,1743.2 876.7,1738.5 873.6,1738.3 870.5,1742.8 867.3,1751.8 864.2,1764.6 861.1,1780.3 858,1797.6 854.8,1815.3 851.7,1831.8 848.6,1845.7 845.5,1855.9 842.3,1861.3 839.2,1861.5 836.1,1856.1 832.9,1845.6 829.8,1830.6 826.7,1812.2 823.6,1791.8 820.4,1771.1 817.3,1751.8 814.2,1735.5 811.1,1723.6 807.9,1717.2 804.8,1717.0 801.7,1723.3 798.6,1735.6 795.4,1753.2 792.3,1774.6 789.2,1798.4 786.1,1822.6 782.9,1845.1 779.8,1864.2 776.7,1878.0 773.6,1885.4 770.4,1885.5 767.3,1878.2 764.2,1863.7 761.1,1843.0 757.9,1817.8 754.8,1790.0 751.7,1761.6 748.6,1735.2 745.4,1712.9 742.3,1696.6 739.2,1688.0 736.1,1687.8 732.9,1696.4 729.8,1713.4Z"/>
<path d="M729.8,1863.5 732.9,1836.4 736.1,1806.1 739.2,1775.0 742.3,1745.5 745.4,1720.1 748.6,1700.5 751.7,1688.2 754.8,1683.9 757.9,1687.6 761.1,1698.9 764.2,1716.5 767.3,1738.9 770.4,1764.1 773.6,1790.0 776.7,1814.4 779.8,1835.4 782.9,1851.5 786.1,1861.3 789.2,1864.3 792.3,1860.5 795.4,1850.2 798.6,1834.5 801.7,1814.7 804.8,1792.6 807.9,1770.0 811.1,1748.6 814.2,1730.1 817.3,1715.9 820.4,1707.0 823.6,1703.9 826.7,1706.8 829.8,1715.1 832.9,1728.1 836.1,1744.5 839.2,1763.0 842.3,1781.9 845.5,1799.8 848.6,1815.1 851.7,1826.9 854.8,1834.0 858,1836.3 861.1,1833.4 864.2,1825.9 867.3,1814.5 870.5,1800.1 873.6,1783.9 876.7,1767.4 879.8,1751.8 883,1738.4 886.1,1728.1 889.2,1721.7 892.3,1719.5 895.5,1721.6 898.6,1727.8 901.7,1737.3 904.8,1749.4 908,1762.9 911.1,1776.8 914.2,1789.8 917.3,1801.1 920.5,1809.6 923.6,1814.9 926.7,1816.5 929.8,1814.4 933,1808.9 936.1,1800.5 939.2,1790.0 942.3,1778.3 945.5,1766.2 948.6,1754.9 951.7,1745.1 954.9,1737.6 958,1733.0 961.1,1731.4 964.2,1733.0 967.4,1737.6 970.5,1744.6 973.6,1753.4 976.7,1763.3 979.9,1773.4 983,1783.0 986.1,1791.2 989.2,1797.4 992.4,1801.3 995.5,1802.4 998.6,1800.9 1001.7,1796.9 1004.9,1790.8 1008,1783.1 1011.1,1774.5 1014.2,1765.7 1017.4,1757.5 1020.5,1750.3 1023.6,1744.9 1026.7,1741.5 1029.9,1740.5 1033,1741.7 1036.1,1745.0 1039.2,1750.1 1042.4,1756.6 1045.5,1763.9 1048.6,1771.3 1051.7,1778.3 1054.9,1784.2 1058,1788.8 1061.1,1791.6 1064.3,1792.4 1067.4,1791.3 1070.5,1788.4 1073.6,1783.9 1076.8,1778.3 1079.9,1772.0 1083,1765.6 1086.1,1759.6 1089.3,1754.4 1092.4,1750.5 1095.5,1748.0 1098.6,1747.3 1101.8,1748.2 1104.9,1750.6 1108,1754.4 1111.1,1759.1 1114.3,1764.4 1117.4,1769.8 1120.5,1774.9 1123.6,1779.3 1126.8,1782.6 1129.9,1784.7 1133,1785.3 1136.1,1784.5 1139.3,1782.3 1142.4,1779.0 1145.5,1774.9 1148.6,1770.4 1151.8,1765.7 1154.9,1761.3 1158,1757.5 1161.1,1754.6 1164.3,1752.9 1167.4,1752.3 1167.4,1804.9 1164.3,1805.4 1161.1,1807.1 1158,1810.0 1154.9,1813.7 1151.8,1818.1 1148.6,1822.7 1145.5,1827.2 1142.4,1831.3 1139.3,1834.5 1136.1,1836.6 1133,1837.4 1129.9,1836.8 1126.8,1834.7 1123.6,1831.3 1120.5,1826.9 1117.4,1821.8 1114.3,1816.3 1111.1,1810.9 1108,1806.1 1104.9,1802.3 1101.8,1799.8 1098.6,1798.8 1095.5,1799.6 1092.4,1801.9 1089.3,1805.8 1086.1,1810.9 1083,1816.9 1079.9,1823.3 1076.8,1829.4 1073.6,1835.0 1070.5,1839.4 1067.4,1842.3 1064.3,1843.3 1061.1,1842.4 1058,1839.5 1054.9,1834.9 1051.7,1828.8 1048.6,1821.7 1045.5,1814.3 1042.4,1806.9 1039.2,1800.4 1036.1,1795.1 1033,1791.7 1029.9,1790.4 1026.7,1791.4 1023.6,1794.6 1020.5,1800.0 1017.4,1807.0 1014.2,1815.2 1011.1,1823.8 1008,1832.3 1004.9,1839.9 1001.7,1845.9 998.6,1849.7 995.5,1851.1 992.4,1849.9 989.2,1845.9 986.1,1839.5 983,1831.2 979.9,1821.5 976.7,1811.2 973.6,1801.2 970.5,1792.2 967.4,1785.0 964.2,1780.3 961.1,1778.6 958,1779.9 954.9,1784.4 951.7,1791.7 948.6,1801.3 945.5,1812.5 942.3,1824.3 939.2,1835.9 936.1,1846.2 933,1854.4 929.8,1859.7 926.7,1861.5 923.6,1859.7 920.5,1854.2 917.3,1845.5 914.2,1834.0 911.1,1820.7 908,1806.6 904.8,1792.8 901.7,1780.5 898.6,1770.7 895.5,1764.3 892.3,1761.9 889.2,1763.8 886.1,1769.9 883,1779.9 879.8,1793.1 876.7,1808.4 873.6,1824.6 870.5,1840.4 867.3,1854.4 864.2,1865.6 861.1,1872.7 858,1875.2 854.8,1872.6 851.7,1865.1 848.6,1853.0 845.5,1837.2 842.3,1818.9 839.2,1799.6 836.1,1780.7 832.9,1763.8 829.8,1750.4 826.7,1741.6 823.6,1738.3 820.4,1740.9 817.3,1749.3 814.2,1763.0 811.1,1781.0 807.9,1801.9 804.8,1824.0 801.7,1845.6 798.6,1864.8 795.4,1879.9 792.3,1889.6 789.2,1892.9 786.1,1889.3 782.9,1878.8 779.8,1862.1 776.7,1840.4 773.6,1815.3 770.4,1788.8 767.3,1762.9 764.2,1739.8 761.1,1721.4 757.9,1709.3 754.8,1704.8 751.7,1708.4 748.6,1719.9 745.4,1738.6 742.3,1763.2 739.2,1791.7 736.1,1821.9 732.9,1851.4 729.8,1877.5Z"/>
<path d="M729.8,1865.5 732.9,1838.5 736.1,1808.3 739.2,1777.3 742.3,1748.0 745.4,1722.7 748.6,1703.2 751.7,1691.0 754.8,1686.8 757.9,1690.7 761.1,1702.0 764.2,1719.8 767.3,1742.3 770.4,1767.6 773.6,1793.5 776.7,1818.1 779.8,1839.2 782.9,1855.3 786.1,1865.2 789.2,1868.3 792.3,1864.6 795.4,1854.4 798.6,1838.7 801.7,1819.1 804.8,1797.0 807.9,1774.4 811.1,1753.1 814.2,1734.7 817.3,1720.6 820.4,1711.7 823.6,1708.7 826.7,1711.6 829.8,1720.0 832.9,1733.1 836.1,1749.6 839.2,1768.1 842.3,1787.1 845.5,1805.0 848.6,1820.4 851.7,1832.2 854.8,1839.4 858,1841.7 861.1,1838.9 864.2,1831.5 867.3,1820.1 870.5,1805.7 873.6,1789.6 876.7,1773.2 879.8,1757.6 883,1744.2 886.1,1733.9 889.2,1727.6 892.3,1725.4 895.5,1727.6 898.6,1733.8 901.7,1743.4 904.8,1755.5 908,1769.0 911.1,1782.9 914.2,1796.0 917.3,1807.3 920.5,1815.9 923.6,1821.1 926.7,1822.8 929.8,1820.7 933,1815.3 936.1,1806.9 939.2,1796.4 942.3,1784.7 945.5,1772.7 948.6,1761.4 951.7,1751.6 954.9,1744.2 958,1739.5 961.1,1738.0 964.2,1739.7 967.4,1744.2 970.5,1751.2 973.6,1760.1 976.7,1770.0 979.9,1780.2 983,1789.7 986.1,1798.0 989.2,1804.2 992.4,1808.1 995.5,1809.2 998.6,1807.7 1001.7,1803.7 1004.9,1797.6 1008,1790.0 1011.1,1781.4 1014.2,1772.7 1017.4,1764.4 1020.5,1757.3 1023.6,1751.9 1026.7,1748.5 1029.9,1747.4 1033,1748.7 1036.1,1752.0 1039.2,1757.2 1042.4,1763.7 1045.5,1770.9 1048.6,1778.3 1051.7,1785.3 1054.9,1791.3 1058,1795.9 1061.1,1798.7 1064.3,1799.6 1067.4,1798.4 1070.5,1795.5 1073.6,1791.1 1076.8,1785.5 1079.9,1779.2 1083,1772.8 1086.1,1766.8 1089.3,1761.6 1092.4,1757.7 1095.5,1755.2 1098.6,1754.5 1101.8,1755.4 1104.9,1757.9 1108,1761.6 1111.1,1766.4 1114.3,1771.7 1117.4,1777.1 1120.5,1782.2 1123.6,1786.6 1126.8,1789.9 1129.9,1792.0 1133,1792.6 1136.1,1791.8 1139.3,1789.6 1142.4,1786.3 1145.5,1782.3 1148.6,1777.7 1151.8,1773.0 1154.9,1768.6 1158,1764.9 1161.1,1762.0 1164.3,1760.2 1167.4,1759.7 1167.4,1797.5 1164.3,1798.1 1161.1,1799.8 1158,1802.6 1154.9,1806.4 1151.8,1810.7 1148.6,1815.4 1145.5,1819.9 1142.4,1824.0 1139.3,1827.2 1136.1,1829.3 1133,1830.1 1129.9,1829.5 1126.8,1827.4 1123.6,1824.0 1120.5,1819.6 1117.4,1814.5 1114.3,1809.0 1111.1,1803.7 1108,1798.9 1104.9,1795.1 1101.8,1792.6 1098.6,1791.6 1095.5,1792.3 1092.4,1794.7 1089.3,1798.6 1086.1,1803.8 1083,1809.7 1079.9,1816.1 1076.8,1822.3 1073.6,1827.8 1070.5,1832.2 1067.4,1835.1 1064.3,1836.2 1061.1,1835.3 1058,1832.4 1054.9,1827.8 1051.7,1821.7 1048.6,1814.7 1045.5,1807.2 1042.4,1799.9 1039.2,1793.3 1036.1,1788.1 1033,1784.7 1029.9,1783.4 1026.7,1784.4 1023.6,1787.7 1020.5,1793.0 1017.4,1800.1 1014.2,1808.2 1011.1,1816.9 1008,1825.4 1004.9,1833.0 1001.7,1839.0 998.6,1842.9 995.5,1844.3 992.4,1843.0 989.2,1839.1 986.1,1832.8 983,1824.4 979.9,1814.8 976.7,1804.5 973.6,1794.5 970.5,1785.5 967.4,1778.4 964.2,1773.7 961.1,1772.0 958,1773.3 954.9,1777.8 951.7,1785.2 948.6,1794.8 945.5,1806.0 942.3,1817.9 939.2,1829.5 936.1,1839.8 933,1848.0 929.8,1853.3 926.7,1855.2 923.6,1853.4 920.5,1848.0 917.3,1839.3 914.2,1827.8 911.1,1814.5 908,1800.5 904.8,1786.7 901.7,1774.5 898.6,1764.7 895.5,1758.3 892.3,1756.0 889.2,1757.9 886.1,1764.1 883,1774.1 879.8,1787.3 876.7,1802.6 873.6,1818.9 870.5,1834.7 867.3,1848.8 864.2,1860.0 861.1,1867.2 858,1869.7 854.8,1867.2 851.7,1859.7 848.6,1847.7 845.5,1832.0 842.3,1813.7 839.2,1794.5 836.1,1775.6 832.9,1758.8 829.8,1745.5 826.7,1736.8 823.6,1733.5 820.4,1736.2 817.3,1744.7 814.2,1758.4 811.1,1776.5 807.9,1797.4 804.8,1819.6 801.7,1841.3 798.6,1860.6 795.4,1875.8 792.3,1885.5 789.2,1888.9 786.1,1885.3 782.9,1875.0 779.8,1858.4 776.7,1836.8 773.6,1811.8 770.4,1785.3 767.3,1759.5 764.2,1736.5 761.1,1718.2 757.9,1706.3 754.8,1701.9 751.7,1705.5 748.6,1717.2 745.4,1736.0 742.3,1760.7 739.2,1789.4 736.1,1819.7 732.9,1849.3 729.8,1875.6Z"/>
<path d="M729.8,1866.9 732.9,1840.0 736.1,1809.9 739.2,1779.0 742.3,1749.8 745.4,1724.5 748.6,1705.2 751.7,1693.0 754.8,1688.9 757.9,1692.8 761.1,1704.3 764.2,1722.1 767.3,1744.7 770.4,1770.0 773.6,1796.1 776.7,1820.7 779.8,1841.8 782.9,1858.0 786.1,1868.0 789.2,1871.2 792.3,1867.5 795.4,1857.3 798.6,1841.8 801.7,1822.2 804.8,1800.2 807.9,1777.6 811.1,1756.3 814.2,1738.0 817.3,1723.9 820.4,1715.1 823.6,1712.2 826.7,1715.1 829.8,1723.6 832.9,1736.7 836.1,1753.2 839.2,1771.8 842.3,1790.8 845.5,1808.8 848.6,1824.2 851.7,1836.0 854.8,1843.3 858,1845.6 861.1,1842.9 864.2,1835.4 867.3,1824.1 870.5,1809.7 873.6,1793.7 876.7,1777.2 879.8,1761.7 883,1748.4 886.1,1738.1 889.2,1731.8 892.3,1729.7 895.5,1731.9 898.6,1738.1 901.7,1747.7 904.8,1759.8 908,1773.4 911.1,1787.3 914.2,1800.4 917.3,1811.7 920.5,1820.3 923.6,1825.6 926.7,1827.3 929.8,1825.3 933,1819.8 936.1,1811.5 939.2,1801.0 942.3,1789.3 945.5,1777.3 948.6,1766.0 951.7,1756.3 954.9,1748.8 958,1744.2 961.1,1742.7 964.2,1744.4 967.4,1749.0 970.5,1756.0 973.6,1764.9 976.7,1774.8 979.9,1785.0 983,1794.6 986.1,1802.8 989.2,1809.1 992.4,1812.9 995.5,1814.1 998.6,1812.6 1001.7,1808.6 1004.9,1802.6 1008,1794.9 1011.1,1786.4 1014.2,1777.6 1017.4,1769.4 1020.5,1762.3 1023.6,1756.8 1026.7,1753.5 1029.9,1752.4 1033,1753.7 1036.1,1757.0 1039.2,1762.2 1042.4,1768.7 1045.5,1776.0 1048.6,1783.4 1051.7,1790.4 1054.9,1796.4 1058,1801.0 1061.1,1803.8 1064.3,1804.6 1067.4,1803.5 1070.5,1800.6 1073.6,1796.2 1076.8,1790.6 1079.9,1784.3 1083,1777.9 1086.1,1771.9 1089.3,1766.8 1092.4,1762.8 1095.5,1760.4 1098.6,1759.6 1101.8,1760.6 1104.9,1763.0 1108,1766.8 1111.1,1771.6 1114.3,1776.9 1117.4,1782.3 1120.5,1787.4 1123.6,1791.8 1126.8,1795.1 1129.9,1797.2 1133,1797.8 1136.1,1797.0 1139.3,1794.8 1142.4,1791.6 1145.5,1787.5 1148.6,1782.9 1151.8,1778.3 1154.9,1773.9 1158,1770.1 1161.1,1767.2 1164.3,1765.5 1167.4,1764.9 1167.4,1792.3 1164.3,1792.8 1161.1,1794.5 1158,1797.4 1154.9,1801.1 1151.8,1805.5 1148.6,1810.1 1145.5,1814.7 1142.4,1818.8 1139.3,1822.0 1136.1,1824.1 1133,1824.9 1129.9,1824.3 1126.8,1822.2 1123.6,1818.8 1120.5,1814.4 1117.4,1809.3 1114.3,1803.8 1111.1,1798.5 1108,1793.7 1104.9,1789.9 1101.8,1787.4 1098.6,1786.5 1095.5,1787.2 1092.4,1789.6 1089.3,1793.5 1086.1,1798.6 1083,1804.6 1079.9,1811.0 1076.8,1817.2 1073.6,1822.7 1070.5,1827.1 1067.4,1830.0 1064.3,1831.1 1061.1,1830.2 1058,1827.3 1054.9,1822.7 1051.7,1816.7 1048.6,1809.6 1045.5,1802.2 1042.4,1794.8 1039.2,1788.3 1036.1,1783.1 1033,1779.7 1029.9,1778.4 1026.7,1779.4 1023.6,1782.7 1020.5,1788.1 1017.4,1795.1 1014.2,1803.3 1011.1,1812.0 1008,1820.5 1004.9,1828.1 1001.7,1834.1 998.6,1838.0 995.5,1839.5 992.4,1838.2 989.2,1834.3 986.1,1827.9 983,1819.6 979.9,1810.0 976.7,1799.7 973.6,1789.7 970.5,1780.7 967.4,1773.6 964.2,1769.0 961.1,1767.2 958,1768.6 954.9,1773.2 951.7,1780.5 948.6,1790.2 945.5,1801.4 942.3,1813.3 939.2,1824.9 936.1,1835.3 933,1843.5 929.8,1848.8 926.7,1850.7 923.6,1848.9 920.5,1843.5 917.3,1834.8 914.2,1823.4 911.1,1810.2 908,1796.1 904.8,1782.4 901.7,1770.2 898.6,1760.4 895.5,1754.1 892.3,1751.7 889.2,1753.7 886.1,1759.9 883,1770.0 879.8,1783.2 876.7,1798.5 873.6,1814.8 870.5,1830.7 867.3,1844.8 864.2,1856.0 861.1,1863.3 858,1865.8 854.8,1863.4 851.7,1855.9 848.6,1843.9 845.5,1828.2 842.3,1810.0 839.2,1790.8 836.1,1772.0 832.9,1755.3 829.8,1741.9 826.7,1733.3 823.6,1730.1 820.4,1732.8 817.3,1741.3 814.2,1755.1 811.1,1773.2 807.9,1794.2 804.8,1816.5 801.7,1838.2 798.6,1857.5 795.4,1872.8 792.3,1882.6 789.2,1886.0 786.1,1882.5 782.9,1872.2 779.8,1855.7 776.7,1834.2 773.6,1809.3 770.4,1782.9 767.3,1757.1 764.2,1734.2 761.1,1716.0 757.9,1704.1 754.8,1699.8 751.7,1703.5 748.6,1715.2 745.4,1734.2 742.3,1758.9 739.2,1787.7 736.1,1818.1 732.9,1847.8 729.8,1874.2Z"/>
<path d="M729.8,1867.9 732.9,1841.1 736.1,1811.0 739.2,1780.2 742.3,1751.0 745.4,1725.8 748.6,1706.5 751.7,1694.5 754.8,1690.4 757.9,1694.4 761.1,1705.9 764.2,1723.7 767.3,1746.4 770.4,1771.8 773.6,1797.9 776.7,1822.5 779.8,1843.7 782.9,1859.9 786.1,1870.0 789.2,1873.2 792.3,1869.5 795.4,1859.4 798.6,1843.9 801.7,1824.3 804.8,1802.4 807.9,1779.9 811.1,1758.6 814.2,1740.3 817.3,1726.3 820.4,1717.5 823.6,1714.6 826.7,1717.6 829.8,1726.0 832.9,1739.2 836.1,1755.7 839.2,1774.3 842.3,1793.4 845.5,1811.4 848.6,1826.9 851.7,1838.7 854.8,1846.0 858,1848.3 861.1,1845.6 864.2,1838.2 867.3,1826.9 870.5,1812.6 873.6,1796.5 876.7,1780.1 879.8,1764.6 883,1751.3 886.1,1741.1 889.2,1734.7 892.3,1732.6 895.5,1734.9 898.6,1741.1 901.7,1750.7 904.8,1762.8 908,1776.4 911.1,1790.4 914.2,1803.5 917.3,1814.8 920.5,1823.4 923.6,1828.8 926.7,1830.4 929.8,1828.4 933,1823.0 936.1,1814.7 939.2,1804.2 942.3,1792.5 945.5,1780.6 948.6,1769.3 951.7,1759.5 954.9,1752.1 958,1747.5 961.1,1746.0 964.2,1747.7 967.4,1752.3 970.5,1759.3 973.6,1768.2 976.7,1778.2 979.9,1788.3 983,1797.9 986.1,1806.2 989.2,1812.5 992.4,1816.3 995.5,1817.5 998.6,1816.0 1001.7,1812.1 1004.9,1806.0 1008,1798.4 1011.1,1789.8 1014.2,1781.1 1017.4,1772.8 1020.5,1765.7 1023.6,1760.3 1026.7,1757.0 1029.9,1755.9 1033,1757.2 1036.1,1760.5 1039.2,1765.7 1042.4,1772.2 1045.5,1779.5 1048.6,1786.9 1051.7,1793.9 1054.9,1799.9 1058,1804.5 1061.1,1807.3 1064.3,1808.2 1067.4,1807.1 1070.5,1804.2 1073.6,1799.7 1076.8,1794.2 1079.9,1787.9 1083,1781.5 1086.1,1775.5 1089.3,1770.4 1092.4,1766.4 1095.5,1764.0 1098.6,1763.2 1101.8,1764.2 1104.9,1766.6 1108,1770.4 1111.1,1775.2 1114.3,1780.5 1117.4,1785.9 1120.5,1791.1 1123.6,1795.4 1126.8,1798.8 1129.9,1800.8 1133,1801.4 1136.1,1800.6 1139.3,1798.5 1142.4,1795.2 1145.5,1791.2 1148.6,1786.6 1151.8,1781.9 1154.9,1777.5 1158,1773.8 1161.1,1770.9 1164.3,1769.2 1167.4,1768.6 1167.4,1788.6 1164.3,1789.1 1161.1,1790.9 1158,1793.7 1154.9,1797.5 1151.8,1801.8 1148.6,1806.5 1145.5,1811.0 1142.4,1815.1 1139.3,1818.3 1136.1,1820.5 1133,1821.3 1129.9,1820.6 1126.8,1818.6 1123.6,1815.2 1120.5,1810.8 1117.4,1805.7 1114.3,1800.2 1111.1,1794.9 1108,1790.1 1104.9,1786.3 1101.8,1783.8 1098.6,1782.9 1095.5,1783.6 1092.4,1786.0 1089.3,1789.9 1086.1,1795.0 1083,1801.0 1079.9,1807.4 1076.8,1813.6 1073.6,1819.2 1070.5,1823.6 1067.4,1826.5 1064.3,1827.5 1061.1,1826.6 1058,1823.8 1054.9,1819.2 1051.7,1813.1 1048.6,1806.1 1045.5,1798.6 1042.4,1791.3 1039.2,1784.8 1036.1,1779.6 1033,1776.2 1029.9,1774.9 1026.7,1775.9 1023.6,1779.2 1020.5,1784.6 1017.4,1791.6 1014.2,1799.8 1011.1,1808.5 1008,1817.0 1004.9,1824.6 1001.7,1830.7 998.6,1834.6 995.5,1836.0 992.4,1834.8 989.2,1830.9 986.1,1824.5 983,1816.2 979.9,1806.6 976.7,1796.4 973.6,1786.4 970.5,1777.4 967.4,1770.3 964.2,1765.7 961.1,1763.9 958,1765.4 954.9,1769.9 951.7,1777.3 948.6,1786.9 945.5,1798.1 942.3,1810.1 939.2,1821.7 936.1,1832.1 933,1840.3 929.8,1845.6 926.7,1847.6 923.6,1845.8 920.5,1840.4 917.3,1831.7 914.2,1820.3 911.1,1807.1 908,1793.1 904.8,1779.4 901.7,1767.1 898.6,1757.4 895.5,1751.1 892.3,1748.8 889.2,1750.7 886.1,1757.0 883,1767.1 879.8,1780.3 876.7,1795.7 873.6,1812.0 870.5,1827.9 867.3,1842.0 864.2,1853.3 861.1,1860.5 858,1863.1 854.8,1860.7 851.7,1853.2 848.6,1841.2 845.5,1825.6 842.3,1807.5 839.2,1788.2 836.1,1769.5 832.9,1752.7 829.8,1739.5 826.7,1730.8 823.6,1727.7 820.4,1730.4 817.3,1739.0 814.2,1752.8 811.1,1771.0 807.9,1792.0 804.8,1814.3 801.7,1836.0 798.6,1855.4 795.4,1870.7 792.3,1880.6 789.2,1884.0 786.1,1880.6 782.9,1870.3 779.8,1853.8 776.7,1832.4 773.6,1807.5 770.4,1781.1 767.3,1755.5 764.2,1732.6 761.1,1714.4 757.9,1702.6 754.8,1698.3 751.7,1702.1 748.6,1713.9 745.4,1732.9 742.3,1757.7 739.2,1786.5 736.1,1817.0 732.9,1846.7 729.8,1873.2Z"/>
<path d="M729.8,1868.6 732.9,1841.8 736.1,1811.8 739.2,1781.0 742.3,1751.9 745.4,1726.8 748.6,1707.5 751.7,1695.5 754.8,1691.4 757.9,1695.4 761.1,1707.0 764.2,1724.9 767.3,1747.6 770.4,1773.0 773.6,1799.1 776.7,1823.8 779.8,1845.0 782.9,1861.3 786.1,1871.4 789.2,1874.6 792.3,1871.0 795.4,1860.9 798.6,1845.4 801.7,1825.9 804.8,1803.9 807.9,1781.5 811.1,1760.2 814.2,1741.9 817.3,1727.9 820.4,1719.2 823.6,1716.3 826.7,1719.3 829.8,1727.8 832.9,1740.9 836.1,1757.5 839.2,1776.1 842.3,1795.2 845.5,1813.2 848.6,1828.8 851.7,1840.6 854.8,1847.9 858,1850.3 861.1,1847.6 864.2,1840.2 867.3,1828.9 870.5,1814.6 873.6,1798.6 876.7,1782.2 879.8,1766.7 883,1753.3 886.1,1743.1 889.2,1736.8 892.3,1734.8 895.5,1737.0 898.6,1743.2 901.7,1752.9 904.8,1765.0 908,1778.6 911.1,1792.6 914.2,1805.7 917.3,1817.0 920.5,1825.7 923.6,1831.0 926.7,1832.7 929.8,1830.7 933,1825.3 936.1,1817.0 939.2,1806.5 942.3,1794.8 945.5,1782.9 948.6,1771.6 951.7,1761.9 954.9,1754.5 958,1749.9 961.1,1748.4 964.2,1750.1 967.4,1754.6 970.5,1761.7 973.6,1770.6 976.7,1780.5 979.9,1790.7 983,1800.3 986.1,1808.6 989.2,1814.9 992.4,1818.8 995.5,1820.0 998.6,1818.5 1001.7,1814.5 1004.9,1808.4 1008,1800.8 1011.1,1792.3 1014.2,1783.5 1017.4,1775.3 1020.5,1768.2 1023.6,1762.8 1026.7,1759.5 1029.9,1758.4 1033,1759.7 1036.1,1763.1 1039.2,1768.2 1042.4,1774.7 1045.5,1782.0 1048.6,1789.4 1051.7,1796.5 1054.9,1802.5 1058,1807.1 1061.1,1809.9 1064.3,1810.7 1067.4,1809.7 1070.5,1806.7 1073.6,1802.3 1076.8,1796.7 1079.9,1790.5 1083,1784.1 1086.1,1778.1 1089.3,1772.9 1092.4,1769.0 1095.5,1766.6 1098.6,1765.8 1101.8,1766.8 1104.9,1769.2 1108,1773.0 1111.1,1777.8 1114.3,1783.1 1117.4,1788.5 1120.5,1793.7 1123.6,1798.0 1126.8,1801.4 1129.9,1803.4 1133,1804.0 1136.1,1803.2 1139.3,1801.1 1142.4,1797.8 1145.5,1793.8 1148.6,1789.2 1151.8,1784.5 1154.9,1780.2 1158,1776.4 1161.1,1773.5 1164.3,1771.8 1167.4,1771.3 1167.4,1786.0 1164.3,1786.5 1161.1,1788.2 1158,1791.1 1154.9,1794.8 1151.8,1799.2 1148.6,1803.9 1145.5,1808.4 1142.4,1812.5 1139.3,1815.7 1136.1,1817.9 1133,1818.6 1129.9,1818.0 1126.8,1816.0 1123.6,1812.6 1120.5,1808.2 1117.4,1803.1 1114.3,1797.6 1111.1,1792.3 1108,1787.5 1104.9,1783.7 1101.8,1781.2 1098.6,1780.3 1095.5,1781.0 1092.4,1783.4 1089.3,1787.3 1086.1,1792.5 1083,1798.4 1079.9,1804.8 1076.8,1811.0 1073.6,1816.6 1070.5,1821.0 1067.4,1823.9 1064.3,1825.0 1061.1,1824.1 1058,1821.3 1054.9,1816.7 1051.7,1810.6 1048.6,1803.6 1045.5,1796.1 1042.4,1788.8 1039.2,1782.3 1036.1,1777.1 1033,1773.7 1029.9,1772.4 1026.7,1773.4 1023.6,1776.7 1020.5,1782.1 1017.4,1789.2 1014.2,1797.4 1011.1,1806.1 1008,1814.6 1004.9,1822.2 1001.7,1828.2 998.6,1832.2 995.5,1833.6 992.4,1832.4 989.2,1828.5 986.1,1822.1 983,1813.8 979.9,1804.2 976.7,1794.0 973.6,1784.0 970.5,1775.0 967.4,1767.9 964.2,1763.3 961.1,1761.6 958,1763.0 954.9,1767.6 951.7,1774.9 948.6,1784.6 945.5,1795.8 942.3,1807.7 939.2,1819.4 936.1,1829.8 933,1838.0 929.8,1843.4 926.7,1845.3 923.6,1843.6 920.5,1838.2 917.3,1829.5 914.2,1818.1 911.1,1804.9 908,1790.9 904.8,1777.2 901.7,1765.0 898.6,1755.3 895.5,1749.0 892.3,1746.6 889.2,1748.6 886.1,1754.9 883,1765.0 879.8,1778.2 876.7,1793.6 873.6,1809.9 870.5,1825.9 867.3,1840.0 864.2,1851.3 861.1,1858.6 858,1861.2 854.8,1858.7 851.7,1851.3 848.6,1839.3 845.5,1823.7 842.3,1805.6 839.2,1786.4 836.1,1767.7 832.9,1751.0 829.8,1737.7 826.7,1729.1 823.6,1725.9 820.4,1728.7 817.3,1737.3 814.2,1751.2 811.1,1769.3 807.9,1790.4 804.8,1812.7 801.7,1834.5 798.6,1853.9 795.4,1869.2 792.3,1879.1 789.2,1882.6 786.1,1879.2 782.9,1868.9 779.8,1852.5 776.7,1831.1 773.6,1806.2 770.4,1779.9 767.3,1754.3 764.2,1731.4 761.1,1713.3 757.9,1701.5 754.8,1697.3 751.7,1701.1 748.6,1712.9 745.4,1731.9 742.3,1756.8 739.2,1785.7 736.1,1816.2 732.9,1846.0 729.8,1872.5Z"/>
<path d="M729.8,1869.1 732.9,1842.4 736.1,1812.4 739.2,1781.7 742.3,1752.6 745.4,1727.5 748.6,1708.3 751.7,1696.3 754.8,1692.2 757.9,1696.3 761.1,1707.9 764.2,1725.8 767.3,1748.5 770.4,1774.0 773.6,1800.1 776.7,1824.8 779.8,1846.1 782.9,1862.4 786.1,1872.5 789.2,1875.8 792.3,1872.1 795.4,1862.1 798.6,1846.6 801.7,1827.1 804.8,1805.2 807.9,1782.7 811.1,1761.5 814.2,1743.3 817.3,1729.3 820.4,1720.6 823.6,1717.7 826.7,1720.7 829.8,1729.2 832.9,1742.4 836.1,1759.0 839.2,1777.6 842.3,1796.7 845.5,1814.7 848.6,1830.3 851.7,1842.1 854.8,1849.5 858,1851.8 861.1,1849.1 864.2,1841.8 867.3,1830.5 870.5,1816.2 873.6,1800.2 876.7,1783.8 879.8,1768.3 883,1755.0 886.1,1744.8 889.2,1738.5 892.3,1736.5 895.5,1738.7 898.6,1745.0 901.7,1754.6 904.8,1766.8 908,1780.4 911.1,1794.3 914.2,1807.5 917.3,1818.8 920.5,1827.5 923.6,1832.8 926.7,1834.5 929.8,1832.5 933,1827.1 936.1,1818.8 939.2,1808.4 942.3,1796.7 945.5,1784.7 948.6,1773.4 951.7,1763.7 954.9,1756.3 958,1751.7 961.1,1750.3 964.2,1752.0 967.4,1756.5 970.5,1763.6 973.6,1772.5 976.7,1782.5 979.9,1792.7 983,1802.3 986.1,1810.5 989.2,1816.8 992.4,1820.7 995.5,1821.9 998.6,1820.4 1001.7,1816.5 1004.9,1810.4 1008,1802.8 1011.1,1794.2 1014.2,1785.5 1017.4,1777.3 1020.5,1770.2 1023.6,1764.8 1026.7,1761.5 1029.9,1760.4 1033,1761.7 1036.1,1765.1 1039.2,1770.2 1042.4,1776.7 1045.5,1784.0 1048.6,1791.5 1051.7,1798.5 1054.9,1804.5 1058,1809.1 1061.1,1811.9 1064.3,1812.8 1067.4,1811.7 1070.5,1808.8 1073.6,1804.3 1076.8,1798.8 1079.9,1792.5 1083,1786.1 1086.1,1780.1 1089.3,1775.0 1092.4,1771.1 1095.5,1768.6 1098.6,1767.9 1101.8,1768.8 1104.9,1771.3 1108,1775.1 1111.1,1779.8 1114.3,1785.2 1117.4,1790.6 1120.5,1795.7 1123.6,1800.1 1126.8,1803.5 1129.9,1805.5 1133,1806.1 1136.1,1805.3 1139.3,1803.2 1142.4,1799.9 1145.5,1795.9 1148.6,1791.3 1151.8,1786.6 1154.9,1782.3 1158,1778.5 1161.1,1775.6 1164.3,1773.9 1167.4,1773.4 1167.4,1783.9 1164.3,1784.4 1161.1,1786.1 1158,1789.0 1154.9,1792.8 1151.8,1797.1 1148.6,1801.8 1145.5,1806.3 1142.4,1810.4 1139.3,1813.6 1136.1,1815.8 1133,1816.6 1129.9,1815.9 1126.8,1813.9 1123.6,1810.5 1120.5,1806.1 1117.4,1801.0 1114.3,1795.5 1111.1,1790.2 1108,1785.4 1104.9,1781.6 1101.8,1779.1 1098.6,1778.2 1095.5,1778.9 1092.4,1781.3 1089.3,1785.3 1086.1,1790.4 1083,1796.4 1079.9,1802.8 1076.8,1809.0 1073.6,1814.6 1070.5,1819.0 1067.4,1821.9 1064.3,1823.0 1061.1,1822.1 1058,1819.2 1054.9,1814.6 1051.7,1808.6 1048.6,1801.6 1045.5,1794.1 1042.4,1786.8 1039.2,1780.3 1036.1,1775.1 1033,1771.7 1029.9,1770.4 1026.7,1771.4 1023.6,1774.8 1020.5,1780.1 1017.4,1787.2 1014.2,1795.4 1011.1,1804.1 1008,1812.6 1004.9,1820.2 1001.7,1826.3 998.6,1830.2 995.5,1831.7 992.4,1830.4 989.2,1826.5 986.1,1820.2 983,1811.9 979.9,1802.3 976.7,1792.0 973.6,1782.1 970.5,1773.1 967.4,1766.0 964.2,1761.4 961.1,1759.7 958,1761.1 954.9,1765.7 951.7,1773.1 948.6,1782.7 945.5,1794.0 942.3,1805.9 939.2,1817.6 936.1,1827.9 933,1836.2 929.8,1841.6 926.7,1843.5 923.6,1841.8 920.5,1836.4 917.3,1827.7 914.2,1816.3 911.1,1803.1 908,1789.1 904.8,1775.4 901.7,1763.2 898.6,1753.6 895.5,1747.2 892.3,1744.9 889.2,1746.9 886.1,1753.2 883,1763.3 879.8,1776.6 876.7,1792.0 873.6,1808.3 870.5,1824.2 867.3,1838.4 864.2,1849.7 861.1,1857.0 858,1859.6 854.8,1857.2 851.7,1849.8 848.6,1837.8 845.5,1822.2 842.3,1804.1 839.2,1784.9 836.1,1766.2 832.9,1749.5 829.8,1736.3 826.7,1727.7 823.6,1724.6 820.4,1727.3 817.3,1736.0 814.2,1749.9 811.1,1768.0 807.9,1789.1 804.8,1811.5 801.7,1833.3 798.6,1852.7 795.4,1868.0 792.3,1878.0 789.2,1881.5 786.1,1878.1 782.9,1867.9 779.8,1851.4 776.7,1830.0 773.6,1805.2 770.4,1778.9 767.3,1753.3 764.2,1730.5 761.1,1712.4 757.9,1700.6 754.8,1696.4 751.7,1700.3 748.6,1712.1 745.4,1731.2 742.3,1756.1 739.2,1785.0 736.1,1815.6 732.9,1845.4 729.8,1871.9Z"/>
<path d="M729.8,1869.6 732.9,1842.9 736.1,1813.0 739.2,1782.3 742.3,1753.2 745.4,1728.1 748.6,1708.9 751.7,1697.0 754.8,1693.0 757.9,1697.1 761.1,1708.7 764.2,1726.6 767.3,1749.3 770.4,1774.9 773.6,1801.0 776.7,1825.7 779.8,1847.0 782.9,1863.3 786.1,1873.5 789.2,1876.8 792.3,1873.2 795.4,1863.1 798.6,1847.7 801.7,1828.2 804.8,1806.3 807.9,1783.9 811.1,1762.7 814.2,1744.4 817.3,1730.4 820.4,1721.7 823.6,1718.9 826.7,1721.9 829.8,1730.5 832.9,1743.6 836.1,1760.2 839.2,1778.9 842.3,1798.0 845.5,1816.1 848.6,1831.6 851.7,1843.5 854.8,1850.8 858,1853.2 861.1,1850.5 864.2,1843.2 867.3,1831.9 870.5,1817.6 873.6,1801.6 876.7,1785.2 879.8,1769.8 883,1756.5 886.1,1746.3 889.2,1740.0 892.3,1737.9 895.5,1740.2 898.6,1746.5 901.7,1756.1 904.8,1768.3 908,1781.9 911.1,1795.9 914.2,1809.0 917.3,1820.4 920.5,1829.0 923.6,1834.4 926.7,1836.1 929.8,1834.1 933,1828.7 936.1,1820.4 939.2,1810.0 942.3,1798.3 945.5,1786.3 948.6,1775.1 951.7,1765.4 954.9,1758.0 958,1753.4 961.1,1751.9 964.2,1753.6 967.4,1758.2 970.5,1765.3 973.6,1774.2 976.7,1784.1 979.9,1794.3 983,1804.0 986.1,1812.2 989.2,1818.5 992.4,1822.4 995.5,1823.6 998.6,1822.2 1001.7,1818.2 1004.9,1812.1 1008,1804.5 1011.1,1796.0 1014.2,1787.2 1017.4,1779.0 1020.5,1771.9 1023.6,1766.5 1026.7,1763.2 1029.9,1762.2 1033,1763.4 1036.1,1766.8 1039.2,1772.0 1042.4,1778.5 1045.5,1785.8 1048.6,1793.2 1051.7,1800.2 1054.9,1806.3 1058,1810.9 1061.1,1813.7 1064.3,1814.6 1067.4,1813.5 1070.5,1810.6 1073.6,1806.1 1076.8,1800.5 1079.9,1794.3 1083,1787.9 1086.1,1781.9 1089.3,1776.8 1092.4,1772.9 1095.5,1770.4 1098.6,1769.7 1101.8,1770.6 1104.9,1773.1 1108,1776.9 1111.1,1781.7 1114.3,1787.0 1117.4,1792.4 1120.5,1797.5 1123.6,1801.9 1126.8,1805.3 1129.9,1807.3 1133,1808.0 1136.1,1807.2 1139.3,1805.0 1142.4,1801.8 1145.5,1797.7 1148.6,1793.1 1151.8,1788.5 1154.9,1784.1 1158,1780.3 1161.1,1777.5 1164.3,1775.7 1167.4,1775.2 1167.4,1782.0 1164.3,1782.6 1161.1,1784.3 1158,1787.2 1154.9,1790.9 1151.8,1795.3 1148.6,1799.9 1145.5,1804.5 1142.4,1808.6 1139.3,1811.8 1136.1,1813.9 1133,1814.7 1129.9,1814.1 1126.8,1812.1 1123.6,1808.7 1120.5,1804.3 1117.4,1799.2 1114.3,1793.7 1111.1,1788.4 1108,1783.6 1104.9,1779.8 1101.8,1777.3 1098.6,1776.4 1095.5,1777.1 1092.4,1779.5 1089.3,1783.5 1086.1,1788.6 1083,1794.6 1079.9,1801.0 1076.8,1807.2 1073.6,1812.8 1070.5,1817.2 1067.4,1820.1 1064.3,1821.2 1061.1,1820.3 1058,1817.5 1054.9,1812.9 1051.7,1806.8 1048.6,1799.8 1045.5,1792.3 1042.4,1785.0 1039.2,1778.5 1036.1,1773.3 1033,1769.9 1029.9,1768.7 1026.7,1769.7 1023.6,1773.0 1020.5,1778.4 1017.4,1785.4 1014.2,1793.7 1011.1,1802.4 1008,1810.9 1004.9,1818.5 1001.7,1824.6 998.6,1828.5 995.5,1830.0 992.4,1828.7 989.2,1824.8 986.1,1818.5 983,1810.2 979.9,1800.6 976.7,1790.4 973.6,1780.4 970.5,1771.5 967.4,1764.4 964.2,1759.8 961.1,1758.1 958,1759.5 954.9,1764.0 951.7,1771.4 948.6,1781.1 945.5,1792.4 942.3,1804.3 939.2,1815.9 936.1,1826.4 933,1834.6 929.8,1840.0 926.7,1841.9 923.6,1840.2 920.5,1834.8 917.3,1826.2 914.2,1814.8 911.1,1801.6 908,1787.6 904.8,1773.9 901.7,1761.7 898.6,1752.0 895.5,1745.8 892.3,1743.5 889.2,1745.5 886.1,1751.7 883,1761.9 879.8,1775.1 876.7,1790.5 873.6,1806.9 870.5,1822.8 867.3,1837.0 864.2,1848.3 861.1,1855.6 858,1858.3 854.8,1855.8 851.7,1848.4 848.6,1836.5 845.5,1820.9 842.3,1802.8 839.2,1783.7 836.1,1765.0 832.9,1748.3 829.8,1735.1 826.7,1726.5 823.6,1723.4 820.4,1726.2 817.3,1734.8 814.2,1748.7 811.1,1766.9 807.9,1788.0 804.8,1810.4 801.7,1832.2 798.6,1851.6 795.4,1867.0 792.3,1876.9 789.2,1880.5 786.1,1877.1 782.9,1866.9 779.8,1850.5 776.7,1829.1 773.6,1804.3 770.4,1778.1 767.3,1752.5 764.2,1729.7 761.1,1711.6 757.9,1699.9 754.8,1695.7 751.7,1699.6 748.6,1711.5 745.4,1730.6 742.3,1755.5 739.2,1784.4 736.1,1815.0 732.9,1844.9 729.8,1871.4Z"/>
<path d="M729.8,1870.0 732.9,1843.4 736.1,1813.5 739.2,1782.8 742.3,1753.7 745.4,1728.7 748.6,1709.5 751.7,1697.6 754.8,1693.6 757.9,1697.7 761.1,1709.3 764.2,1727.3 767.3,1750.1 770.4,1775.6 773.6,1801.8 776.7,1826.5 779.8,1847.8 782.9,1864.2 786.1,1874.3 789.2,1877.6 792.3,1874.0 795.4,1864.0 798.6,1848.6 801.7,1829.1 804.8,1807.2 807.9,1784.8 811.1,1763.7 814.2,1745.4 817.3,1731.4 820.4,1722.8 823.6,1719.9 826.7,1723.0 829.8,1731.5 832.9,1744.7 836.1,1761.3 839.2,1780.0 842.3,1799.1 845.5,1817.2 848.6,1832.7 851.7,1844.6 854.8,1852.0 858,1854.4 861.1,1851.7 864.2,1844.4 867.3,1833.1 870.5,1818.8 873.6,1802.8 876.7,1786.5 879.8,1771.0 883,1757.7 886.1,1747.5 889.2,1741.2 892.3,1739.2 895.5,1741.5 898.6,1747.8 901.7,1757.4 904.8,1769.6 908,1783.2 911.1,1797.2 914.2,1810.4 917.3,1821.7 920.5,1830.4 923.6,1835.7 926.7,1837.4 929.8,1835.4 933,1830.1 936.1,1821.8 939.2,1811.4 942.3,1799.7 945.5,1787.7 948.6,1776.5 951.7,1766.8 954.9,1759.4 958,1754.8 961.1,1753.3 964.2,1755.0 967.4,1759.6 970.5,1766.7 973.6,1775.6 976.7,1785.6 979.9,1795.8 983,1805.4 986.1,1813.7 989.2,1820.0 992.4,1823.9 995.5,1825.1 998.6,1823.6 1001.7,1819.7 1004.9,1813.6 1008,1806.0 1011.1,1797.4 1014.2,1788.7 1017.4,1780.5 1020.5,1773.4 1023.6,1768.0 1026.7,1764.7 1029.9,1763.7 1033,1764.9 1036.1,1768.3 1039.2,1773.5 1042.4,1780.0 1045.5,1787.3 1048.6,1794.7 1051.7,1801.8 1054.9,1807.8 1058,1812.4 1061.1,1815.2 1064.3,1816.1 1067.4,1815.0 1070.5,1812.1 1073.6,1807.7 1076.8,1802.1 1079.9,1795.8 1083,1789.5 1086.1,1783.5 1089.3,1778.3 1092.4,1774.4 1095.5,1772.0 1098.6,1771.2 1101.8,1772.2 1104.9,1774.7 1108,1778.5 1111.1,1783.2 1114.3,1788.5 1117.4,1794.0 1120.5,1799.1 1123.6,1803.5 1126.8,1806.8 1129.9,1808.9 1133,1809.5 1136.1,1808.7 1139.3,1806.6 1142.4,1803.3 1145.5,1799.3 1148.6,1794.7 1151.8,1790.0 1154.9,1785.7 1158,1781.9 1161.1,1779.1 1164.3,1777.3 1167.4,1776.8 1167.4,1780.5 1164.3,1781.0 1161.1,1782.7 1158,1785.6 1154.9,1789.3 1151.8,1793.7 1148.6,1798.4 1145.5,1802.9 1142.4,1807.0 1139.3,1810.2 1136.1,1812.4 1133,1813.2 1129.9,1812.5 1126.8,1810.5 1123.6,1807.1 1120.5,1802.7 1117.4,1797.6 1114.3,1792.2 1111.1,1786.8 1108,1782.1 1104.9,1778.3 1101.8,1775.8 1098.6,1774.9 1095.5,1775.6 1092.4,1778.0 1089.3,1781.9 1086.1,1787.1 1083,1793.1 1079.9,1799.4 1076.8,1805.7 1073.6,1811.2 1070.5,1815.7 1067.4,1818.6 1064.3,1819.6 1061.1,1818.8 1058,1815.9 1054.9,1811.3 1051.7,1805.3 1048.6,1798.3 1045.5,1790.8 1042.4,1783.5 1039.2,1777.0 1036.1,1771.8 1033,1768.4 1029.9,1767.2 1026.7,1768.2 1023.6,1771.5 1020.5,1776.9 1017.4,1784.0 1014.2,1792.2 1011.1,1800.9 1008,1809.4 1004.9,1817.0 1001.7,1823.1 998.6,1827.0 995.5,1828.5 992.4,1827.3 989.2,1823.4 986.1,1817.1 983,1808.8 979.9,1799.1 976.7,1788.9 973.6,1779.0 970.5,1770.0 967.4,1763.0 964.2,1758.3 961.1,1756.6 958,1758.1 954.9,1762.6 951.7,1770.0 948.6,1779.7 945.5,1791.0 942.3,1802.9 939.2,1814.6 936.1,1825.0 933,1833.2 929.8,1838.6 926.7,1840.6 923.6,1838.9 920.5,1833.5 917.3,1824.8 914.2,1813.5 911.1,1800.3 908,1786.3 904.8,1772.6 901.7,1760.4 898.6,1750.8 895.5,1744.5 892.3,1742.2 889.2,1744.2 886.1,1750.5 883,1760.6 879.8,1773.9 876.7,1789.3 873.6,1805.7 870.5,1821.6 867.3,1835.8 864.2,1847.1 861.1,1854.4 858,1857.1 854.8,1854.7 851.7,1847.3 848.6,1835.4 845.5,1819.8 842.3,1801.7 839.2,1782.6 836.1,1763.9 832.9,1747.2 829.8,1734.0 826.7,1725.4 823.6,1722.3 820.4,1725.1 817.3,1733.8 814.2,1747.7 811.1,1765.9 807.9,1787.1 804.8,1809.4 801.7,1831.3 798.6,1850.7 795.4,1866.1 792.3,1876.1 789.2,1879.6 786.1,1876.3 782.9,1866.1 779.8,1849.7 776.7,1828.3 773.6,1803.6 770.4,1777.3 767.3,1751.7 764.2,1729.0 761.1,1710.9 757.9,1699.2 754.8,1695.1 751.7,1699.0 748.6,1710.9 745.4,1730.0 742.3,1755.0 739.2,1783.9 736.1,1814.6 732.9,1844.4 729.8,1871.0Z"/>
</g>
<path d="M729.8,1712.9 731.2,1704.5 732.5,1697.6 733.9,1692.3 735.3,1688.6 736.6,1686.6 738,1686.3 739.4,1687.7 740.7,1690.7 742.1,1695.2 743.5,1701.3 744.8,1708.7 746.2,1717.3 747.6,1727.0 748.9,1737.6 750.3,1749.0 751.7,1760.9 753,1773.2 754.4,1785.7 755.8,1798.1 757.1,1810.3 758.5,1822.1 759.9,1833.3 761.3,1843.7 762.6,1853.2 764,1861.7 765.4,1869.1 766.7,1875.1 768.1,1879.9 769.5,1883.2 770.8,1885.1 772.2,1885.5 773.6,1884.5 774.9,1882.2 776.3,1878.4 777.7,1873.4 779,1867.3 780.4,1860.0 781.8,1851.8 783.1,1842.9 784.5,1833.2 785.9,1823.1 787.2,1812.6 788.6,1802.0 790,1791.4 791.3,1780.9 792.7,1770.8 794.1,1761.1 795.4,1752.1 796.8,1743.9 798.2,1736.5 799.5,1730.1 800.9,1724.7 802.3,1720.5 803.6,1717.5 805,1715.8 806.4,1715.2 807.7,1715.9 809.1,1717.8 810.5,1720.8 811.8,1724.9 813.2,1730.1 814.6,1736.1 816,1743.0 817.3,1750.6 818.7,1758.8 820.1,1767.4 821.4,1776.3 822.8,1785.4 824.2,1794.5 825.5,1803.5 826.9,1812.2 828.3,1820.5 829.6,1828.3 831,1835.4 832.4,1841.8 833.7,1847.4 835.1,1852.1 836.5,1855.8 837.8,1858.5 839.2,1860.2 840.6,1860.8 841.9,1860.3 843.3,1858.9 844.7,1856.4 846,1853.0 847.4,1848.7 848.8,1843.6 850.1,1837.8 851.5,1831.4 852.9,1824.5 854.2,1817.2 855.6,1809.6 857,1801.8 858.3,1794.0 859.7,1786.4 861.1,1778.9 862.4,1771.7 863.8,1765.0 865.2,1758.8 866.5,1753.3 867.9,1748.4 869.3,1744.3 870.7,1741.0 872,1738.6 873.4,1737.0 874.8,1736.4 876.1,1736.6 877.5,1737.8 878.9,1739.8 880.2,1742.6 881.6,1746.2 883,1750.4 884.3,1755.3 885.7,1760.7 887.1,1766.6 888.4,1772.8 889.8,1779.3 891.2,1785.9 892.5,1792.5 893.9,1799.1 895.3,1805.5 896.6,1811.7 898,1817.5 899.4,1822.8 900.7,1827.7 902.1,1831.9 903.5,1835.5 904.8,1838.4 906.2,1840.6 907.6,1842.0 908.9,1842.7 910.3,1842.5 911.7,1841.7 913,1840.0 914.4,1837.7 915.8,1834.8 917.1,1831.2 918.5,1827.1 919.9,1822.5 921.2,1817.5 922.6,1812.3 924,1806.8 925.4,1801.1 926.7,1795.5 928.1,1789.8 929.5,1784.3 930.8,1779.0 932.2,1774.0 933.6,1769.4 934.9,1765.2 936.3,1761.5 937.7,1758.3 939,1755.8 940.4,1753.8 941.8,1752.5 943.1,1751.9 944.5,1751.9 945.9,1752.6 947.2,1753.9 948.6,1755.8 950,1758.2 951.3,1761.2 952.7,1764.7 954.1,1768.5 955.4,1772.7 956.8,1777.2 958.2,1781.9 959.5,1786.7 960.9,1791.6 962.3,1796.4 963.6,1801.1 965,1805.7 966.4,1810.0 967.7,1814.0 969.1,1817.6 970.5,1820.8 971.8,1823.6 973.2,1825.8 974.6,1827.6 975.9,1828.8 977.3,1829.4 978.7,1829.4 980.1,1829.0 981.4,1827.9 982.8,1826.4 984.2,1824.3 985.5,1821.8 986.9,1818.9 988.3,1815.7 989.6,1812.1 991,1808.3 992.4,1804.3 993.7,1800.2 995.1,1796.1 996.5,1792.0 997.8,1787.9 999.2,1784.0 1000.6,1780.3 1001.9,1776.8 1003.3,1773.7 1004.7,1770.9 1006,1768.4 1007.4,1766.5 1008.8,1764.9 1010.1,1763.8 1011.5,1763.2 1012.9,1763.1 1014.2,1763.5 1015.6,1764.3 1017,1765.6 1018.3,1767.3 1019.7,1769.4 1021.1,1771.8 1022.4,1774.5 1023.8,1777.6 1025.2,1780.8 1026.5,1784.2 1027.9,1787.7 1029.3,1791.2 1030.6,1794.7 1032,1798.2 1033.4,1801.6 1034.8,1804.8 1036.1,1807.8 1037.5,1810.5 1038.9,1812.9 1040.2,1815.0 1041.6,1816.8 1043,1818.1 1044.3,1819.1 1045.7,1819.7 1047.1,1819.8 1048.4,1819.6 1049.8,1818.9 1051.2,1817.9 1052.5,1816.5 1053.9,1814.8 1055.3,1812.7 1056.6,1810.4 1058,1807.9 1059.4,1805.1 1060.7,1802.2 1062.1,1799.3 1063.5,1796.2 1064.8,1793.2 1066.2,1790.2 1067.6,1787.4 1068.9,1784.6 1070.3,1782.0 1071.7,1779.7 1073,1777.5 1074.4,1775.7 1075.8,1774.2 1077.1,1772.9 1078.5,1772.1 1079.9,1771.5 1081.2,1771.4 1082.6,1771.5 1084,1772.0 1085.3,1772.9 1086.7,1774.0 1088.1,1775.5 1089.5,1777.2 1090.8,1779.2 1092.2,1781.3 1093.6,1783.6 1094.9,1786.1 1096.3,1788.6 1097.7,1791.2 1099,1793.8 1100.4,1796.3 1101.8,1798.8 1103.1,1801.2 1104.5,1803.4 1105.9,1805.4 1107.2,1807.3 1108.6,1808.9 1110,1810.2 1111.3,1811.3 1112.7,1812.1 1114.1,1812.6 1115.4,1812.8 1116.8,1812.7 1118.2,1812.3 1119.5,1811.6 1120.9,1810.6 1122.3,1809.4 1123.6,1808.0 1125,1806.4 1126.4,1804.5 1127.7,1802.6 1129.1,1800.5 1130.5,1798.3 1131.8,1796.1 1133.2,1793.9 1134.6,1791.7 1135.9,1789.6 1137.3,1787.6 1138.7,1785.7 1140,1783.9 1141.4,1782.3 1142.8,1780.9 1144.2,1779.7 1145.5,1778.8 1146.9,1778.0 1148.3,1777.6 1149.6,1777.4 1151,1777.4 1152.4,1777.8 1153.7,1778.3 1155.1,1779.1 1156.5,1780.1 1157.8,1781.3 1159.2,1782.7 1160.6,1784.2 1161.9,1785.9 1163.3,1787.6 1164.7,1789.5 1166,1791.4 1167.4,1793.2" fill="none" stroke="#1b1f22" stroke-width="2.1" stroke-linejoin="round"/>
<path d="M729.8,1870.5 731.2,1859.4 732.5,1847.5 733.9,1834.8 735.3,1821.7 736.6,1808.2 738,1794.8 739.4,1781.5 740.7,1768.5 742.1,1756.1 743.5,1744.4 744.8,1733.6 746.2,1723.9 747.6,1715.5 748.9,1708.3 750.3,1702.5 751.7,1698.3 753,1695.6 754.4,1694.4 755.8,1694.8 757.1,1696.7 758.5,1700.1 759.9,1704.9 761.3,1711.1 762.6,1718.4 764,1726.9 765.4,1736.2 766.7,1746.4 768.1,1757.1 769.5,1768.3 770.8,1779.7 772.2,1791.3 773.6,1802.7 774.9,1813.8 776.3,1824.5 777.7,1834.5 779,1843.9 780.4,1852.3 781.8,1859.7 783.1,1865.9 784.5,1871.0 785.9,1874.8 787.2,1877.3 788.6,1878.5 790,1878.4 791.3,1876.9 792.7,1874.1 794.1,1870.2 795.4,1865.1 796.8,1858.9 798.2,1851.8 799.5,1843.9 800.9,1835.3 802.3,1826.2 803.6,1816.7 805,1806.9 806.4,1797.1 807.7,1787.3 809.1,1777.8 810.5,1768.6 811.8,1759.9 813.2,1751.8 814.6,1744.6 816,1738.1 817.3,1732.6 818.7,1728.1 820.1,1724.7 821.4,1722.4 822.8,1721.3 824.2,1721.3 825.5,1722.4 826.9,1724.6 828.3,1727.8 829.6,1732.1 831,1737.2 832.4,1743.2 833.7,1749.8 835.1,1757.1 836.5,1764.9 837.8,1773.0 839.2,1781.3 840.6,1789.7 841.9,1798.1 843.3,1806.2 844.7,1814.1 846,1821.6 847.4,1828.6 848.8,1834.9 850.1,1840.5 851.5,1845.3 852.9,1849.3 854.2,1852.3 855.6,1854.4 857,1855.5 858.3,1855.7 859.7,1854.8 861.1,1853.1 862.4,1850.4 863.8,1846.9 865.2,1842.6 866.5,1837.6 867.9,1832.0 869.3,1825.8 870.7,1819.2 872,1812.4 873.4,1805.3 874.8,1798.1 876.1,1790.9 877.5,1783.9 878.9,1777.1 880.2,1770.7 881.6,1764.6 883,1759.2 884.3,1754.3 885.7,1750.1 887.1,1746.6 888.4,1743.9 889.8,1742.0 891.2,1740.9 892.5,1740.7 893.9,1741.3 895.3,1742.7 896.6,1744.9 898,1747.8 899.4,1751.4 900.7,1755.6 902.1,1760.3 903.5,1765.5 904.8,1771.1 906.2,1777.0 907.6,1783.0 908.9,1789.1 910.3,1795.3 911.7,1801.3 913,1807.1 914.4,1812.7 915.8,1817.9 917.1,1822.6 918.5,1826.9 919.9,1830.5 921.2,1833.6 922.6,1836.0 924,1837.7 925.4,1838.7 926.7,1839.0 928.1,1838.6 929.5,1837.5 930.8,1835.7 932.2,1833.3 933.6,1830.3 934.9,1826.8 936.3,1822.8 937.7,1818.4 939,1813.7 940.4,1808.7 941.8,1803.5 943.1,1798.3 944.5,1793.1 945.9,1787.9 947.2,1782.9 948.6,1778.1 950,1773.6 951.3,1769.5 952.7,1765.8 954.1,1762.6 955.4,1759.9 956.8,1757.8 958.2,1756.3 959.5,1755.3 960.9,1755.0 962.3,1755.3 963.6,1756.1 965,1757.6 966.4,1759.6 967.7,1762.1 969.1,1765.0 970.5,1768.4 971.8,1772.1 973.2,1776.1 974.6,1780.3 975.9,1784.7 977.3,1789.2 978.7,1793.7 980.1,1798.1 981.4,1802.4 982.8,1806.5 984.2,1810.4 985.5,1813.9 986.9,1817.1 988.3,1819.9 989.6,1822.3 991,1824.2 992.4,1825.6 993.7,1826.4 995.1,1826.8 996.5,1826.6 997.8,1825.9 999.2,1824.8 1000.6,1823.1 1001.9,1821.1 1003.3,1818.6 1004.7,1815.7 1006,1812.6 1007.4,1809.2 1008.8,1805.6 1010.1,1801.9 1011.5,1798.1 1012.9,1794.2 1014.2,1790.4 1015.6,1786.7 1017,1783.2 1018.3,1779.9 1019.7,1776.8 1021.1,1774.0 1022.4,1771.6 1023.8,1769.5 1025.2,1767.8 1026.5,1766.6 1027.9,1765.8 1029.3,1765.4 1030.6,1765.5 1032,1766.0 1033.4,1767.0 1034.8,1768.3 1036.1,1770.1 1037.5,1772.1 1038.9,1774.5 1040.2,1777.2 1041.6,1780.0 1043,1783.1 1044.3,1786.3 1045.7,1789.5 1047.1,1792.8 1048.4,1796.1 1049.8,1799.2 1051.2,1802.3 1052.5,1805.2 1053.9,1807.8 1055.3,1810.2 1056.6,1812.4 1058,1814.2 1059.4,1815.6 1060.7,1816.7 1062.1,1817.5 1063.5,1817.8 1064.8,1817.8 1066.2,1817.4 1067.6,1816.7 1068.9,1815.5 1070.3,1814.1 1071.7,1812.4 1073,1810.4 1074.4,1808.1 1075.8,1805.7 1077.1,1803.1 1078.5,1800.4 1079.9,1797.6 1081.2,1794.8 1082.6,1792.1 1084,1789.3 1085.3,1786.7 1086.7,1784.2 1088.1,1781.9 1089.5,1779.8 1090.8,1778.0 1092.2,1776.4 1093.6,1775.1 1094.9,1774.1 1096.3,1773.4 1097.7,1773.1 1099,1773.1 1100.4,1773.4 1101.8,1774.0 1103.1,1774.9 1104.5,1776.1 1105.9,1777.5 1107.2,1779.2 1108.6,1781.1 1110,1783.2 1111.3,1785.4 1112.7,1787.7 1114.1,1790.0 1115.4,1792.4 1116.8,1794.8 1118.2,1797.1 1119.5,1799.4 1120.9,1801.5 1122.3,1803.5 1123.6,1805.3 1125,1806.9 1126.4,1808.3 1127.7,1809.5 1129.1,1810.3 1130.5,1810.9 1131.8,1811.3 1133.2,1811.3 1134.6,1811.1 1135.9,1810.6 1137.3,1809.9 1138.7,1808.9 1140,1807.7 1141.4,1806.3 1142.8,1804.7 1144.2,1803.0 1145.5,1801.1 1146.9,1799.1 1148.3,1797.1 1149.6,1795.1 1151,1793.0 1152.4,1791.0 1153.7,1789.1 1155.1,1787.3 1156.5,1785.5 1157.8,1784.0 1159.2,1782.6 1160.6,1781.4 1161.9,1780.4 1163.3,1779.6 1164.7,1779.0 1166,1778.7 1167.4,1778.6" fill="none" stroke="#1b1f22" stroke-width="2.1" stroke-linejoin="round"/>
<line x1="708.00" y1="1909.70" x2="1188.20" y2="1909.70" stroke="#000" stroke-width="2.1" />
<line x1="729.80" y1="1909.70" x2="729.80" y2="1934.30" stroke="#000" stroke-width="2.1" />
<text x="732.10" y="1963.10" font-size="29" text-anchor="middle" font-weight="normal" font-style="normal" >0</text>
<line x1="839.20" y1="1909.70" x2="839.20" y2="1934.30" stroke="#000" stroke-width="2.1" />
<text x="841.50" y="1963.10" font-size="29" text-anchor="middle" font-weight="normal" font-style="normal" >5</text>
<line x1="948.60" y1="1909.70" x2="948.60" y2="1934.30" stroke="#000" stroke-width="2.1" />
<text x="953.60" y="1963.10" font-size="29" text-anchor="middle" font-weight="normal" font-style="normal" >10</text>
<line x1="1058.00" y1="1909.70" x2="1058.00" y2="1934.30" stroke="#000" stroke-width="2.1" />
<text x="1063.00" y="1963.10" font-size="29" text-anchor="middle" font-weight="normal" font-style="normal" >15</text>
<line x1="1167.40" y1="1909.70" x2="1167.40" y2="1934.30" stroke="#000" stroke-width="2.1" />
<text x="1172.40" y="1963.10" font-size="29" text-anchor="middle" font-weight="normal" font-style="normal" >20</text>
<text x="951.20" y="1997.10" font-size="29" text-anchor="middle"><tspan font-style="italic">t</tspan> (s)</text>
</g>
<g id="panel-h">
<g fill="#4b9ac6" fill-opacity="0.072" stroke="none">
<path d="M1358.9,1698.9 1362,1680.9 1365.2,1671.6 1368.3,1671.5 1371.4,1680.4 1374.5,1697.2 1377.7,1720.4 1380.8,1747.9 1383.9,1777.3 1387,1806.4 1390.2,1832.6 1393.3,1854.0 1396.4,1869.0 1399.5,1876.6 1402.7,1876.3 1405.8,1868.4 1408.9,1853.7 1412,1833.5 1415.2,1809.7 1418.3,1784.2 1421.4,1759.1 1424.5,1736.5 1427.7,1717.9 1430.8,1704.8 1433.9,1698.1 1437,1698.2 1440.2,1704.7 1443.3,1717.1 1446.4,1734.1 1449.5,1754.2 1452.7,1775.8 1455.8,1797.0 1458.9,1816.1 1462,1831.8 1465.2,1842.7 1468.3,1848.2 1471.4,1848.0 1474.6,1842.1 1477.7,1831.4 1480.8,1816.7 1483.9,1799.3 1487.1,1780.7 1490.2,1762.4 1493.3,1745.9 1496.4,1732.3 1499.6,1722.9 1502.7,1718.0 1505.8,1718.1 1508.9,1723.0 1512.1,1732.0 1515.2,1744.5 1518.3,1759.2 1521.4,1775.0 1524.6,1790.5 1527.7,1804.5 1530.8,1815.9 1533.9,1823.9 1537.1,1827.8 1540.2,1827.6 1543.3,1823.4 1546.4,1815.5 1549.6,1804.7 1552.7,1792.0 1555.8,1778.4 1558.9,1765.1 1562.1,1753.1 1565.2,1743.2 1568.3,1736.3 1571.4,1732.9 1574.6,1733.0 1577.7,1736.5 1580.8,1743.2 1584,1752.3 1587.1,1763.1 1590.2,1774.6 1593.3,1785.9 1596.5,1796.2 1599.6,1804.5 1602.7,1810.3 1605.8,1813.2 1609,1813.0 1612.1,1809.9 1615.2,1804.1 1618.3,1796.2 1621.5,1787.0 1624.6,1777.0 1627.7,1767.3 1630.8,1758.5 1634,1751.4 1637.1,1746.4 1640.2,1743.9 1643.3,1744.0 1646.5,1746.6 1649.6,1751.5 1652.7,1758.2 1655.8,1766.1 1659,1774.5 1662.1,1782.7 1665.2,1790.2 1668.3,1796.3 1671.5,1800.5 1674.6,1802.6 1677.7,1802.5 1680.8,1800.2 1684,1795.9 1687.1,1790.2 1690.2,1783.4 1693.4,1776.2 1696.5,1769.1 1699.6,1762.7 1702.7,1757.4 1705.9,1753.8 1709,1752.0 1712.1,1752.1 1715.2,1754.0 1718.4,1757.6 1721.5,1762.5 1724.6,1768.3 1727.7,1774.4 1730.9,1780.5 1734,1785.9 1737.1,1790.3 1740.2,1793.4 1743.4,1794.9 1746.5,1794.8 1749.6,1793.1 1752.7,1790.0 1755.9,1785.8 1759,1780.9 1762.1,1775.6 1765.2,1770.4 1768.4,1765.7 1771.5,1761.9 1774.6,1759.3 1777.7,1758.0 1780.9,1758.1 1784,1759.5 1787.1,1762.1 1790.2,1765.7 1793.4,1769.9 1796.5,1774.4 1796.5,1801.8 1793.4,1797.3 1790.2,1793.1 1787.1,1789.5 1784,1786.8 1780.9,1785.4 1777.7,1785.3 1774.6,1786.5 1771.5,1789.2 1768.4,1792.9 1765.2,1797.6 1762.1,1802.8 1759,1808.0 1755.9,1813.0 1752.7,1817.1 1749.6,1820.2 1746.5,1821.9 1743.4,1822.0 1740.2,1820.4 1737.1,1817.3 1734,1812.9 1730.9,1807.4 1727.7,1801.4 1724.6,1795.2 1721.5,1789.4 1718.4,1784.5 1715.2,1780.8 1712.1,1778.9 1709,1778.7 1705.9,1780.5 1702.7,1784.1 1699.6,1789.3 1696.5,1795.7 1693.4,1802.7 1690.2,1810.0 1687.1,1816.7 1684,1822.4 1680.8,1826.6 1677.7,1828.9 1674.6,1829.0 1671.5,1826.8 1668.3,1822.6 1665.2,1816.5 1662.1,1809.0 1659,1800.6 1655.8,1792.2 1652.7,1784.2 1649.6,1777.5 1646.5,1772.6 1643.3,1769.9 1640.2,1769.7 1637.1,1772.2 1634,1777.2 1630.8,1784.3 1627.7,1793.0 1624.6,1802.7 1621.5,1812.5 1618.3,1821.7 1615.2,1829.6 1612.1,1835.3 1609,1838.3 1605.8,1838.4 1602.7,1835.5 1599.6,1829.6 1596.5,1821.2 1593.3,1810.9 1590.2,1799.5 1587.1,1787.9 1584,1777.1 1580.8,1767.9 1577.7,1761.1 1574.6,1757.5 1571.4,1757.3 1568.3,1760.7 1565.2,1767.5 1562.1,1777.2 1558.9,1789.2 1555.8,1802.4 1552.7,1815.9 1549.6,1828.5 1546.4,1839.2 1543.3,1847.0 1540.2,1851.1 1537.1,1851.2 1533.9,1847.1 1530.8,1839.0 1527.7,1827.5 1524.6,1813.4 1521.4,1797.8 1518.3,1781.9 1515.2,1767.0 1512.1,1754.4 1508.9,1745.2 1505.8,1740.2 1502.7,1740.0 1499.6,1744.7 1496.4,1754.0 1493.3,1767.4 1490.2,1783.8 1487.1,1801.9 1483.9,1820.3 1480.8,1837.6 1477.7,1852.1 1474.6,1862.7 1471.4,1868.3 1468.3,1868.4 1465.2,1862.7 1462,1851.6 1458.9,1835.7 1455.8,1816.4 1452.7,1795.0 1449.5,1773.2 1446.4,1752.8 1443.3,1735.6 1440.2,1723.0 1437,1716.3 1433.9,1716.0 1430.8,1722.4 1427.7,1735.2 1424.5,1753.5 1421.4,1776.0 1418.3,1800.8 1415.2,1826.0 1412,1849.5 1408.9,1869.4 1405.8,1883.8 1402.7,1891.4 1399.5,1891.4 1396.4,1883.5 1393.3,1868.2 1390.2,1846.4 1387,1819.8 1383.9,1790.5 1380.8,1760.6 1377.7,1732.8 1374.5,1709.2 1371.4,1692.0 1368.3,1682.8 1365.2,1682.4 1362,1691.3 1358.9,1708.9Z"/>
<path d="M1358.9,1700.3 1362,1682.3 1365.2,1673.1 1368.3,1673.1 1371.4,1682.0 1374.5,1698.9 1377.7,1722.1 1380.8,1749.6 1383.9,1779.2 1387,1808.2 1390.2,1834.5 1393.3,1856.0 1396.4,1871.1 1399.5,1878.7 1402.7,1878.4 1405.8,1870.5 1408.9,1855.9 1412,1835.8 1415.2,1812.0 1418.3,1786.5 1421.4,1761.5 1424.5,1738.8 1427.7,1720.3 1430.8,1707.3 1433.9,1700.6 1437,1700.7 1440.2,1707.3 1443.3,1719.7 1446.4,1736.7 1449.5,1756.9 1452.7,1778.5 1455.8,1799.7 1458.9,1818.9 1462,1834.5 1465.2,1845.5 1468.3,1851.0 1471.4,1850.8 1474.6,1845.0 1477.7,1834.3 1480.8,1819.6 1483.9,1802.2 1487.1,1783.6 1490.2,1765.4 1493.3,1748.9 1496.4,1735.4 1499.6,1725.9 1502.7,1721.1 1505.8,1721.2 1508.9,1726.1 1512.1,1735.2 1515.2,1747.6 1518.3,1762.4 1521.4,1778.2 1524.6,1793.7 1527.7,1807.7 1530.8,1819.1 1533.9,1827.1 1537.1,1831.1 1540.2,1830.9 1543.3,1826.7 1546.4,1818.8 1549.6,1808.1 1552.7,1795.4 1555.8,1781.8 1558.9,1768.5 1562.1,1756.4 1565.2,1746.6 1568.3,1739.7 1571.4,1736.3 1574.6,1736.4 1577.7,1740.0 1580.8,1746.6 1584,1755.8 1587.1,1766.6 1590.2,1778.1 1593.3,1789.4 1596.5,1799.7 1599.6,1808.0 1602.7,1813.8 1605.8,1816.7 1609,1816.6 1612.1,1813.4 1615.2,1807.7 1618.3,1799.8 1621.5,1790.5 1624.6,1780.6 1627.7,1770.9 1630.8,1762.1 1634,1755.0 1637.1,1750.0 1640.2,1747.5 1643.3,1747.6 1646.5,1750.2 1649.6,1755.1 1652.7,1761.8 1655.8,1769.7 1659,1778.1 1662.1,1786.4 1665.2,1793.9 1668.3,1800.0 1671.5,1804.2 1674.6,1806.3 1677.7,1806.2 1680.8,1803.9 1684,1799.6 1687.1,1793.9 1690.2,1787.1 1693.4,1779.9 1696.5,1772.8 1699.6,1766.4 1702.7,1761.2 1705.9,1757.5 1709,1755.7 1712.1,1755.8 1715.2,1757.8 1718.4,1761.4 1721.5,1766.3 1724.6,1772.0 1727.7,1778.2 1730.9,1784.3 1734,1789.7 1737.1,1794.1 1740.2,1797.2 1743.4,1798.7 1746.5,1798.6 1749.6,1796.9 1752.7,1793.8 1755.9,1789.6 1759,1784.7 1762.1,1779.4 1765.2,1774.2 1768.4,1769.6 1771.5,1765.8 1774.6,1763.1 1777.7,1761.8 1780.9,1761.9 1784,1763.3 1787.1,1766.0 1790.2,1769.6 1793.4,1773.8 1796.5,1778.3 1796.5,1798.0 1793.4,1793.5 1790.2,1789.2 1787.1,1785.6 1784,1783.0 1780.9,1781.5 1777.7,1781.4 1774.6,1782.7 1771.5,1785.4 1768.4,1789.1 1765.2,1793.8 1762.1,1799.0 1759,1804.2 1755.9,1809.2 1752.7,1813.4 1749.6,1816.4 1746.5,1818.1 1743.4,1818.2 1740.2,1816.7 1737.1,1813.6 1734,1809.1 1730.9,1803.7 1727.7,1797.6 1724.6,1791.4 1721.5,1785.6 1718.4,1780.7 1715.2,1777.1 1712.1,1775.1 1709,1775.0 1705.9,1776.8 1702.7,1780.4 1699.6,1785.6 1696.5,1792.0 1693.4,1799.0 1690.2,1806.2 1687.1,1813.0 1684,1818.7 1680.8,1822.9 1677.7,1825.2 1674.6,1825.3 1671.5,1823.1 1668.3,1818.9 1665.2,1812.8 1662.1,1805.3 1659,1797.0 1655.8,1788.5 1652.7,1780.6 1649.6,1773.9 1646.5,1768.9 1643.3,1766.3 1640.2,1766.1 1637.1,1768.6 1634,1773.5 1630.8,1780.7 1627.7,1789.4 1624.6,1799.1 1621.5,1808.9 1618.3,1818.2 1615.2,1826.0 1612.1,1831.7 1609,1834.8 1605.8,1834.9 1602.7,1831.9 1599.6,1826.1 1596.5,1817.7 1593.3,1807.4 1590.2,1796.0 1587.1,1784.5 1584,1773.6 1580.8,1764.4 1577.7,1757.7 1574.6,1754.0 1571.4,1753.9 1568.3,1757.3 1565.2,1764.1 1562.1,1773.8 1558.9,1785.8 1555.8,1799.1 1552.7,1812.6 1549.6,1825.2 1546.4,1835.9 1543.3,1843.6 1540.2,1847.8 1537.1,1847.9 1533.9,1843.9 1530.8,1835.8 1527.7,1824.3 1524.6,1810.2 1521.4,1794.6 1518.3,1778.7 1515.2,1763.9 1512.1,1751.3 1508.9,1742.1 1505.8,1737.1 1502.7,1736.9 1499.6,1741.6 1496.4,1751.0 1493.3,1764.4 1490.2,1780.8 1487.1,1798.9 1483.9,1817.4 1480.8,1834.6 1477.7,1849.2 1474.6,1859.8 1471.4,1865.5 1468.3,1865.6 1465.2,1859.9 1462,1848.8 1458.9,1833.0 1455.8,1813.7 1452.7,1792.3 1449.5,1770.5 1446.4,1750.2 1443.3,1733.0 1440.2,1720.5 1437,1713.7 1433.9,1713.5 1430.8,1720.0 1427.7,1732.8 1424.5,1751.1 1421.4,1773.6 1418.3,1798.5 1415.2,1823.7 1412,1847.3 1408.9,1867.2 1405.8,1881.6 1402.7,1889.3 1399.5,1889.3 1396.4,1881.5 1393.3,1866.2 1390.2,1844.5 1387,1817.9 1383.9,1788.6 1380.8,1758.8 1377.7,1731.0 1374.5,1707.5 1371.4,1690.4 1368.3,1681.2 1365.2,1680.9 1362,1689.8 1358.9,1707.5Z"/>
<path d="M1358.9,1701.3 1362,1683.4 1365.2,1674.2 1368.3,1674.2 1371.4,1683.2 1374.5,1700.1 1377.7,1723.3 1380.8,1750.9 1383.9,1780.5 1387,1809.6 1390.2,1835.9 1393.3,1857.4 1396.4,1872.5 1399.5,1880.1 1402.7,1879.9 1405.8,1872.1 1408.9,1857.4 1412,1837.4 1415.2,1813.6 1418.3,1788.2 1421.4,1763.2 1424.5,1740.6 1427.7,1722.1 1430.8,1709.1 1433.9,1702.4 1437,1702.5 1440.2,1709.1 1443.3,1721.5 1446.4,1738.6 1449.5,1758.8 1452.7,1780.4 1455.8,1801.6 1458.9,1820.8 1462,1836.5 1465.2,1847.5 1468.3,1853.1 1471.4,1852.8 1474.6,1847.1 1477.7,1836.4 1480.8,1821.7 1483.9,1804.3 1487.1,1785.8 1490.2,1767.5 1493.3,1751.0 1496.4,1737.6 1499.6,1728.1 1502.7,1723.3 1505.8,1723.4 1508.9,1728.3 1512.1,1737.4 1515.2,1749.9 1518.3,1764.7 1521.4,1780.5 1524.6,1796.0 1527.7,1810.0 1530.8,1821.4 1533.9,1829.4 1537.1,1833.4 1540.2,1833.3 1543.3,1829.0 1546.4,1821.2 1549.6,1810.4 1552.7,1797.8 1555.8,1784.2 1558.9,1770.9 1562.1,1758.9 1565.2,1749.1 1568.3,1742.2 1571.4,1738.7 1574.6,1738.8 1577.7,1742.4 1580.8,1749.1 1584,1758.3 1587.1,1769.1 1590.2,1780.6 1593.3,1791.9 1596.5,1802.2 1599.6,1810.5 1602.7,1816.3 1605.8,1819.2 1609,1819.1 1612.1,1816.0 1615.2,1810.2 1618.3,1802.4 1621.5,1793.1 1624.6,1783.2 1627.7,1773.5 1630.8,1764.7 1634,1757.6 1637.1,1752.6 1640.2,1750.1 1643.3,1750.2 1646.5,1752.8 1649.6,1757.7 1652.7,1764.4 1655.8,1772.3 1659,1780.8 1662.1,1789.0 1665.2,1796.5 1668.3,1802.6 1671.5,1806.8 1674.6,1808.9 1677.7,1808.8 1680.8,1806.5 1684,1802.3 1687.1,1796.5 1690.2,1789.8 1693.4,1782.5 1696.5,1775.4 1699.6,1769.1 1702.7,1763.8 1705.9,1760.2 1709,1758.4 1712.1,1758.5 1715.2,1760.5 1718.4,1764.1 1721.5,1769.0 1724.6,1774.7 1727.7,1780.9 1730.9,1786.9 1734,1792.4 1737.1,1796.8 1740.2,1799.9 1743.4,1801.4 1746.5,1801.3 1749.6,1799.6 1752.7,1796.5 1755.9,1792.3 1759,1787.4 1762.1,1782.1 1765.2,1776.9 1768.4,1772.3 1771.5,1768.5 1774.6,1765.8 1777.7,1764.5 1780.9,1764.6 1784,1766.1 1787.1,1768.7 1790.2,1772.3 1793.4,1776.5 1796.5,1781.0 1796.5,1795.2 1793.4,1790.7 1790.2,1786.5 1787.1,1782.9 1784,1780.3 1780.9,1778.8 1777.7,1778.7 1774.6,1780.0 1771.5,1782.6 1768.4,1786.4 1765.2,1791.1 1762.1,1796.2 1759,1801.5 1755.9,1806.4 1752.7,1810.6 1749.6,1813.7 1746.5,1815.4 1743.4,1815.5 1740.2,1814.0 1737.1,1810.9 1734,1806.4 1730.9,1801.0 1727.7,1794.9 1724.6,1788.7 1721.5,1782.9 1718.4,1778.0 1715.2,1774.4 1712.1,1772.4 1709,1772.3 1705.9,1774.1 1702.7,1777.7 1699.6,1782.9 1696.5,1789.3 1693.4,1796.4 1690.2,1803.6 1687.1,1810.3 1684,1816.1 1680.8,1820.3 1677.7,1822.5 1674.6,1822.6 1671.5,1820.5 1668.3,1816.3 1665.2,1810.2 1662.1,1802.7 1659,1794.4 1655.8,1785.9 1652.7,1778.0 1649.6,1771.3 1646.5,1766.3 1643.3,1763.7 1640.2,1763.5 1637.1,1766.0 1634,1771.0 1630.8,1778.1 1627.7,1786.8 1624.6,1796.5 1621.5,1806.4 1618.3,1815.6 1615.2,1823.4 1612.1,1829.2 1609,1832.3 1605.8,1832.4 1602.7,1829.4 1599.6,1823.6 1596.5,1815.2 1593.3,1804.9 1590.2,1793.6 1587.1,1782.0 1584,1771.1 1580.8,1761.9 1577.7,1755.2 1574.6,1751.6 1571.4,1751.4 1568.3,1754.8 1565.2,1761.7 1562.1,1771.4 1558.9,1783.4 1555.8,1796.7 1552.7,1810.2 1549.6,1822.8 1546.4,1833.5 1543.3,1841.3 1540.2,1845.5 1537.1,1845.6 1533.9,1841.5 1530.8,1833.5 1527.7,1822.0 1524.6,1807.9 1521.4,1792.3 1518.3,1776.4 1515.2,1761.6 1512.1,1749.1 1508.9,1739.9 1505.8,1734.9 1502.7,1734.7 1499.6,1739.5 1496.4,1748.8 1493.3,1762.2 1490.2,1778.6 1487.1,1796.8 1483.9,1815.3 1480.8,1832.5 1477.7,1847.1 1474.6,1857.8 1471.4,1863.4 1468.3,1863.5 1465.2,1857.9 1462,1846.8 1458.9,1831.0 1455.8,1811.7 1452.7,1790.3 1449.5,1768.6 1446.4,1748.3 1443.3,1731.2 1440.2,1718.6 1437,1711.9 1433.9,1711.7 1430.8,1718.2 1427.7,1731.1 1424.5,1749.4 1421.4,1771.9 1418.3,1796.8 1415.2,1822.1 1412,1845.7 1408.9,1865.6 1405.8,1880.1 1402.7,1887.8 1399.5,1887.8 1396.4,1880.0 1393.3,1864.8 1390.2,1843.1 1387,1816.6 1383.9,1787.3 1380.8,1757.6 1377.7,1729.8 1374.5,1706.3 1371.4,1689.2 1368.3,1680.1 1365.2,1679.8 1362,1688.8 1358.9,1706.5Z"/>
<path d="M1358.9,1702.0 1362,1684.1 1365.2,1674.9 1368.3,1675.0 1371.4,1684.0 1374.5,1700.9 1377.7,1724.2 1380.8,1751.8 1383.9,1781.4 1387,1810.5 1390.2,1836.9 1393.3,1858.4 1396.4,1873.5 1399.5,1881.2 1402.7,1881.0 1405.8,1873.1 1408.9,1858.5 1412,1838.5 1415.2,1814.8 1418.3,1789.4 1421.4,1764.4 1424.5,1741.8 1427.7,1723.3 1430.8,1710.3 1433.9,1703.7 1437,1703.8 1440.2,1710.4 1443.3,1722.8 1446.4,1739.9 1449.5,1760.1 1452.7,1781.7 1455.8,1803.0 1458.9,1822.2 1462,1837.9 1465.2,1848.9 1468.3,1854.5 1471.4,1854.3 1474.6,1848.5 1477.7,1837.8 1480.8,1823.1 1483.9,1805.8 1487.1,1787.3 1490.2,1769.0 1493.3,1752.5 1496.4,1739.1 1499.6,1729.6 1502.7,1724.8 1505.8,1725.0 1508.9,1729.9 1512.1,1739.0 1515.2,1751.5 1518.3,1766.2 1521.4,1782.0 1524.6,1797.6 1527.7,1811.6 1530.8,1823.1 1533.9,1831.1 1537.1,1835.1 1540.2,1834.9 1543.3,1830.7 1546.4,1822.8 1549.6,1812.1 1552.7,1799.4 1555.8,1785.9 1558.9,1772.6 1562.1,1760.6 1565.2,1750.7 1568.3,1743.9 1571.4,1740.4 1574.6,1740.6 1577.7,1744.2 1580.8,1750.8 1584,1760.0 1587.1,1770.8 1590.2,1782.3 1593.3,1793.7 1596.5,1803.9 1599.6,1812.3 1602.7,1818.1 1605.8,1821.0 1609,1820.9 1612.1,1817.7 1615.2,1812.0 1618.3,1804.1 1621.5,1794.9 1624.6,1785.0 1627.7,1775.3 1630.8,1766.5 1634,1759.4 1637.1,1754.4 1640.2,1751.9 1643.3,1752.0 1646.5,1754.6 1649.6,1759.6 1652.7,1766.2 1655.8,1774.2 1659,1782.6 1662.1,1790.9 1665.2,1798.3 1668.3,1804.4 1671.5,1808.7 1674.6,1810.8 1677.7,1810.6 1680.8,1808.4 1684,1804.1 1687.1,1798.4 1690.2,1791.6 1693.4,1784.4 1696.5,1777.3 1699.6,1770.9 1702.7,1765.7 1705.9,1762.1 1709,1760.3 1712.1,1760.4 1715.2,1762.3 1718.4,1765.9 1721.5,1770.8 1724.6,1776.6 1727.7,1782.8 1730.9,1788.8 1734,1794.3 1737.1,1798.7 1740.2,1801.8 1743.4,1803.3 1746.5,1803.2 1749.6,1801.5 1752.7,1798.4 1755.9,1794.2 1759,1789.3 1762.1,1784.0 1765.2,1778.8 1768.4,1774.2 1771.5,1770.4 1774.6,1767.8 1777.7,1766.4 1780.9,1766.5 1784,1768.0 1787.1,1770.6 1790.2,1774.2 1793.4,1778.4 1796.5,1782.9 1796.5,1793.3 1793.4,1788.8 1790.2,1784.6 1787.1,1781.0 1784,1778.3 1780.9,1776.9 1777.7,1776.8 1774.6,1778.1 1771.5,1780.7 1768.4,1784.5 1765.2,1789.2 1762.1,1794.3 1759,1799.6 1755.9,1804.6 1752.7,1808.7 1749.6,1811.8 1746.5,1813.5 1743.4,1813.6 1740.2,1812.1 1737.1,1809.0 1734,1804.5 1730.9,1799.1 1727.7,1793.0 1724.6,1786.8 1721.5,1781.0 1718.4,1776.1 1715.2,1772.5 1712.1,1770.6 1709,1770.4 1705.9,1772.2 1702.7,1775.9 1699.6,1781.0 1696.5,1787.4 1693.4,1794.5 1690.2,1801.7 1687.1,1808.5 1684,1814.2 1680.8,1818.4 1677.7,1820.7 1674.6,1820.8 1671.5,1818.7 1668.3,1814.4 1665.2,1808.3 1662.1,1800.8 1659,1792.5 1655.8,1784.1 1652.7,1776.2 1649.6,1769.4 1646.5,1764.5 1643.3,1761.9 1640.2,1761.7 1637.1,1764.2 1634,1769.2 1630.8,1776.3 1627.7,1785.0 1624.6,1794.7 1621.5,1804.6 1618.3,1813.8 1615.2,1821.7 1612.1,1827.4 1609,1830.5 1605.8,1830.6 1602.7,1827.7 1599.6,1821.8 1596.5,1813.4 1593.3,1803.2 1590.2,1791.8 1587.1,1780.2 1584,1769.4 1580.8,1760.2 1577.7,1753.5 1574.6,1749.9 1571.4,1749.7 1568.3,1753.1 1565.2,1760.0 1562.1,1769.7 1558.9,1781.7 1555.8,1795.0 1552.7,1808.5 1549.6,1821.1 1546.4,1831.8 1543.3,1839.6 1540.2,1843.8 1537.1,1844.0 1533.9,1839.9 1530.8,1831.8 1527.7,1820.4 1524.6,1806.3 1521.4,1790.7 1518.3,1774.9 1515.2,1760.0 1512.1,1747.5 1508.9,1738.3 1505.8,1733.4 1502.7,1733.2 1499.6,1737.9 1496.4,1747.3 1493.3,1760.7 1490.2,1777.1 1487.1,1795.3 1483.9,1813.8 1480.8,1831.1 1477.7,1845.7 1474.6,1856.3 1471.4,1862.0 1468.3,1862.1 1465.2,1856.5 1462,1845.4 1458.9,1829.7 1455.8,1810.4 1452.7,1789.0 1449.5,1767.3 1446.4,1747.0 1443.3,1729.9 1440.2,1717.4 1437,1710.6 1433.9,1710.5 1430.8,1717.0 1427.7,1729.9 1424.5,1748.2 1421.4,1770.8 1418.3,1795.6 1415.2,1820.9 1412,1844.6 1408.9,1864.5 1405.8,1879.0 1402.7,1886.7 1399.5,1886.8 1396.4,1879.0 1393.3,1863.8 1390.2,1842.1 1387,1815.7 1383.9,1786.4 1380.8,1756.7 1377.7,1728.9 1374.5,1705.5 1371.4,1688.4 1368.3,1679.3 1365.2,1679.1 1362,1688.1 1358.9,1705.8Z"/>
<path d="M1358.9,1702.5 1362,1684.6 1365.2,1675.5 1368.3,1675.6 1371.4,1684.6 1374.5,1701.5 1377.7,1724.8 1380.8,1752.5 1383.9,1782.1 1387,1811.2 1390.2,1837.6 1393.3,1859.1 1396.4,1874.2 1399.5,1881.9 1402.7,1881.7 1405.8,1873.9 1408.9,1859.3 1412,1839.3 1415.2,1815.6 1418.3,1790.2 1421.4,1765.2 1424.5,1742.6 1427.7,1724.1 1430.8,1711.2 1433.9,1704.6 1437,1704.7 1440.2,1711.3 1443.3,1723.8 1446.4,1740.8 1449.5,1761.0 1452.7,1782.7 1455.8,1804.0 1458.9,1823.2 1462,1838.9 1465.2,1849.9 1468.3,1855.5 1471.4,1855.3 1474.6,1849.5 1477.7,1838.8 1480.8,1824.2 1483.9,1806.9 1487.1,1788.3 1490.2,1770.1 1493.3,1753.6 1496.4,1740.2 1499.6,1730.7 1502.7,1725.9 1505.8,1726.1 1508.9,1731.0 1512.1,1740.1 1515.2,1752.6 1518.3,1767.4 1521.4,1783.2 1524.6,1798.7 1527.7,1812.8 1530.8,1824.2 1533.9,1832.2 1537.1,1836.3 1540.2,1836.1 1543.3,1831.9 1546.4,1824.0 1549.6,1813.3 1552.7,1800.6 1555.8,1787.1 1558.9,1773.8 1562.1,1761.8 1565.2,1752.0 1568.3,1745.1 1571.4,1741.7 1574.6,1741.8 1577.7,1745.4 1580.8,1752.1 1584,1761.2 1587.1,1772.0 1590.2,1783.6 1593.3,1794.9 1596.5,1805.2 1599.6,1813.5 1602.7,1819.4 1605.8,1822.3 1609,1822.1 1612.1,1819.0 1615.2,1813.3 1618.3,1805.4 1621.5,1796.2 1624.6,1786.3 1627.7,1776.6 1630.8,1767.8 1634,1760.7 1637.1,1755.7 1640.2,1753.2 1643.3,1753.3 1646.5,1755.9 1649.6,1760.9 1652.7,1767.6 1655.8,1775.5 1659,1783.9 1662.1,1792.2 1665.2,1799.7 1668.3,1805.7 1671.5,1810.0 1674.6,1812.1 1677.7,1812.0 1680.8,1809.7 1684,1805.5 1687.1,1799.7 1690.2,1793.0 1693.4,1785.7 1696.5,1778.6 1699.6,1772.3 1702.7,1767.1 1705.9,1763.4 1709,1761.6 1712.1,1761.7 1715.2,1763.7 1718.4,1767.3 1721.5,1772.2 1724.6,1778.0 1727.7,1784.1 1730.9,1790.2 1734,1795.6 1737.1,1800.1 1740.2,1803.1 1743.4,1804.7 1746.5,1804.6 1749.6,1802.9 1752.7,1799.8 1755.9,1795.6 1759,1790.7 1762.1,1785.4 1765.2,1780.2 1768.4,1775.5 1771.5,1771.7 1774.6,1769.1 1777.7,1767.8 1780.9,1767.9 1784,1769.3 1787.1,1772.0 1790.2,1775.6 1793.4,1779.8 1796.5,1784.3 1796.5,1792.0 1793.4,1787.4 1790.2,1783.2 1787.1,1779.6 1784,1777.0 1780.9,1775.5 1777.7,1775.4 1774.6,1776.7 1771.5,1779.4 1768.4,1783.2 1765.2,1787.8 1762.1,1793.0 1759,1798.3 1755.9,1803.2 1752.7,1807.4 1749.6,1810.5 1746.5,1812.1 1743.4,1812.2 1740.2,1810.7 1737.1,1807.6 1734,1803.2 1730.9,1797.7 1727.7,1791.7 1724.6,1785.5 1721.5,1779.7 1718.4,1774.8 1715.2,1771.2 1712.1,1769.2 1709,1769.1 1705.9,1770.9 1702.7,1774.5 1699.6,1779.7 1696.5,1786.1 1693.4,1793.2 1690.2,1800.4 1687.1,1807.2 1684,1812.9 1680.8,1817.1 1677.7,1819.4 1674.6,1819.5 1671.5,1817.4 1668.3,1813.1 1665.2,1807.0 1662.1,1799.5 1659,1791.2 1655.8,1782.8 1652.7,1774.9 1649.6,1768.1 1646.5,1763.2 1643.3,1760.6 1640.2,1760.4 1637.1,1762.9 1634,1767.9 1630.8,1775.0 1627.7,1783.7 1624.6,1793.4 1621.5,1803.3 1618.3,1812.6 1615.2,1820.4 1612.1,1826.1 1609,1829.2 1605.8,1829.3 1602.7,1826.4 1599.6,1820.6 1596.5,1812.2 1593.3,1801.9 1590.2,1790.6 1587.1,1779.0 1584,1768.2 1580.8,1759.0 1577.7,1752.3 1574.6,1748.6 1571.4,1748.5 1568.3,1751.9 1565.2,1758.8 1562.1,1768.5 1558.9,1780.5 1555.8,1793.8 1552.7,1807.3 1549.6,1820.0 1546.4,1830.6 1543.3,1838.5 1540.2,1842.7 1537.1,1842.8 1533.9,1838.7 1530.8,1830.7 1527.7,1819.2 1524.6,1805.1 1521.4,1789.6 1518.3,1773.7 1515.2,1758.9 1512.1,1746.4 1508.9,1737.2 1505.8,1732.3 1502.7,1732.1 1499.6,1736.8 1496.4,1746.2 1493.3,1759.6 1490.2,1776.1 1487.1,1794.3 1483.9,1812.8 1480.8,1830.0 1477.7,1844.6 1474.6,1855.3 1471.4,1861.0 1468.3,1861.1 1465.2,1855.5 1462,1844.4 1458.9,1828.7 1455.8,1809.4 1452.7,1788.0 1449.5,1766.4 1446.4,1746.1 1443.3,1728.9 1440.2,1716.4 1437,1709.7 1433.9,1709.6 1430.8,1716.1 1427.7,1729.0 1424.5,1747.4 1421.4,1769.9 1418.3,1794.8 1415.2,1820.1 1412,1843.8 1408.9,1863.7 1405.8,1878.2 1402.7,1886.0 1399.5,1886.1 1396.4,1878.3 1393.3,1863.1 1390.2,1841.4 1387,1815.0 1383.9,1785.7 1380.8,1756.0 1377.7,1728.3 1374.5,1704.9 1371.4,1687.8 1368.3,1678.7 1365.2,1678.5 1362,1687.5 1358.9,1705.3Z"/>
<path d="M1358.9,1702.9 1362,1685.0 1365.2,1675.9 1368.3,1676.0 1371.4,1685.0 1374.5,1702.0 1377.7,1725.3 1380.8,1753.0 1383.9,1782.6 1387,1811.8 1390.2,1838.1 1393.3,1859.7 1396.4,1874.8 1399.5,1882.5 1402.7,1882.3 1405.8,1874.5 1408.9,1859.9 1412,1839.9 1415.2,1816.2 1418.3,1790.8 1421.4,1765.9 1424.5,1743.3 1427.7,1724.8 1430.8,1711.9 1433.9,1705.3 1437,1705.4 1440.2,1712.1 1443.3,1724.5 1446.4,1741.6 1449.5,1761.8 1452.7,1783.4 1455.8,1804.7 1458.9,1824.0 1462,1839.7 1465.2,1850.7 1468.3,1856.3 1471.4,1856.1 1474.6,1850.4 1477.7,1839.7 1480.8,1825.0 1483.9,1807.7 1487.1,1789.2 1490.2,1770.9 1493.3,1754.5 1496.4,1741.0 1499.6,1731.6 1502.7,1726.8 1505.8,1727.0 1508.9,1731.9 1512.1,1741.0 1515.2,1753.5 1518.3,1768.3 1521.4,1784.1 1524.6,1799.6 1527.7,1813.7 1530.8,1825.1 1533.9,1833.2 1537.1,1837.2 1540.2,1837.0 1543.3,1832.8 1546.4,1825.0 1549.6,1814.2 1552.7,1801.6 1555.8,1788.0 1558.9,1774.7 1562.1,1762.7 1565.2,1752.9 1568.3,1746.1 1571.4,1742.6 1574.6,1742.8 1577.7,1746.4 1580.8,1753.1 1584,1762.2 1587.1,1773.0 1590.2,1784.6 1593.3,1795.9 1596.5,1806.2 1599.6,1814.5 1602.7,1820.4 1605.8,1823.3 1609,1823.1 1612.1,1820.0 1615.2,1814.3 1618.3,1806.4 1621.5,1797.2 1624.6,1787.3 1627.7,1777.6 1630.8,1768.8 1634,1761.7 1637.1,1756.7 1640.2,1754.2 1643.3,1754.3 1646.5,1757.0 1649.6,1761.9 1652.7,1768.6 1655.8,1776.5 1659,1784.9 1662.1,1793.2 1665.2,1800.7 1668.3,1806.8 1671.5,1811.0 1674.6,1813.1 1677.7,1813.0 1680.8,1810.7 1684,1806.5 1687.1,1800.8 1690.2,1794.0 1693.4,1786.8 1696.5,1779.7 1699.6,1773.3 1702.7,1768.1 1705.9,1764.5 1709,1762.7 1712.1,1762.8 1715.2,1764.8 1718.4,1768.4 1721.5,1773.3 1724.6,1779.0 1727.7,1785.2 1730.9,1791.3 1734,1796.7 1737.1,1801.1 1740.2,1804.2 1743.4,1805.8 1746.5,1805.7 1749.6,1804.0 1752.7,1800.9 1755.9,1796.7 1759,1791.7 1762.1,1786.5 1765.2,1781.3 1768.4,1776.6 1771.5,1772.8 1774.6,1770.2 1777.7,1768.9 1780.9,1769.0 1784,1770.4 1787.1,1773.1 1790.2,1776.7 1793.4,1780.9 1796.5,1785.4 1796.5,1790.9 1793.4,1786.4 1790.2,1782.1 1787.1,1778.5 1784,1775.9 1780.9,1774.4 1777.7,1774.3 1774.6,1775.7 1771.5,1778.3 1768.4,1782.1 1765.2,1786.7 1762.1,1791.9 1759,1797.2 1755.9,1802.1 1752.7,1806.3 1749.6,1809.4 1746.5,1811.1 1743.4,1811.2 1740.2,1809.6 1737.1,1806.5 1734,1802.1 1730.9,1796.6 1727.7,1790.6 1724.6,1784.4 1721.5,1778.6 1718.4,1773.7 1715.2,1770.1 1712.1,1768.2 1709,1768.0 1705.9,1769.8 1702.7,1773.5 1699.6,1778.6 1696.5,1785.0 1693.4,1792.1 1690.2,1799.3 1687.1,1806.1 1684,1811.8 1680.8,1816.0 1677.7,1818.3 1674.6,1818.4 1671.5,1816.3 1668.3,1812.0 1665.2,1806.0 1662.1,1798.5 1659,1790.2 1655.8,1781.7 1652.7,1773.8 1649.6,1767.1 1646.5,1762.2 1643.3,1759.5 1640.2,1759.4 1637.1,1761.9 1634,1766.8 1630.8,1774.0 1627.7,1782.7 1624.6,1792.4 1621.5,1802.3 1618.3,1811.5 1615.2,1819.4 1612.1,1825.1 1609,1828.2 1605.8,1828.3 1602.7,1825.4 1599.6,1819.6 1596.5,1811.2 1593.3,1800.9 1590.2,1789.6 1587.1,1778.0 1584,1767.2 1580.8,1758.0 1577.7,1751.3 1574.6,1747.7 1571.4,1747.5 1568.3,1750.9 1565.2,1757.8 1562.1,1767.6 1558.9,1779.6 1555.8,1792.8 1552.7,1806.4 1549.6,1819.0 1546.4,1829.7 1543.3,1837.5 1540.2,1841.7 1537.1,1841.9 1533.9,1837.8 1530.8,1829.8 1527.7,1818.3 1524.6,1804.2 1521.4,1788.7 1518.3,1772.8 1515.2,1758.0 1512.1,1745.5 1508.9,1736.3 1505.8,1731.4 1502.7,1731.2 1499.6,1736.0 1496.4,1745.4 1493.3,1758.8 1490.2,1775.2 1487.1,1793.4 1483.9,1811.9 1480.8,1829.2 1477.7,1843.8 1474.6,1854.5 1471.4,1860.2 1468.3,1860.3 1465.2,1854.7 1462,1843.7 1458.9,1827.9 1455.8,1808.6 1452.7,1787.3 1449.5,1765.6 1446.4,1745.3 1443.3,1728.2 1440.2,1715.7 1437,1709.0 1433.9,1708.8 1430.8,1715.4 1427.7,1728.3 1424.5,1746.7 1421.4,1769.2 1418.3,1794.2 1415.2,1819.5 1412,1843.1 1408.9,1863.1 1405.8,1877.6 1402.7,1885.4 1399.5,1885.5 1396.4,1877.7 1393.3,1862.5 1390.2,1840.9 1387,1814.4 1383.9,1785.2 1380.8,1755.5 1377.7,1727.8 1374.5,1704.4 1371.4,1687.3 1368.3,1678.3 1365.2,1678.1 1362,1687.1 1358.9,1704.9Z"/>
<path d="M1358.9,1703.2 1362,1685.4 1365.2,1676.3 1368.3,1676.4 1371.4,1685.4 1374.5,1702.4 1377.7,1725.8 1380.8,1753.4 1383.9,1783.0 1387,1812.2 1390.2,1838.6 1393.3,1860.2 1396.4,1875.3 1399.5,1883.0 1402.7,1882.9 1405.8,1875.1 1408.9,1860.5 1412,1840.5 1415.2,1816.8 1418.3,1791.4 1421.4,1766.5 1424.5,1743.9 1427.7,1725.4 1430.8,1712.5 1433.9,1705.9 1437,1706.0 1440.2,1712.7 1443.3,1725.1 1446.4,1742.2 1449.5,1762.5 1452.7,1784.1 1455.8,1805.4 1458.9,1824.7 1462,1840.4 1465.2,1851.4 1468.3,1857.0 1471.4,1856.8 1474.6,1851.1 1477.7,1840.4 1480.8,1825.8 1483.9,1808.4 1487.1,1789.9 1490.2,1771.7 1493.3,1755.2 1496.4,1741.8 1499.6,1732.4 1502.7,1727.6 1505.8,1727.7 1508.9,1732.6 1512.1,1741.8 1515.2,1754.3 1518.3,1769.1 1521.4,1784.9 1524.6,1800.4 1527.7,1814.5 1530.8,1825.9 1533.9,1834.0 1537.1,1838.0 1540.2,1837.8 1543.3,1833.6 1546.4,1825.8 1549.6,1815.1 1552.7,1802.4 1555.8,1788.9 1558.9,1775.6 1562.1,1763.6 1565.2,1753.8 1568.3,1746.9 1571.4,1743.5 1574.6,1743.6 1577.7,1747.2 1580.8,1753.9 1584,1763.1 1587.1,1773.9 1590.2,1785.5 1593.3,1796.8 1596.5,1807.1 1599.6,1815.4 1602.7,1821.2 1605.8,1824.2 1609,1824.0 1612.1,1820.9 1615.2,1815.2 1618.3,1807.3 1621.5,1798.1 1624.6,1788.2 1627.7,1778.5 1630.8,1769.7 1634,1762.6 1637.1,1757.6 1640.2,1755.1 1643.3,1755.2 1646.5,1757.9 1649.6,1762.8 1652.7,1769.5 1655.8,1777.4 1659,1785.9 1662.1,1794.2 1665.2,1801.6 1668.3,1807.7 1671.5,1812.0 1674.6,1814.1 1677.7,1813.9 1680.8,1811.7 1684,1807.5 1687.1,1801.7 1690.2,1794.9 1693.4,1787.7 1696.5,1780.6 1699.6,1774.2 1702.7,1769.1 1705.9,1765.4 1709,1763.6 1712.1,1763.7 1715.2,1765.7 1718.4,1769.3 1721.5,1774.2 1724.6,1780.0 1727.7,1786.1 1730.9,1792.2 1734,1797.7 1737.1,1802.1 1740.2,1805.2 1743.4,1806.7 1746.5,1806.6 1749.6,1804.9 1752.7,1801.8 1755.9,1797.6 1759,1792.7 1762.1,1787.4 1765.2,1782.2 1768.4,1777.6 1771.5,1773.8 1774.6,1771.2 1777.7,1769.9 1780.9,1769.9 1784,1771.4 1787.1,1774.0 1790.2,1777.6 1793.4,1781.8 1796.5,1786.3 1796.5,1789.9 1793.4,1785.4 1790.2,1781.2 1787.1,1777.6 1784,1774.9 1780.9,1773.5 1777.7,1773.4 1774.6,1774.7 1771.5,1777.3 1768.4,1781.1 1765.2,1785.8 1762.1,1790.9 1759,1796.2 1755.9,1801.2 1752.7,1805.4 1749.6,1808.4 1746.5,1810.1 1743.4,1810.2 1740.2,1808.7 1737.1,1805.6 1734,1801.2 1730.9,1795.7 1727.7,1789.6 1724.6,1783.5 1721.5,1777.7 1718.4,1772.8 1715.2,1769.2 1712.1,1767.2 1709,1767.1 1705.9,1768.9 1702.7,1772.5 1699.6,1777.7 1696.5,1784.1 1693.4,1791.2 1690.2,1798.4 1687.1,1805.2 1684,1810.9 1680.8,1815.1 1677.7,1817.4 1674.6,1817.5 1671.5,1815.4 1668.3,1811.1 1665.2,1805.0 1662.1,1797.6 1659,1789.3 1655.8,1780.8 1652.7,1772.9 1649.6,1766.2 1646.5,1761.3 1643.3,1758.6 1640.2,1758.5 1637.1,1761.0 1634,1765.9 1630.8,1773.1 1627.7,1781.8 1624.6,1791.5 1621.5,1801.4 1618.3,1810.6 1615.2,1818.5 1612.1,1824.2 1609,1827.3 1605.8,1827.4 1602.7,1824.5 1599.6,1818.7 1596.5,1810.3 1593.3,1800.1 1590.2,1788.7 1587.1,1777.1 1584,1766.3 1580.8,1757.1 1577.7,1750.4 1574.6,1746.8 1571.4,1746.7 1568.3,1750.1 1565.2,1756.9 1562.1,1766.7 1558.9,1778.7 1555.8,1792.0 1552.7,1805.5 1549.6,1818.2 1546.4,1828.9 1543.3,1836.7 1540.2,1840.9 1537.1,1841.0 1533.9,1837.0 1530.8,1829.0 1527.7,1817.5 1524.6,1803.4 1521.4,1787.9 1518.3,1772.0 1515.2,1757.2 1512.1,1744.7 1508.9,1735.5 1505.8,1730.6 1502.7,1730.5 1499.6,1735.2 1496.4,1744.6 1493.3,1758.0 1490.2,1774.5 1487.1,1792.7 1483.9,1811.2 1480.8,1828.5 1477.7,1843.1 1474.6,1853.8 1471.4,1859.5 1468.3,1859.6 1465.2,1854.0 1462,1843.0 1458.9,1827.2 1455.8,1807.9 1452.7,1786.6 1449.5,1764.9 1446.4,1744.7 1443.3,1727.6 1440.2,1715.1 1437,1708.4 1433.9,1708.2 1430.8,1714.8 1427.7,1727.7 1424.5,1746.1 1421.4,1768.6 1418.3,1793.6 1415.2,1818.9 1412,1842.6 1408.9,1862.5 1405.8,1877.1 1402.7,1884.8 1399.5,1885.0 1396.4,1877.2 1393.3,1862.0 1390.2,1840.4 1387,1814.0 1383.9,1784.8 1380.8,1755.1 1377.7,1727.4 1374.5,1704.0 1371.4,1686.9 1368.3,1677.9 1365.2,1677.7 1362,1686.8 1358.9,1704.5Z"/>
<path d="M1358.9,1703.5 1362,1685.7 1365.2,1676.6 1368.3,1676.7 1371.4,1685.8 1374.5,1702.8 1377.7,1726.1 1380.8,1753.8 1383.9,1783.4 1387,1812.6 1390.2,1839.0 1393.3,1860.6 1396.4,1875.8 1399.5,1883.5 1402.7,1883.3 1405.8,1875.5 1408.9,1861.0 1412,1841.0 1415.2,1817.3 1418.3,1791.9 1421.4,1767.0 1424.5,1744.4 1427.7,1726.0 1430.8,1713.0 1433.9,1706.4 1437,1706.6 1440.2,1713.2 1443.3,1725.7 1446.4,1742.8 1449.5,1763.0 1452.7,1784.7 1455.8,1806.0 1458.9,1825.3 1462,1841.0 1465.2,1852.0 1468.3,1857.6 1471.4,1857.4 1474.6,1851.7 1477.7,1841.0 1480.8,1826.4 1483.9,1809.1 1487.1,1790.5 1490.2,1772.3 1493.3,1755.9 1496.4,1742.4 1499.6,1733.0 1502.7,1728.3 1505.8,1728.4 1508.9,1733.3 1512.1,1742.4 1515.2,1755.0 1518.3,1769.8 1521.4,1785.6 1524.6,1801.1 1527.7,1815.2 1530.8,1826.6 1533.9,1834.7 1537.1,1838.7 1540.2,1838.6 1543.3,1834.3 1546.4,1826.5 1549.6,1815.8 1552.7,1803.1 1555.8,1789.6 1558.9,1776.3 1562.1,1764.3 1565.2,1754.5 1568.3,1747.7 1571.4,1744.2 1574.6,1744.4 1577.7,1748.0 1580.8,1754.7 1584,1763.8 1587.1,1774.6 1590.2,1786.2 1593.3,1797.6 1596.5,1807.8 1599.6,1816.2 1602.7,1822.0 1605.8,1824.9 1609,1824.8 1612.1,1821.7 1615.2,1815.9 1618.3,1808.1 1621.5,1798.8 1624.6,1789.0 1627.7,1779.3 1630.8,1770.5 1634,1763.4 1637.1,1758.4 1640.2,1755.9 1643.3,1756.0 1646.5,1758.7 1649.6,1763.6 1652.7,1770.3 1655.8,1778.2 1659,1786.6 1662.1,1794.9 1665.2,1802.4 1668.3,1808.5 1671.5,1812.7 1674.6,1814.9 1677.7,1814.7 1680.8,1812.5 1684,1808.2 1687.1,1802.5 1690.2,1795.7 1693.4,1788.5 1696.5,1781.4 1699.6,1775.0 1702.7,1769.9 1705.9,1766.2 1709,1764.4 1712.1,1764.5 1715.2,1766.5 1718.4,1770.1 1721.5,1775.0 1724.6,1780.8 1727.7,1787.0 1730.9,1793.0 1734,1798.5 1737.1,1802.9 1740.2,1806.0 1743.4,1807.5 1746.5,1807.4 1749.6,1805.7 1752.7,1802.6 1755.9,1798.4 1759,1793.5 1762.1,1788.2 1765.2,1783.1 1768.4,1778.4 1771.5,1774.6 1774.6,1772.0 1777.7,1770.7 1780.9,1770.8 1784,1772.2 1787.1,1774.8 1790.2,1778.4 1793.4,1782.7 1796.5,1787.2 1796.5,1789.1 1793.4,1784.6 1790.2,1780.3 1787.1,1776.8 1784,1774.1 1780.9,1772.7 1777.7,1772.6 1774.6,1773.9 1771.5,1776.5 1768.4,1780.3 1765.2,1785.0 1762.1,1790.1 1759,1795.4 1755.9,1800.3 1752.7,1804.5 1749.6,1807.6 1746.5,1809.3 1743.4,1809.4 1740.2,1807.9 1737.1,1804.8 1734,1800.3 1730.9,1794.9 1727.7,1788.8 1724.6,1782.7 1721.5,1776.9 1718.4,1772.0 1715.2,1768.4 1712.1,1766.4 1709,1766.3 1705.9,1768.1 1702.7,1771.7 1699.6,1776.9 1696.5,1783.3 1693.4,1790.4 1690.2,1797.6 1687.1,1804.4 1684,1810.1 1680.8,1814.3 1677.7,1816.6 1674.6,1816.7 1671.5,1814.6 1668.3,1810.3 1665.2,1804.3 1662.1,1796.8 1659,1788.5 1655.8,1780.0 1652.7,1772.1 1649.6,1765.4 1646.5,1760.5 1643.3,1757.8 1640.2,1757.7 1637.1,1760.2 1634,1765.2 1630.8,1772.3 1627.7,1781.1 1624.6,1790.8 1621.5,1800.6 1618.3,1809.9 1615.2,1817.7 1612.1,1823.5 1609,1826.6 1605.8,1826.7 1602.7,1823.8 1599.6,1817.9 1596.5,1809.6 1593.3,1799.3 1590.2,1787.9 1587.1,1776.4 1584,1765.6 1580.8,1756.4 1577.7,1749.7 1574.6,1746.1 1571.4,1745.9 1568.3,1749.4 1565.2,1756.2 1562.1,1766.0 1558.9,1778.0 1555.8,1791.3 1552.7,1804.8 1549.6,1817.5 1546.4,1828.2 1543.3,1836.0 1540.2,1840.2 1537.1,1840.3 1533.9,1836.3 1530.8,1828.3 1527.7,1816.8 1524.6,1802.7 1521.4,1787.2 1518.3,1771.3 1515.2,1756.5 1512.1,1744.0 1508.9,1734.9 1505.8,1730.0 1502.7,1729.8 1499.6,1734.5 1496.4,1743.9 1493.3,1757.4 1490.2,1773.8 1487.1,1792.0 1483.9,1810.5 1480.8,1827.8 1477.7,1842.5 1474.6,1853.1 1471.4,1858.9 1468.3,1859.0 1465.2,1853.4 1462,1842.4 1458.9,1826.6 1455.8,1807.4 1452.7,1786.0 1449.5,1764.4 1446.4,1744.1 1443.3,1727.0 1440.2,1714.5 1437,1707.8 1433.9,1707.7 1430.8,1714.2 1427.7,1727.2 1424.5,1745.6 1421.4,1768.1 1418.3,1793.1 1415.2,1818.4 1412,1842.1 1408.9,1862.1 1405.8,1876.6 1402.7,1884.4 1399.5,1884.5 1396.4,1876.8 1393.3,1861.6 1390.2,1840.0 1387,1813.6 1383.9,1784.4 1380.8,1754.7 1377.7,1727.0 1374.5,1703.6 1371.4,1686.6 1368.3,1677.5 1365.2,1677.4 1362,1686.4 1358.9,1704.2Z"/>
<path d="M1358.9,1864.1 1362,1836.0 1365.2,1804.5 1368.3,1772.1 1371.4,1741.5 1374.5,1715.1 1377.7,1694.9 1380.8,1682.2 1383.9,1677.9 1387,1682.0 1390.2,1694.1 1393.3,1712.8 1396.4,1736.5 1399.5,1763.1 1402.7,1790.5 1405.8,1816.3 1408.9,1838.5 1412,1855.5 1415.2,1866.0 1418.3,1869.4 1421.4,1865.5 1424.5,1854.9 1427.7,1838.6 1430.8,1818.1 1433.9,1795.0 1437,1771.4 1440.2,1749.1 1443.3,1729.9 1446.4,1715.2 1449.5,1706.0 1452.7,1702.9 1455.8,1706.0 1458.9,1714.9 1462,1728.6 1465.2,1746.0 1468.3,1765.5 1471.4,1785.5 1474.6,1804.3 1477.7,1820.6 1480.8,1832.9 1483.9,1840.6 1487.1,1843.0 1490.2,1840.2 1493.3,1832.4 1496.4,1820.5 1499.6,1805.5 1502.7,1788.7 1505.8,1771.4 1508.9,1755.2 1512.1,1741.2 1515.2,1730.5 1518.3,1723.8 1521.4,1721.6 1524.6,1724.0 1527.7,1730.5 1530.8,1740.6 1533.9,1753.3 1537.1,1767.5 1540.2,1782.1 1543.3,1795.9 1546.4,1807.8 1549.6,1816.8 1552.7,1822.4 1555.8,1824.1 1558.9,1822.0 1562.1,1816.3 1565.2,1807.6 1568.3,1796.6 1571.4,1784.3 1574.6,1771.8 1577.7,1759.9 1580.8,1749.7 1584,1741.9 1587.1,1737.1 1590.2,1735.6 1593.3,1737.3 1596.5,1742.1 1599.6,1749.5 1602.7,1758.8 1605.8,1769.2 1609,1779.9 1612.1,1789.9 1615.2,1798.6 1618.3,1805.2 1621.5,1809.2 1624.6,1810.5 1627.7,1808.9 1630.8,1804.7 1634,1798.4 1637.1,1790.4 1640.2,1781.4 1643.3,1772.2 1646.5,1763.6 1649.6,1756.1 1652.7,1750.5 1655.8,1747.0 1659,1745.9 1662.1,1747.2 1665.2,1750.7 1668.3,1756.1 1671.5,1762.9 1674.6,1770.5 1677.7,1778.3 1680.8,1785.7 1684,1792.0 1687.1,1796.8 1690.2,1799.7 1693.4,1800.6 1696.5,1799.5 1699.6,1796.4 1702.7,1791.8 1705.9,1785.9 1709,1779.4 1712.1,1772.7 1715.2,1766.4 1718.4,1760.9 1721.5,1756.8 1724.6,1754.3 1727.7,1753.5 1730.9,1754.5 1734,1757.0 1737.1,1761.0 1740.2,1766.0 1743.4,1771.6 1746.5,1777.3 1749.6,1782.6 1752.7,1787.2 1755.9,1790.7 1759,1792.9 1762.1,1793.5 1765.2,1792.7 1768.4,1790.4 1771.5,1787.0 1774.6,1782.7 1777.7,1777.9 1780.9,1773.1 1784,1768.5 1787.1,1764.5 1790.2,1761.5 1793.4,1759.7 1796.5,1759.1 1796.5,1786.5 1793.4,1787.0 1790.2,1788.8 1787.1,1791.8 1784,1795.8 1780.9,1800.3 1777.7,1805.2 1774.6,1810.0 1771.5,1814.2 1768.4,1817.6 1765.2,1819.9 1762.1,1820.7 1759,1820.0 1755.9,1817.9 1752.7,1814.3 1749.6,1809.7 1746.5,1804.3 1743.4,1798.6 1740.2,1793.0 1737.1,1788.0 1734,1784.0 1730.9,1781.4 1727.7,1780.4 1724.6,1781.2 1721.5,1783.7 1718.4,1787.8 1715.2,1793.2 1712.1,1799.4 1709,1806.1 1705.9,1812.6 1702.7,1818.5 1699.6,1823.1 1696.5,1826.1 1693.4,1827.2 1690.2,1826.3 1687.1,1823.3 1684,1818.5 1680.8,1812.1 1677.7,1804.8 1674.6,1796.9 1671.5,1789.3 1668.3,1782.4 1665.2,1776.9 1662.1,1773.4 1659,1772.0 1655.8,1773.1 1652.7,1776.6 1649.6,1782.2 1646.5,1789.6 1643.3,1798.2 1640.2,1807.3 1637.1,1816.2 1634,1824.2 1630.8,1830.5 1627.7,1834.6 1624.6,1836.1 1621.5,1834.8 1618.3,1830.7 1615.2,1824.0 1612.1,1815.3 1609,1805.2 1605.8,1794.5 1602.7,1784.0 1599.6,1774.6 1596.5,1767.1 1593.3,1762.3 1590.2,1760.5 1587.1,1761.9 1584,1766.7 1580.8,1774.4 1577.7,1784.5 1574.6,1796.3 1571.4,1808.8 1568.3,1821.0 1565.2,1831.8 1562.1,1840.5 1558.9,1846.1 1555.8,1848.1 1552.7,1846.2 1549.6,1840.6 1546.4,1831.4 1543.3,1819.5 1540.2,1805.6 1537.1,1790.9 1533.9,1776.5 1530.8,1763.7 1527.7,1753.5 1524.6,1746.9 1521.4,1744.4 1518.3,1746.5 1515.2,1753.0 1512.1,1763.6 1508.9,1777.5 1505.8,1793.6 1502.7,1810.6 1499.6,1827.3 1496.4,1842.2 1493.3,1853.9 1490.2,1861.5 1487.1,1864.2 1483.9,1861.6 1480.8,1853.8 1477.7,1841.3 1474.6,1824.9 1471.4,1805.8 1468.3,1785.7 1465.2,1766.0 1462,1748.4 1458.9,1734.5 1455.8,1725.4 1452.7,1722.1 1449.5,1725.0 1446.4,1733.9 1443.3,1748.4 1440.2,1767.4 1437,1789.5 1433.9,1812.9 1430.8,1835.6 1427.7,1855.9 1424.5,1872.0 1421.4,1882.3 1418.3,1885.9 1415.2,1882.3 1412,1871.5 1408.9,1854.2 1405.8,1831.7 1402.7,1805.6 1399.5,1777.9 1396.4,1751.0 1393.3,1726.9 1390.2,1707.9 1387,1695.5 1383.9,1691.0 1380.8,1694.9 1377.7,1707.3 1374.5,1727.1 1371.4,1753.2 1368.3,1783.4 1365.2,1815.3 1362,1846.4 1358.9,1874.1Z"/>
<path d="M1358.9,1865.5 1362,1837.5 1365.2,1806.0 1368.3,1773.7 1371.4,1743.2 1374.5,1716.8 1377.7,1696.6 1380.8,1684.0 1383.9,1679.7 1387,1683.9 1390.2,1696.0 1393.3,1714.8 1396.4,1738.5 1399.5,1765.2 1402.7,1792.6 1405.8,1818.4 1408.9,1840.7 1412,1857.7 1415.2,1868.3 1418.3,1871.7 1421.4,1867.8 1424.5,1857.3 1427.7,1841.0 1430.8,1820.5 1433.9,1797.5 1437,1774.0 1440.2,1751.7 1443.3,1732.5 1446.4,1717.8 1449.5,1708.6 1452.7,1705.6 1455.8,1708.8 1458.9,1717.6 1462,1731.4 1465.2,1748.8 1468.3,1768.3 1471.4,1788.3 1474.6,1807.2 1477.7,1823.5 1480.8,1835.9 1483.9,1843.5 1487.1,1846.0 1490.2,1843.2 1493.3,1835.4 1496.4,1823.5 1499.6,1808.5 1502.7,1791.7 1505.8,1774.5 1508.9,1758.3 1512.1,1744.3 1515.2,1733.6 1518.3,1727.0 1521.4,1724.8 1524.6,1727.2 1527.7,1733.7 1530.8,1743.8 1533.9,1756.5 1537.1,1770.8 1540.2,1785.4 1543.3,1799.2 1546.4,1811.1 1549.6,1820.1 1552.7,1825.7 1555.8,1827.5 1558.9,1825.4 1562.1,1819.7 1565.2,1811.0 1568.3,1800.0 1571.4,1787.8 1574.6,1775.2 1577.7,1763.4 1580.8,1753.2 1584,1745.4 1587.1,1740.6 1590.2,1739.0 1593.3,1740.8 1596.5,1745.6 1599.6,1753.0 1602.7,1762.3 1605.8,1772.7 1609,1783.4 1612.1,1793.5 1615.2,1802.1 1618.3,1808.7 1621.5,1812.8 1624.6,1814.1 1627.7,1812.5 1630.8,1808.4 1634,1802.0 1637.1,1794.0 1640.2,1785.0 1643.3,1775.9 1646.5,1767.2 1649.6,1759.8 1652.7,1754.1 1655.8,1750.6 1659,1749.5 1662.1,1750.8 1665.2,1754.4 1668.3,1759.8 1671.5,1766.6 1674.6,1774.2 1677.7,1782.0 1680.8,1789.4 1684,1795.7 1687.1,1800.5 1690.2,1803.5 1693.4,1804.4 1696.5,1803.2 1699.6,1800.2 1702.7,1795.5 1705.9,1789.6 1709,1783.1 1712.1,1776.4 1715.2,1770.1 1718.4,1764.7 1721.5,1760.6 1724.6,1758.0 1727.7,1757.3 1730.9,1758.2 1734,1760.8 1737.1,1764.8 1740.2,1769.8 1743.4,1775.4 1746.5,1781.1 1749.6,1786.4 1752.7,1791.0 1755.9,1794.5 1759,1796.7 1762.1,1797.3 1765.2,1796.5 1768.4,1794.2 1771.5,1790.8 1774.6,1786.5 1777.7,1781.8 1780.9,1776.9 1784,1772.3 1787.1,1768.3 1790.2,1765.3 1793.4,1763.5 1796.5,1762.9 1796.5,1782.6 1793.4,1783.2 1790.2,1785.0 1787.1,1788.0 1784,1791.9 1780.9,1796.5 1777.7,1801.4 1774.6,1806.2 1771.5,1810.4 1768.4,1813.8 1765.2,1816.0 1762.1,1816.9 1759,1816.2 1755.9,1814.1 1752.7,1810.5 1749.6,1805.9 1746.5,1800.5 1743.4,1794.8 1740.2,1789.2 1737.1,1784.2 1734,1780.2 1730.9,1777.6 1727.7,1776.6 1724.6,1777.4 1721.5,1779.9 1718.4,1784.0 1715.2,1789.4 1712.1,1795.7 1709,1802.4 1705.9,1808.9 1702.7,1814.7 1699.6,1819.4 1696.5,1822.4 1693.4,1823.5 1690.2,1822.6 1687.1,1819.6 1684,1814.8 1680.8,1808.4 1677.7,1801.1 1674.6,1793.2 1671.5,1785.6 1668.3,1778.7 1665.2,1773.3 1662.1,1769.7 1659,1768.4 1655.8,1769.4 1652.7,1772.9 1649.6,1778.5 1646.5,1785.9 1643.3,1794.5 1640.2,1803.7 1637.1,1812.6 1634,1820.5 1630.8,1826.9 1627.7,1831.0 1624.6,1832.5 1621.5,1831.2 1618.3,1827.1 1615.2,1820.5 1612.1,1811.8 1609,1801.7 1605.8,1790.9 1602.7,1780.5 1599.6,1771.1 1596.5,1763.6 1593.3,1758.8 1590.2,1757.0 1587.1,1758.5 1584,1763.2 1580.8,1771.0 1577.7,1781.1 1574.6,1792.9 1571.4,1805.4 1568.3,1817.6 1565.2,1828.5 1562.1,1837.1 1558.9,1842.7 1555.8,1844.7 1552.7,1842.9 1549.6,1837.2 1546.4,1828.1 1543.3,1816.2 1540.2,1802.3 1537.1,1787.6 1533.9,1773.3 1530.8,1760.5 1527.7,1750.3 1524.6,1743.7 1521.4,1741.2 1518.3,1743.3 1515.2,1749.9 1512.1,1760.4 1508.9,1774.3 1505.8,1790.5 1502.7,1807.6 1499.6,1824.3 1496.4,1839.1 1493.3,1850.9 1490.2,1858.5 1487.1,1861.3 1483.9,1858.7 1480.8,1850.9 1477.7,1838.4 1474.6,1822.0 1471.4,1803.0 1468.3,1782.8 1465.2,1763.2 1462,1745.7 1458.9,1731.8 1455.8,1722.7 1452.7,1719.4 1449.5,1722.3 1446.4,1731.3 1443.3,1745.8 1440.2,1764.9 1437,1787.0 1433.9,1810.4 1430.8,1833.2 1427.7,1853.5 1424.5,1869.6 1421.4,1879.9 1418.3,1883.6 1415.2,1880.0 1412,1869.2 1408.9,1852.0 1405.8,1829.5 1402.7,1803.4 1399.5,1775.8 1396.4,1748.9 1393.3,1725.0 1390.2,1706.0 1387,1693.6 1383.9,1689.2 1380.8,1693.2 1377.7,1705.5 1374.5,1725.5 1371.4,1751.5 1368.3,1781.8 1365.2,1813.8 1362,1845.0 1358.9,1872.7Z"/>
<path d="M1358.9,1866.5 1362,1838.5 1365.2,1807.1 1368.3,1774.8 1371.4,1744.3 1374.5,1718.0 1377.7,1697.8 1380.8,1685.2 1383.9,1681.0 1387,1685.3 1390.2,1697.4 1393.3,1716.2 1396.4,1740.0 1399.5,1766.7 1402.7,1794.1 1405.8,1820.0 1408.9,1842.3 1412,1859.3 1415.2,1869.9 1418.3,1873.3 1421.4,1869.5 1424.5,1859.0 1427.7,1842.8 1430.8,1822.3 1433.9,1799.3 1437,1775.8 1440.2,1753.5 1443.3,1734.4 1446.4,1719.7 1449.5,1710.5 1452.7,1707.5 1455.8,1710.7 1458.9,1719.6 1462,1733.4 1465.2,1750.8 1468.3,1770.3 1471.4,1790.3 1474.6,1809.2 1477.7,1825.5 1480.8,1838.0 1483.9,1845.6 1487.1,1848.1 1490.2,1845.3 1493.3,1837.6 1496.4,1825.7 1499.6,1810.7 1502.7,1793.9 1505.8,1776.8 1508.9,1760.5 1512.1,1746.6 1515.2,1735.9 1518.3,1729.3 1521.4,1727.1 1524.6,1729.5 1527.7,1736.0 1530.8,1746.1 1533.9,1758.9 1537.1,1773.1 1540.2,1787.8 1543.3,1801.6 1546.4,1813.4 1549.6,1822.5 1552.7,1828.1 1555.8,1829.9 1558.9,1827.8 1562.1,1822.1 1565.2,1813.4 1568.3,1802.5 1571.4,1790.2 1574.6,1777.7 1577.7,1765.8 1580.8,1755.7 1584,1747.9 1587.1,1743.1 1590.2,1741.5 1593.3,1743.3 1596.5,1748.1 1599.6,1755.5 1602.7,1764.8 1605.8,1775.3 1609,1786.0 1612.1,1796.0 1615.2,1804.7 1618.3,1811.3 1621.5,1815.4 1624.6,1816.6 1627.7,1815.1 1630.8,1810.9 1634,1804.6 1637.1,1796.6 1640.2,1787.6 1643.3,1778.4 1646.5,1769.8 1649.6,1762.4 1652.7,1756.7 1655.8,1753.3 1659,1752.2 1662.1,1753.5 1665.2,1757.0 1668.3,1762.4 1671.5,1769.2 1674.6,1776.9 1677.7,1784.7 1680.8,1792.0 1684,1798.3 1687.1,1803.2 1690.2,1806.1 1693.4,1807.0 1696.5,1805.9 1699.6,1802.8 1702.7,1798.2 1705.9,1792.3 1709,1785.8 1712.1,1779.1 1715.2,1772.8 1718.4,1767.4 1721.5,1763.3 1724.6,1760.7 1727.7,1760.0 1730.9,1760.9 1734,1763.5 1737.1,1767.5 1740.2,1772.5 1743.4,1778.1 1746.5,1783.8 1749.6,1789.1 1752.7,1793.7 1755.9,1797.2 1759,1799.4 1762.1,1800.0 1765.2,1799.2 1768.4,1797.0 1771.5,1793.5 1774.6,1789.3 1777.7,1784.5 1780.9,1779.6 1784,1775.0 1787.1,1771.1 1790.2,1768.1 1793.4,1766.2 1796.5,1765.7 1796.5,1779.9 1793.4,1780.5 1790.2,1782.3 1787.1,1785.3 1784,1789.2 1780.9,1793.8 1777.7,1798.7 1774.6,1803.4 1771.5,1807.7 1768.4,1811.1 1765.2,1813.3 1762.1,1814.2 1759,1813.5 1755.9,1811.3 1752.7,1807.8 1749.6,1803.2 1746.5,1797.8 1743.4,1792.1 1740.2,1786.5 1737.1,1781.5 1734,1777.5 1730.9,1774.9 1727.7,1773.9 1724.6,1774.7 1721.5,1777.2 1718.4,1781.3 1715.2,1786.7 1712.1,1793.0 1709,1799.7 1705.9,1806.2 1702.7,1812.0 1699.6,1816.7 1696.5,1819.7 1693.4,1820.8 1690.2,1819.9 1687.1,1816.9 1684,1812.1 1680.8,1805.8 1677.7,1798.4 1674.6,1790.6 1671.5,1782.9 1668.3,1776.1 1665.2,1770.6 1662.1,1767.1 1659,1765.8 1655.8,1766.8 1652.7,1770.3 1649.6,1775.9 1646.5,1783.3 1643.3,1791.9 1640.2,1801.1 1637.1,1810.0 1634,1818.0 1630.8,1824.3 1627.7,1828.4 1624.6,1829.9 1621.5,1828.6 1618.3,1824.6 1615.2,1817.9 1612.1,1809.2 1609,1799.1 1605.8,1788.4 1602.7,1777.9 1599.6,1768.6 1596.5,1761.1 1593.3,1756.3 1590.2,1754.5 1587.1,1756.0 1584,1760.8 1580.8,1768.5 1577.7,1778.6 1574.6,1790.4 1571.4,1802.9 1568.3,1815.1 1565.2,1826.0 1562.1,1834.7 1558.9,1840.3 1555.8,1842.3 1552.7,1840.5 1549.6,1834.9 1546.4,1825.8 1543.3,1813.8 1540.2,1800.0 1537.1,1785.3 1533.9,1771.0 1530.8,1758.2 1527.7,1748.0 1524.6,1741.4 1521.4,1739.0 1518.3,1741.0 1515.2,1747.6 1512.1,1758.2 1508.9,1772.1 1505.8,1788.3 1502.7,1805.4 1499.6,1822.1 1496.4,1837.0 1493.3,1848.8 1490.2,1856.4 1487.1,1859.1 1483.9,1856.6 1480.8,1848.8 1477.7,1836.3 1474.6,1819.9 1471.4,1800.9 1468.3,1780.8 1465.2,1761.2 1462,1743.7 1458.9,1729.8 1455.8,1720.8 1452.7,1717.5 1449.5,1720.4 1446.4,1729.4 1443.3,1744.0 1440.2,1763.0 1437,1785.2 1433.9,1808.6 1430.8,1831.4 1427.7,1851.8 1424.5,1867.9 1421.4,1878.3 1418.3,1881.9 1415.2,1878.4 1412,1867.6 1408.9,1850.4 1405.8,1828.0 1402.7,1801.9 1399.5,1774.4 1396.4,1747.5 1393.3,1723.5 1390.2,1704.6 1387,1692.3 1383.9,1687.8 1380.8,1691.9 1377.7,1704.3 1374.5,1724.3 1371.4,1750.4 1368.3,1780.7 1365.2,1812.7 1362,1843.9 1358.9,1871.7Z"/>
<path d="M1358.9,1867.2 1362,1839.3 1365.2,1807.8 1368.3,1775.6 1371.4,1745.1 1374.5,1718.8 1377.7,1698.7 1380.8,1686.1 1383.9,1681.9 1387,1686.2 1390.2,1698.4 1393.3,1717.2 1396.4,1741.0 1399.5,1767.7 1402.7,1795.1 1405.8,1821.0 1408.9,1843.4 1412,1860.4 1415.2,1871.0 1418.3,1874.5 1421.4,1870.7 1424.5,1860.2 1427.7,1844.0 1430.8,1823.5 1433.9,1800.6 1437,1777.0 1440.2,1754.8 1443.3,1735.6 1446.4,1721.0 1449.5,1711.9 1452.7,1708.9 1455.8,1712.1 1458.9,1721.0 1462,1734.8 1465.2,1752.2 1468.3,1771.7 1471.4,1791.8 1474.6,1810.7 1477.7,1827.0 1480.8,1839.4 1483.9,1847.1 1487.1,1849.6 1490.2,1846.8 1493.3,1839.1 1496.4,1827.2 1499.6,1812.2 1502.7,1795.5 1505.8,1778.3 1508.9,1762.1 1512.1,1748.1 1515.2,1737.5 1518.3,1730.8 1521.4,1728.7 1524.6,1731.1 1527.7,1737.6 1530.8,1747.7 1533.9,1760.5 1537.1,1774.8 1540.2,1789.4 1543.3,1803.2 1546.4,1815.1 1549.6,1824.2 1552.7,1829.8 1555.8,1831.5 1558.9,1829.5 1562.1,1823.8 1565.2,1815.1 1568.3,1804.2 1571.4,1791.9 1574.6,1779.4 1577.7,1767.6 1580.8,1757.4 1584,1749.6 1587.1,1744.8 1590.2,1743.3 1593.3,1745.0 1596.5,1749.9 1599.6,1757.3 1602.7,1766.6 1605.8,1777.0 1609,1787.7 1612.1,1797.8 1615.2,1806.5 1618.3,1813.1 1621.5,1817.1 1624.6,1818.4 1627.7,1816.9 1630.8,1812.7 1634,1806.4 1637.1,1798.4 1640.2,1789.4 1643.3,1780.3 1646.5,1771.6 1649.6,1764.2 1652.7,1758.6 1655.8,1755.1 1659,1754.0 1662.1,1755.3 1665.2,1758.8 1668.3,1764.3 1671.5,1771.1 1674.6,1778.7 1677.7,1786.5 1680.8,1793.9 1684,1800.2 1687.1,1805.0 1690.2,1808.0 1693.4,1808.9 1696.5,1807.7 1699.6,1804.7 1702.7,1800.0 1705.9,1794.2 1709,1787.6 1712.1,1781.0 1715.2,1774.7 1718.4,1769.3 1721.5,1765.1 1724.6,1762.6 1727.7,1761.8 1730.9,1762.8 1734,1765.4 1737.1,1769.4 1740.2,1774.4 1743.4,1780.0 1746.5,1785.7 1749.6,1791.0 1752.7,1795.6 1755.9,1799.1 1759,1801.3 1762.1,1801.9 1765.2,1801.1 1768.4,1798.9 1771.5,1795.4 1774.6,1791.2 1777.7,1786.4 1780.9,1781.5 1784,1776.9 1787.1,1773.0 1790.2,1770.0 1793.4,1768.1 1796.5,1767.6 1796.5,1778.0 1793.4,1778.5 1790.2,1780.4 1787.1,1783.4 1784,1787.3 1780.9,1791.9 1777.7,1796.8 1774.6,1801.5 1771.5,1805.8 1768.4,1809.2 1765.2,1811.4 1762.1,1812.3 1759,1811.6 1755.9,1809.4 1752.7,1805.9 1749.6,1801.3 1746.5,1795.9 1743.4,1790.2 1740.2,1784.6 1737.1,1779.6 1734,1775.7 1730.9,1773.0 1727.7,1772.1 1724.6,1772.8 1721.5,1775.4 1718.4,1779.5 1715.2,1784.9 1712.1,1791.1 1709,1797.8 1705.9,1804.3 1702.7,1810.2 1699.6,1814.8 1696.5,1817.9 1693.4,1819.0 1690.2,1818.1 1687.1,1815.1 1684,1810.3 1680.8,1803.9 1677.7,1796.6 1674.6,1788.7 1671.5,1781.1 1668.3,1774.3 1665.2,1768.8 1662.1,1765.3 1659,1763.9 1655.8,1765.0 1652.7,1768.5 1649.6,1774.1 1646.5,1781.5 1643.3,1790.1 1640.2,1799.3 1637.1,1808.2 1634,1816.2 1630.8,1822.5 1627.7,1826.6 1624.6,1828.2 1621.5,1826.9 1618.3,1822.8 1615.2,1816.1 1612.1,1807.5 1609,1797.4 1605.8,1786.6 1602.7,1776.2 1599.6,1766.8 1596.5,1759.4 1593.3,1754.5 1590.2,1752.7 1587.1,1754.3 1584,1759.0 1580.8,1766.8 1577.7,1776.9 1574.6,1788.7 1571.4,1801.2 1568.3,1813.4 1565.2,1824.3 1562.1,1833.0 1558.9,1838.6 1555.8,1840.6 1552.7,1838.8 1549.6,1833.2 1546.4,1824.1 1543.3,1812.2 1540.2,1798.3 1537.1,1783.7 1533.9,1769.3 1530.8,1756.5 1527.7,1746.4 1524.6,1739.8 1521.4,1737.4 1518.3,1739.5 1515.2,1746.0 1512.1,1756.6 1508.9,1770.6 1505.8,1786.7 1502.7,1803.8 1499.6,1820.5 1496.4,1835.4 1493.3,1847.3 1490.2,1854.9 1487.1,1857.7 1483.9,1855.1 1480.8,1847.4 1477.7,1834.8 1474.6,1818.5 1471.4,1799.5 1468.3,1779.4 1465.2,1759.8 1462,1742.3 1458.9,1728.4 1455.8,1719.4 1452.7,1716.2 1449.5,1719.1 1446.4,1728.1 1443.3,1742.7 1440.2,1761.8 1437,1783.9 1433.9,1807.3 1430.8,1830.2 1427.7,1850.6 1424.5,1866.7 1421.4,1877.1 1418.3,1880.8 1415.2,1877.2 1412,1866.5 1408.9,1849.3 1405.8,1826.9 1402.7,1800.9 1399.5,1773.3 1396.4,1746.5 1393.3,1722.6 1390.2,1703.6 1387,1691.3 1383.9,1686.9 1380.8,1691.0 1377.7,1703.4 1374.5,1723.4 1371.4,1749.6 1368.3,1779.9 1365.2,1812.0 1362,1843.2 1358.9,1871.0Z"/>
<path d="M1358.9,1867.7 1362,1839.8 1365.2,1808.4 1368.3,1776.2 1371.4,1745.7 1374.5,1719.5 1377.7,1699.3 1380.8,1686.8 1383.9,1682.6 1387,1686.9 1390.2,1699.0 1393.3,1717.9 1396.4,1741.7 1399.5,1768.5 1402.7,1795.9 1405.8,1821.8 1408.9,1844.1 1412,1861.2 1415.2,1871.9 1418.3,1875.3 1421.4,1871.5 1424.5,1861.0 1427.7,1844.8 1430.8,1824.4 1433.9,1801.4 1437,1777.9 1440.2,1755.7 1443.3,1736.6 1446.4,1721.9 1449.5,1712.8 1452.7,1709.8 1455.8,1713.0 1458.9,1722.0 1462,1735.8 1465.2,1753.2 1468.3,1772.7 1471.4,1792.8 1474.6,1811.7 1477.7,1828.0 1480.8,1840.5 1483.9,1848.2 1487.1,1850.7 1490.2,1847.9 1493.3,1840.1 1496.4,1828.3 1499.6,1813.3 1502.7,1796.6 1505.8,1779.4 1508.9,1763.2 1512.1,1749.3 1515.2,1738.6 1518.3,1732.0 1521.4,1729.8 1524.6,1732.2 1527.7,1738.8 1530.8,1748.9 1533.9,1761.7 1537.1,1775.9 1540.2,1790.6 1543.3,1804.4 1546.4,1816.3 1549.6,1825.3 1552.7,1831.0 1555.8,1832.7 1558.9,1830.7 1562.1,1825.0 1565.2,1816.3 1568.3,1805.4 1571.4,1793.1 1574.6,1780.6 1577.7,1768.8 1580.8,1758.6 1584,1750.9 1587.1,1746.1 1590.2,1744.5 1593.3,1746.3 1596.5,1751.1 1599.6,1758.5 1602.7,1767.9 1605.8,1778.3 1609,1789.0 1612.1,1799.1 1615.2,1807.7 1618.3,1814.4 1621.5,1818.4 1624.6,1819.7 1627.7,1818.2 1630.8,1814.0 1634,1807.7 1637.1,1799.7 1640.2,1790.7 1643.3,1781.6 1646.5,1772.9 1649.6,1765.5 1652.7,1759.9 1655.8,1756.4 1659,1755.3 1662.1,1756.6 1665.2,1760.1 1668.3,1765.6 1671.5,1772.4 1674.6,1780.0 1677.7,1787.9 1680.8,1795.2 1684,1801.5 1687.1,1806.3 1690.2,1809.3 1693.4,1810.2 1696.5,1809.1 1699.6,1806.0 1702.7,1801.4 1705.9,1795.5 1709,1789.0 1712.1,1782.3 1715.2,1776.0 1718.4,1770.6 1721.5,1766.5 1724.6,1764.0 1727.7,1763.2 1730.9,1764.2 1734,1766.8 1737.1,1770.7 1740.2,1775.7 1743.4,1781.3 1746.5,1787.0 1749.6,1792.4 1752.7,1797.0 1755.9,1800.5 1759,1802.6 1762.1,1803.3 1765.2,1802.5 1768.4,1800.2 1771.5,1796.8 1774.6,1792.5 1777.7,1787.8 1780.9,1782.9 1784,1778.3 1787.1,1774.3 1790.2,1771.4 1793.4,1769.5 1796.5,1769.0 1796.5,1776.6 1793.4,1777.2 1790.2,1779.0 1787.1,1782.0 1784,1785.9 1780.9,1790.5 1777.7,1795.4 1774.6,1800.2 1771.5,1804.4 1768.4,1807.8 1765.2,1810.1 1762.1,1810.9 1759,1810.2 1755.9,1808.1 1752.7,1804.6 1749.6,1800.0 1746.5,1794.6 1743.4,1788.9 1740.2,1783.3 1737.1,1778.3 1734,1774.3 1730.9,1771.7 1727.7,1770.7 1724.6,1771.5 1721.5,1774.0 1718.4,1778.1 1715.2,1783.5 1712.1,1789.8 1709,1796.5 1705.9,1803.0 1702.7,1808.8 1699.6,1813.5 1696.5,1816.5 1693.4,1817.7 1690.2,1816.7 1687.1,1813.8 1684,1808.9 1680.8,1802.6 1677.7,1795.2 1674.6,1787.4 1671.5,1779.8 1668.3,1772.9 1665.2,1767.5 1662.1,1763.9 1659,1762.6 1655.8,1763.7 1652.7,1767.2 1649.6,1772.8 1646.5,1780.2 1643.3,1788.8 1640.2,1798.0 1637.1,1806.9 1634,1814.9 1630.8,1821.2 1627.7,1825.4 1624.6,1826.9 1621.5,1825.6 1618.3,1821.5 1615.2,1814.9 1612.1,1806.2 1609,1796.1 1605.8,1785.4 1602.7,1774.9 1599.6,1765.6 1596.5,1758.1 1593.3,1753.3 1590.2,1751.5 1587.1,1753.0 1584,1757.8 1580.8,1765.5 1577.7,1775.7 1574.6,1787.5 1571.4,1800.0 1568.3,1812.2 1565.2,1823.1 1562.1,1831.8 1558.9,1837.4 1555.8,1839.5 1552.7,1837.6 1549.6,1832.0 1546.4,1822.9 1543.3,1811.0 1540.2,1797.2 1537.1,1782.5 1533.9,1768.2 1530.8,1755.4 1527.7,1745.2 1524.6,1738.6 1521.4,1736.2 1518.3,1738.3 1515.2,1744.9 1512.1,1755.5 1508.9,1769.4 1505.8,1785.6 1502.7,1802.7 1499.6,1819.5 1496.4,1834.4 1493.3,1846.2 1490.2,1853.8 1487.1,1856.6 1483.9,1854.1 1480.8,1846.3 1477.7,1833.8 1474.6,1817.5 1471.4,1798.5 1468.3,1778.4 1465.2,1758.8 1462,1741.3 1458.9,1727.4 1455.8,1718.5 1452.7,1715.2 1449.5,1718.1 1446.4,1727.2 1443.3,1741.8 1440.2,1760.9 1437,1783.0 1433.9,1806.4 1430.8,1829.3 1427.7,1849.7 1424.5,1865.8 1421.4,1876.2 1418.3,1879.9 1415.2,1876.4 1412,1865.7 1408.9,1848.5 1405.8,1826.1 1402.7,1800.1 1399.5,1772.6 1396.4,1745.8 1393.3,1721.8 1390.2,1702.9 1387,1690.7 1383.9,1686.3 1380.8,1690.3 1377.7,1702.8 1374.5,1722.8 1371.4,1749.0 1368.3,1779.3 1365.2,1811.4 1362,1842.7 1358.9,1870.5Z"/>
<path d="M1358.9,1868.1 1362,1840.2 1365.2,1808.8 1368.3,1776.6 1371.4,1746.2 1374.5,1719.9 1377.7,1699.8 1380.8,1687.3 1383.9,1683.1 1387,1687.4 1390.2,1699.6 1393.3,1718.5 1396.4,1742.3 1399.5,1769.0 1402.7,1796.5 1405.8,1822.4 1408.9,1844.8 1412,1861.9 1415.2,1872.5 1418.3,1876.0 1421.4,1872.2 1424.5,1861.7 1427.7,1845.5 1430.8,1825.1 1433.9,1802.2 1437,1778.7 1440.2,1756.5 1443.3,1737.3 1446.4,1722.7 1449.5,1713.6 1452.7,1710.6 1455.8,1713.8 1458.9,1722.7 1462,1736.6 1465.2,1754.0 1468.3,1773.6 1471.4,1793.6 1474.6,1812.5 1477.7,1828.8 1480.8,1841.3 1483.9,1849.0 1487.1,1851.5 1490.2,1848.7 1493.3,1841.0 1496.4,1829.2 1499.6,1814.2 1502.7,1797.5 1505.8,1780.3 1508.9,1764.1 1512.1,1750.1 1515.2,1739.5 1518.3,1732.9 1521.4,1730.8 1524.6,1733.1 1527.7,1739.7 1530.8,1749.8 1533.9,1762.6 1537.1,1776.9 1540.2,1791.5 1543.3,1805.3 1546.4,1817.2 1549.6,1826.3 1552.7,1831.9 1555.8,1833.7 1558.9,1831.6 1562.1,1826.0 1565.2,1817.3 1568.3,1806.4 1571.4,1794.1 1574.6,1781.6 1577.7,1769.8 1580.8,1759.6 1584,1751.8 1587.1,1747.0 1590.2,1745.5 1593.3,1747.3 1596.5,1752.1 1599.6,1759.5 1602.7,1768.9 1605.8,1779.3 1609,1790.0 1612.1,1800.1 1615.2,1808.8 1618.3,1815.4 1621.5,1819.4 1624.6,1820.7 1627.7,1819.2 1630.8,1815.0 1634,1808.7 1637.1,1800.7 1640.2,1791.7 1643.3,1782.6 1646.5,1774.0 1649.6,1766.6 1652.7,1760.9 1655.8,1757.4 1659,1756.3 1662.1,1757.7 1665.2,1761.2 1668.3,1766.6 1671.5,1773.5 1674.6,1781.1 1677.7,1788.9 1680.8,1796.3 1684,1802.6 1687.1,1807.4 1690.2,1810.4 1693.4,1811.3 1696.5,1810.1 1699.6,1807.1 1702.7,1802.4 1705.9,1796.6 1709,1790.1 1712.1,1783.4 1715.2,1777.1 1718.4,1771.7 1721.5,1767.6 1724.6,1765.0 1727.7,1764.3 1730.9,1765.2 1734,1767.8 1737.1,1771.8 1740.2,1776.8 1743.4,1782.4 1746.5,1788.1 1749.6,1793.5 1752.7,1798.1 1755.9,1801.6 1759,1803.7 1762.1,1804.4 1765.2,1803.5 1768.4,1801.3 1771.5,1797.9 1774.6,1793.6 1777.7,1788.8 1780.9,1784.0 1784,1779.4 1787.1,1775.4 1790.2,1772.4 1793.4,1770.6 1796.5,1770.1 1796.5,1775.5 1793.4,1776.1 1790.2,1777.9 1787.1,1780.9 1784,1784.8 1780.9,1789.4 1777.7,1794.3 1774.6,1799.1 1771.5,1803.3 1768.4,1806.7 1765.2,1809.0 1762.1,1809.8 1759,1809.2 1755.9,1807.0 1752.7,1803.5 1749.6,1798.9 1746.5,1793.5 1743.4,1787.8 1740.2,1782.2 1737.1,1777.2 1734,1773.2 1730.9,1770.6 1727.7,1769.6 1724.6,1770.4 1721.5,1772.9 1718.4,1777.0 1715.2,1782.4 1712.1,1788.7 1709,1795.4 1705.9,1801.9 1702.7,1807.8 1699.6,1812.4 1696.5,1815.5 1693.4,1816.6 1690.2,1815.7 1687.1,1812.7 1684,1807.9 1680.8,1801.6 1677.7,1794.2 1674.6,1786.4 1671.5,1778.7 1668.3,1771.9 1665.2,1766.4 1662.1,1762.9 1659,1761.6 1655.8,1762.7 1652.7,1766.1 1649.6,1771.8 1646.5,1779.2 1643.3,1787.8 1640.2,1796.9 1637.1,1805.9 1634,1813.8 1630.8,1820.2 1627.7,1824.3 1624.6,1825.8 1621.5,1824.6 1618.3,1820.5 1615.2,1813.9 1612.1,1805.2 1609,1795.1 1605.8,1784.4 1602.7,1773.9 1599.6,1764.6 1596.5,1757.1 1593.3,1752.3 1590.2,1750.5 1587.1,1752.0 1584,1756.8 1580.8,1764.5 1577.7,1774.7 1574.6,1786.5 1571.4,1799.0 1568.3,1811.2 1565.2,1822.1 1562.1,1830.8 1558.9,1836.4 1555.8,1838.5 1552.7,1836.7 1549.6,1831.1 1546.4,1822.0 1543.3,1810.1 1540.2,1796.2 1537.1,1781.6 1533.9,1767.2 1530.8,1754.5 1527.7,1744.3 1524.6,1737.7 1521.4,1735.3 1518.3,1737.4 1515.2,1744.0 1512.1,1754.6 1508.9,1768.6 1505.8,1784.7 1502.7,1801.9 1499.6,1818.6 1496.4,1833.5 1493.3,1845.3 1490.2,1853.0 1487.1,1855.7 1483.9,1853.2 1480.8,1845.5 1477.7,1833.0 1474.6,1816.6 1471.4,1797.7 1468.3,1777.6 1465.2,1758.0 1462,1740.5 1458.9,1726.7 1455.8,1717.7 1452.7,1714.4 1449.5,1717.4 1446.4,1726.4 1443.3,1741.0 1440.2,1760.1 1437,1782.3 1433.9,1805.7 1430.8,1828.6 1427.7,1849.0 1424.5,1865.1 1421.4,1875.6 1418.3,1879.3 1415.2,1875.8 1412,1865.1 1408.9,1847.9 1405.8,1825.5 1402.7,1799.5 1399.5,1772.0 1396.4,1745.2 1393.3,1721.3 1390.2,1702.4 1387,1690.1 1383.9,1685.7 1380.8,1689.8 1377.7,1702.3 1374.5,1722.3 1371.4,1748.5 1368.3,1778.9 1365.2,1811.0 1362,1842.3 1358.9,1870.1Z"/>
<path d="M1358.9,1868.5 1362,1840.6 1365.2,1809.2 1368.3,1777.0 1371.4,1746.6 1374.5,1720.4 1377.7,1700.3 1380.8,1687.7 1383.9,1683.6 1387,1687.9 1390.2,1700.1 1393.3,1718.9 1396.4,1742.8 1399.5,1769.6 1402.7,1797.0 1405.8,1823.0 1408.9,1845.3 1412,1862.4 1415.2,1873.1 1418.3,1876.6 1421.4,1872.8 1424.5,1862.3 1427.7,1846.1 1430.8,1825.7 1433.9,1802.8 1437,1779.3 1440.2,1757.1 1443.3,1738.0 1446.4,1723.3 1449.5,1714.2 1452.7,1711.3 1455.8,1714.5 1458.9,1723.4 1462,1737.3 1465.2,1754.7 1468.3,1774.3 1471.4,1794.3 1474.6,1813.2 1477.7,1829.6 1480.8,1842.0 1483.9,1849.7 1487.1,1852.2 1490.2,1849.5 1493.3,1841.8 1496.4,1829.9 1499.6,1815.0 1502.7,1798.2 1505.8,1781.1 1508.9,1764.9 1512.1,1750.9 1515.2,1740.3 1518.3,1733.7 1521.4,1731.5 1524.6,1733.9 1527.7,1740.5 1530.8,1750.6 1533.9,1763.4 1537.1,1777.7 1540.2,1792.3 1543.3,1806.2 1546.4,1818.1 1549.6,1827.1 1552.7,1832.7 1555.8,1834.5 1558.9,1832.5 1562.1,1826.8 1565.2,1818.1 1568.3,1807.2 1571.4,1795.0 1574.6,1782.4 1577.7,1770.6 1580.8,1760.5 1584,1752.7 1587.1,1747.9 1590.2,1746.4 1593.3,1748.2 1596.5,1753.0 1599.6,1760.4 1602.7,1769.7 1605.8,1780.2 1609,1790.9 1612.1,1801.0 1615.2,1809.7 1618.3,1816.3 1621.5,1820.3 1624.6,1821.6 1627.7,1820.1 1630.8,1815.9 1634,1809.6 1637.1,1801.6 1640.2,1792.7 1643.3,1783.5 1646.5,1774.9 1649.6,1767.5 1652.7,1761.8 1655.8,1758.3 1659,1757.3 1662.1,1758.6 1665.2,1762.1 1668.3,1767.5 1671.5,1774.4 1674.6,1782.0 1677.7,1789.8 1680.8,1797.2 1684,1803.5 1687.1,1808.3 1690.2,1811.3 1693.4,1812.2 1696.5,1811.1 1699.6,1808.0 1702.7,1803.4 1705.9,1797.5 1709,1791.0 1712.1,1784.3 1715.2,1778.0 1718.4,1772.6 1721.5,1768.5 1724.6,1766.0 1727.7,1765.2 1730.9,1766.2 1734,1768.8 1737.1,1772.8 1740.2,1777.8 1743.4,1783.3 1746.5,1789.0 1749.6,1794.4 1752.7,1799.0 1755.9,1802.5 1759,1804.7 1762.1,1805.3 1765.2,1804.5 1768.4,1802.3 1771.5,1798.9 1774.6,1794.6 1777.7,1789.8 1780.9,1784.9 1784,1780.3 1787.1,1776.4 1790.2,1773.4 1793.4,1771.6 1796.5,1771.0 1796.5,1774.6 1793.4,1775.1 1790.2,1777.0 1787.1,1779.9 1784,1783.9 1780.9,1788.5 1777.7,1793.3 1774.6,1798.1 1771.5,1802.4 1768.4,1805.8 1765.2,1808.0 1762.1,1808.9 1759,1808.2 1755.9,1806.1 1752.7,1802.5 1749.6,1797.9 1746.5,1792.6 1743.4,1786.9 1740.2,1781.3 1737.1,1776.3 1734,1772.3 1730.9,1769.7 1727.7,1768.7 1724.6,1769.5 1721.5,1772.0 1718.4,1776.1 1715.2,1781.5 1712.1,1787.8 1709,1794.5 1705.9,1801.0 1702.7,1806.8 1699.6,1811.5 1696.5,1814.5 1693.4,1815.7 1690.2,1814.7 1687.1,1811.8 1684,1807.0 1680.8,1800.6 1677.7,1793.3 1674.6,1785.4 1671.5,1777.8 1668.3,1771.0 1665.2,1765.5 1662.1,1762.0 1659,1760.7 1655.8,1761.7 1652.7,1765.2 1649.6,1770.9 1646.5,1778.3 1643.3,1786.9 1640.2,1796.0 1637.1,1805.0 1634,1812.9 1630.8,1819.3 1627.7,1823.4 1624.6,1825.0 1621.5,1823.7 1618.3,1819.6 1615.2,1813.0 1612.1,1804.3 1609,1794.2 1605.8,1783.5 1602.7,1773.0 1599.6,1763.7 1596.5,1756.3 1593.3,1751.4 1590.2,1749.6 1587.1,1751.1 1584,1755.9 1580.8,1763.7 1577.7,1773.8 1574.6,1785.6 1571.4,1798.2 1568.3,1810.4 1565.2,1821.3 1562.1,1830.0 1558.9,1835.6 1555.8,1837.7 1552.7,1835.8 1549.6,1830.2 1546.4,1821.1 1543.3,1809.2 1540.2,1795.4 1537.1,1780.7 1533.9,1766.4 1530.8,1753.6 1527.7,1743.5 1524.6,1736.9 1521.4,1734.5 1518.3,1736.6 1515.2,1743.2 1512.1,1753.8 1508.9,1767.8 1505.8,1783.9 1502.7,1801.1 1499.6,1817.8 1496.4,1832.7 1493.3,1844.6 1490.2,1852.2 1487.1,1855.0 1483.9,1852.5 1480.8,1844.7 1477.7,1832.3 1474.6,1815.9 1471.4,1797.0 1468.3,1776.9 1465.2,1757.3 1462,1739.8 1458.9,1726.0 1455.8,1717.0 1452.7,1713.8 1449.5,1716.7 1446.4,1725.8 1443.3,1740.4 1440.2,1759.5 1437,1781.6 1433.9,1805.1 1430.8,1828.0 1427.7,1848.4 1424.5,1864.5 1421.4,1875.0 1418.3,1878.7 1415.2,1875.2 1412,1864.5 1408.9,1847.4 1405.8,1825.0 1402.7,1799.0 1399.5,1771.5 1396.4,1744.7 1393.3,1720.8 1390.2,1701.9 1387,1689.6 1383.9,1685.3 1380.8,1689.4 1377.7,1701.9 1374.5,1721.9 1371.4,1748.1 1368.3,1778.5 1365.2,1810.6 1362,1841.9 1358.9,1869.8Z"/>
<path d="M1358.9,1868.8 1362,1840.9 1365.2,1809.5 1368.3,1777.3 1371.4,1746.9 1374.5,1720.7 1377.7,1700.6 1380.8,1688.1 1383.9,1684.0 1387,1688.3 1390.2,1700.5 1393.3,1719.4 1396.4,1743.2 1399.5,1770.0 1402.7,1797.5 1405.8,1823.4 1408.9,1845.8 1412,1862.9 1415.2,1873.6 1418.3,1877.0 1421.4,1873.3 1424.5,1862.8 1427.7,1846.7 1430.8,1826.2 1433.9,1803.3 1437,1779.8 1440.2,1757.6 1443.3,1738.5 1446.4,1723.9 1449.5,1714.8 1452.7,1711.8 1455.8,1715.1 1458.9,1724.0 1462,1737.8 1465.2,1755.3 1468.3,1774.9 1471.4,1794.9 1474.6,1813.9 1477.7,1830.2 1480.8,1842.7 1483.9,1850.4 1487.1,1852.9 1490.2,1850.1 1493.3,1842.4 1496.4,1830.6 1499.6,1815.6 1502.7,1798.9 1505.8,1781.7 1508.9,1765.5 1512.1,1751.6 1515.2,1741.0 1518.3,1734.4 1521.4,1732.2 1524.6,1734.6 1527.7,1741.2 1530.8,1751.3 1533.9,1764.1 1537.1,1778.4 1540.2,1793.1 1543.3,1806.9 1546.4,1818.8 1549.6,1827.8 1552.7,1833.5 1555.8,1835.3 1558.9,1833.2 1562.1,1827.5 1565.2,1818.9 1568.3,1807.9 1571.4,1795.7 1574.6,1783.2 1577.7,1771.4 1580.8,1761.2 1584,1753.5 1587.1,1748.7 1590.2,1747.1 1593.3,1748.9 1596.5,1753.7 1599.6,1761.2 1602.7,1770.5 1605.8,1781.0 1609,1791.7 1612.1,1801.7 1615.2,1810.4 1618.3,1817.0 1621.5,1821.1 1624.6,1822.4 1627.7,1820.9 1630.8,1816.7 1634,1810.4 1637.1,1802.4 1640.2,1793.4 1643.3,1784.3 1646.5,1775.7 1649.6,1768.3 1652.7,1762.6 1655.8,1759.1 1659,1758.0 1662.1,1759.4 1665.2,1762.9 1668.3,1768.3 1671.5,1775.2 1674.6,1782.8 1677.7,1790.6 1680.8,1798.0 1684,1804.3 1687.1,1809.1 1690.2,1812.1 1693.4,1813.0 1696.5,1811.9 1699.6,1808.8 1702.7,1804.2 1705.9,1798.3 1709,1791.8 1712.1,1785.1 1715.2,1778.8 1718.4,1773.4 1721.5,1769.3 1724.6,1766.8 1727.7,1766.0 1730.9,1767.0 1734,1769.6 1737.1,1773.6 1740.2,1778.6 1743.4,1784.1 1746.5,1789.9 1749.6,1795.2 1752.7,1799.8 1755.9,1803.3 1759,1805.5 1762.1,1806.2 1765.2,1805.3 1768.4,1803.1 1771.5,1799.7 1774.6,1795.4 1777.7,1790.6 1780.9,1785.7 1784,1781.2 1787.1,1777.2 1790.2,1774.2 1793.4,1772.4 1796.5,1771.8 1796.5,1773.7 1793.4,1774.3 1790.2,1776.1 1787.1,1779.1 1784,1783.1 1780.9,1787.7 1777.7,1792.5 1774.6,1797.3 1771.5,1801.6 1768.4,1805.0 1765.2,1807.2 1762.1,1808.1 1759,1807.4 1755.9,1805.2 1752.7,1801.7 1749.6,1797.1 1746.5,1791.8 1743.4,1786.0 1740.2,1780.5 1737.1,1775.5 1734,1771.5 1730.9,1768.9 1727.7,1767.9 1724.6,1768.7 1721.5,1771.2 1718.4,1775.3 1715.2,1780.7 1712.1,1787.0 1709,1793.7 1705.9,1800.2 1702.7,1806.0 1699.6,1810.7 1696.5,1813.7 1693.4,1814.9 1690.2,1813.9 1687.1,1811.0 1684,1806.2 1680.8,1799.8 1677.7,1792.5 1674.6,1784.7 1671.5,1777.0 1668.3,1770.2 1665.2,1764.7 1662.1,1761.2 1659,1759.9 1655.8,1761.0 1652.7,1764.4 1649.6,1770.1 1646.5,1777.5 1643.3,1786.1 1640.2,1795.2 1637.1,1804.2 1634,1812.2 1630.8,1818.5 1627.7,1822.7 1624.6,1824.2 1621.5,1822.9 1618.3,1818.8 1615.2,1812.2 1612.1,1803.5 1609,1793.4 1605.8,1782.7 1602.7,1772.3 1599.6,1762.9 1596.5,1755.5 1593.3,1750.7 1590.2,1748.9 1587.1,1750.4 1584,1755.2 1580.8,1762.9 1577.7,1773.1 1574.6,1784.9 1571.4,1797.4 1568.3,1809.6 1565.2,1820.6 1562.1,1829.2 1558.9,1834.9 1555.8,1836.9 1552.7,1835.1 1549.6,1829.5 1546.4,1820.4 1543.3,1808.5 1540.2,1794.7 1537.1,1780.0 1533.9,1765.7 1530.8,1752.9 1527.7,1742.8 1524.6,1736.2 1521.4,1733.8 1518.3,1735.9 1515.2,1742.5 1512.1,1753.2 1508.9,1767.1 1505.8,1783.3 1502.7,1800.4 1499.6,1817.2 1496.4,1832.1 1493.3,1843.9 1490.2,1851.6 1487.1,1854.4 1483.9,1851.9 1480.8,1844.1 1477.7,1831.6 1474.6,1815.3 1471.4,1796.4 1468.3,1776.3 1465.2,1756.7 1462,1739.2 1458.9,1725.4 1455.8,1716.4 1452.7,1713.2 1449.5,1716.1 1446.4,1725.2 1443.3,1739.8 1440.2,1758.9 1437,1781.1 1433.9,1804.6 1430.8,1827.5 1427.7,1847.9 1424.5,1864.0 1421.4,1874.5 1418.3,1878.2 1415.2,1874.7 1412,1864.0 1408.9,1846.9 1405.8,1824.5 1402.7,1798.5 1399.5,1771.0 1396.4,1744.2 1393.3,1720.4 1390.2,1701.5 1387,1689.2 1383.9,1684.9 1380.8,1689.0 1377.7,1701.5 1374.5,1721.6 1371.4,1747.8 1368.3,1778.1 1365.2,1810.3 1362,1841.6 1358.9,1869.5Z"/>
</g>
<path d="M1358.9,1703.9 1360.3,1695.1 1361.6,1687.8 1363,1682.3 1364.4,1678.4 1365.7,1676.3 1367.1,1676.0 1368.5,1677.4 1369.8,1680.6 1371.2,1685.4 1372.6,1691.7 1373.9,1699.5 1375.3,1708.5 1376.7,1718.7 1378,1729.8 1379.4,1741.7 1380.8,1754.2 1382.1,1767.1 1383.5,1780.2 1384.9,1793.2 1386.2,1806.0 1387.6,1818.3 1389,1830.1 1390.4,1841.0 1391.7,1851.0 1393.1,1859.9 1394.5,1867.6 1395.8,1874.0 1397.2,1878.9 1398.6,1882.4 1399.9,1884.4 1401.3,1884.9 1402.7,1883.8 1404,1881.3 1405.4,1877.4 1406.8,1872.2 1408.1,1865.7 1409.5,1858.1 1410.9,1849.6 1412.2,1840.1 1413.6,1830.0 1415,1819.4 1416.3,1808.4 1417.7,1797.3 1419.1,1786.1 1420.4,1775.2 1421.8,1764.6 1423.2,1754.5 1424.5,1745.0 1425.9,1736.3 1427.3,1728.6 1428.6,1721.9 1430,1716.3 1431.4,1711.9 1432.7,1708.7 1434.1,1706.9 1435.5,1706.3 1436.8,1707.0 1438.2,1709.0 1439.6,1712.2 1441,1716.5 1442.3,1721.9 1443.7,1728.3 1445.1,1735.5 1446.4,1743.5 1447.8,1752.0 1449.2,1761.1 1450.5,1770.4 1451.9,1779.9 1453.3,1789.4 1454.6,1798.8 1456,1808.0 1457.4,1816.7 1458.7,1824.8 1460.1,1832.3 1461.5,1839.1 1462.8,1844.9 1464.2,1849.8 1465.6,1853.7 1466.9,1856.6 1468.3,1858.3 1469.7,1858.9 1471,1858.5 1472.4,1856.9 1473.8,1854.3 1475.1,1850.8 1476.5,1846.3 1477.9,1840.9 1479.2,1834.8 1480.6,1828.1 1482,1820.9 1483.3,1813.2 1484.7,1805.2 1486.1,1797.1 1487.4,1789.0 1488.8,1780.9 1490.2,1773.1 1491.5,1765.6 1492.9,1758.5 1494.3,1752.0 1495.7,1746.2 1497,1741.1 1498.4,1736.8 1499.8,1733.3 1501.1,1730.8 1502.5,1729.2 1503.9,1728.5 1505.2,1728.8 1506.6,1730.0 1508,1732.1 1509.3,1735.0 1510.7,1738.8 1512.1,1743.2 1513.4,1748.4 1514.8,1754.0 1516.2,1760.2 1517.5,1766.7 1518.9,1773.5 1520.3,1780.4 1521.6,1787.4 1523,1794.3 1524.4,1801.0 1525.7,1807.4 1527.1,1813.5 1528.5,1819.1 1529.8,1824.2 1531.2,1828.7 1532.6,1832.4 1533.9,1835.5 1535.3,1837.8 1536.7,1839.2 1538,1839.9 1539.4,1839.8 1540.8,1838.9 1542.1,1837.2 1543.5,1834.8 1544.9,1831.7 1546.2,1827.9 1547.6,1823.6 1549,1818.8 1550.4,1813.6 1551.7,1808.1 1553.1,1802.3 1554.5,1796.4 1555.8,1790.4 1557.2,1784.5 1558.6,1778.8 1559.9,1773.2 1561.3,1768.0 1562.7,1763.1 1564,1758.7 1565.4,1754.8 1566.8,1751.5 1568.1,1748.8 1569.5,1746.8 1570.9,1745.4 1572.2,1744.8 1573.6,1744.8 1575,1745.5 1576.3,1746.8 1577.7,1748.8 1579.1,1751.4 1580.4,1754.5 1581.8,1758.2 1583.2,1762.2 1584.5,1766.6 1585.9,1771.3 1587.3,1776.2 1588.6,1781.3 1590,1786.4 1591.4,1791.4 1592.7,1796.4 1594.1,1801.1 1595.5,1805.7 1596.8,1809.9 1598.2,1813.7 1599.6,1817.0 1600.9,1819.9 1602.3,1822.3 1603.7,1824.1 1605.1,1825.4 1606.4,1826.0 1607.8,1826.1 1609.2,1825.6 1610.5,1824.5 1611.9,1822.8 1613.3,1820.7 1614.6,1818.1 1616,1815.0 1617.4,1811.6 1618.7,1807.9 1620.1,1803.9 1621.5,1799.7 1622.8,1795.4 1624.2,1791.1 1625.6,1786.8 1626.9,1782.5 1628.3,1778.4 1629.7,1774.5 1631,1770.9 1632.4,1767.6 1633.8,1764.7 1635.1,1762.1 1636.5,1760.0 1637.9,1758.4 1639.2,1757.3 1640.6,1756.7 1642,1756.5 1643.3,1756.9 1644.7,1757.8 1646.1,1759.1 1647.4,1760.9 1648.8,1763.1 1650.2,1765.6 1651.5,1768.5 1652.9,1771.7 1654.3,1775.1 1655.6,1778.6 1657,1782.3 1658.4,1786.0 1659.8,1789.7 1661.1,1793.3 1662.5,1796.8 1663.9,1800.2 1665.2,1803.3 1666.6,1806.2 1668,1808.8 1669.3,1811.0 1670.7,1812.8 1672.1,1814.2 1673.4,1815.3 1674.8,1815.8 1676.2,1816.0 1677.5,1815.7 1678.9,1815.1 1680.3,1814.0 1681.6,1812.5 1683,1810.7 1684.4,1808.5 1685.7,1806.1 1687.1,1803.4 1688.5,1800.6 1689.8,1797.6 1691.2,1794.4 1692.6,1791.3 1693.9,1788.1 1695.3,1785.0 1696.7,1781.9 1698,1779.1 1699.4,1776.4 1700.8,1773.9 1702.1,1771.7 1703.5,1769.7 1704.9,1768.1 1706.2,1766.8 1707.6,1765.9 1709,1765.4 1710.3,1765.2 1711.7,1765.4 1713.1,1765.9 1714.5,1766.8 1715.8,1768.0 1717.2,1769.5 1718.6,1771.3 1719.9,1773.4 1721.3,1775.6 1722.7,1778.0 1724,1780.6 1725.4,1783.3 1726.8,1786.0 1728.1,1788.7 1729.5,1791.3 1730.9,1794.0 1732.2,1796.4 1733.6,1798.8 1735,1800.9 1736.3,1802.8 1737.7,1804.5 1739.1,1805.9 1740.4,1807.1 1741.8,1807.9 1743.2,1808.4 1744.5,1808.6 1745.9,1808.5 1747.3,1808.1 1748.6,1807.4 1750,1806.4 1751.4,1805.1 1752.7,1803.6 1754.1,1801.9 1755.5,1800.0 1756.8,1797.9 1758.2,1795.7 1759.6,1793.5 1760.9,1791.2 1762.3,1788.8 1763.7,1786.6 1765,1784.3 1766.4,1782.2 1767.8,1780.2 1769.2,1778.3 1770.5,1776.6 1771.9,1775.2 1773.3,1773.9 1774.6,1772.9 1776,1772.2 1777.4,1771.7 1778.7,1771.5 1780.1,1771.6 1781.5,1771.9 1782.8,1772.5 1784.2,1773.3 1785.6,1774.3 1786.9,1775.6 1788.3,1777.0 1789.7,1778.7 1791,1780.4 1792.4,1782.2 1793.8,1784.2 1795.1,1786.1 1796.5,1788.1" fill="none" stroke="#1b1f22" stroke-width="2.1" stroke-linejoin="round"/>
<path d="M1358.9,1869.1 1360.3,1857.5 1361.6,1845.0 1363,1831.7 1364.4,1817.9 1365.7,1803.8 1367.1,1789.7 1368.5,1775.8 1369.8,1762.2 1371.2,1749.2 1372.6,1736.9 1373.9,1725.6 1375.3,1715.5 1376.7,1706.6 1378,1699.1 1379.4,1693.0 1380.8,1688.6 1382.1,1685.7 1383.5,1684.5 1384.9,1684.9 1386.2,1686.9 1387.6,1690.5 1389,1695.5 1390.4,1702.0 1391.7,1709.7 1393.1,1718.5 1394.5,1728.3 1395.8,1739.0 1397.2,1750.2 1398.6,1762.0 1399.9,1774.0 1401.3,1786.0 1402.7,1798.0 1404,1809.7 1405.4,1820.9 1406.8,1831.4 1408.1,1841.2 1409.5,1850.0 1410.9,1857.8 1412.2,1864.3 1413.6,1869.7 1415,1873.7 1416.3,1876.3 1417.7,1877.5 1419.1,1877.4 1420.4,1875.8 1421.8,1872.9 1423.2,1868.8 1424.5,1863.4 1425.9,1857.0 1427.3,1849.5 1428.6,1841.3 1430,1832.3 1431.4,1822.7 1432.7,1812.7 1434.1,1802.5 1435.5,1792.2 1436.8,1781.9 1438.2,1771.9 1439.6,1762.3 1441,1753.2 1442.3,1744.7 1443.7,1737.1 1445.1,1730.3 1446.4,1724.6 1447.8,1719.9 1449.2,1716.3 1450.5,1713.9 1451.9,1712.7 1453.3,1712.7 1454.6,1713.8 1456,1716.1 1457.4,1719.5 1458.7,1724.0 1460.1,1729.4 1461.5,1735.6 1462.8,1742.6 1464.2,1750.2 1465.6,1758.4 1466.9,1766.8 1468.3,1775.6 1469.7,1784.4 1471,1793.2 1472.4,1801.8 1473.8,1810.0 1475.1,1817.9 1476.5,1825.2 1477.9,1831.8 1479.2,1837.7 1480.6,1842.7 1482,1846.9 1483.3,1850.1 1484.7,1852.2 1486.1,1853.4 1487.4,1853.6 1488.8,1852.7 1490.2,1850.8 1491.5,1848.1 1492.9,1844.4 1494.3,1839.9 1495.7,1834.6 1497,1828.7 1498.4,1822.3 1499.8,1815.4 1501.1,1808.2 1502.5,1800.7 1503.9,1793.2 1505.2,1785.7 1506.6,1778.3 1508,1771.2 1509.3,1764.4 1510.7,1758.1 1512.1,1752.4 1513.4,1747.3 1514.8,1742.9 1516.2,1739.2 1517.5,1736.4 1518.9,1734.4 1520.3,1733.3 1521.6,1733.0 1523,1733.7 1524.4,1735.1 1525.7,1737.4 1527.1,1740.5 1528.5,1744.2 1529.8,1748.6 1531.2,1753.6 1532.6,1759.1 1533.9,1764.9 1535.3,1771.0 1536.7,1777.4 1538,1783.8 1539.4,1790.2 1540.8,1796.6 1542.1,1802.7 1543.5,1808.5 1544.9,1813.9 1546.2,1818.9 1547.6,1823.4 1549,1827.2 1550.4,1830.4 1551.7,1832.9 1553.1,1834.7 1554.5,1835.8 1555.8,1836.1 1557.2,1835.7 1558.6,1834.5 1559.9,1832.6 1561.3,1830.1 1562.7,1827.0 1564,1823.3 1565.4,1819.1 1566.8,1814.5 1568.1,1809.5 1569.5,1804.3 1570.9,1798.9 1572.2,1793.4 1573.6,1787.9 1575,1782.5 1576.3,1777.2 1577.7,1772.2 1579.1,1767.5 1580.4,1763.2 1581.8,1759.4 1583.2,1756.0 1584.5,1753.2 1585.9,1751.0 1587.3,1749.3 1588.6,1748.4 1590,1748.0 1591.4,1748.3 1592.7,1749.2 1594.1,1750.7 1595.5,1752.8 1596.8,1755.4 1598.2,1758.5 1599.6,1762.0 1600.9,1765.9 1602.3,1770.1 1603.7,1774.6 1605.1,1779.2 1606.4,1783.9 1607.8,1788.6 1609.2,1793.2 1610.5,1797.7 1611.9,1802.0 1613.3,1806.1 1614.6,1809.8 1616,1813.2 1617.4,1816.1 1618.7,1818.6 1620.1,1820.6 1621.5,1822.0 1622.8,1822.9 1624.2,1823.3 1625.6,1823.1 1626.9,1822.4 1628.3,1821.2 1629.7,1819.5 1631,1817.3 1632.4,1814.7 1633.8,1811.7 1635.1,1808.4 1636.5,1804.9 1637.9,1801.1 1639.2,1797.2 1640.6,1793.2 1642,1789.2 1643.3,1785.2 1644.7,1781.3 1646.1,1777.6 1647.4,1774.1 1648.8,1770.9 1650.2,1768.0 1651.5,1765.4 1652.9,1763.2 1654.3,1761.5 1655.6,1760.2 1657,1759.4 1658.4,1759.0 1659.8,1759.1 1661.1,1759.6 1662.5,1760.6 1663.9,1762.0 1665.2,1763.8 1666.6,1766.0 1668,1768.5 1669.3,1771.3 1670.7,1774.3 1672.1,1777.5 1673.4,1780.8 1674.8,1784.2 1676.2,1787.7 1677.5,1791.1 1678.9,1794.4 1680.3,1797.6 1681.6,1800.6 1683,1803.4 1684.4,1805.9 1685.7,1808.2 1687.1,1810.1 1688.5,1811.6 1689.8,1812.8 1691.2,1813.5 1692.6,1813.9 1693.9,1813.9 1695.3,1813.5 1696.7,1812.7 1698,1811.5 1699.4,1810.0 1700.8,1808.2 1702.1,1806.1 1703.5,1803.7 1704.9,1801.2 1706.2,1798.5 1707.6,1795.6 1709,1792.7 1710.3,1789.8 1711.7,1786.9 1713.1,1784.0 1714.5,1781.3 1715.8,1778.7 1717.2,1776.3 1718.6,1774.1 1719.9,1772.1 1721.3,1770.5 1722.7,1769.1 1724,1768.1 1725.4,1767.4 1726.8,1767.0 1728.1,1767.0 1729.5,1767.3 1730.9,1767.9 1732.2,1768.9 1733.6,1770.1 1735,1771.6 1736.3,1773.4 1737.7,1775.4 1739.1,1777.5 1740.4,1779.8 1741.8,1782.3 1743.2,1784.7 1744.5,1787.2 1745.9,1789.7 1747.3,1792.2 1748.6,1794.6 1750,1796.8 1751.4,1798.9 1752.7,1800.8 1754.1,1802.5 1755.5,1803.9 1756.8,1805.1 1758.2,1806.0 1759.6,1806.7 1760.9,1807.0 1762.3,1807.1 1763.7,1806.9 1765,1806.4 1766.4,1805.6 1767.8,1804.5 1769.2,1803.3 1770.5,1801.8 1771.9,1800.1 1773.3,1798.3 1774.6,1796.3 1776,1794.3 1777.4,1792.2 1778.7,1790.0 1780.1,1787.9 1781.5,1785.8 1782.8,1783.8 1784.2,1781.8 1785.6,1780.0 1786.9,1778.4 1788.3,1776.9 1789.7,1775.7 1791,1774.6 1792.4,1773.8 1793.8,1773.2 1795.1,1772.9 1796.5,1772.8" fill="none" stroke="#1b1f22" stroke-width="2.1" stroke-linejoin="round"/>
<line x1="1337.00" y1="1901.80" x2="1818.00" y2="1901.80" stroke="#000" stroke-width="2.1" />
<line x1="1358.90" y1="1901.80" x2="1358.90" y2="1926.40" stroke="#000" stroke-width="2.1" />
<text x="1361.20" y="1954.40" font-size="29" text-anchor="middle" font-weight="normal" font-style="normal" >0</text>
<line x1="1468.30" y1="1901.80" x2="1468.30" y2="1926.40" stroke="#000" stroke-width="2.1" />
<text x="1470.60" y="1954.40" font-size="29" text-anchor="middle" font-weight="normal" font-style="normal" >5</text>
<line x1="1577.70" y1="1901.80" x2="1577.70" y2="1926.40" stroke="#000" stroke-width="2.1" />
<text x="1582.70" y="1954.40" font-size="29" text-anchor="middle" font-weight="normal" font-style="normal" >10</text>
<line x1="1687.10" y1="1901.80" x2="1687.10" y2="1926.40" stroke="#000" stroke-width="2.1" />
<text x="1692.10" y="1954.40" font-size="29" text-anchor="middle" font-weight="normal" font-style="normal" >15</text>
<line x1="1796.50" y1="1901.80" x2="1796.50" y2="1926.40" stroke="#000" stroke-width="2.1" />
<text x="1801.50" y="1954.40" font-size="29" text-anchor="middle" font-weight="normal" font-style="normal" >20</text>
<text x="1583.70" y="1996.60" font-size="29" text-anchor="middle"><tspan font-style="italic">t</tspan> (s)</text>
</g>
</svg>
</body>
</html>
